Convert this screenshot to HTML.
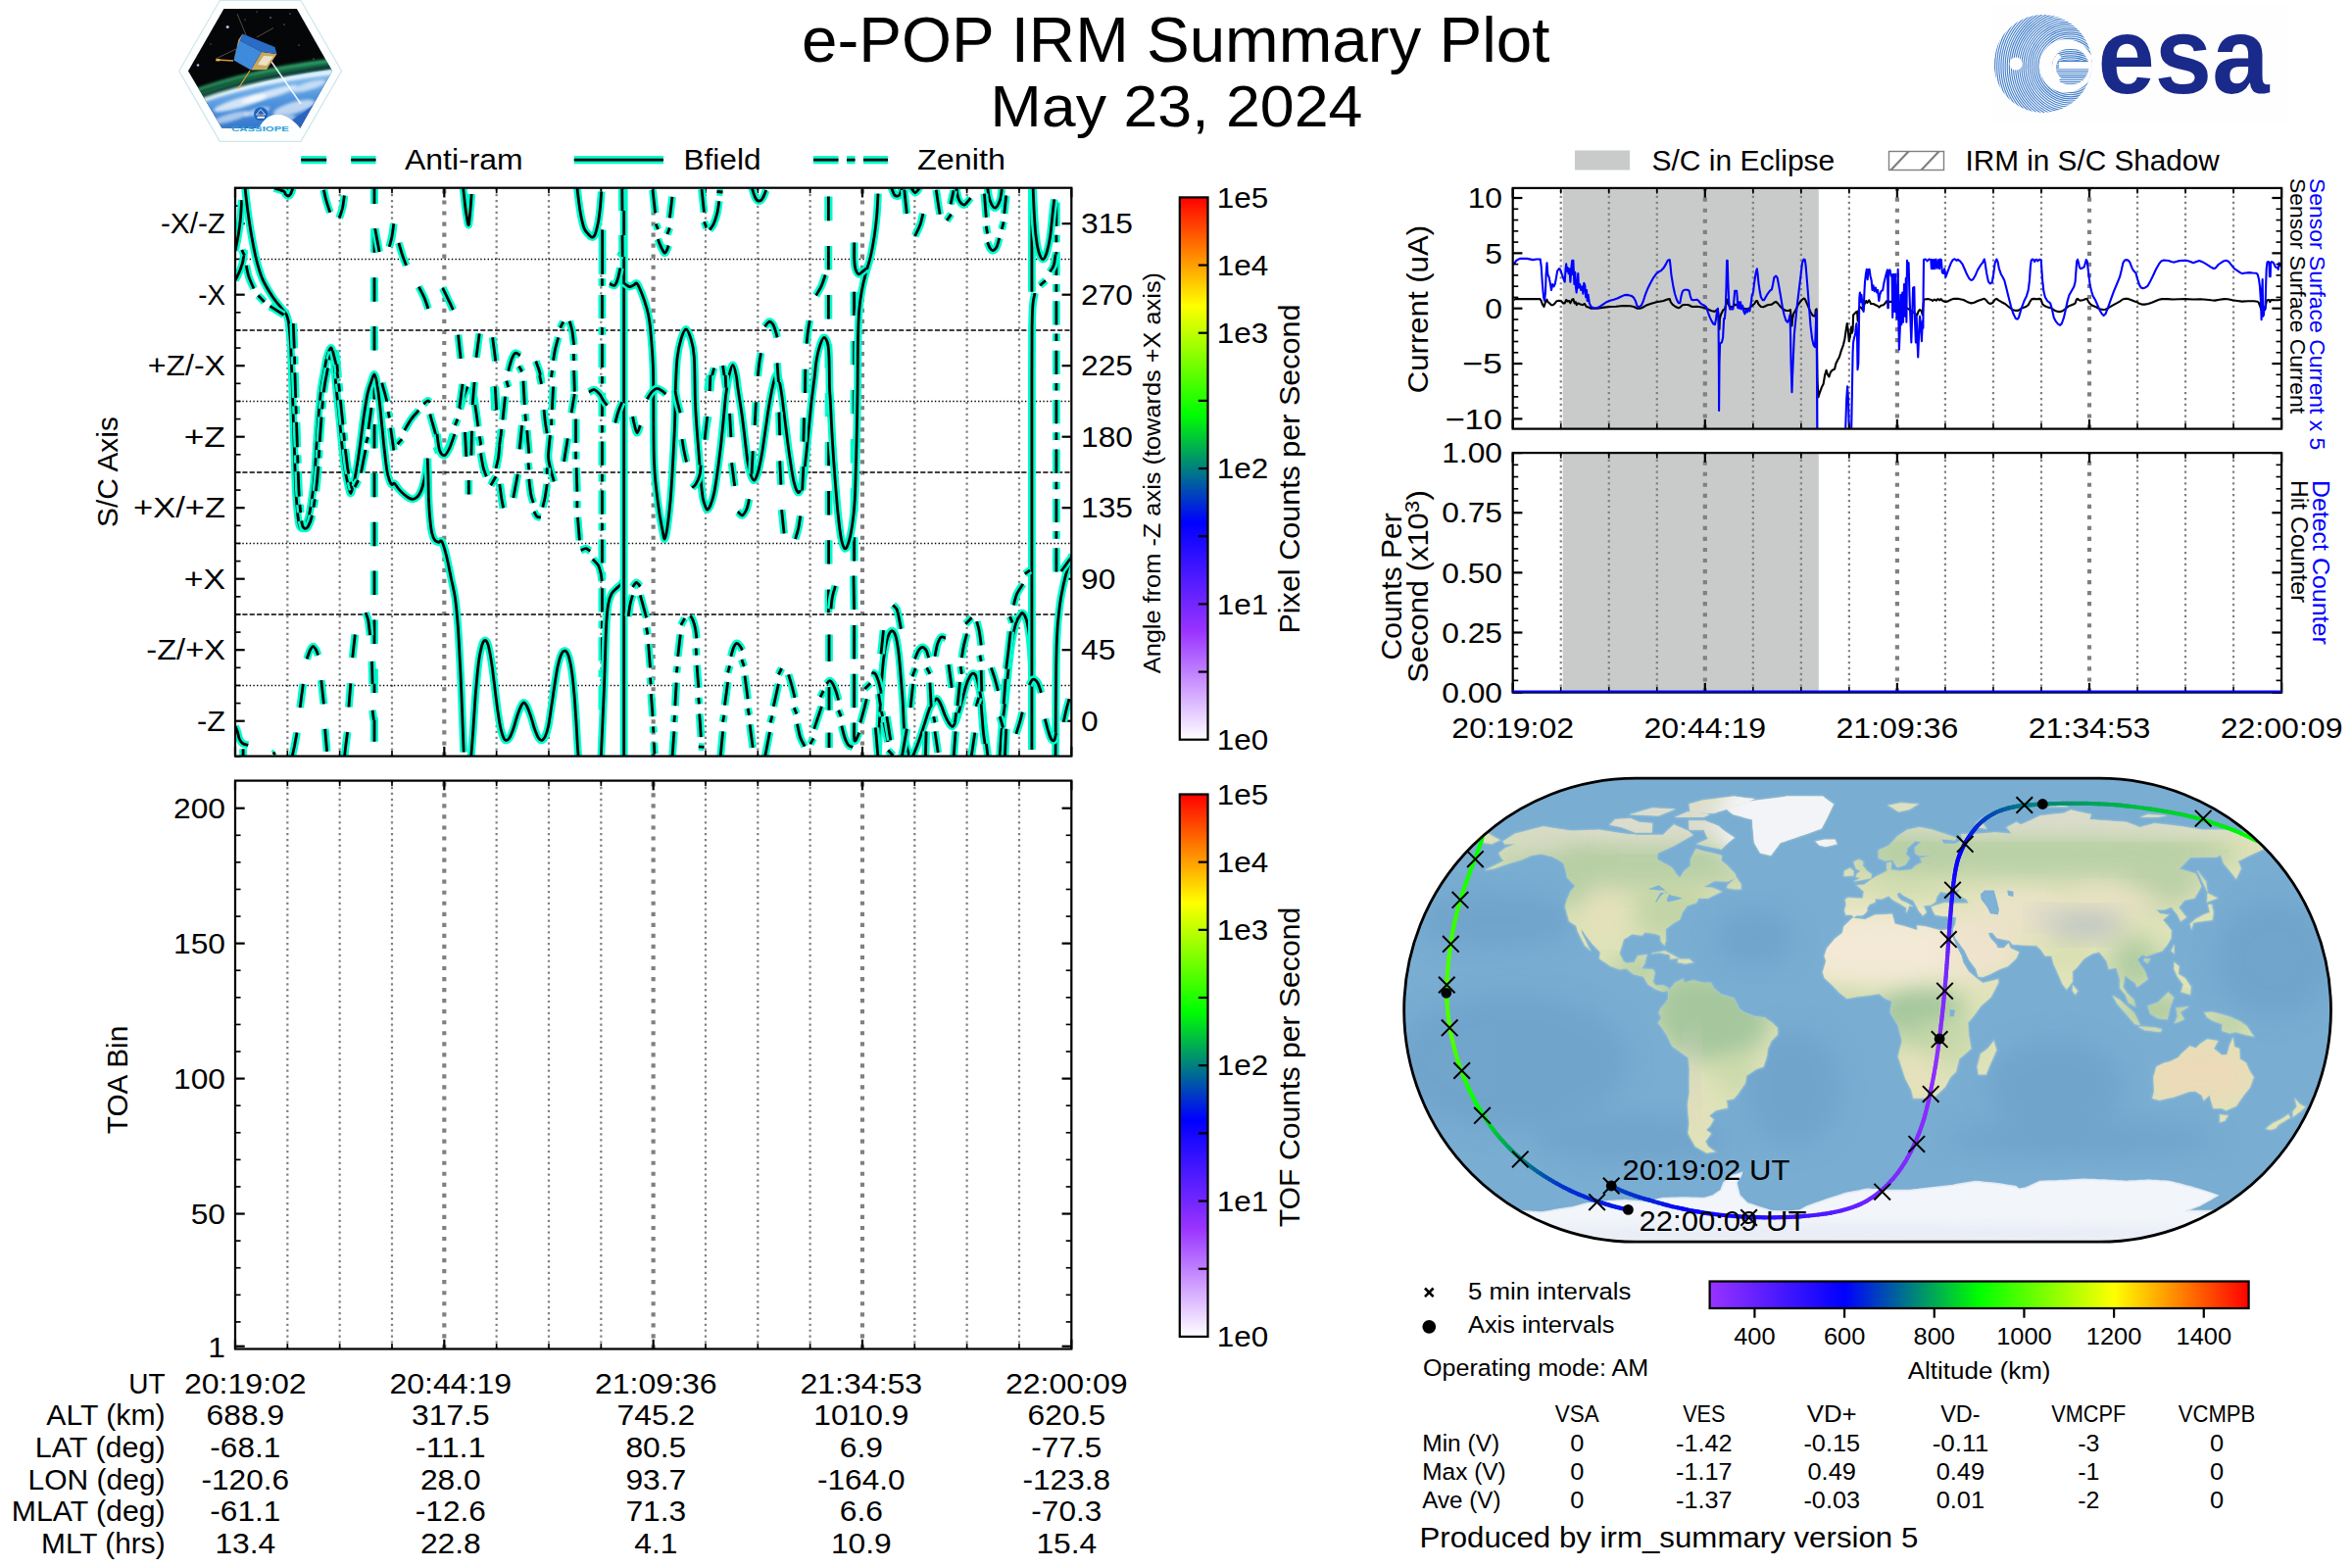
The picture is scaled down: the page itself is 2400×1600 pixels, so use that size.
<!DOCTYPE html>
<html><head><meta charset="utf-8"><title>e-POP IRM Summary Plot</title>
<style>html,body{margin:0;padding:0;background:#fff}svg{display:block}text{font-family:"Liberation Sans",sans-serif;white-space:pre}</style></head>
<body>
<svg width="2400" height="1600" viewBox="0 0 2400 1600">
<rect width="2400" height="1600" fill="#fff"/>
<defs>
<linearGradient id="cbv" x1="0" y1="1" x2="0" y2="0"><stop offset="0" stop-color="#ffffff"/><stop offset="0.2" stop-color="#9933ff"/><stop offset="0.4" stop-color="#0000ff"/><stop offset="0.6" stop-color="#00ff00"/><stop offset="0.8" stop-color="#ffff00"/><stop offset="1.0" stop-color="#ff0000"/></linearGradient>
<linearGradient id="cbh" x1="0" y1="0" x2="1" y2="0"><stop offset="0" stop-color="#9933ff"/><stop offset="0.25" stop-color="#0000ff"/><stop offset="0.5" stop-color="#00ff00"/><stop offset="0.75" stop-color="#ffff00"/><stop offset="1.0" stop-color="#ff0000"/></linearGradient>
</defs>
<text transform="translate(1199.70,62.50)" x="-381.72" y="0" font-size="64.78" textLength="763.43" lengthAdjust="spacingAndGlyphs" fill="#000" >e-POP IRM Summary Plot</text>
<text transform="translate(1200.50,128.60)" x="-189.96" y="0" font-size="58.89" textLength="379.91" lengthAdjust="spacingAndGlyphs" fill="#000" >May 23, 2024</text>
<line x1="293.33" y1="771.60" x2="293.33" y2="191.70" stroke="#808080" stroke-width="2.2222222222222223" stroke-dasharray="2.22 3.67" stroke-linecap="butt" />
<line x1="346.66" y1="771.60" x2="346.66" y2="191.70" stroke="#808080" stroke-width="2.2222222222222223" stroke-dasharray="2.22 3.67" stroke-linecap="butt" />
<line x1="399.99" y1="771.60" x2="399.99" y2="191.70" stroke="#808080" stroke-width="2.2222222222222223" stroke-dasharray="2.22 3.67" stroke-linecap="butt" />
<line x1="453.32" y1="771.60" x2="453.32" y2="191.70" stroke="#808080" stroke-width="4.166666666666666" stroke-dasharray="4.17 6.87" stroke-linecap="butt" />
<line x1="506.66" y1="771.60" x2="506.66" y2="191.70" stroke="#808080" stroke-width="2.2222222222222223" stroke-dasharray="2.22 3.67" stroke-linecap="butt" />
<line x1="559.99" y1="771.60" x2="559.99" y2="191.70" stroke="#808080" stroke-width="2.2222222222222223" stroke-dasharray="2.22 3.67" stroke-linecap="butt" />
<line x1="613.32" y1="771.60" x2="613.32" y2="191.70" stroke="#808080" stroke-width="2.2222222222222223" stroke-dasharray="2.22 3.67" stroke-linecap="butt" />
<line x1="666.65" y1="771.60" x2="666.65" y2="191.70" stroke="#808080" stroke-width="4.166666666666666" stroke-dasharray="4.17 6.87" stroke-linecap="butt" />
<line x1="719.98" y1="771.60" x2="719.98" y2="191.70" stroke="#808080" stroke-width="2.2222222222222223" stroke-dasharray="2.22 3.67" stroke-linecap="butt" />
<line x1="773.31" y1="771.60" x2="773.31" y2="191.70" stroke="#808080" stroke-width="2.2222222222222223" stroke-dasharray="2.22 3.67" stroke-linecap="butt" />
<line x1="826.64" y1="771.60" x2="826.64" y2="191.70" stroke="#808080" stroke-width="2.2222222222222223" stroke-dasharray="2.22 3.67" stroke-linecap="butt" />
<line x1="879.97" y1="771.60" x2="879.97" y2="191.70" stroke="#808080" stroke-width="4.166666666666666" stroke-dasharray="4.17 6.87" stroke-linecap="butt" />
<line x1="933.31" y1="771.60" x2="933.31" y2="191.70" stroke="#808080" stroke-width="2.2222222222222223" stroke-dasharray="2.22 3.67" stroke-linecap="butt" />
<line x1="986.64" y1="771.60" x2="986.64" y2="191.70" stroke="#808080" stroke-width="2.2222222222222223" stroke-dasharray="2.22 3.67" stroke-linecap="butt" />
<line x1="1039.97" y1="771.60" x2="1039.97" y2="191.70" stroke="#808080" stroke-width="2.2222222222222223" stroke-dasharray="2.22 3.67" stroke-linecap="butt" />
<line x1="240.00" y1="264.45" x2="1093.30" y2="264.45" stroke="#000" stroke-width="1.3888888888888888" stroke-dasharray="1.39 2.29" stroke-linecap="butt" />
<line x1="240.00" y1="409.45" x2="1093.30" y2="409.45" stroke="#000" stroke-width="1.3888888888888888" stroke-dasharray="1.39 2.29" stroke-linecap="butt" />
<line x1="240.00" y1="554.45" x2="1093.30" y2="554.45" stroke="#000" stroke-width="1.3888888888888888" stroke-dasharray="1.39 2.29" stroke-linecap="butt" />
<line x1="240.00" y1="699.45" x2="1093.30" y2="699.45" stroke="#000" stroke-width="1.3888888888888888" stroke-dasharray="1.39 2.29" stroke-linecap="butt" />
<line x1="240.00" y1="336.95" x2="1093.30" y2="336.95" stroke="#000" stroke-width="1.3888888888888888" stroke-dasharray="5.14 2.22" stroke-linecap="butt" />
<line x1="240.00" y1="481.95" x2="1093.30" y2="481.95" stroke="#000" stroke-width="1.3888888888888888" stroke-dasharray="5.14 2.22" stroke-linecap="butt" />
<line x1="240.00" y1="626.95" x2="1093.30" y2="626.95" stroke="#000" stroke-width="1.3888888888888888" stroke-dasharray="5.14 2.22" stroke-linecap="butt" />
<line x1="240.00" y1="771.60" x2="240.00" y2="761.88" stroke="#000" stroke-width="2.2222222222222223" stroke-linecap="butt" />
<line x1="240.00" y1="191.70" x2="240.00" y2="201.42" stroke="#000" stroke-width="2.2222222222222223" stroke-linecap="butt" />
<line x1="293.33" y1="771.60" x2="293.33" y2="766.04" stroke="#000" stroke-width="1.6666666666666665" stroke-linecap="butt" />
<line x1="293.33" y1="191.70" x2="293.33" y2="197.26" stroke="#000" stroke-width="1.6666666666666665" stroke-linecap="butt" />
<line x1="346.66" y1="771.60" x2="346.66" y2="766.04" stroke="#000" stroke-width="1.6666666666666665" stroke-linecap="butt" />
<line x1="346.66" y1="191.70" x2="346.66" y2="197.26" stroke="#000" stroke-width="1.6666666666666665" stroke-linecap="butt" />
<line x1="399.99" y1="771.60" x2="399.99" y2="766.04" stroke="#000" stroke-width="1.6666666666666665" stroke-linecap="butt" />
<line x1="399.99" y1="191.70" x2="399.99" y2="197.26" stroke="#000" stroke-width="1.6666666666666665" stroke-linecap="butt" />
<line x1="453.32" y1="771.60" x2="453.32" y2="761.88" stroke="#000" stroke-width="2.2222222222222223" stroke-linecap="butt" />
<line x1="453.32" y1="191.70" x2="453.32" y2="201.42" stroke="#000" stroke-width="2.2222222222222223" stroke-linecap="butt" />
<line x1="506.66" y1="771.60" x2="506.66" y2="766.04" stroke="#000" stroke-width="1.6666666666666665" stroke-linecap="butt" />
<line x1="506.66" y1="191.70" x2="506.66" y2="197.26" stroke="#000" stroke-width="1.6666666666666665" stroke-linecap="butt" />
<line x1="559.99" y1="771.60" x2="559.99" y2="766.04" stroke="#000" stroke-width="1.6666666666666665" stroke-linecap="butt" />
<line x1="559.99" y1="191.70" x2="559.99" y2="197.26" stroke="#000" stroke-width="1.6666666666666665" stroke-linecap="butt" />
<line x1="613.32" y1="771.60" x2="613.32" y2="766.04" stroke="#000" stroke-width="1.6666666666666665" stroke-linecap="butt" />
<line x1="613.32" y1="191.70" x2="613.32" y2="197.26" stroke="#000" stroke-width="1.6666666666666665" stroke-linecap="butt" />
<line x1="666.65" y1="771.60" x2="666.65" y2="761.88" stroke="#000" stroke-width="2.2222222222222223" stroke-linecap="butt" />
<line x1="666.65" y1="191.70" x2="666.65" y2="201.42" stroke="#000" stroke-width="2.2222222222222223" stroke-linecap="butt" />
<line x1="719.98" y1="771.60" x2="719.98" y2="766.04" stroke="#000" stroke-width="1.6666666666666665" stroke-linecap="butt" />
<line x1="719.98" y1="191.70" x2="719.98" y2="197.26" stroke="#000" stroke-width="1.6666666666666665" stroke-linecap="butt" />
<line x1="773.31" y1="771.60" x2="773.31" y2="766.04" stroke="#000" stroke-width="1.6666666666666665" stroke-linecap="butt" />
<line x1="773.31" y1="191.70" x2="773.31" y2="197.26" stroke="#000" stroke-width="1.6666666666666665" stroke-linecap="butt" />
<line x1="826.64" y1="771.60" x2="826.64" y2="766.04" stroke="#000" stroke-width="1.6666666666666665" stroke-linecap="butt" />
<line x1="826.64" y1="191.70" x2="826.64" y2="197.26" stroke="#000" stroke-width="1.6666666666666665" stroke-linecap="butt" />
<line x1="879.97" y1="771.60" x2="879.97" y2="761.88" stroke="#000" stroke-width="2.2222222222222223" stroke-linecap="butt" />
<line x1="879.97" y1="191.70" x2="879.97" y2="201.42" stroke="#000" stroke-width="2.2222222222222223" stroke-linecap="butt" />
<line x1="933.31" y1="771.60" x2="933.31" y2="766.04" stroke="#000" stroke-width="1.6666666666666665" stroke-linecap="butt" />
<line x1="933.31" y1="191.70" x2="933.31" y2="197.26" stroke="#000" stroke-width="1.6666666666666665" stroke-linecap="butt" />
<line x1="986.64" y1="771.60" x2="986.64" y2="766.04" stroke="#000" stroke-width="1.6666666666666665" stroke-linecap="butt" />
<line x1="986.64" y1="191.70" x2="986.64" y2="197.26" stroke="#000" stroke-width="1.6666666666666665" stroke-linecap="butt" />
<line x1="1039.97" y1="771.60" x2="1039.97" y2="766.04" stroke="#000" stroke-width="1.6666666666666665" stroke-linecap="butt" />
<line x1="1039.97" y1="191.70" x2="1039.97" y2="197.26" stroke="#000" stroke-width="1.6666666666666665" stroke-linecap="butt" />
<line x1="1093.30" y1="771.60" x2="1093.30" y2="761.88" stroke="#000" stroke-width="2.2222222222222223" stroke-linecap="butt" />
<line x1="1093.30" y1="191.70" x2="1093.30" y2="201.42" stroke="#000" stroke-width="2.2222222222222223" stroke-linecap="butt" />
<line x1="240.00" y1="735.70" x2="249.72" y2="735.70" stroke="#000" stroke-width="2.2222222222222223" stroke-linecap="butt" />
<line x1="1093.30" y1="735.70" x2="1083.58" y2="735.70" stroke="#000" stroke-width="2.2222222222222223" stroke-linecap="butt" />
<line x1="240.00" y1="663.20" x2="249.72" y2="663.20" stroke="#000" stroke-width="2.2222222222222223" stroke-linecap="butt" />
<line x1="1093.30" y1="663.20" x2="1083.58" y2="663.20" stroke="#000" stroke-width="2.2222222222222223" stroke-linecap="butt" />
<line x1="240.00" y1="590.70" x2="249.72" y2="590.70" stroke="#000" stroke-width="2.2222222222222223" stroke-linecap="butt" />
<line x1="1093.30" y1="590.70" x2="1083.58" y2="590.70" stroke="#000" stroke-width="2.2222222222222223" stroke-linecap="butt" />
<line x1="240.00" y1="518.20" x2="249.72" y2="518.20" stroke="#000" stroke-width="2.2222222222222223" stroke-linecap="butt" />
<line x1="1093.30" y1="518.20" x2="1083.58" y2="518.20" stroke="#000" stroke-width="2.2222222222222223" stroke-linecap="butt" />
<line x1="240.00" y1="445.70" x2="249.72" y2="445.70" stroke="#000" stroke-width="2.2222222222222223" stroke-linecap="butt" />
<line x1="1093.30" y1="445.70" x2="1083.58" y2="445.70" stroke="#000" stroke-width="2.2222222222222223" stroke-linecap="butt" />
<line x1="240.00" y1="373.20" x2="249.72" y2="373.20" stroke="#000" stroke-width="2.2222222222222223" stroke-linecap="butt" />
<line x1="1093.30" y1="373.20" x2="1083.58" y2="373.20" stroke="#000" stroke-width="2.2222222222222223" stroke-linecap="butt" />
<line x1="240.00" y1="300.70" x2="249.72" y2="300.70" stroke="#000" stroke-width="2.2222222222222223" stroke-linecap="butt" />
<line x1="1093.30" y1="300.70" x2="1083.58" y2="300.70" stroke="#000" stroke-width="2.2222222222222223" stroke-linecap="butt" />
<line x1="240.00" y1="228.20" x2="249.72" y2="228.20" stroke="#000" stroke-width="2.2222222222222223" stroke-linecap="butt" />
<line x1="1093.30" y1="228.20" x2="1083.58" y2="228.20" stroke="#000" stroke-width="2.2222222222222223" stroke-linecap="butt" />
<line x1="240.00" y1="771.95" x2="245.56" y2="771.95" stroke="#000" stroke-width="1.6666666666666665" stroke-linecap="butt" />
<line x1="240.00" y1="753.82" x2="245.56" y2="753.82" stroke="#000" stroke-width="1.6666666666666665" stroke-linecap="butt" />
<line x1="240.00" y1="717.58" x2="245.56" y2="717.58" stroke="#000" stroke-width="1.6666666666666665" stroke-linecap="butt" />
<line x1="240.00" y1="699.45" x2="245.56" y2="699.45" stroke="#000" stroke-width="1.6666666666666665" stroke-linecap="butt" />
<line x1="240.00" y1="681.33" x2="245.56" y2="681.33" stroke="#000" stroke-width="1.6666666666666665" stroke-linecap="butt" />
<line x1="240.00" y1="645.08" x2="245.56" y2="645.08" stroke="#000" stroke-width="1.6666666666666665" stroke-linecap="butt" />
<line x1="240.00" y1="626.95" x2="245.56" y2="626.95" stroke="#000" stroke-width="1.6666666666666665" stroke-linecap="butt" />
<line x1="240.00" y1="608.83" x2="245.56" y2="608.83" stroke="#000" stroke-width="1.6666666666666665" stroke-linecap="butt" />
<line x1="240.00" y1="572.58" x2="245.56" y2="572.58" stroke="#000" stroke-width="1.6666666666666665" stroke-linecap="butt" />
<line x1="240.00" y1="554.45" x2="245.56" y2="554.45" stroke="#000" stroke-width="1.6666666666666665" stroke-linecap="butt" />
<line x1="240.00" y1="536.33" x2="245.56" y2="536.33" stroke="#000" stroke-width="1.6666666666666665" stroke-linecap="butt" />
<line x1="240.00" y1="500.08" x2="245.56" y2="500.08" stroke="#000" stroke-width="1.6666666666666665" stroke-linecap="butt" />
<line x1="240.00" y1="481.95" x2="245.56" y2="481.95" stroke="#000" stroke-width="1.6666666666666665" stroke-linecap="butt" />
<line x1="240.00" y1="463.83" x2="245.56" y2="463.83" stroke="#000" stroke-width="1.6666666666666665" stroke-linecap="butt" />
<line x1="240.00" y1="427.58" x2="245.56" y2="427.58" stroke="#000" stroke-width="1.6666666666666665" stroke-linecap="butt" />
<line x1="240.00" y1="409.45" x2="245.56" y2="409.45" stroke="#000" stroke-width="1.6666666666666665" stroke-linecap="butt" />
<line x1="240.00" y1="391.33" x2="245.56" y2="391.33" stroke="#000" stroke-width="1.6666666666666665" stroke-linecap="butt" />
<line x1="240.00" y1="355.08" x2="245.56" y2="355.08" stroke="#000" stroke-width="1.6666666666666665" stroke-linecap="butt" />
<line x1="240.00" y1="336.95" x2="245.56" y2="336.95" stroke="#000" stroke-width="1.6666666666666665" stroke-linecap="butt" />
<line x1="240.00" y1="318.83" x2="245.56" y2="318.83" stroke="#000" stroke-width="1.6666666666666665" stroke-linecap="butt" />
<line x1="240.00" y1="282.58" x2="245.56" y2="282.58" stroke="#000" stroke-width="1.6666666666666665" stroke-linecap="butt" />
<line x1="240.00" y1="264.45" x2="245.56" y2="264.45" stroke="#000" stroke-width="1.6666666666666665" stroke-linecap="butt" />
<line x1="240.00" y1="246.33" x2="245.56" y2="246.33" stroke="#000" stroke-width="1.6666666666666665" stroke-linecap="butt" />
<line x1="240.00" y1="210.08" x2="245.56" y2="210.08" stroke="#000" stroke-width="1.6666666666666665" stroke-linecap="butt" />
<line x1="240.00" y1="191.95" x2="245.56" y2="191.95" stroke="#000" stroke-width="1.6666666666666665" stroke-linecap="butt" />
<clipPath id="ax1clip"><rect x="240.0" y="191.7" width="853.3" height="579.9000000000001"/></clipPath>
<g clip-path="url(#ax1clip)" fill="none" stroke-linejoin="round">
<path d="M382.0,191.0 L382.0,207.9 M382.0,233.3 L382.0,257.8 M382.0,283.2 L382.0,307.7 M382.0,333.1 L382.0,357.6 M382.0,383.0 L382.0,407.5 M382.0,432.9 L382.0,457.4 M382.0,482.8 L382.0,507.3 M382.0,532.7 L382.0,557.2 M382.0,582.6 L382.0,607.1 M382.0,632.5 L382.0,657.0 M382.0,682.4 L382.0,706.9 M382.0,732.3 L382.0,756.8" stroke="#00fccd" stroke-width="7.8" stroke-linecap="butt"/>
<path d="M382.0,191.0 L382.0,207.9 M382.0,233.3 L382.0,257.8 M382.0,283.2 L382.0,307.7 M382.0,333.1 L382.0,357.6 M382.0,383.0 L382.0,407.5 M382.0,432.9 L382.0,457.4 M382.0,482.8 L382.0,507.3 M382.0,532.7 L382.0,557.2 M382.0,582.6 L382.0,607.1 M382.0,632.5 L382.0,657.0 M382.0,682.4 L382.0,706.9 M382.0,732.3 L382.0,756.8" stroke="#000" stroke-width="2.8" stroke-linecap="butt"/>
<path d="M845.4,200.9 L845.4,225.2 M845.4,251.0 L845.4,275.3 M845.4,301.1 L845.4,325.4 M845.4,351.2 L845.4,375.5" stroke="#00fccd" stroke-width="7.8" stroke-linecap="butt"/>
<path d="M845.4,200.9 L845.4,225.2 M845.4,251.0 L845.4,275.3 M845.4,301.1 L845.4,325.4 M845.4,351.2 L845.4,375.5" stroke="#000" stroke-width="2.8" stroke-linecap="butt"/>
<path d="M845.6,400.9 L845.6,425.2 M845.6,451.0 L845.6,475.3 M845.6,501.1 L845.6,525.4 M845.6,551.2 L845.6,575.5" stroke="#00fccd" stroke-width="7.8" stroke-linecap="butt"/>
<path d="M845.6,400.9 L845.6,425.2 M845.6,451.0 L845.6,475.3 M845.6,501.1 L845.6,525.4 M845.6,551.2 L845.6,575.5" stroke="#000" stroke-width="2.8" stroke-linecap="butt"/>
<path d="M871.6,297.8 L871.6,322.1 M871.6,347.9 L871.6,372.2 M871.6,398.0 L871.6,422.3 M871.6,448.1 L871.6,472.4 M871.6,498.2 L871.6,522.5 M871.6,548.3 L871.6,572.6" stroke="#00fccd" stroke-width="7.8" stroke-linecap="butt"/>
<path d="M871.6,297.8 L871.6,322.1 M871.6,347.9 L871.6,372.2 M871.6,398.0 L871.6,422.3 M871.6,448.1 L871.6,472.4 M871.6,498.2 L871.6,522.5 M871.6,548.3 L871.6,572.6" stroke="#000" stroke-width="2.8" stroke-linecap="butt"/>
<path d="M614.4,284.2 L614.4,291.8 M614.4,300.9 L614.4,325.1 M614.4,334.1 L614.4,341.7 M614.4,350.8 L614.4,375.0 M614.4,384.0 L614.4,391.6 M614.4,400.7 L614.4,424.9 M614.4,433.9 L614.4,441.5 M614.4,450.6 L614.4,474.8 M614.4,483.8 L614.4,491.4 M614.4,500.5 L614.4,524.7 M614.4,533.7 L614.4,541.3 M614.4,550.4 L614.4,574.6 M614.4,583.6 L614.4,591.2 M614.4,600.3 L614.4,624.5 M614.4,633.5 L614.4,641.1 M614.4,650.2 L614.4,674.4 M614.4,683.4 L614.4,691.0 M614.4,700.1 L614.4,724.3" stroke="#00fccd" stroke-width="7.8" stroke-linecap="butt"/>
<path d="M614.4,284.2 L614.4,291.8 M614.4,300.9 L614.4,325.1 M614.4,334.1 L614.4,341.7 M614.4,350.8 L614.4,375.0 M614.4,384.0 L614.4,391.6 M614.4,400.7 L614.4,424.9 M614.4,433.9 L614.4,441.5 M614.4,450.6 L614.4,474.8 M614.4,483.8 L614.4,491.4 M614.4,500.5 L614.4,524.7 M614.4,533.7 L614.4,541.3 M614.4,550.4 L614.4,574.6 M614.4,583.6 L614.4,591.2 M614.4,600.3 L614.4,624.5 M614.4,633.5 L614.4,641.1 M614.4,650.2 L614.4,674.4 M614.4,683.4 L614.4,691.0 M614.4,700.1 L614.4,724.3" stroke="#000" stroke-width="2.8" stroke-linecap="butt"/>
<path d="M1077.9,206.5 L1077.9,230.7 M1077.9,239.7 L1077.9,247.3 M1077.9,256.9 L1077.9,281.1 M1077.9,290.1 L1077.9,297.7 M1077.9,307.3 L1077.9,331.5 M1077.9,340.5 L1077.9,348.1 M1077.9,357.7 L1077.9,381.9 M1077.9,390.9 L1077.9,398.5 M1077.9,408.1 L1077.9,432.3 M1077.9,441.3 L1077.9,448.9 M1077.9,458.5 L1077.9,482.7 M1077.9,491.7 L1077.9,499.3 M1077.9,508.9 L1077.9,533.1 M1077.9,542.1 L1077.9,549.7 M1077.9,559.3 L1077.9,583.5" stroke="#00fccd" stroke-width="7.8" stroke-linecap="butt"/>
<path d="M1077.9,206.5 L1077.9,230.7 M1077.9,239.7 L1077.9,247.3 M1077.9,256.9 L1077.9,281.1 M1077.9,290.1 L1077.9,297.7 M1077.9,307.3 L1077.9,331.5 M1077.9,340.5 L1077.9,348.1 M1077.9,357.7 L1077.9,381.9 M1077.9,390.9 L1077.9,398.5 M1077.9,408.1 L1077.9,432.3 M1077.9,441.3 L1077.9,448.9 M1077.9,458.5 L1077.9,482.7 M1077.9,491.7 L1077.9,499.3 M1077.9,508.9 L1077.9,533.1 M1077.9,542.1 L1077.9,549.7 M1077.9,559.3 L1077.9,583.5" stroke="#000" stroke-width="2.8" stroke-linecap="butt"/>
<path d="M240.0,286.0 C240.7,284.7 242.8,280.7 244.0,278.0 C245.2,275.3 246.2,272.7 247.0,270.0 C247.8,267.3 248.3,264.5 248.6,262.0 C248.9,259.5 248.9,256.2 249.0,255.0" stroke="#00fccd" stroke-width="7.8" stroke-linecap="butt"/>
<path d="M240.0,286.0 C240.7,284.7 242.8,280.7 244.0,278.0 C245.2,275.3 246.2,272.7 247.0,270.0 C247.8,267.3 248.3,264.5 248.6,262.0 C248.9,259.5 248.9,256.2 249.0,255.0" stroke="#000" stroke-width="2.8" stroke-linecap="butt"/>
<path d="M240.0,256.0 C240.6,253.0 242.6,243.7 243.5,238.0 C244.4,232.3 245.0,227.7 245.5,222.0 C246.0,216.3 246.5,207.0 246.7,204.0" stroke="#00fccd" stroke-width="7.8" stroke-linecap="butt"/>
<path d="M240.0,256.0 C240.6,253.0 242.6,243.7 243.5,238.0 C244.4,232.3 245.0,227.7 245.5,222.0 C246.0,216.3 246.5,207.0 246.7,204.0" stroke="#000" stroke-width="2.8" stroke-linecap="butt"/>
<path d="M250.0,191.0 C250.4,194.8 251.5,205.5 252.6,213.5 C253.7,221.5 254.9,230.5 256.4,239.0 C257.9,247.5 259.6,256.9 261.5,264.5 C263.4,272.1 265.1,278.5 267.9,284.9 C270.7,291.3 274.9,297.9 278.1,302.8 C281.3,307.7 284.7,311.3 287.0,314.3 C289.3,317.3 290.9,318.4 292.1,320.7 C293.3,323.0 293.8,325.6 294.4,328.3 C294.9,331.1 295.0,332.9 295.4,337.2 C295.8,341.4 296.3,346.2 296.7,353.8 C297.1,361.4 297.5,371.8 297.9,383.0 C298.3,394.2 298.7,408.6 299.1,421.3 C299.5,434.1 300.0,446.8 300.4,459.5 C300.8,472.2 301.2,487.2 301.7,497.8 C302.2,508.4 303.0,516.9 303.6,523.3 C304.2,529.7 304.8,533.4 305.5,536.1 C306.2,538.8 307.1,539.1 308.1,539.3 C309.1,539.5 310.1,539.3 311.3,537.3 C312.5,535.3 313.8,532.6 315.1,527.1 C316.4,521.6 317.8,512.3 318.9,504.2 C320.0,496.1 320.8,488.3 321.5,478.7 C322.2,469.1 322.8,456.4 323.4,446.8 C324.0,437.2 324.6,429.8 325.3,421.3 C326.0,412.8 326.9,403.0 327.8,395.8 C328.8,388.6 330.0,383.5 331.0,378.0 C332.0,372.5 332.8,366.8 334.0,363.0 C335.2,359.2 336.9,354.5 338.0,355.0 C339.1,355.5 339.9,361.3 340.5,366.0 C341.1,370.7 341.2,375.9 341.9,383.0 C342.5,390.1 343.5,400.0 344.4,408.5 C345.2,417.0 346.1,425.5 347.0,434.0 C347.9,442.5 348.6,451.9 349.5,459.5 C350.4,467.1 351.1,473.9 352.1,479.9 C353.1,485.8 354.4,491.3 355.3,495.2 C356.2,499.1 357.0,503.5 357.8,503.5 C358.6,503.5 359.4,499.1 360.4,495.2 C361.4,491.3 362.4,486.7 363.6,479.9 C364.8,473.1 366.1,463.5 367.4,454.4 C368.7,445.3 369.9,433.8 371.2,425.1 C372.5,416.4 373.7,408.1 375.0,402.1 C376.3,396.2 377.7,392.8 378.9,389.4 C380.1,386.0 381.1,381.8 382.0,382.0 C382.9,382.2 383.8,386.3 384.6,390.7 C385.5,395.1 386.2,401.3 387.1,408.5 C388.0,415.7 388.8,425.5 389.7,434.0 C390.6,442.5 391.4,451.9 392.3,459.5 C393.2,467.1 394.0,474.8 394.8,479.9 C395.6,485.0 396.5,487.7 397.4,490.1 C398.2,492.6 399.0,494.1 399.9,494.6 C400.8,495.1 401.3,492.6 402.5,493.3 C403.7,494.1 405.3,497.3 406.9,499.1 C408.5,500.9 410.3,502.7 412.0,504.2 C413.7,505.7 415.5,507.1 417.1,508.0 C418.7,508.9 420.1,509.5 421.6,509.3 C423.1,509.1 424.7,508.2 426.1,506.7 C427.5,505.2 428.7,503.3 429.9,500.3 C431.1,497.3 432.2,492.7 433.1,488.9 C434.0,485.1 434.5,480.9 435.0,477.4 C435.5,473.9 436.1,469.4 436.3,467.8" stroke="#00fccd" stroke-width="7.8" stroke-linecap="butt"/>
<path d="M250.0,191.0 C250.4,194.8 251.5,205.5 252.6,213.5 C253.7,221.5 254.9,230.5 256.4,239.0 C257.9,247.5 259.6,256.9 261.5,264.5 C263.4,272.1 265.1,278.5 267.9,284.9 C270.7,291.3 274.9,297.9 278.1,302.8 C281.3,307.7 284.7,311.3 287.0,314.3 C289.3,317.3 290.9,318.4 292.1,320.7 C293.3,323.0 293.8,325.6 294.4,328.3 C294.9,331.1 295.0,332.9 295.4,337.2 C295.8,341.4 296.3,346.2 296.7,353.8 C297.1,361.4 297.5,371.8 297.9,383.0 C298.3,394.2 298.7,408.6 299.1,421.3 C299.5,434.1 300.0,446.8 300.4,459.5 C300.8,472.2 301.2,487.2 301.7,497.8 C302.2,508.4 303.0,516.9 303.6,523.3 C304.2,529.7 304.8,533.4 305.5,536.1 C306.2,538.8 307.1,539.1 308.1,539.3 C309.1,539.5 310.1,539.3 311.3,537.3 C312.5,535.3 313.8,532.6 315.1,527.1 C316.4,521.6 317.8,512.3 318.9,504.2 C320.0,496.1 320.8,488.3 321.5,478.7 C322.2,469.1 322.8,456.4 323.4,446.8 C324.0,437.2 324.6,429.8 325.3,421.3 C326.0,412.8 326.9,403.0 327.8,395.8 C328.8,388.6 330.0,383.5 331.0,378.0 C332.0,372.5 332.8,366.8 334.0,363.0 C335.2,359.2 336.9,354.5 338.0,355.0 C339.1,355.5 339.9,361.3 340.5,366.0 C341.1,370.7 341.2,375.9 341.9,383.0 C342.5,390.1 343.5,400.0 344.4,408.5 C345.2,417.0 346.1,425.5 347.0,434.0 C347.9,442.5 348.6,451.9 349.5,459.5 C350.4,467.1 351.1,473.9 352.1,479.9 C353.1,485.8 354.4,491.3 355.3,495.2 C356.2,499.1 357.0,503.5 357.8,503.5 C358.6,503.5 359.4,499.1 360.4,495.2 C361.4,491.3 362.4,486.7 363.6,479.9 C364.8,473.1 366.1,463.5 367.4,454.4 C368.7,445.3 369.9,433.8 371.2,425.1 C372.5,416.4 373.7,408.1 375.0,402.1 C376.3,396.2 377.7,392.8 378.9,389.4 C380.1,386.0 381.1,381.8 382.0,382.0 C382.9,382.2 383.8,386.3 384.6,390.7 C385.5,395.1 386.2,401.3 387.1,408.5 C388.0,415.7 388.8,425.5 389.7,434.0 C390.6,442.5 391.4,451.9 392.3,459.5 C393.2,467.1 394.0,474.8 394.8,479.9 C395.6,485.0 396.5,487.7 397.4,490.1 C398.2,492.6 399.0,494.1 399.9,494.6 C400.8,495.1 401.3,492.6 402.5,493.3 C403.7,494.1 405.3,497.3 406.9,499.1 C408.5,500.9 410.3,502.7 412.0,504.2 C413.7,505.7 415.5,507.1 417.1,508.0 C418.7,508.9 420.1,509.5 421.6,509.3 C423.1,509.1 424.7,508.2 426.1,506.7 C427.5,505.2 428.7,503.3 429.9,500.3 C431.1,497.3 432.2,492.7 433.1,488.9 C434.0,485.1 434.5,480.9 435.0,477.4 C435.5,473.9 436.1,469.4 436.3,467.8" stroke="#000" stroke-width="2.8" stroke-linecap="butt"/>
<path d="M436.3,467.8 C436.4,470.7 436.7,477.9 436.9,485.0 C437.1,492.1 437.2,503.2 437.5,510.6 C437.8,518.1 438.3,524.2 438.8,529.7 C439.3,535.2 439.9,540.1 440.7,543.7 C441.5,547.3 442.7,549.8 443.9,551.4 C445.1,553.0 446.5,553.1 447.7,553.3 C448.9,553.5 449.6,550.4 450.9,552.6 C452.2,554.8 453.8,560.3 455.4,566.7 C457.0,573.1 459.0,583.6 460.5,590.8 C462.0,598.0 463.3,602.5 464.4,609.9 C465.5,617.3 466.2,625.8 467.0,635.4 C467.8,645.0 468.3,655.6 468.9,667.3 C469.5,679.0 470.3,693.9 470.8,705.6 C471.3,717.3 471.6,727.1 472.0,737.4 C472.4,747.7 473.0,762.5 473.2,767.5" stroke="#00fccd" stroke-width="7.8" stroke-linecap="butt"/>
<path d="M436.3,467.8 C436.4,470.7 436.7,477.9 436.9,485.0 C437.1,492.1 437.2,503.2 437.5,510.6 C437.8,518.1 438.3,524.2 438.8,529.7 C439.3,535.2 439.9,540.1 440.7,543.7 C441.5,547.3 442.7,549.8 443.9,551.4 C445.1,553.0 446.5,553.1 447.7,553.3 C448.9,553.5 449.6,550.4 450.9,552.6 C452.2,554.8 453.8,560.3 455.4,566.7 C457.0,573.1 459.0,583.6 460.5,590.8 C462.0,598.0 463.3,602.5 464.4,609.9 C465.5,617.3 466.2,625.8 467.0,635.4 C467.8,645.0 468.3,655.6 468.9,667.3 C469.5,679.0 470.3,693.9 470.8,705.6 C471.3,717.3 471.6,727.1 472.0,737.4 C472.4,747.7 473.0,762.5 473.2,767.5" stroke="#000" stroke-width="2.8" stroke-linecap="butt"/>
<path d="M480.7,773.0 C481.1,768.1 482.1,755.0 482.9,743.8 C483.7,732.6 484.5,717.3 485.5,705.6 C486.5,693.9 487.6,681.6 488.7,673.7 C489.8,665.8 490.8,661.8 491.8,658.4 C492.9,655.0 493.9,653.5 495.0,653.5 C496.1,653.5 497.1,654.8 498.2,658.4 C499.3,662.0 500.3,668.1 501.4,674.9 C502.5,681.7 503.5,690.9 504.6,699.2 C505.7,707.5 506.7,717.3 507.8,724.7 C508.9,732.1 509.9,739.0 511.0,743.8 C512.1,748.6 513.2,751.7 514.2,753.6 C515.2,755.5 515.8,755.5 516.8,755.4 C517.8,755.2 518.8,754.6 520.0,752.7 C521.2,750.8 522.5,747.4 523.8,743.8 C525.1,740.2 526.3,734.9 527.6,731.1 C528.9,727.3 530.3,723.2 531.5,720.9 C532.7,718.5 533.6,717.0 534.6,717.0 C535.6,717.0 536.6,718.5 537.8,720.9 C539.0,723.2 540.4,727.3 541.7,731.1 C543.0,734.9 544.2,740.2 545.5,743.8 C546.8,747.4 548.1,750.8 549.3,752.7 C550.5,754.6 551.7,755.5 552.9,755.3 C554.1,755.1 555.2,753.8 556.3,751.5 C557.4,749.2 558.4,746.4 559.5,741.3 C560.6,736.2 561.6,727.9 562.7,720.9 C563.8,713.9 564.8,706.0 565.9,699.2 C567.0,692.4 567.9,685.3 569.1,680.0 C570.3,674.7 571.6,669.9 572.9,667.3 C574.2,664.6 575.5,663.9 576.7,664.1 C577.9,664.3 578.8,665.5 579.9,668.6 C581.0,671.7 582.1,676.4 583.1,682.6 C584.1,688.8 585.0,697.5 585.7,705.6 C586.5,713.7 587.0,722.6 587.6,731.1 C588.2,739.6 588.7,749.6 589.1,756.6 C589.5,763.6 590.0,770.3 590.2,773.0" stroke="#00fccd" stroke-width="7.8" stroke-linecap="butt"/>
<path d="M480.7,773.0 C481.1,768.1 482.1,755.0 482.9,743.8 C483.7,732.6 484.5,717.3 485.5,705.6 C486.5,693.9 487.6,681.6 488.7,673.7 C489.8,665.8 490.8,661.8 491.8,658.4 C492.9,655.0 493.9,653.5 495.0,653.5 C496.1,653.5 497.1,654.8 498.2,658.4 C499.3,662.0 500.3,668.1 501.4,674.9 C502.5,681.7 503.5,690.9 504.6,699.2 C505.7,707.5 506.7,717.3 507.8,724.7 C508.9,732.1 509.9,739.0 511.0,743.8 C512.1,748.6 513.2,751.7 514.2,753.6 C515.2,755.5 515.8,755.5 516.8,755.4 C517.8,755.2 518.8,754.6 520.0,752.7 C521.2,750.8 522.5,747.4 523.8,743.8 C525.1,740.2 526.3,734.9 527.6,731.1 C528.9,727.3 530.3,723.2 531.5,720.9 C532.7,718.5 533.6,717.0 534.6,717.0 C535.6,717.0 536.6,718.5 537.8,720.9 C539.0,723.2 540.4,727.3 541.7,731.1 C543.0,734.9 544.2,740.2 545.5,743.8 C546.8,747.4 548.1,750.8 549.3,752.7 C550.5,754.6 551.7,755.5 552.9,755.3 C554.1,755.1 555.2,753.8 556.3,751.5 C557.4,749.2 558.4,746.4 559.5,741.3 C560.6,736.2 561.6,727.9 562.7,720.9 C563.8,713.9 564.8,706.0 565.9,699.2 C567.0,692.4 567.9,685.3 569.1,680.0 C570.3,674.7 571.6,669.9 572.9,667.3 C574.2,664.6 575.5,663.9 576.7,664.1 C577.9,664.3 578.8,665.5 579.9,668.6 C581.0,671.7 582.1,676.4 583.1,682.6 C584.1,688.8 585.0,697.5 585.7,705.6 C586.5,713.7 587.0,722.6 587.6,731.1 C588.2,739.6 588.7,749.6 589.1,756.6 C589.5,763.6 590.0,770.3 590.2,773.0" stroke="#000" stroke-width="2.8" stroke-linecap="butt"/>
<path d="M280.0,192.0 C281.6,192.6 287.7,194.3 289.6,195.3 C291.5,196.3 290.5,197.2 291.2,198.0 C291.9,198.8 293.0,200.0 293.9,200.0 C294.8,200.0 295.7,199.3 296.5,198.0 C297.3,196.7 298.4,193.0 298.8,192.0" stroke="#00fccd" stroke-width="7.8" stroke-linecap="butt"/>
<path d="M280.0,192.0 C281.6,192.6 287.7,194.3 289.6,195.3 C291.5,196.3 290.5,197.2 291.2,198.0 C291.9,198.8 293.0,200.0 293.9,200.0 C294.8,200.0 295.7,199.3 296.5,198.0 C297.3,196.7 298.4,193.0 298.8,192.0" stroke="#000" stroke-width="2.8" stroke-linecap="butt"/>
<path d="M472.6,191.0 C472.9,194.0 473.9,203.8 474.5,209.0 C475.1,214.2 475.9,219.1 476.5,222.5 C477.1,225.9 477.7,230.7 478.3,229.2 C478.9,227.7 479.5,218.7 480.0,213.5 C480.5,208.3 481.0,200.6 481.2,198.0" stroke="#00fccd" stroke-width="7.8" stroke-linecap="butt"/>
<path d="M472.6,191.0 C472.9,194.0 473.9,203.8 474.5,209.0 C475.1,214.2 475.9,219.1 476.5,222.5 C477.1,225.9 477.7,230.7 478.3,229.2 C478.9,227.7 479.5,218.7 480.0,213.5 C480.5,208.3 481.0,200.6 481.2,198.0" stroke="#000" stroke-width="2.8" stroke-linecap="butt"/>
<path d="M588.9,191.0 C589.2,193.7 590.1,201.9 590.8,207.1 C591.5,212.3 592.3,217.9 593.3,222.4 C594.2,226.9 595.2,231.0 596.5,233.9 C597.8,236.8 599.7,238.3 601.0,239.7 C602.3,241.1 603.2,242.3 604.2,242.2 C605.2,242.1 606.2,241.7 607.3,239.0 C608.3,236.3 609.6,231.0 610.5,226.3 C611.4,221.6 612.0,216.1 612.5,211.0 C613.0,205.9 613.5,198.1 613.7,195.5" stroke="#00fccd" stroke-width="7.8" stroke-linecap="butt"/>
<path d="M588.9,191.0 C589.2,193.7 590.1,201.9 590.8,207.1 C591.5,212.3 592.3,217.9 593.3,222.4 C594.2,226.9 595.2,231.0 596.5,233.9 C597.8,236.8 599.7,238.3 601.0,239.7 C602.3,241.1 603.2,242.3 604.2,242.2 C605.2,242.1 606.2,241.7 607.3,239.0 C608.3,236.3 609.6,231.0 610.5,226.3 C611.4,221.6 612.0,216.1 612.5,211.0 C613.0,205.9 613.5,198.1 613.7,195.5" stroke="#000" stroke-width="2.8" stroke-linecap="butt"/>
<path d="M613.3,773.0 C613.5,768.1 614.1,755.0 614.6,743.8 C615.1,732.6 615.8,718.4 616.3,705.6 C616.8,692.9 617.2,679.0 617.6,667.3 C618.0,655.6 618.3,643.9 618.8,635.4 C619.3,626.9 619.9,621.2 620.7,616.3 C621.6,611.4 622.6,608.6 623.9,606.1 C625.2,603.6 626.9,602.5 628.4,601.0 C629.9,599.5 631.6,598.4 632.9,597.1 C634.2,595.8 635.7,593.7 636.2,593.0" stroke="#00fccd" stroke-width="7.8" stroke-linecap="butt"/>
<path d="M613.3,773.0 C613.5,768.1 614.1,755.0 614.6,743.8 C615.1,732.6 615.8,718.4 616.3,705.6 C616.8,692.9 617.2,679.0 617.6,667.3 C618.0,655.6 618.3,643.9 618.8,635.4 C619.3,626.9 619.9,621.2 620.7,616.3 C621.6,611.4 622.6,608.6 623.9,606.1 C625.2,603.6 626.9,602.5 628.4,601.0 C629.9,599.5 631.6,598.4 632.9,597.1 C634.2,595.8 635.7,593.7 636.2,593.0" stroke="#000" stroke-width="2.8" stroke-linecap="butt"/>
<path d="M636.7,191.0 L636.7,773.0" stroke="#00fccd" stroke-width="7.8" stroke-linecap="butt"/>
<path d="M636.7,191.0 L636.7,773.0" stroke="#000" stroke-width="2.8" stroke-linecap="butt"/>
<path d="M636.7,288.8 C637.0,289.1 637.7,289.7 638.6,290.3 C639.5,290.9 641.1,292.5 642.4,292.6 C643.7,292.7 645.2,291.5 646.5,291.0 C647.8,290.5 648.6,287.9 650.1,289.4 C651.6,290.9 653.5,295.8 655.2,300.2 C656.9,304.6 659.0,310.9 660.3,315.6 C661.6,320.3 662.1,323.0 662.8,328.3 C663.5,333.6 664.2,341.0 664.7,347.4 C665.2,353.8 665.7,359.8 666.0,366.6 C666.3,373.4 666.5,370.4 666.7,388.0 C667.0,405.6 666.6,450.8 667.5,472.3 C668.4,493.8 670.5,505.6 671.9,516.9 C673.3,528.2 674.7,534.4 675.8,539.9 C676.9,545.4 677.4,550.3 678.3,550.1 C679.1,549.9 679.9,545.2 680.9,538.6 C681.9,532.0 683.1,521.6 684.1,510.6 C685.1,499.6 685.9,485.1 686.6,472.3 C687.3,459.5 688.0,446.8 688.5,434.0 C689.0,421.2 689.0,407.1 689.4,395.8 C689.8,384.5 690.1,374.3 691.0,366.0 C691.9,357.7 693.4,351.2 694.9,346.2 C696.4,341.2 698.3,336.0 700.0,336.0 C701.7,336.0 703.7,341.5 705.1,346.2 C706.5,350.9 707.6,353.6 708.3,364.0 C709.0,374.4 709.0,396.8 709.4,408.5 C709.8,420.2 710.2,425.5 710.8,434.0 C711.4,442.5 712.3,452.7 712.8,459.5 C713.3,466.3 713.6,469.5 714.0,474.8 C714.4,480.1 714.8,485.9 715.3,491.4 C715.8,496.9 716.5,503.8 717.2,508.0 C718.0,512.2 719.0,514.9 719.8,516.9 C720.5,518.9 720.9,520.3 721.7,520.1 C722.6,519.9 723.7,518.5 724.9,515.6 C726.1,512.7 727.4,509.0 728.7,502.9 C730.0,496.8 731.3,487.0 732.5,478.7 C733.7,470.4 734.7,461.7 735.7,453.2 C736.7,444.7 737.4,436.1 738.3,427.6 C739.1,419.1 739.8,409.5 740.8,402.1 C741.8,394.7 742.8,387.9 744.0,383.0 C745.2,378.1 746.6,372.4 747.8,372.4 C749.0,372.4 750.4,379.1 751.2,383.0 C752.1,386.9 752.0,389.4 752.9,395.8 C753.8,402.2 755.6,412.8 756.8,421.3 C758.0,429.8 759.0,438.3 760.0,446.8 C761.0,455.3 762.1,465.9 763.1,472.3 C764.1,478.7 765.2,482.0 766.3,485.0 C767.4,488.0 768.3,490.5 769.5,490.1 C770.7,489.7 772.0,486.8 773.3,482.5 C774.6,478.2 775.9,471.8 777.2,464.6 C778.5,457.4 779.7,447.6 781.0,439.1 C782.3,430.6 783.5,421.2 784.8,413.6 C786.1,406.0 787.5,398.3 788.7,393.2 C789.9,388.1 790.8,383.9 791.8,383.0 C792.8,382.1 794.0,384.9 795.0,388.1 C796.0,391.3 796.6,395.5 797.6,402.1 C798.6,408.7 799.7,419.1 800.8,427.6 C801.9,436.1 803.0,445.3 804.0,453.2 C805.0,461.1 806.1,468.2 807.1,474.8 C808.1,481.4 809.1,488.1 810.3,492.7 C811.5,497.3 813.0,501.4 814.2,502.3 C815.4,503.2 816.4,501.1 817.4,497.8 C818.4,494.5 819.5,488.9 820.5,482.5 C821.5,476.1 822.2,467.6 823.1,459.5 C824.0,451.4 824.8,442.5 825.6,434.0 C826.5,425.5 827.2,417.0 828.2,408.5 C829.2,400.0 830.5,390.0 831.4,383.0 C832.2,376.0 832.3,371.9 833.3,366.6 C834.2,361.3 835.8,355.0 837.1,351.3 C838.4,347.6 839.6,344.3 840.9,344.3 C842.2,344.3 843.9,347.6 844.8,351.3 C845.6,355.0 845.7,359.3 846.0,366.6 C846.3,373.9 846.3,388.0 846.5,395.0 C846.7,402.0 846.8,399.9 847.3,408.5 C847.8,417.1 848.5,434.1 849.2,446.8 C850.0,459.6 850.8,472.2 851.8,485.0 C852.8,497.8 853.9,512.7 855.0,523.3 C856.1,533.9 857.0,542.7 858.2,548.8 C859.4,554.9 860.7,558.9 862.0,559.7 C863.3,560.6 864.5,557.8 865.8,553.9 C867.1,550.0 868.5,543.3 869.6,536.1 C870.7,528.9 871.6,521.2 872.2,510.6 C872.9,500.0 873.1,485.1 873.5,472.3 C873.9,459.5 874.1,446.8 874.4,434.0 C874.7,421.2 874.9,411.3 875.1,395.8 C875.3,380.3 875.3,354.5 875.6,341.1 C875.9,327.7 876.2,323.1 876.8,315.6 C877.4,308.2 878.3,302.4 879.4,296.4 C880.5,290.4 881.7,285.5 883.2,279.8 C884.7,274.1 886.8,268.4 888.3,262.0 C889.8,255.6 891.0,248.6 892.1,241.6 C893.2,234.6 894.1,227.2 894.7,219.9 C895.4,212.6 895.8,201.3 896.0,197.6" stroke="#00fccd" stroke-width="7.8" stroke-linecap="butt"/>
<path d="M636.7,288.8 C637.0,289.1 637.7,289.7 638.6,290.3 C639.5,290.9 641.1,292.5 642.4,292.6 C643.7,292.7 645.2,291.5 646.5,291.0 C647.8,290.5 648.6,287.9 650.1,289.4 C651.6,290.9 653.5,295.8 655.2,300.2 C656.9,304.6 659.0,310.9 660.3,315.6 C661.6,320.3 662.1,323.0 662.8,328.3 C663.5,333.6 664.2,341.0 664.7,347.4 C665.2,353.8 665.7,359.8 666.0,366.6 C666.3,373.4 666.5,370.4 666.7,388.0 C667.0,405.6 666.6,450.8 667.5,472.3 C668.4,493.8 670.5,505.6 671.9,516.9 C673.3,528.2 674.7,534.4 675.8,539.9 C676.9,545.4 677.4,550.3 678.3,550.1 C679.1,549.9 679.9,545.2 680.9,538.6 C681.9,532.0 683.1,521.6 684.1,510.6 C685.1,499.6 685.9,485.1 686.6,472.3 C687.3,459.5 688.0,446.8 688.5,434.0 C689.0,421.2 689.0,407.1 689.4,395.8 C689.8,384.5 690.1,374.3 691.0,366.0 C691.9,357.7 693.4,351.2 694.9,346.2 C696.4,341.2 698.3,336.0 700.0,336.0 C701.7,336.0 703.7,341.5 705.1,346.2 C706.5,350.9 707.6,353.6 708.3,364.0 C709.0,374.4 709.0,396.8 709.4,408.5 C709.8,420.2 710.2,425.5 710.8,434.0 C711.4,442.5 712.3,452.7 712.8,459.5 C713.3,466.3 713.6,469.5 714.0,474.8 C714.4,480.1 714.8,485.9 715.3,491.4 C715.8,496.9 716.5,503.8 717.2,508.0 C718.0,512.2 719.0,514.9 719.8,516.9 C720.5,518.9 720.9,520.3 721.7,520.1 C722.6,519.9 723.7,518.5 724.9,515.6 C726.1,512.7 727.4,509.0 728.7,502.9 C730.0,496.8 731.3,487.0 732.5,478.7 C733.7,470.4 734.7,461.7 735.7,453.2 C736.7,444.7 737.4,436.1 738.3,427.6 C739.1,419.1 739.8,409.5 740.8,402.1 C741.8,394.7 742.8,387.9 744.0,383.0 C745.2,378.1 746.6,372.4 747.8,372.4 C749.0,372.4 750.4,379.1 751.2,383.0 C752.1,386.9 752.0,389.4 752.9,395.8 C753.8,402.2 755.6,412.8 756.8,421.3 C758.0,429.8 759.0,438.3 760.0,446.8 C761.0,455.3 762.1,465.9 763.1,472.3 C764.1,478.7 765.2,482.0 766.3,485.0 C767.4,488.0 768.3,490.5 769.5,490.1 C770.7,489.7 772.0,486.8 773.3,482.5 C774.6,478.2 775.9,471.8 777.2,464.6 C778.5,457.4 779.7,447.6 781.0,439.1 C782.3,430.6 783.5,421.2 784.8,413.6 C786.1,406.0 787.5,398.3 788.7,393.2 C789.9,388.1 790.8,383.9 791.8,383.0 C792.8,382.1 794.0,384.9 795.0,388.1 C796.0,391.3 796.6,395.5 797.6,402.1 C798.6,408.7 799.7,419.1 800.8,427.6 C801.9,436.1 803.0,445.3 804.0,453.2 C805.0,461.1 806.1,468.2 807.1,474.8 C808.1,481.4 809.1,488.1 810.3,492.7 C811.5,497.3 813.0,501.4 814.2,502.3 C815.4,503.2 816.4,501.1 817.4,497.8 C818.4,494.5 819.5,488.9 820.5,482.5 C821.5,476.1 822.2,467.6 823.1,459.5 C824.0,451.4 824.8,442.5 825.6,434.0 C826.5,425.5 827.2,417.0 828.2,408.5 C829.2,400.0 830.5,390.0 831.4,383.0 C832.2,376.0 832.3,371.9 833.3,366.6 C834.2,361.3 835.8,355.0 837.1,351.3 C838.4,347.6 839.6,344.3 840.9,344.3 C842.2,344.3 843.9,347.6 844.8,351.3 C845.6,355.0 845.7,359.3 846.0,366.6 C846.3,373.9 846.3,388.0 846.5,395.0 C846.7,402.0 846.8,399.9 847.3,408.5 C847.8,417.1 848.5,434.1 849.2,446.8 C850.0,459.6 850.8,472.2 851.8,485.0 C852.8,497.8 853.9,512.7 855.0,523.3 C856.1,533.9 857.0,542.7 858.2,548.8 C859.4,554.9 860.7,558.9 862.0,559.7 C863.3,560.6 864.5,557.8 865.8,553.9 C867.1,550.0 868.5,543.3 869.6,536.1 C870.7,528.9 871.6,521.2 872.2,510.6 C872.9,500.0 873.1,485.1 873.5,472.3 C873.9,459.5 874.1,446.8 874.4,434.0 C874.7,421.2 874.9,411.3 875.1,395.8 C875.3,380.3 875.3,354.5 875.6,341.1 C875.9,327.7 876.2,323.1 876.8,315.6 C877.4,308.2 878.3,302.4 879.4,296.4 C880.5,290.4 881.7,285.5 883.2,279.8 C884.7,274.1 886.8,268.4 888.3,262.0 C889.8,255.6 891.0,248.6 892.1,241.6 C893.2,234.6 894.1,227.2 894.7,219.9 C895.4,212.6 895.8,201.3 896.0,197.6" stroke="#000" stroke-width="2.8" stroke-linecap="butt"/>
<path d="M767.0,191.0 C767.6,192.8 769.5,199.6 770.8,202.0 C772.1,204.4 773.3,205.2 774.6,205.2 C775.9,205.2 777.2,203.9 778.4,202.0 C779.6,200.1 781.2,195.3 781.8,194.0" stroke="#00fccd" stroke-width="7.8" stroke-linecap="butt"/>
<path d="M767.0,191.0 C767.6,192.8 769.5,199.6 770.8,202.0 C772.1,204.4 773.3,205.2 774.6,205.2 C775.9,205.2 777.2,203.9 778.4,202.0 C779.6,200.1 781.2,195.3 781.8,194.0" stroke="#000" stroke-width="2.8" stroke-linecap="butt"/>
<path d="M871.7,247.5 C871.7,250.3 871.5,260.0 871.7,264.5 C871.9,269.0 872.2,272.1 873.0,274.7 C873.8,277.2 874.9,279.5 876.2,279.8 C877.5,280.1 879.3,277.7 880.7,276.6 C882.1,275.6 883.9,274.0 884.5,273.5" stroke="#00fccd" stroke-width="7.8" stroke-linecap="butt"/>
<path d="M871.7,247.5 C871.7,250.3 871.5,260.0 871.7,264.5 C871.9,269.0 872.2,272.1 873.0,274.7 C873.8,277.2 874.9,279.5 876.2,279.8 C877.5,280.1 879.3,277.7 880.7,276.6 C882.1,275.6 883.9,274.0 884.5,273.5" stroke="#000" stroke-width="2.8" stroke-linecap="butt"/>
<path d="M909.4,191.0 C909.9,192.3 911.5,197.3 912.6,198.8 C913.7,200.3 914.8,200.2 915.7,200.1 C916.7,200.0 917.4,199.7 918.3,198.2 C919.1,196.7 920.4,192.2 920.8,191.0" stroke="#00fccd" stroke-width="7.8" stroke-linecap="butt"/>
<path d="M909.4,191.0 C909.9,192.3 911.5,197.3 912.6,198.8 C913.7,200.3 914.8,200.2 915.7,200.1 C916.7,200.0 917.4,199.7 918.3,198.2 C919.1,196.7 920.4,192.2 920.8,191.0" stroke="#000" stroke-width="2.8" stroke-linecap="butt"/>
<path d="M929.5,191.0 C930.2,191.9 932.4,196.5 934.0,196.5 C935.6,196.5 938.1,191.9 938.9,191.0" stroke="#00fccd" stroke-width="7.8" stroke-linecap="butt"/>
<path d="M929.5,191.0 C930.2,191.9 932.4,196.5 934.0,196.5 C935.6,196.5 938.1,191.9 938.9,191.0" stroke="#000" stroke-width="2.8" stroke-linecap="butt"/>
<path d="M975.7,191.0 C976.1,193.1 976.9,200.3 978.2,203.3 C979.5,206.3 981.8,208.6 983.3,209.0 C984.8,209.4 986.0,207.1 987.2,205.9 C988.4,204.7 989.9,202.7 990.4,202.0" stroke="#00fccd" stroke-width="7.8" stroke-linecap="butt"/>
<path d="M975.7,191.0 C976.1,193.1 976.9,200.3 978.2,203.3 C979.5,206.3 981.8,208.6 983.3,209.0 C984.8,209.4 986.0,207.1 987.2,205.9 C988.4,204.7 989.9,202.7 990.4,202.0" stroke="#000" stroke-width="2.8" stroke-linecap="butt"/>
<path d="M1007.6,191.0 C1008.0,193.3 1008.8,201.1 1010.1,204.6 C1011.4,208.1 1013.5,212.2 1015.2,212.2 C1016.9,212.2 1019.1,207.8 1020.3,204.6 C1021.5,201.4 1022.0,194.9 1022.3,193.0" stroke="#00fccd" stroke-width="7.8" stroke-linecap="butt"/>
<path d="M1007.6,191.0 C1008.0,193.3 1008.8,201.1 1010.1,204.6 C1011.4,208.1 1013.5,212.2 1015.2,212.2 C1016.9,212.2 1019.1,207.8 1020.3,204.6 C1021.5,201.4 1022.0,194.9 1022.3,193.0" stroke="#000" stroke-width="2.8" stroke-linecap="butt"/>
<path d="M895.8,773.0 C896.0,768.1 896.6,755.0 897.1,743.8 C897.6,732.6 898.3,717.3 899.0,705.6 C899.7,693.9 900.5,682.2 901.5,673.7 C902.5,665.2 903.6,659.2 904.7,654.5 C905.8,649.8 906.9,647.4 907.9,645.6 C908.9,643.8 909.5,643.3 910.5,643.7 C911.5,644.1 912.7,644.7 913.7,648.2 C914.8,651.7 915.8,657.3 916.8,664.7 C917.8,672.1 918.6,683.9 919.4,692.8 C920.1,701.7 920.8,709.8 921.3,718.3 C921.8,726.8 922.1,737.3 922.6,743.8 C923.1,750.2 923.0,752.1 924.0,757.0 C925.0,761.9 927.7,770.3 928.4,773.0" stroke="#00fccd" stroke-width="7.8" stroke-linecap="butt"/>
<path d="M895.8,773.0 C896.0,768.1 896.6,755.0 897.1,743.8 C897.6,732.6 898.3,717.3 899.0,705.6 C899.7,693.9 900.5,682.2 901.5,673.7 C902.5,665.2 903.6,659.2 904.7,654.5 C905.8,649.8 906.9,647.4 907.9,645.6 C908.9,643.8 909.5,643.3 910.5,643.7 C911.5,644.1 912.7,644.7 913.7,648.2 C914.8,651.7 915.8,657.3 916.8,664.7 C917.8,672.1 918.6,683.9 919.4,692.8 C920.1,701.7 920.8,709.8 921.3,718.3 C921.8,726.8 922.1,737.3 922.6,743.8 C923.1,750.2 923.0,752.1 924.0,757.0 C925.0,761.9 927.7,770.3 928.4,773.0" stroke="#000" stroke-width="2.8" stroke-linecap="butt"/>
<path d="M931.0,773.0 C932.1,770.3 935.3,762.5 937.4,756.6 C939.5,750.7 941.9,743.1 943.8,737.4 C945.7,731.6 947.2,725.9 948.9,722.1 C950.6,718.3 952.7,716.0 954.0,714.5 C955.3,713.0 955.5,712.4 956.6,713.2 C957.7,714.1 959.1,716.8 960.4,719.6 C961.7,722.4 962.9,726.8 964.2,729.8 C965.5,732.8 966.7,735.5 968.0,737.4 C969.3,739.3 970.6,741.7 971.9,741.3 C973.2,740.9 974.2,738.7 975.7,734.9 C977.2,731.1 979.1,724.2 980.8,718.3 C982.5,712.3 984.4,703.9 985.9,699.2 C987.4,694.5 988.5,692.2 989.7,690.2 C990.9,688.2 991.8,687.1 992.9,687.1 C994.0,687.1 995.0,687.6 996.1,690.2 C997.2,692.9 998.3,698.3 999.3,703.0 C1000.2,707.7 1000.9,711.5 1001.8,718.3 C1002.6,725.1 1003.5,736.3 1004.4,743.8 C1005.2,751.2 1006.3,758.1 1006.9,763.0 C1007.5,767.9 1008.0,771.3 1008.2,773.0" stroke="#00fccd" stroke-width="7.8" stroke-linecap="butt"/>
<path d="M931.0,773.0 C932.1,770.3 935.3,762.5 937.4,756.6 C939.5,750.7 941.9,743.1 943.8,737.4 C945.7,731.6 947.2,725.9 948.9,722.1 C950.6,718.3 952.7,716.0 954.0,714.5 C955.3,713.0 955.5,712.4 956.6,713.2 C957.7,714.1 959.1,716.8 960.4,719.6 C961.7,722.4 962.9,726.8 964.2,729.8 C965.5,732.8 966.7,735.5 968.0,737.4 C969.3,739.3 970.6,741.7 971.9,741.3 C973.2,740.9 974.2,738.7 975.7,734.9 C977.2,731.1 979.1,724.2 980.8,718.3 C982.5,712.3 984.4,703.9 985.9,699.2 C987.4,694.5 988.5,692.2 989.7,690.2 C990.9,688.2 991.8,687.1 992.9,687.1 C994.0,687.1 995.0,687.6 996.1,690.2 C997.2,692.9 998.3,698.3 999.3,703.0 C1000.2,707.7 1000.9,711.5 1001.8,718.3 C1002.6,725.1 1003.5,736.3 1004.4,743.8 C1005.2,751.2 1006.3,758.1 1006.9,763.0 C1007.5,767.9 1008.0,771.3 1008.2,773.0" stroke="#000" stroke-width="2.8" stroke-linecap="butt"/>
<path d="M1020.1,773.0 C1020.5,768.1 1021.3,752.9 1022.2,743.8 C1023.1,734.7 1024.2,728.9 1025.4,718.3 C1026.6,707.7 1028.1,690.6 1029.3,680.0 C1030.5,669.4 1031.2,661.9 1032.5,654.5 C1033.8,647.1 1035.4,640.0 1036.9,635.4 C1038.4,630.8 1040.2,628.7 1041.4,627.1 C1042.6,625.5 1043.0,625.0 1043.9,625.8 C1044.9,626.5 1046.1,628.5 1047.1,631.6 C1048.1,634.7 1049.0,639.4 1049.7,644.3 C1050.5,649.2 1051.1,654.9 1051.6,660.9 C1052.1,666.9 1052.7,676.8 1052.9,680.0" stroke="#00fccd" stroke-width="7.8" stroke-linecap="butt"/>
<path d="M1020.1,773.0 C1020.5,768.1 1021.3,752.9 1022.2,743.8 C1023.1,734.7 1024.2,728.9 1025.4,718.3 C1026.6,707.7 1028.1,690.6 1029.3,680.0 C1030.5,669.4 1031.2,661.9 1032.5,654.5 C1033.8,647.1 1035.4,640.0 1036.9,635.4 C1038.4,630.8 1040.2,628.7 1041.4,627.1 C1042.6,625.5 1043.0,625.0 1043.9,625.8 C1044.9,626.5 1046.1,628.5 1047.1,631.6 C1048.1,634.7 1049.0,639.4 1049.7,644.3 C1050.5,649.2 1051.1,654.9 1051.6,660.9 C1052.1,666.9 1052.7,676.8 1052.9,680.0" stroke="#000" stroke-width="2.8" stroke-linecap="butt"/>
<path d="M1052.9,191.0 L1052.9,297.7" stroke="#00fccd" stroke-width="7.8" stroke-linecap="butt"/>
<path d="M1052.9,191.0 L1052.9,297.7" stroke="#000" stroke-width="2.8" stroke-linecap="butt"/>
<path d="M1056.0,299.0 C1055.7,300.7 1054.6,304.3 1054.1,309.2 C1053.6,314.1 1053.4,315.2 1053.2,328.3 C1053.0,341.4 1053.0,315.2 1052.9,388.0 C1052.9,460.8 1052.9,702.2 1052.9,765.0" stroke="#00fccd" stroke-width="7.8" stroke-linecap="butt"/>
<path d="M1056.0,299.0 C1055.7,300.7 1054.6,304.3 1054.1,309.2 C1053.6,314.1 1053.4,315.2 1053.2,328.3 C1053.0,341.4 1053.0,315.2 1052.9,388.0 C1052.9,460.8 1052.9,702.2 1052.9,765.0" stroke="#000" stroke-width="2.8" stroke-linecap="butt"/>
<path d="M1050.3,699.2 C1050.7,698.4 1052.0,695.1 1052.9,694.1 C1053.9,693.1 1055.0,692.9 1056.0,693.4 C1057.0,693.9 1058.1,695.1 1059.2,697.3 C1060.3,699.5 1061.9,705.2 1062.4,706.8" stroke="#00fccd" stroke-width="7.8" stroke-linecap="butt"/>
<path d="M1050.3,699.2 C1050.7,698.4 1052.0,695.1 1052.9,694.1 C1053.9,693.1 1055.0,692.9 1056.0,693.4 C1057.0,693.9 1058.1,695.1 1059.2,697.3 C1060.3,699.5 1061.9,705.2 1062.4,706.8" stroke="#000" stroke-width="2.8" stroke-linecap="butt"/>
<path d="M1054.1,191.0 C1054.3,195.8 1054.9,211.3 1055.4,219.9 C1055.9,228.5 1056.5,236.6 1057.3,242.8 C1058.0,249.0 1058.8,253.3 1059.9,256.9 C1061.0,260.5 1062.4,264.1 1063.7,264.5 C1065.0,264.9 1066.2,263.0 1067.5,259.4 C1068.8,255.8 1070.3,249.4 1071.4,242.8 C1072.5,236.2 1073.2,226.5 1073.9,219.9 C1074.6,213.3 1075.5,206.1 1075.8,203.3" stroke="#00fccd" stroke-width="7.8" stroke-linecap="butt"/>
<path d="M1054.1,191.0 C1054.3,195.8 1054.9,211.3 1055.4,219.9 C1055.9,228.5 1056.5,236.6 1057.3,242.8 C1058.0,249.0 1058.8,253.3 1059.9,256.9 C1061.0,260.5 1062.4,264.1 1063.7,264.5 C1065.0,264.9 1066.2,263.0 1067.5,259.4 C1068.8,255.8 1070.3,249.4 1071.4,242.8 C1072.5,236.2 1073.2,226.5 1073.9,219.9 C1074.6,213.3 1075.5,206.1 1075.8,203.3" stroke="#000" stroke-width="2.8" stroke-linecap="butt"/>
<path d="M1094.0,566.0 C1093.0,569.2 1089.6,579.3 1088.0,585.0 C1086.4,590.7 1085.6,594.8 1084.5,600.0 C1083.4,605.2 1082.5,609.3 1081.6,616.3 C1080.7,623.3 1079.7,631.2 1079.0,641.8 C1078.3,652.4 1078.0,658.1 1077.7,680.0 C1077.4,701.9 1077.2,757.5 1077.1,773.0" stroke="#00fccd" stroke-width="7.8" stroke-linecap="butt"/>
<path d="M1094.0,566.0 C1093.0,569.2 1089.6,579.3 1088.0,585.0 C1086.4,590.7 1085.6,594.8 1084.5,600.0 C1083.4,605.2 1082.5,609.3 1081.6,616.3 C1080.7,623.3 1079.7,631.2 1079.0,641.8 C1078.3,652.4 1078.0,658.1 1077.7,680.0 C1077.4,701.9 1077.2,757.5 1077.1,773.0" stroke="#000" stroke-width="2.8" stroke-linecap="butt"/>
<path d="M889.4,686.4 C890.0,686.6 892.0,686.2 893.2,687.7 C894.4,689.2 895.4,692.3 896.4,695.3 C897.4,698.3 898.6,703.9 899.0,705.6" stroke="#00fccd" stroke-width="7.8" stroke-linecap="butt"/>
<path d="M889.4,686.4 C890.0,686.6 892.0,686.2 893.2,687.7 C894.4,689.2 895.4,692.3 896.4,695.3 C897.4,698.3 898.6,703.9 899.0,705.6" stroke="#000" stroke-width="2.8" stroke-linecap="butt"/>
<path d="M240.0,741.0 C240.4,742.0 241.7,744.8 242.4,747.0 C243.1,749.2 243.5,752.1 244.3,754.0 C245.2,755.9 246.0,757.4 247.5,758.5 C249.0,759.6 252.2,760.1 253.2,760.4" stroke="#00fccd" stroke-width="7.8" stroke-linecap="butt"/>
<path d="M240.0,741.0 C240.4,742.0 241.7,744.8 242.4,747.0 C243.1,749.2 243.5,752.1 244.3,754.0 C245.2,755.9 246.0,757.4 247.5,758.5 C249.0,759.6 252.2,760.1 253.2,760.4" stroke="#000" stroke-width="2.8" stroke-linecap="butt"/>
<path d="M299.3,330.0 C299.4,334.0 299.9,345.0 300.2,353.8 C300.5,362.6 300.7,371.8 301.0,383.0 C301.3,394.2 301.8,408.6 302.2,421.3 C302.6,434.1 303.1,446.8 303.5,459.5 C303.9,472.2 304.3,487.2 304.8,497.8 C305.3,508.4 306.1,516.9 306.7,523.3 C307.3,529.7 307.9,533.4 308.6,536.1 C309.4,538.8 310.2,539.1 311.2,539.3 C312.2,539.5 313.2,539.3 314.4,537.3 C315.6,535.3 316.9,532.6 318.2,527.1 C319.5,521.6 320.9,512.3 322.0,504.2 C323.1,496.1 323.9,488.3 324.6,478.7 C325.4,469.1 325.9,456.4 326.5,446.8 C327.1,437.2 327.7,429.8 328.4,421.3 C329.1,412.8 329.9,403.0 330.9,395.8 C331.8,388.6 333.1,383.5 334.1,378.0 C335.1,372.5 336.0,366.8 337.1,363.0 C338.2,359.2 339.6,354.5 340.6,355.0 C341.6,355.5 342.6,361.3 343.3,366.0 C344.0,370.7 344.2,375.9 344.9,383.0 C345.6,390.1 346.5,400.0 347.4,408.5 C348.2,417.0 349.1,425.5 350.0,434.0 C350.9,442.5 351.6,451.9 352.5,459.5 C353.4,467.1 354.1,473.9 355.1,479.9 C356.1,485.8 357.4,491.3 358.3,495.2 C359.2,499.1 360.4,502.1 360.8,503.5" stroke="#00fccd" stroke-width="7.8" stroke-dasharray="25.5 8.3 8.3 8.3" stroke-linecap="butt"/>
<path d="M299.3,330.0 C299.4,334.0 299.9,345.0 300.2,353.8 C300.5,362.6 300.7,371.8 301.0,383.0 C301.3,394.2 301.8,408.6 302.2,421.3 C302.6,434.1 303.1,446.8 303.5,459.5 C303.9,472.2 304.3,487.2 304.8,497.8 C305.3,508.4 306.1,516.9 306.7,523.3 C307.3,529.7 307.9,533.4 308.6,536.1 C309.4,538.8 310.2,539.1 311.2,539.3 C312.2,539.5 313.2,539.3 314.4,537.3 C315.6,535.3 316.9,532.6 318.2,527.1 C319.5,521.6 320.9,512.3 322.0,504.2 C323.1,496.1 323.9,488.3 324.6,478.7 C325.4,469.1 325.9,456.4 326.5,446.8 C327.1,437.2 327.7,429.8 328.4,421.3 C329.1,412.8 329.9,403.0 330.9,395.8 C331.8,388.6 333.1,383.5 334.1,378.0 C335.1,372.5 336.0,366.8 337.1,363.0 C338.2,359.2 339.6,354.5 340.6,355.0 C341.6,355.5 342.6,361.3 343.3,366.0 C344.0,370.7 344.2,375.9 344.9,383.0 C345.6,390.1 346.5,400.0 347.4,408.5 C348.2,417.0 349.1,425.5 350.0,434.0 C350.9,442.5 351.6,451.9 352.5,459.5 C353.4,467.1 354.1,473.9 355.1,479.9 C356.1,485.8 357.4,491.3 358.3,495.2 C359.2,499.1 360.4,502.1 360.8,503.5" stroke="#000" stroke-width="2.8" stroke-dasharray="25.5 8.3 8.3 8.3" stroke-linecap="butt"/>
<path d="M246.8,255.0 L249.4,260.7" stroke="#00fccd" stroke-width="7.8" stroke-linecap="butt"/>
<path d="M246.8,255.0 L249.4,260.7" stroke="#000" stroke-width="2.8" stroke-linecap="butt"/>
<path d="M251.3,270.9 C251.7,272.8 252.6,278.5 253.9,282.4 C255.2,286.3 258.1,292.5 259.0,294.5" stroke="#00fccd" stroke-width="7.8" stroke-linecap="butt"/>
<path d="M251.3,270.9 C251.7,272.8 252.6,278.5 253.9,282.4 C255.2,286.3 258.1,292.5 259.0,294.5" stroke="#000" stroke-width="2.8" stroke-linecap="butt"/>
<path d="M263.4,301.5 L269.8,307.9" stroke="#00fccd" stroke-width="7.8" stroke-linecap="butt"/>
<path d="M263.4,301.5 L269.8,307.9" stroke="#000" stroke-width="2.8" stroke-linecap="butt"/>
<path d="M275.5,312.4 L289.6,321.3" stroke="#00fccd" stroke-width="7.8" stroke-linecap="butt"/>
<path d="M275.5,312.4 L289.6,321.3" stroke="#000" stroke-width="2.8" stroke-linecap="butt"/>
<path d="M330.4,193.7 C330.8,195.5 331.8,200.8 332.9,204.6 C334.0,208.4 336.1,214.7 336.8,216.7" stroke="#00fccd" stroke-width="7.8" stroke-linecap="butt"/>
<path d="M330.4,193.7 C330.8,195.5 331.8,200.8 332.9,204.6 C334.0,208.4 336.1,214.7 336.8,216.7" stroke="#000" stroke-width="2.8" stroke-linecap="butt"/>
<path d="M351.4,199.5 C351.1,201.6 350.4,208.4 349.5,212.2 C348.6,216.0 346.8,220.7 346.3,222.4" stroke="#00fccd" stroke-width="7.8" stroke-linecap="butt"/>
<path d="M351.4,199.5 C351.1,201.6 350.4,208.4 349.5,212.2 C348.6,216.0 346.8,220.7 346.3,222.4" stroke="#000" stroke-width="2.8" stroke-linecap="butt"/>
<path d="M382.7,233.3 L387.1,256.9" stroke="#00fccd" stroke-width="7.8" stroke-linecap="butt"/>
<path d="M382.7,233.3 L387.1,256.9" stroke="#000" stroke-width="2.8" stroke-linecap="butt"/>
<path d="M401.8,228.2 C401.5,230.4 400.6,237.7 399.9,241.6 C399.1,245.5 397.7,250.1 397.3,251.8" stroke="#00fccd" stroke-width="7.8" stroke-linecap="butt"/>
<path d="M401.8,228.2 C401.5,230.4 400.6,237.7 399.9,241.6 C399.1,245.5 397.7,250.1 397.3,251.8" stroke="#000" stroke-width="2.8" stroke-linecap="butt"/>
<path d="M406.9,247.9 C407.5,250.0 409.4,256.9 410.7,260.7 C412.0,264.5 414.0,269.2 414.6,270.9" stroke="#00fccd" stroke-width="7.8" stroke-linecap="butt"/>
<path d="M406.9,247.9 C407.5,250.0 409.4,256.9 410.7,260.7 C412.0,264.5 414.0,269.2 414.6,270.9" stroke="#000" stroke-width="2.8" stroke-linecap="butt"/>
<path d="M427.3,292.6 C428.3,294.5 431.5,300.4 433.1,304.1 C434.7,307.8 436.3,313.2 436.9,315.0" stroke="#00fccd" stroke-width="7.8" stroke-linecap="butt"/>
<path d="M427.3,292.6 C428.3,294.5 431.5,300.4 433.1,304.1 C434.7,307.8 436.3,313.2 436.9,315.0" stroke="#000" stroke-width="2.8" stroke-linecap="butt"/>
<path d="M451.6,293.9 C452.5,295.6 454.9,300.4 456.7,304.1 C458.5,307.8 461.4,314.2 462.4,316.2" stroke="#00fccd" stroke-width="7.8" stroke-linecap="butt"/>
<path d="M451.6,293.9 C452.5,295.6 454.9,300.4 456.7,304.1 C458.5,307.8 461.4,314.2 462.4,316.2" stroke="#000" stroke-width="2.8" stroke-linecap="butt"/>
<path d="M467.5,341.7 L470.1,365.9" stroke="#00fccd" stroke-width="7.8" stroke-linecap="butt"/>
<path d="M467.5,341.7 L470.1,365.9" stroke="#000" stroke-width="2.8" stroke-linecap="butt"/>
<path d="M489.2,340.4 L486.0,364.7" stroke="#00fccd" stroke-width="7.8" stroke-linecap="butt"/>
<path d="M489.2,340.4 L486.0,364.7" stroke="#000" stroke-width="2.8" stroke-linecap="butt"/>
<path d="M502.6,344.3 L505.8,368.5" stroke="#00fccd" stroke-width="7.8" stroke-linecap="butt"/>
<path d="M502.6,344.3 L505.8,368.5" stroke="#000" stroke-width="2.8" stroke-linecap="butt"/>
<path d="M339.5,358.0 L343.0,372.0" stroke="#00fccd" stroke-width="7.8" stroke-linecap="butt"/>
<path d="M339.5,358.0 L343.0,372.0" stroke="#000" stroke-width="2.8" stroke-linecap="butt"/>
<path d="M344.0,380.0 L345.0,386.0" stroke="#00fccd" stroke-width="7.8" stroke-linecap="butt"/>
<path d="M344.0,380.0 L345.0,386.0" stroke="#000" stroke-width="2.8" stroke-linecap="butt"/>
<path d="M518.7,378.7 C519.1,377.1 520.4,371.8 521.3,369.1 C522.1,366.4 522.9,364.2 523.8,362.7 C524.6,361.2 525.2,360.2 526.4,360.2 C527.6,360.2 530.1,362.3 530.8,362.7" stroke="#00fccd" stroke-width="7.8" stroke-linecap="butt"/>
<path d="M518.7,378.7 C519.1,377.1 520.4,371.8 521.3,369.1 C522.1,366.4 522.9,364.2 523.8,362.7 C524.6,361.2 525.2,360.2 526.4,360.2 C527.6,360.2 530.1,362.3 530.8,362.7" stroke="#000" stroke-width="2.8" stroke-linecap="butt"/>
<path d="M546.8,368.5 C547.4,370.3 549.6,375.7 550.6,379.3 C551.6,382.9 552.2,388.2 552.5,390.0" stroke="#00fccd" stroke-width="7.8" stroke-linecap="butt"/>
<path d="M546.8,368.5 C547.4,370.3 549.6,375.7 550.6,379.3 C551.6,382.9 552.2,388.2 552.5,390.0" stroke="#000" stroke-width="2.8" stroke-linecap="butt"/>
<path d="M569.7,344.3 C569.2,346.3 567.4,352.5 566.5,356.4 C565.6,360.3 564.9,365.9 564.6,367.8" stroke="#00fccd" stroke-width="7.8" stroke-linecap="butt"/>
<path d="M569.7,344.3 C569.2,346.3 567.4,352.5 566.5,356.4 C565.6,360.3 564.9,365.9 564.6,367.8" stroke="#000" stroke-width="2.8" stroke-linecap="butt"/>
<path d="M571.6,334.7 L574.8,328.3" stroke="#00fccd" stroke-width="7.8" stroke-linecap="butt"/>
<path d="M571.6,334.7 L574.8,328.3" stroke="#000" stroke-width="2.8" stroke-linecap="butt"/>
<path d="M581.2,327.7 C581.6,329.3 583.0,333.2 583.8,337.2 C584.5,341.2 585.4,349.4 585.7,351.9" stroke="#00fccd" stroke-width="7.8" stroke-linecap="butt"/>
<path d="M581.2,327.7 C581.6,329.3 583.0,333.2 583.8,337.2 C584.5,341.2 585.4,349.4 585.7,351.9" stroke="#000" stroke-width="2.8" stroke-linecap="butt"/>
<path d="M585.4,361.0 L585.6,368.0" stroke="#00fccd" stroke-width="7.8" stroke-linecap="butt"/>
<path d="M585.4,361.0 L585.6,368.0" stroke="#000" stroke-width="2.8" stroke-linecap="butt"/>
<path d="M585.7,378.0 L586.3,399.6" stroke="#00fccd" stroke-width="7.8" stroke-linecap="butt"/>
<path d="M585.7,378.0 L586.3,399.6" stroke="#000" stroke-width="2.8" stroke-linecap="butt"/>
<path d="M529.5,373.6 L532.7,379.3" stroke="#00fccd" stroke-width="7.8" stroke-linecap="butt"/>
<path d="M529.5,373.6 L532.7,379.3" stroke="#000" stroke-width="2.8" stroke-linecap="butt"/>
<path d="M563.5,378.0 L562.5,385.0" stroke="#00fccd" stroke-width="7.8" stroke-linecap="butt"/>
<path d="M563.5,378.0 L562.5,385.0" stroke="#000" stroke-width="2.8" stroke-linecap="butt"/>
<path d="M622.0,289.4 C622.9,289.7 625.7,292.1 627.1,291.3 C628.5,290.6 629.3,287.9 630.3,284.9 C631.3,281.9 632.5,275.4 632.9,273.5" stroke="#00fccd" stroke-width="7.8" stroke-linecap="butt"/>
<path d="M622.0,289.4 C622.9,289.7 625.7,292.1 627.1,291.3 C628.5,290.6 629.3,287.9 630.3,284.9 C631.3,281.9 632.5,275.4 632.9,273.5" stroke="#000" stroke-width="2.8" stroke-linecap="butt"/>
<path d="M631.6,256.9 L637.3,262.0" stroke="#00fccd" stroke-width="7.8" stroke-linecap="butt"/>
<path d="M631.6,256.9 L637.3,262.0" stroke="#000" stroke-width="2.8" stroke-linecap="butt"/>
<path d="M634.8,193.0 L635.0,215.0" stroke="#00fccd" stroke-width="7.8" stroke-linecap="butt"/>
<path d="M634.8,193.0 L635.0,215.0" stroke="#000" stroke-width="2.8" stroke-linecap="butt"/>
<path d="M635.0,240.0 L635.2,262.0" stroke="#00fccd" stroke-width="7.8" stroke-linecap="butt"/>
<path d="M635.0,240.0 L635.2,262.0" stroke="#000" stroke-width="2.8" stroke-linecap="butt"/>
<path d="M614.6,234.6 L614.6,279.8" stroke="#00fccd" stroke-width="7.8" stroke-linecap="butt"/>
<path d="M614.6,234.6 L614.6,279.8" stroke="#000" stroke-width="2.8" stroke-linecap="butt"/>
<path d="M666.0,193.7 L668.6,217.3" stroke="#00fccd" stroke-width="7.8" stroke-linecap="butt"/>
<path d="M666.0,193.7 L668.6,217.3" stroke="#000" stroke-width="2.8" stroke-linecap="butt"/>
<path d="M669.2,228.5 L671.5,234.0" stroke="#00fccd" stroke-width="7.8" stroke-linecap="butt"/>
<path d="M669.2,228.5 L671.5,234.0" stroke="#000" stroke-width="2.8" stroke-linecap="butt"/>
<path d="M671.3,244.1 C671.9,245.6 673.9,250.8 675.1,253.1 C676.3,255.4 677.3,258.0 678.3,258.2 C679.3,258.4 680.3,255.6 680.9,254.3 C681.5,253.0 681.9,251.1 682.1,250.5" stroke="#00fccd" stroke-width="7.8" stroke-linecap="butt"/>
<path d="M671.3,244.1 C671.9,245.6 673.9,250.8 675.1,253.1 C676.3,255.4 677.3,258.0 678.3,258.2 C679.3,258.4 680.3,255.6 680.9,254.3 C681.5,253.0 681.9,251.1 682.1,250.5" stroke="#000" stroke-width="2.8" stroke-linecap="butt"/>
<path d="M680.9,239.0 L683.4,232.6" stroke="#00fccd" stroke-width="7.8" stroke-linecap="butt"/>
<path d="M680.9,239.0 L683.4,232.6" stroke="#000" stroke-width="2.8" stroke-linecap="butt"/>
<path d="M683.4,222.4 L686.0,200.8" stroke="#00fccd" stroke-width="7.8" stroke-linecap="butt"/>
<path d="M683.4,222.4 L686.0,200.8" stroke="#000" stroke-width="2.8" stroke-linecap="butt"/>
<path d="M716.0,193.1 L718.5,216.7" stroke="#00fccd" stroke-width="7.8" stroke-linecap="butt"/>
<path d="M716.0,193.1 L718.5,216.7" stroke="#000" stroke-width="2.8" stroke-linecap="butt"/>
<path d="M718.5,226.3 L721.0,232.6" stroke="#00fccd" stroke-width="7.8" stroke-linecap="butt"/>
<path d="M718.5,226.3 L721.0,232.6" stroke="#000" stroke-width="2.8" stroke-linecap="butt"/>
<path d="M724.0,234.5 C724.7,233.6 726.8,231.7 728.1,228.8 C729.4,225.9 731.0,221.2 731.9,217.3 C732.8,213.4 733.5,207.2 733.8,205.2" stroke="#00fccd" stroke-width="7.8" stroke-linecap="butt"/>
<path d="M724.0,234.5 C724.7,233.6 726.8,231.7 728.1,228.8 C729.4,225.9 731.0,221.2 731.9,217.3 C732.8,213.4 733.5,207.2 733.8,205.2" stroke="#000" stroke-width="2.8" stroke-linecap="butt"/>
<path d="M731.5,195.5 L737.5,196.0" stroke="#00fccd" stroke-width="7.8" stroke-linecap="butt"/>
<path d="M731.5,195.5 L737.5,196.0" stroke="#000" stroke-width="2.8" stroke-linecap="butt"/>
<path d="M842.2,280.5 C841.6,282.3 840.0,287.8 838.4,291.3 C836.8,294.8 833.7,299.8 832.7,301.5" stroke="#00fccd" stroke-width="7.8" stroke-linecap="butt"/>
<path d="M842.2,280.5 C841.6,282.3 840.0,287.8 838.4,291.3 C836.8,294.8 833.7,299.8 832.7,301.5" stroke="#000" stroke-width="2.8" stroke-linecap="butt"/>
<path d="M826.3,327.0 C826.0,328.9 824.9,334.6 824.4,338.5 C823.9,342.4 823.3,348.6 823.1,350.6" stroke="#00fccd" stroke-width="7.8" stroke-linecap="butt"/>
<path d="M826.3,327.0 C826.0,328.9 824.9,334.6 824.4,338.5 C823.9,342.4 823.3,348.6 823.1,350.6" stroke="#000" stroke-width="2.8" stroke-linecap="butt"/>
<path d="M821.8,376.8 L821.5,400.9" stroke="#00fccd" stroke-width="7.8" stroke-linecap="butt"/>
<path d="M821.8,376.8 L821.5,400.9" stroke="#000" stroke-width="2.8" stroke-linecap="butt"/>
<path d="M780.4,333.4 C781.1,332.5 783.4,328.7 784.8,328.3 C786.2,327.9 787.6,329.4 788.7,330.9 C789.8,332.4 790.5,335.0 791.2,337.2 C791.9,339.4 792.8,343.1 793.1,344.3" stroke="#00fccd" stroke-width="7.8" stroke-linecap="butt"/>
<path d="M780.4,333.4 C781.1,332.5 783.4,328.7 784.8,328.3 C786.2,327.9 787.6,329.4 788.7,330.9 C789.8,332.4 790.5,335.0 791.2,337.2 C791.9,339.4 792.8,343.1 793.1,344.3" stroke="#000" stroke-width="2.8" stroke-linecap="butt"/>
<path d="M776.5,360.2 C776.2,362.1 775.1,367.8 774.6,371.7 C774.1,375.6 773.5,381.8 773.3,383.8" stroke="#00fccd" stroke-width="7.8" stroke-linecap="butt"/>
<path d="M776.5,360.2 C776.2,362.1 775.1,367.8 774.6,371.7 C774.1,375.6 773.5,381.8 773.3,383.8" stroke="#000" stroke-width="2.8" stroke-linecap="butt"/>
<path d="M793.1,370.4 L794.4,390.0" stroke="#00fccd" stroke-width="7.8" stroke-linecap="butt"/>
<path d="M793.1,370.4 L794.4,390.0" stroke="#000" stroke-width="2.8" stroke-linecap="butt"/>
<path d="M728.7,375.5 C728.2,377.6 726.2,384.1 725.5,388.0 C724.8,391.9 724.7,397.2 724.5,399.0" stroke="#00fccd" stroke-width="7.8" stroke-linecap="butt"/>
<path d="M728.7,375.5 C728.2,377.6 726.2,384.1 725.5,388.0 C724.8,391.9 724.7,397.2 724.5,399.0" stroke="#000" stroke-width="2.8" stroke-linecap="butt"/>
<path d="M737.6,373.0 L740.8,395.0" stroke="#00fccd" stroke-width="7.8" stroke-linecap="butt"/>
<path d="M737.6,373.0 L740.8,395.0" stroke="#000" stroke-width="2.8" stroke-linecap="butt"/>
<path d="M845.4,200.5 L845.4,225.0" stroke="#00fccd" stroke-width="7.8" stroke-linecap="butt"/>
<path d="M845.4,200.5 L845.4,225.0" stroke="#000" stroke-width="2.8" stroke-linecap="butt"/>
<path d="M922.8,193.7 L925.3,218.0" stroke="#00fccd" stroke-width="7.8" stroke-linecap="butt"/>
<path d="M922.8,193.7 L925.3,218.0" stroke="#000" stroke-width="2.8" stroke-linecap="butt"/>
<path d="M941.9,218.0 C941.4,220.0 940.1,226.3 938.7,230.1 C937.3,233.9 934.5,239.0 933.6,240.8" stroke="#00fccd" stroke-width="7.8" stroke-linecap="butt"/>
<path d="M941.9,218.0 C941.4,220.0 940.1,226.3 938.7,230.1 C937.3,233.9 934.5,239.0 933.6,240.8" stroke="#000" stroke-width="2.8" stroke-linecap="butt"/>
<path d="M955.3,193.7 C955.6,195.9 956.6,202.9 957.2,207.1 C957.8,211.2 958.8,216.7 959.1,218.6" stroke="#00fccd" stroke-width="7.8" stroke-linecap="butt"/>
<path d="M955.3,193.7 C955.6,195.9 956.6,202.9 957.2,207.1 C957.8,211.2 958.8,216.7 959.1,218.6" stroke="#000" stroke-width="2.8" stroke-linecap="butt"/>
<path d="M970.6,218.6 L966.1,225.0" stroke="#00fccd" stroke-width="7.8" stroke-linecap="butt"/>
<path d="M970.6,218.6 L966.1,225.0" stroke="#000" stroke-width="2.8" stroke-linecap="butt"/>
<path d="M973.1,194.4 L970.0,208.4" stroke="#00fccd" stroke-width="7.8" stroke-linecap="butt"/>
<path d="M973.1,194.4 L970.0,208.4" stroke="#000" stroke-width="2.8" stroke-linecap="butt"/>
<path d="M1004.4,197.6 L1006.3,221.8" stroke="#00fccd" stroke-width="7.8" stroke-linecap="butt"/>
<path d="M1004.4,197.6 L1006.3,221.8" stroke="#000" stroke-width="2.8" stroke-linecap="butt"/>
<path d="M1006.3,230.7 L1007.6,238.4" stroke="#00fccd" stroke-width="7.8" stroke-linecap="butt"/>
<path d="M1006.3,230.7 L1007.6,238.4" stroke="#000" stroke-width="2.8" stroke-linecap="butt"/>
<path d="M1007.6,247.3 C1008.0,248.3 1009.2,251.7 1010.1,253.1 C1011.0,254.5 1012.1,255.8 1013.3,255.6 C1014.5,255.4 1016.0,253.9 1017.1,251.8 C1018.2,249.7 1019.3,244.4 1019.7,242.9" stroke="#00fccd" stroke-width="7.8" stroke-linecap="butt"/>
<path d="M1007.6,247.3 C1008.0,248.3 1009.2,251.7 1010.1,253.1 C1011.0,254.5 1012.1,255.8 1013.3,255.6 C1014.5,255.4 1016.0,253.9 1017.1,251.8 C1018.2,249.7 1019.3,244.4 1019.7,242.9" stroke="#000" stroke-width="2.8" stroke-linecap="butt"/>
<path d="M1022.2,233.9 L1024.2,226.3" stroke="#00fccd" stroke-width="7.8" stroke-linecap="butt"/>
<path d="M1022.2,233.9 L1024.2,226.3" stroke="#000" stroke-width="2.8" stroke-linecap="butt"/>
<path d="M1024.8,218.0 L1026.7,199.5" stroke="#00fccd" stroke-width="7.8" stroke-linecap="butt"/>
<path d="M1024.8,218.0 L1026.7,199.5" stroke="#000" stroke-width="2.8" stroke-linecap="butt"/>
<path d="M1077.1,259.4 C1076.8,261.3 1076.2,267.9 1075.2,270.9 C1074.2,273.9 1072.0,276.2 1071.4,277.3" stroke="#00fccd" stroke-width="7.8" stroke-linecap="butt"/>
<path d="M1077.1,259.4 C1076.8,261.3 1076.2,267.9 1075.2,270.9 C1074.2,273.9 1072.0,276.2 1071.4,277.3" stroke="#000" stroke-width="2.8" stroke-linecap="butt"/>
<path d="M1066.9,286.2 L1061.2,291.3" stroke="#00fccd" stroke-width="7.8" stroke-linecap="butt"/>
<path d="M1066.9,286.2 L1061.2,291.3" stroke="#000" stroke-width="2.8" stroke-linecap="butt"/>
<path d="M362.0,497.0 L365.5,490.0" stroke="#00fccd" stroke-width="7.8" stroke-linecap="butt"/>
<path d="M362.0,497.0 L365.5,490.0" stroke="#000" stroke-width="2.8" stroke-linecap="butt"/>
<path d="M368.5,482.0 L373.0,459.0" stroke="#00fccd" stroke-width="7.8" stroke-linecap="butt"/>
<path d="M368.5,482.0 L373.0,459.0" stroke="#000" stroke-width="2.8" stroke-linecap="butt"/>
<path d="M373.5,452.0 L375.5,446.0" stroke="#00fccd" stroke-width="7.8" stroke-linecap="butt"/>
<path d="M373.5,452.0 L375.5,446.0" stroke="#000" stroke-width="2.8" stroke-linecap="butt"/>
<path d="M376.0,438.0 L379.0,416.0" stroke="#00fccd" stroke-width="7.8" stroke-linecap="butt"/>
<path d="M376.0,438.0 L379.0,416.0" stroke="#000" stroke-width="2.8" stroke-linecap="butt"/>
<path d="M389.7,390.7 C390.2,392.6 392.0,398.9 392.9,402.1 C393.8,405.3 394.5,408.5 394.8,409.8" stroke="#00fccd" stroke-width="7.8" stroke-linecap="butt"/>
<path d="M389.7,390.7 C390.2,392.6 392.0,398.9 392.9,402.1 C393.8,405.3 394.5,408.5 394.8,409.8" stroke="#000" stroke-width="2.8" stroke-linecap="butt"/>
<path d="M396.1,420.0 L397.4,426.4" stroke="#00fccd" stroke-width="7.8" stroke-linecap="butt"/>
<path d="M396.1,420.0 L397.4,426.4" stroke="#000" stroke-width="2.8" stroke-linecap="butt"/>
<path d="M398.6,436.6 L401.8,459.5" stroke="#00fccd" stroke-width="7.8" stroke-linecap="butt"/>
<path d="M398.6,436.6 L401.8,459.5" stroke="#000" stroke-width="2.8" stroke-linecap="butt"/>
<path d="M405.6,453.2 L410.1,448.1" stroke="#00fccd" stroke-width="7.8" stroke-linecap="butt"/>
<path d="M405.6,453.2 L410.1,448.1" stroke="#000" stroke-width="2.8" stroke-linecap="butt"/>
<path d="M412.7,439.1 C413.9,437.2 417.3,431.0 419.7,427.6 C422.1,424.2 426.0,420.2 427.3,418.7" stroke="#00fccd" stroke-width="7.8" stroke-linecap="butt"/>
<path d="M412.7,439.1 C413.9,437.2 417.3,431.0 419.7,427.6 C422.1,424.2 426.0,420.2 427.3,418.7" stroke="#000" stroke-width="2.8" stroke-linecap="butt"/>
<path d="M432.4,412.3 C433.0,411.8 435.2,409.3 436.3,409.0 C437.4,408.7 438.4,410.2 438.8,410.5" stroke="#00fccd" stroke-width="7.8" stroke-linecap="butt"/>
<path d="M432.4,412.3 C433.0,411.8 435.2,409.3 436.3,409.0 C437.4,408.7 438.4,410.2 438.8,410.5" stroke="#000" stroke-width="2.8" stroke-linecap="butt"/>
<path d="M438.8,422.5 C439.3,424.4 440.9,430.2 442.0,434.0 C443.1,437.8 444.7,443.6 445.2,445.5" stroke="#00fccd" stroke-width="7.8" stroke-linecap="butt"/>
<path d="M438.8,422.5 C439.3,424.4 440.9,430.2 442.0,434.0 C443.1,437.8 444.7,443.6 445.2,445.5" stroke="#000" stroke-width="2.8" stroke-linecap="butt"/>
<path d="M445.2,455.7 L447.7,462.1" stroke="#00fccd" stroke-width="7.8" stroke-linecap="butt"/>
<path d="M445.2,455.7 L447.7,462.1" stroke="#000" stroke-width="2.8" stroke-linecap="butt"/>
<path d="M451.6,463.4 C452.2,463.0 454.1,462.5 455.4,460.8 C456.7,459.1 458.0,456.2 459.2,453.2 C460.4,450.2 461.9,444.7 462.4,443.0" stroke="#00fccd" stroke-width="7.8" stroke-linecap="butt"/>
<path d="M451.6,463.4 C452.2,463.0 454.1,462.5 455.4,460.8 C456.7,459.1 458.0,456.2 459.2,453.2 C460.4,450.2 461.9,444.7 462.4,443.0" stroke="#000" stroke-width="2.8" stroke-linecap="butt"/>
<path d="M464.3,434.0 L466.9,427.6" stroke="#00fccd" stroke-width="7.8" stroke-linecap="butt"/>
<path d="M464.3,434.0 L466.9,427.6" stroke="#000" stroke-width="2.8" stroke-linecap="butt"/>
<path d="M469.4,417.4 C470.0,415.3 471.9,408.5 473.2,404.7 C474.5,400.9 476.5,396.2 477.1,394.5" stroke="#00fccd" stroke-width="7.8" stroke-linecap="butt"/>
<path d="M469.4,417.4 C470.0,415.3 471.9,408.5 473.2,404.7 C474.5,400.9 476.5,396.2 477.1,394.5" stroke="#000" stroke-width="2.8" stroke-linecap="butt"/>
<path d="M481.5,395.8 C481.9,397.9 483.0,401.9 484.1,408.5 C485.2,415.1 487.3,430.8 487.9,435.3" stroke="#00fccd" stroke-width="7.8" stroke-linecap="butt"/>
<path d="M481.5,395.8 C481.9,397.9 483.0,401.9 484.1,408.5 C485.2,415.1 487.3,430.8 487.9,435.3" stroke="#000" stroke-width="2.8" stroke-linecap="butt"/>
<path d="M488.6,445.5 L490.5,454.4" stroke="#00fccd" stroke-width="7.8" stroke-linecap="butt"/>
<path d="M488.6,445.5 L490.5,454.4" stroke="#000" stroke-width="2.8" stroke-linecap="butt"/>
<path d="M491.1,462.1 C491.5,464.2 492.8,471.0 493.7,474.8 C494.6,478.6 496.3,483.3 496.8,485.0" stroke="#00fccd" stroke-width="7.8" stroke-linecap="butt"/>
<path d="M491.1,462.1 C491.5,464.2 492.8,471.0 493.7,474.8 C494.6,478.6 496.3,483.3 496.8,485.0" stroke="#000" stroke-width="2.8" stroke-linecap="butt"/>
<path d="M501.3,492.7 L506.4,487.6" stroke="#00fccd" stroke-width="7.8" stroke-linecap="butt"/>
<path d="M501.3,492.7 L506.4,487.6" stroke="#000" stroke-width="2.8" stroke-linecap="butt"/>
<path d="M472.0,391.9 L468.8,416.2" stroke="#00fccd" stroke-width="7.8" stroke-linecap="butt"/>
<path d="M472.0,391.9 L468.8,416.2" stroke="#000" stroke-width="2.8" stroke-linecap="butt"/>
<path d="M484.1,390.0 L482.2,413.0" stroke="#00fccd" stroke-width="7.8" stroke-linecap="butt"/>
<path d="M484.1,390.0 L482.2,413.0" stroke="#000" stroke-width="2.8" stroke-linecap="butt"/>
<path d="M474.5,441.0 L475.8,465.9" stroke="#00fccd" stroke-width="7.8" stroke-linecap="butt"/>
<path d="M474.5,441.0 L475.8,465.9" stroke="#000" stroke-width="2.8" stroke-linecap="butt"/>
<path d="M481.5,439.8 L480.9,464.6" stroke="#00fccd" stroke-width="7.8" stroke-linecap="butt"/>
<path d="M481.5,439.8 L480.9,464.6" stroke="#000" stroke-width="2.8" stroke-linecap="butt"/>
<path d="M478.3,490.1 L478.3,504.5" stroke="#00fccd" stroke-width="7.8" stroke-linecap="butt"/>
<path d="M478.3,490.1 L478.3,504.5" stroke="#000" stroke-width="2.8" stroke-linecap="butt"/>
<path d="M503.9,394.5 L505.1,418.7" stroke="#00fccd" stroke-width="7.8" stroke-linecap="butt"/>
<path d="M503.9,394.5 L505.1,418.7" stroke="#000" stroke-width="2.8" stroke-linecap="butt"/>
<path d="M510.2,494.0 L513.4,518.2" stroke="#00fccd" stroke-width="7.8" stroke-linecap="butt"/>
<path d="M510.2,494.0 L513.4,518.2" stroke="#000" stroke-width="2.8" stroke-linecap="butt"/>
<path d="M511.5,439.1 C511.1,442.5 509.9,453.1 509.0,459.5 C508.1,465.9 506.8,474.4 506.4,477.4" stroke="#00fccd" stroke-width="7.8" stroke-linecap="butt"/>
<path d="M511.5,439.1 C511.1,442.5 509.9,453.1 509.0,459.5 C508.1,465.9 506.8,474.4 506.4,477.4" stroke="#000" stroke-width="2.8" stroke-linecap="butt"/>
<path d="M446.0,443.0 C446.4,445.8 447.3,455.9 448.6,459.5 C449.9,463.1 452.0,465.0 453.7,464.6 C455.4,464.2 457.1,460.6 458.8,457.0 C460.5,453.4 463.0,445.3 463.9,443.0" stroke="#00fccd" stroke-width="7.8" stroke-linecap="butt"/>
<path d="M446.0,443.0 C446.4,445.8 447.3,455.9 448.6,459.5 C449.9,463.1 452.0,465.0 453.7,464.6 C455.4,464.2 457.1,460.6 458.8,457.0 C460.5,453.4 463.0,445.3 463.9,443.0" stroke="#000" stroke-width="2.8" stroke-linecap="butt"/>
<path d="M489.4,445.5 L490.6,453.2" stroke="#00fccd" stroke-width="7.8" stroke-linecap="butt"/>
<path d="M489.4,445.5 L490.6,453.2" stroke="#000" stroke-width="2.8" stroke-linecap="butt"/>
<path d="M490.6,462.7 C491.0,465.1 492.2,473.5 493.2,477.4 C494.2,481.3 495.9,484.8 496.4,486.3" stroke="#00fccd" stroke-width="7.8" stroke-linecap="butt"/>
<path d="M490.6,462.7 C491.0,465.1 492.2,473.5 493.2,477.4 C494.2,481.3 495.9,484.8 496.4,486.3" stroke="#000" stroke-width="2.8" stroke-linecap="butt"/>
<path d="M500.8,495.2 L506.0,486.3" stroke="#00fccd" stroke-width="7.8" stroke-linecap="butt"/>
<path d="M500.8,495.2 L506.0,486.3" stroke="#000" stroke-width="2.8" stroke-linecap="butt"/>
<path d="M505.3,394.5 L506.6,418.1" stroke="#00fccd" stroke-width="7.8" stroke-linecap="butt"/>
<path d="M505.3,394.5 L506.6,418.1" stroke="#000" stroke-width="2.8" stroke-linecap="butt"/>
<path d="M515.5,404.7 L513.0,428.3" stroke="#00fccd" stroke-width="7.8" stroke-linecap="butt"/>
<path d="M515.5,404.7 L513.0,428.3" stroke="#000" stroke-width="2.8" stroke-linecap="butt"/>
<path d="M516.8,388.7 L518.7,395.1" stroke="#00fccd" stroke-width="7.8" stroke-linecap="butt"/>
<path d="M516.8,388.7 L518.7,395.1" stroke="#000" stroke-width="2.8" stroke-linecap="butt"/>
<path d="M511.7,437.8 L511.0,445.5" stroke="#00fccd" stroke-width="7.8" stroke-linecap="butt"/>
<path d="M511.7,437.8 L511.0,445.5" stroke="#000" stroke-width="2.8" stroke-linecap="butt"/>
<path d="M509.8,454.4 C509.6,456.5 509.1,463.3 508.5,467.2 C507.9,471.1 506.4,476.2 506.0,478.0" stroke="#00fccd" stroke-width="7.8" stroke-linecap="butt"/>
<path d="M509.8,454.4 C509.6,456.5 509.1,463.3 508.5,467.2 C507.9,471.1 506.4,476.2 506.0,478.0" stroke="#000" stroke-width="2.8" stroke-linecap="butt"/>
<path d="M509.8,494.0 C510.1,496.3 511.1,504.0 511.7,508.0 C512.3,512.0 513.3,516.5 513.6,518.2" stroke="#00fccd" stroke-width="7.8" stroke-linecap="butt"/>
<path d="M509.8,494.0 C510.1,496.3 511.1,504.0 511.7,508.0 C512.3,512.0 513.3,516.5 513.6,518.2" stroke="#000" stroke-width="2.8" stroke-linecap="butt"/>
<path d="M528.3,483.8 C527.9,486.1 526.5,493.8 525.7,497.8 C525.0,501.8 524.1,506.3 523.8,508.0" stroke="#00fccd" stroke-width="7.8" stroke-linecap="butt"/>
<path d="M528.3,483.8 C527.9,486.1 526.5,493.8 525.7,497.8 C525.0,501.8 524.1,506.3 523.8,508.0" stroke="#000" stroke-width="2.8" stroke-linecap="butt"/>
<path d="M534.0,388.7 L535.3,413.0" stroke="#00fccd" stroke-width="7.8" stroke-linecap="butt"/>
<path d="M534.0,388.7 L535.3,413.0" stroke="#000" stroke-width="2.8" stroke-linecap="butt"/>
<path d="M535.9,422.5 L536.6,429.6" stroke="#00fccd" stroke-width="7.8" stroke-linecap="butt"/>
<path d="M535.9,422.5 L536.6,429.6" stroke="#000" stroke-width="2.8" stroke-linecap="butt"/>
<path d="M532.7,434.0 L530.2,458.3" stroke="#00fccd" stroke-width="7.8" stroke-linecap="butt"/>
<path d="M532.7,434.0 L530.2,458.3" stroke="#000" stroke-width="2.8" stroke-linecap="butt"/>
<path d="M537.8,439.1 L539.8,462.7" stroke="#00fccd" stroke-width="7.8" stroke-linecap="butt"/>
<path d="M537.8,439.1 L539.8,462.7" stroke="#000" stroke-width="2.8" stroke-linecap="butt"/>
<path d="M539.1,472.3 L539.8,479.3" stroke="#00fccd" stroke-width="7.8" stroke-linecap="butt"/>
<path d="M539.1,472.3 L539.8,479.3" stroke="#000" stroke-width="2.8" stroke-linecap="butt"/>
<path d="M539.8,488.9 C540.1,491.4 541.0,500.2 541.7,504.2 C542.4,508.2 543.8,511.6 544.2,513.1" stroke="#00fccd" stroke-width="7.8" stroke-linecap="butt"/>
<path d="M539.8,488.9 C540.1,491.4 541.0,500.2 541.7,504.2 C542.4,508.2 543.8,511.6 544.2,513.1" stroke="#000" stroke-width="2.8" stroke-linecap="butt"/>
<path d="M544.9,522.0 C545.4,522.9 546.8,526.1 548.0,527.1 C549.2,528.1 551.2,527.7 551.9,527.8" stroke="#00fccd" stroke-width="7.8" stroke-linecap="butt"/>
<path d="M544.9,522.0 C545.4,522.9 546.8,526.1 548.0,527.1 C549.2,528.1 551.2,527.7 551.9,527.8" stroke="#000" stroke-width="2.8" stroke-linecap="butt"/>
<path d="M558.2,494.0 C557.9,496.1 557.0,502.8 556.3,506.7 C555.6,510.6 554.2,515.8 553.8,517.6" stroke="#00fccd" stroke-width="7.8" stroke-linecap="butt"/>
<path d="M558.2,494.0 C557.9,496.1 557.0,502.8 556.3,506.7 C555.6,510.6 554.2,515.8 553.8,517.6" stroke="#000" stroke-width="2.8" stroke-linecap="butt"/>
<path d="M550.6,383.0 L552.5,391.9" stroke="#00fccd" stroke-width="7.8" stroke-linecap="butt"/>
<path d="M550.6,383.0 L552.5,391.9" stroke="#000" stroke-width="2.8" stroke-linecap="butt"/>
<path d="M555.1,418.1 C555.3,420.1 555.8,426.2 556.3,430.2 C556.8,434.2 557.9,440.3 558.2,442.3" stroke="#00fccd" stroke-width="7.8" stroke-linecap="butt"/>
<path d="M555.1,418.1 C555.3,420.1 555.8,426.2 556.3,430.2 C556.8,434.2 557.9,440.3 558.2,442.3" stroke="#000" stroke-width="2.8" stroke-linecap="butt"/>
<path d="M561.4,444.2 C561.2,446.1 560.5,451.9 560.2,455.7 C559.9,459.5 559.2,463.2 559.5,467.2 C559.8,471.2 561.1,475.9 562.1,479.9 C563.1,483.9 564.8,489.5 565.3,491.4" stroke="#00fccd" stroke-width="7.8" stroke-linecap="butt"/>
<path d="M561.4,444.2 C561.2,446.1 560.5,451.9 560.2,455.7 C559.9,459.5 559.2,463.2 559.5,467.2 C559.8,471.2 561.1,475.9 562.1,479.9 C563.1,483.9 564.8,489.5 565.3,491.4" stroke="#000" stroke-width="2.8" stroke-linecap="butt"/>
<path d="M562.7,427.6 L562.7,434.0" stroke="#00fccd" stroke-width="7.8" stroke-linecap="butt"/>
<path d="M562.7,427.6 L562.7,434.0" stroke="#000" stroke-width="2.8" stroke-linecap="butt"/>
<path d="M564.6,394.5 L563.3,418.1" stroke="#00fccd" stroke-width="7.8" stroke-linecap="butt"/>
<path d="M564.6,394.5 L563.3,418.1" stroke="#000" stroke-width="2.8" stroke-linecap="butt"/>
<path d="M558.2,477.4 L558.2,483.8" stroke="#00fccd" stroke-width="7.8" stroke-linecap="butt"/>
<path d="M558.2,477.4 L558.2,483.8" stroke="#000" stroke-width="2.8" stroke-linecap="butt"/>
<path d="M586.3,402.1 L583.1,421.3" stroke="#00fccd" stroke-width="7.8" stroke-linecap="butt"/>
<path d="M586.3,402.1 L583.1,421.3" stroke="#000" stroke-width="2.8" stroke-linecap="butt"/>
<path d="M579.3,447.4 L575.5,471.0" stroke="#00fccd" stroke-width="7.8" stroke-linecap="butt"/>
<path d="M579.3,447.4 L575.5,471.0" stroke="#000" stroke-width="2.8" stroke-linecap="butt"/>
<path d="M587.6,427.6 L587.6,451.9" stroke="#00fccd" stroke-width="7.8" stroke-linecap="butt"/>
<path d="M587.6,427.6 L587.6,451.9" stroke="#000" stroke-width="2.8" stroke-linecap="butt"/>
<path d="M587.6,460.8 L587.6,468.5" stroke="#00fccd" stroke-width="7.8" stroke-linecap="butt"/>
<path d="M587.6,460.8 L587.6,468.5" stroke="#000" stroke-width="2.8" stroke-linecap="butt"/>
<path d="M588.2,477.4 L588.9,501.6" stroke="#00fccd" stroke-width="7.8" stroke-linecap="butt"/>
<path d="M588.2,477.4 L588.9,501.6" stroke="#000" stroke-width="2.8" stroke-linecap="butt"/>
<path d="M588.9,511.2 L588.9,518.2" stroke="#00fccd" stroke-width="7.8" stroke-linecap="butt"/>
<path d="M588.9,511.2 L588.9,518.2" stroke="#000" stroke-width="2.8" stroke-linecap="butt"/>
<path d="M589.5,527.8 L591.4,551.4" stroke="#00fccd" stroke-width="7.8" stroke-linecap="butt"/>
<path d="M589.5,527.8 L591.4,551.4" stroke="#000" stroke-width="2.8" stroke-linecap="butt"/>
<path d="M592.7,561.6 C593.6,561.3 596.2,559.6 597.8,559.7 C599.4,559.8 601.5,561.8 602.3,562.2" stroke="#00fccd" stroke-width="7.8" stroke-linecap="butt"/>
<path d="M592.7,561.6 C593.6,561.3 596.2,559.6 597.8,559.7 C599.4,559.8 601.5,561.8 602.3,562.2" stroke="#000" stroke-width="2.8" stroke-linecap="butt"/>
<path d="M604.8,570.5 C605.8,571.6 609.1,574.5 610.5,576.9 C611.9,579.3 612.5,582.3 613.1,585.0 C613.7,587.7 614.0,591.7 614.2,593.0" stroke="#00fccd" stroke-width="7.8" stroke-linecap="butt"/>
<path d="M604.8,570.5 C605.8,571.6 609.1,574.5 610.5,576.9 C611.9,579.3 612.5,582.3 613.1,585.0 C613.7,587.7 614.0,591.7 614.2,593.0" stroke="#000" stroke-width="2.8" stroke-linecap="butt"/>
<path d="M601.0,400.2 C601.9,399.8 604.3,397.4 606.1,397.7 C607.9,398.0 610.2,400.3 611.8,402.1 C613.4,403.9 614.3,406.6 615.6,408.5 C616.9,410.4 618.9,412.8 619.5,413.6" stroke="#00fccd" stroke-width="7.8" stroke-linecap="butt"/>
<path d="M601.0,400.2 C601.9,399.8 604.3,397.4 606.1,397.7 C607.9,398.0 610.2,400.3 611.8,402.1 C613.4,403.9 614.3,406.6 615.6,408.5 C616.9,410.4 618.9,412.8 619.5,413.6" stroke="#000" stroke-width="2.8" stroke-linecap="butt"/>
<path d="M634.8,410.4 C634.1,412.0 632.1,416.5 630.9,420.0 C629.7,423.5 628.3,429.6 627.8,431.5" stroke="#00fccd" stroke-width="7.8" stroke-linecap="butt"/>
<path d="M634.8,410.4 C634.1,412.0 632.1,416.5 630.9,420.0 C629.7,423.5 628.3,429.6 627.8,431.5" stroke="#000" stroke-width="2.8" stroke-linecap="butt"/>
<path d="M645.6,425.1 C645.9,426.6 646.8,431.2 647.5,434.0 C648.2,436.8 649.1,441.7 650.1,441.7 C651.1,441.7 652.8,435.3 653.3,434.0" stroke="#00fccd" stroke-width="7.8" stroke-linecap="butt"/>
<path d="M645.6,425.1 C645.9,426.6 646.8,431.2 647.5,434.0 C648.2,436.8 649.1,441.7 650.1,441.7 C651.1,441.7 652.8,435.3 653.3,434.0" stroke="#000" stroke-width="2.8" stroke-linecap="butt"/>
<path d="M660.3,407.2 C661.1,405.9 663.7,401.4 665.4,399.6 C667.1,397.8 668.8,396.5 670.5,396.4 C672.2,396.3 674.1,397.9 675.6,398.9 C677.1,399.8 678.8,401.6 679.4,402.1" stroke="#00fccd" stroke-width="7.8" stroke-linecap="butt"/>
<path d="M660.3,407.2 C661.1,405.9 663.7,401.4 665.4,399.6 C667.1,397.8 668.8,396.5 670.5,396.4 C672.2,396.3 674.1,397.9 675.6,398.9 C677.1,399.8 678.8,401.6 679.4,402.1" stroke="#000" stroke-width="2.8" stroke-linecap="butt"/>
<path d="M689.0,398.3 C689.3,400.0 690.0,404.7 690.9,408.5 C691.8,412.3 693.6,419.2 694.1,421.3" stroke="#00fccd" stroke-width="7.8" stroke-linecap="butt"/>
<path d="M689.0,398.3 C689.3,400.0 690.0,404.7 690.9,408.5 C691.8,412.3 693.6,419.2 694.1,421.3" stroke="#000" stroke-width="2.8" stroke-linecap="butt"/>
<path d="M696.0,448.1 C696.3,450.0 697.1,455.6 697.9,459.5 C698.6,463.4 700.1,469.6 700.5,471.6" stroke="#00fccd" stroke-width="7.8" stroke-linecap="butt"/>
<path d="M696.0,448.1 C696.3,450.0 697.1,455.6 697.9,459.5 C698.6,463.4 700.1,469.6 700.5,471.6" stroke="#000" stroke-width="2.8" stroke-linecap="butt"/>
<path d="M722.8,425.1 C722.4,427.0 721.0,432.8 720.2,436.6 C719.5,440.4 718.6,446.2 718.3,448.1" stroke="#00fccd" stroke-width="7.8" stroke-linecap="butt"/>
<path d="M722.8,425.1 C722.4,427.0 721.0,432.8 720.2,436.6 C719.5,440.4 718.6,446.2 718.3,448.1" stroke="#000" stroke-width="2.8" stroke-linecap="butt"/>
<path d="M724.1,383.0 L722.1,398.3" stroke="#00fccd" stroke-width="7.8" stroke-linecap="butt"/>
<path d="M724.1,383.0 L722.1,398.3" stroke="#000" stroke-width="2.8" stroke-linecap="butt"/>
<path d="M706.2,497.8 C706.8,497.2 708.7,496.1 710.0,494.0 C711.3,491.9 713.0,488.2 713.9,485.0 C714.8,481.8 714.9,476.5 715.1,474.8" stroke="#00fccd" stroke-width="7.8" stroke-linecap="butt"/>
<path d="M706.2,497.8 C706.8,497.2 708.7,496.1 710.0,494.0 C711.3,491.9 713.0,488.2 713.9,485.0 C714.8,481.8 714.9,476.5 715.1,474.8" stroke="#000" stroke-width="2.8" stroke-linecap="butt"/>
<path d="M724.9,383.0 L724.2,399.0" stroke="#00fccd" stroke-width="7.8" stroke-linecap="butt"/>
<path d="M724.9,383.0 L724.2,399.0" stroke="#000" stroke-width="2.8" stroke-linecap="butt"/>
<path d="M721.7,425.1 L719.1,448.7" stroke="#00fccd" stroke-width="7.8" stroke-linecap="butt"/>
<path d="M721.7,425.1 L719.1,448.7" stroke="#000" stroke-width="2.8" stroke-linecap="butt"/>
<path d="M744.6,421.9 L745.9,446.1" stroke="#00fccd" stroke-width="7.8" stroke-linecap="butt"/>
<path d="M744.6,421.9 L745.9,446.1" stroke="#000" stroke-width="2.8" stroke-linecap="butt"/>
<path d="M746.6,472.3 L749.7,495.9" stroke="#00fccd" stroke-width="7.8" stroke-linecap="butt"/>
<path d="M746.6,472.3 L749.7,495.9" stroke="#000" stroke-width="2.8" stroke-linecap="butt"/>
<path d="M764.4,509.3 C764.0,511.0 763.1,516.8 761.9,519.5 C760.7,522.2 758.9,525.4 757.4,525.8 C755.9,526.2 753.6,522.6 752.9,522.0" stroke="#00fccd" stroke-width="7.8" stroke-linecap="butt"/>
<path d="M764.4,509.3 C764.0,511.0 763.1,516.8 761.9,519.5 C760.7,522.2 758.9,525.4 757.4,525.8 C755.9,526.2 753.6,522.6 752.9,522.0" stroke="#000" stroke-width="2.8" stroke-linecap="butt"/>
<path d="M771.4,410.4 L770.2,434.0" stroke="#00fccd" stroke-width="7.8" stroke-linecap="butt"/>
<path d="M771.4,410.4 L770.2,434.0" stroke="#000" stroke-width="2.8" stroke-linecap="butt"/>
<path d="M768.2,460.2 L767.0,483.8" stroke="#00fccd" stroke-width="7.8" stroke-linecap="butt"/>
<path d="M768.2,460.2 L767.0,483.8" stroke="#000" stroke-width="2.8" stroke-linecap="butt"/>
<path d="M795.0,420.6 L795.7,444.2" stroke="#00fccd" stroke-width="7.8" stroke-linecap="butt"/>
<path d="M795.0,420.6 L795.7,444.2" stroke="#000" stroke-width="2.8" stroke-linecap="butt"/>
<path d="M795.7,470.4 L796.9,494.6" stroke="#00fccd" stroke-width="7.8" stroke-linecap="butt"/>
<path d="M795.7,470.4 L796.9,494.6" stroke="#000" stroke-width="2.8" stroke-linecap="butt"/>
<path d="M797.6,520.1 L800.1,544.4" stroke="#00fccd" stroke-width="7.8" stroke-linecap="butt"/>
<path d="M797.6,520.1 L800.1,544.4" stroke="#000" stroke-width="2.8" stroke-linecap="butt"/>
<path d="M816.7,526.5 C816.4,528.5 815.6,534.7 814.8,538.6 C813.9,542.5 812.1,548.2 811.6,550.1" stroke="#00fccd" stroke-width="7.8" stroke-linecap="butt"/>
<path d="M816.7,526.5 C816.4,528.5 815.6,534.7 814.8,538.6 C813.9,542.5 812.1,548.2 811.6,550.1" stroke="#000" stroke-width="2.8" stroke-linecap="butt"/>
<path d="M820.5,426.4 L819.9,450.6" stroke="#00fccd" stroke-width="7.8" stroke-linecap="butt"/>
<path d="M820.5,426.4 L819.9,450.6" stroke="#000" stroke-width="2.8" stroke-linecap="butt"/>
<path d="M819.9,476.1 L818.6,500.3" stroke="#00fccd" stroke-width="7.8" stroke-linecap="butt"/>
<path d="M819.9,476.1 L818.6,500.3" stroke="#000" stroke-width="2.8" stroke-linecap="butt"/>
<path d="M740.2,383.0 L740.8,395.8" stroke="#00fccd" stroke-width="7.8" stroke-linecap="butt"/>
<path d="M740.2,383.0 L740.8,395.8" stroke="#000" stroke-width="2.8" stroke-linecap="butt"/>
<path d="M1082.8,583.0 L1091.8,570.5" stroke="#00fccd" stroke-width="7.8" stroke-linecap="butt"/>
<path d="M1082.8,583.0 L1091.8,570.5" stroke="#000" stroke-width="2.8" stroke-linecap="butt"/>
<path d="M373.1,625.2 C373.5,626.5 374.9,629.0 375.7,632.8 C376.4,636.6 377.3,645.6 377.6,648.2" stroke="#00fccd" stroke-width="7.8" stroke-linecap="butt"/>
<path d="M373.1,625.2 C373.5,626.5 374.9,629.0 375.7,632.8 C376.4,636.6 377.3,645.6 377.6,648.2" stroke="#000" stroke-width="2.8" stroke-linecap="butt"/>
<path d="M362.3,647.5 L359.7,671.1" stroke="#00fccd" stroke-width="7.8" stroke-linecap="butt"/>
<path d="M362.3,647.5 L359.7,671.1" stroke="#000" stroke-width="2.8" stroke-linecap="butt"/>
<path d="M313.2,672.4 C313.7,670.9 315.3,665.6 316.4,663.5 C317.4,661.4 318.4,659.6 319.5,659.6 C320.6,659.6 321.8,662.0 322.7,663.5 C323.6,665.0 324.3,667.8 324.6,668.6" stroke="#00fccd" stroke-width="7.8" stroke-linecap="butt"/>
<path d="M313.2,672.4 C313.7,670.9 315.3,665.6 316.4,663.5 C317.4,661.4 318.4,659.6 319.5,659.6 C320.6,659.6 321.8,662.0 322.7,663.5 C323.6,665.0 324.3,667.8 324.6,668.6" stroke="#000" stroke-width="2.8" stroke-linecap="butt"/>
<path d="M309.3,697.9 L306.2,722.1" stroke="#00fccd" stroke-width="7.8" stroke-linecap="butt"/>
<path d="M309.3,697.9 L306.2,722.1" stroke="#000" stroke-width="2.8" stroke-linecap="butt"/>
<path d="M327.8,694.1 L330.4,718.3" stroke="#00fccd" stroke-width="7.8" stroke-linecap="butt"/>
<path d="M327.8,694.1 L330.4,718.3" stroke="#000" stroke-width="2.8" stroke-linecap="butt"/>
<path d="M357.8,697.3 L355.9,721.5" stroke="#00fccd" stroke-width="7.8" stroke-linecap="butt"/>
<path d="M357.8,697.3 L355.9,721.5" stroke="#000" stroke-width="2.8" stroke-linecap="butt"/>
<path d="M303.0,747.6 C302.6,750.0 301.2,757.5 300.4,761.7 C299.5,765.9 298.3,771.1 297.9,773.0" stroke="#00fccd" stroke-width="7.8" stroke-linecap="butt"/>
<path d="M303.0,747.6 C302.6,750.0 301.2,757.5 300.4,761.7 C299.5,765.9 298.3,771.1 297.9,773.0" stroke="#000" stroke-width="2.8" stroke-linecap="butt"/>
<path d="M331.7,743.8 L333.6,766.8" stroke="#00fccd" stroke-width="7.8" stroke-linecap="butt"/>
<path d="M331.7,743.8 L333.6,766.8" stroke="#000" stroke-width="2.8" stroke-linecap="butt"/>
<path d="M354.6,747.0 C354.3,749.5 353.2,757.4 352.7,761.7 C352.2,766.0 351.6,771.1 351.4,773.0" stroke="#00fccd" stroke-width="7.8" stroke-linecap="butt"/>
<path d="M354.6,747.0 C354.3,749.5 353.2,757.4 352.7,761.7 C352.2,766.0 351.6,771.1 351.4,773.0" stroke="#000" stroke-width="2.8" stroke-linecap="butt"/>
<path d="M379.5,674.9 L380.1,697.9" stroke="#00fccd" stroke-width="7.8" stroke-linecap="butt"/>
<path d="M379.5,674.9 L380.1,697.9" stroke="#000" stroke-width="2.8" stroke-linecap="butt"/>
<path d="M380.1,724.7 L381.4,734.9" stroke="#00fccd" stroke-width="7.8" stroke-linecap="butt"/>
<path d="M380.1,724.7 L381.4,734.9" stroke="#000" stroke-width="2.8" stroke-linecap="butt"/>
<path d="M248.1,764.2 L248.1,773.0" stroke="#00fccd" stroke-width="7.8" stroke-linecap="butt"/>
<path d="M248.1,764.2 L248.1,773.0" stroke="#000" stroke-width="2.8" stroke-linecap="butt"/>
<path d="M278.5,769.5 L281.0,768.0" stroke="#00fccd" stroke-width="7.8" stroke-linecap="butt"/>
<path d="M278.5,769.5 L281.0,768.0" stroke="#000" stroke-width="2.8" stroke-linecap="butt"/>
<path d="M641.2,629.0 C641.5,626.9 642.4,619.9 643.1,616.3 C643.8,612.7 645.2,608.8 645.6,607.3" stroke="#00fccd" stroke-width="7.8" stroke-linecap="butt"/>
<path d="M641.2,629.0 C641.5,626.9 642.4,619.9 643.1,616.3 C643.8,612.7 645.2,608.8 645.6,607.3" stroke="#000" stroke-width="2.8" stroke-linecap="butt"/>
<path d="M645.6,599.0 C646.2,598.2 648.1,594.6 649.4,594.5 C650.7,594.4 652.6,597.8 653.3,598.5" stroke="#00fccd" stroke-width="7.8" stroke-linecap="butt"/>
<path d="M645.6,599.0 C646.2,598.2 648.1,594.6 649.4,594.5 C650.7,594.4 652.6,597.8 653.3,598.5" stroke="#000" stroke-width="2.8" stroke-linecap="butt"/>
<path d="M653.3,607.3 C653.8,609.2 655.5,615.0 656.5,618.8 C657.5,622.6 659.1,628.4 659.6,630.3" stroke="#00fccd" stroke-width="7.8" stroke-linecap="butt"/>
<path d="M653.3,607.3 C653.8,609.2 655.5,615.0 656.5,618.8 C657.5,622.6 659.1,628.4 659.6,630.3" stroke="#000" stroke-width="2.8" stroke-linecap="butt"/>
<path d="M659.6,640.5 L660.9,647.5" stroke="#00fccd" stroke-width="7.8" stroke-linecap="butt"/>
<path d="M659.6,640.5 L660.9,647.5" stroke="#000" stroke-width="2.8" stroke-linecap="butt"/>
<path d="M661.6,657.1 L663.5,681.3" stroke="#00fccd" stroke-width="7.8" stroke-linecap="butt"/>
<path d="M661.6,657.1 L663.5,681.3" stroke="#000" stroke-width="2.8" stroke-linecap="butt"/>
<path d="M663.5,691.5 L664.1,698.5" stroke="#00fccd" stroke-width="7.8" stroke-linecap="butt"/>
<path d="M663.5,691.5 L664.1,698.5" stroke="#000" stroke-width="2.8" stroke-linecap="butt"/>
<path d="M664.4,708.1 L666.0,731.1" stroke="#00fccd" stroke-width="7.8" stroke-linecap="butt"/>
<path d="M664.4,708.1 L666.0,731.1" stroke="#000" stroke-width="2.8" stroke-linecap="butt"/>
<path d="M666.4,741.3 L666.9,747.6" stroke="#00fccd" stroke-width="7.8" stroke-linecap="butt"/>
<path d="M666.4,741.3 L666.9,747.6" stroke="#000" stroke-width="2.8" stroke-linecap="butt"/>
<path d="M667.3,757.8 L667.9,769.3" stroke="#00fccd" stroke-width="7.8" stroke-linecap="butt"/>
<path d="M667.3,757.8 L667.9,769.3" stroke="#000" stroke-width="2.8" stroke-linecap="butt"/>
<path d="M686.0,773.0 L687.9,746.4" stroke="#00fccd" stroke-width="7.8" stroke-linecap="butt"/>
<path d="M686.0,773.0 L687.9,746.4" stroke="#000" stroke-width="2.8" stroke-linecap="butt"/>
<path d="M687.9,736.8 L688.5,729.8" stroke="#00fccd" stroke-width="7.8" stroke-linecap="butt"/>
<path d="M687.9,736.8 L688.5,729.8" stroke="#000" stroke-width="2.8" stroke-linecap="butt"/>
<path d="M688.9,720.2 L690.2,696.6" stroke="#00fccd" stroke-width="7.8" stroke-linecap="butt"/>
<path d="M688.9,720.2 L690.2,696.6" stroke="#000" stroke-width="2.8" stroke-linecap="butt"/>
<path d="M690.4,686.4 L691.1,680.0" stroke="#00fccd" stroke-width="7.8" stroke-linecap="butt"/>
<path d="M690.4,686.4 L691.1,680.0" stroke="#000" stroke-width="2.8" stroke-linecap="butt"/>
<path d="M691.7,669.8 L694.3,647.5" stroke="#00fccd" stroke-width="7.8" stroke-linecap="butt"/>
<path d="M691.7,669.8 L694.3,647.5" stroke="#000" stroke-width="2.8" stroke-linecap="butt"/>
<path d="M694.9,637.9 L698.7,630.9" stroke="#00fccd" stroke-width="7.8" stroke-linecap="butt"/>
<path d="M694.9,637.9 L698.7,630.9" stroke="#000" stroke-width="2.8" stroke-linecap="butt"/>
<path d="M704.5,628.4 C704.9,629.1 706.1,630.6 707.0,632.8 C707.9,635.0 709.0,638.7 709.6,641.8 C710.2,644.9 710.6,649.7 710.8,651.3" stroke="#00fccd" stroke-width="7.8" stroke-linecap="butt"/>
<path d="M704.5,628.4 C704.9,629.1 706.1,630.6 707.0,632.8 C707.9,635.0 709.0,638.7 709.6,641.8 C710.2,644.9 710.6,649.7 710.8,651.3" stroke="#000" stroke-width="2.8" stroke-linecap="butt"/>
<path d="M710.2,661.5 L710.6,668.6" stroke="#00fccd" stroke-width="7.8" stroke-linecap="butt"/>
<path d="M710.2,661.5 L710.6,668.6" stroke="#000" stroke-width="2.8" stroke-linecap="butt"/>
<path d="M711.1,678.8 L712.8,701.7" stroke="#00fccd" stroke-width="7.8" stroke-linecap="butt"/>
<path d="M711.1,678.8 L712.8,701.7" stroke="#000" stroke-width="2.8" stroke-linecap="butt"/>
<path d="M712.8,711.9 L713.4,718.3" stroke="#00fccd" stroke-width="7.8" stroke-linecap="butt"/>
<path d="M712.8,711.9 L713.4,718.3" stroke="#000" stroke-width="2.8" stroke-linecap="butt"/>
<path d="M713.7,728.5 L715.3,752.1" stroke="#00fccd" stroke-width="7.8" stroke-linecap="butt"/>
<path d="M713.7,728.5 L715.3,752.1" stroke="#000" stroke-width="2.8" stroke-linecap="butt"/>
<path d="M712.8,761.9 L718.5,762.3" stroke="#00fccd" stroke-width="7.8" stroke-linecap="butt"/>
<path d="M712.8,761.9 L718.5,762.3" stroke="#000" stroke-width="2.8" stroke-linecap="butt"/>
<path d="M735.1,773.0 L737.6,746.4" stroke="#00fccd" stroke-width="7.8" stroke-linecap="butt"/>
<path d="M735.1,773.0 L737.6,746.4" stroke="#000" stroke-width="2.8" stroke-linecap="butt"/>
<path d="M737.6,736.8 L738.9,729.8" stroke="#00fccd" stroke-width="7.8" stroke-linecap="butt"/>
<path d="M737.6,736.8 L738.9,729.8" stroke="#000" stroke-width="2.8" stroke-linecap="butt"/>
<path d="M739.5,719.6 L742.7,696.0" stroke="#00fccd" stroke-width="7.8" stroke-linecap="butt"/>
<path d="M739.5,719.6 L742.7,696.0" stroke="#000" stroke-width="2.8" stroke-linecap="butt"/>
<path d="M742.7,686.4 L744.6,679.4" stroke="#00fccd" stroke-width="7.8" stroke-linecap="butt"/>
<path d="M742.7,686.4 L744.6,679.4" stroke="#000" stroke-width="2.8" stroke-linecap="butt"/>
<path d="M745.9,669.8 C746.3,668.3 747.5,663.1 748.5,660.9 C749.5,658.7 750.5,656.6 751.7,656.4 C752.9,656.2 754.5,658.4 755.5,659.6 C756.5,660.8 757.1,662.9 757.4,663.5" stroke="#00fccd" stroke-width="7.8" stroke-linecap="butt"/>
<path d="M745.9,669.8 C746.3,668.3 747.5,663.1 748.5,660.9 C749.5,658.7 750.5,656.6 751.7,656.4 C752.9,656.2 754.5,658.4 755.5,659.6 C756.5,660.8 757.1,662.9 757.4,663.5" stroke="#000" stroke-width="2.8" stroke-linecap="butt"/>
<path d="M756.8,673.0 L759.3,680.0" stroke="#00fccd" stroke-width="7.8" stroke-linecap="butt"/>
<path d="M756.8,673.0 L759.3,680.0" stroke="#000" stroke-width="2.8" stroke-linecap="butt"/>
<path d="M760.0,689.6 L763.1,713.2" stroke="#00fccd" stroke-width="7.8" stroke-linecap="butt"/>
<path d="M760.0,689.6 L763.1,713.2" stroke="#000" stroke-width="2.8" stroke-linecap="butt"/>
<path d="M763.1,722.8 L764.4,729.8" stroke="#00fccd" stroke-width="7.8" stroke-linecap="butt"/>
<path d="M763.1,722.8 L764.4,729.8" stroke="#000" stroke-width="2.8" stroke-linecap="butt"/>
<path d="M765.1,739.3 L768.2,762.9" stroke="#00fccd" stroke-width="7.8" stroke-linecap="butt"/>
<path d="M765.1,739.3 L768.2,762.9" stroke="#000" stroke-width="2.8" stroke-linecap="butt"/>
<path d="M780.5,773.0 L785.5,747.0" stroke="#00fccd" stroke-width="7.8" stroke-linecap="butt"/>
<path d="M780.5,773.0 L785.5,747.0" stroke="#000" stroke-width="2.8" stroke-linecap="butt"/>
<path d="M786.1,737.4 L788.0,730.4" stroke="#00fccd" stroke-width="7.8" stroke-linecap="butt"/>
<path d="M786.1,737.4 L788.0,730.4" stroke="#000" stroke-width="2.8" stroke-linecap="butt"/>
<path d="M789.3,720.9 L794.4,697.9" stroke="#00fccd" stroke-width="7.8" stroke-linecap="butt"/>
<path d="M789.3,720.9 L794.4,697.9" stroke="#000" stroke-width="2.8" stroke-linecap="butt"/>
<path d="M794.4,688.3 L797.6,682.0" stroke="#00fccd" stroke-width="7.8" stroke-linecap="butt"/>
<path d="M794.4,688.3 L797.6,682.0" stroke="#000" stroke-width="2.8" stroke-linecap="butt"/>
<path d="M804.6,688.3 C805.1,690.1 806.7,695.3 807.8,699.2 C808.9,703.1 810.5,709.8 811.0,711.9" stroke="#00fccd" stroke-width="7.8" stroke-linecap="butt"/>
<path d="M804.6,688.3 C805.1,690.1 806.7,695.3 807.8,699.2 C808.9,703.1 810.5,709.8 811.0,711.9" stroke="#000" stroke-width="2.8" stroke-linecap="butt"/>
<path d="M810.3,722.1 L812.9,728.5" stroke="#00fccd" stroke-width="7.8" stroke-linecap="butt"/>
<path d="M810.3,722.1 L812.9,728.5" stroke="#000" stroke-width="2.8" stroke-linecap="butt"/>
<path d="M813.5,738.7 C814.0,741.0 815.4,748.9 816.7,752.7 C818.0,756.5 820.5,760.2 821.2,761.7" stroke="#00fccd" stroke-width="7.8" stroke-linecap="butt"/>
<path d="M813.5,738.7 C814.0,741.0 815.4,748.9 816.7,752.7 C818.0,756.5 820.5,760.2 821.2,761.7" stroke="#000" stroke-width="2.8" stroke-linecap="butt"/>
<path d="M826.9,759.1 L830.1,753.4" stroke="#00fccd" stroke-width="7.8" stroke-linecap="butt"/>
<path d="M826.9,759.1 L830.1,753.4" stroke="#000" stroke-width="2.8" stroke-linecap="butt"/>
<path d="M830.7,743.8 C831.4,741.9 833.3,736.1 834.6,732.3 C835.9,728.5 837.8,722.8 838.4,720.9" stroke="#00fccd" stroke-width="7.8" stroke-linecap="butt"/>
<path d="M830.7,743.8 C831.4,741.9 833.3,736.1 834.6,732.3 C835.9,728.5 837.8,722.8 838.4,720.9" stroke="#000" stroke-width="2.8" stroke-linecap="butt"/>
<path d="M837.1,711.3 L840.3,704.9" stroke="#00fccd" stroke-width="7.8" stroke-linecap="butt"/>
<path d="M837.1,711.3 L840.3,704.9" stroke="#000" stroke-width="2.8" stroke-linecap="butt"/>
<path d="M843.5,697.9 C844.0,697.4 845.6,694.7 846.7,694.7 C847.8,694.7 848.8,696.1 849.9,697.9 C851.0,699.7 852.1,702.8 853.1,705.6 C854.1,708.4 855.2,713.0 855.6,714.5" stroke="#00fccd" stroke-width="7.8" stroke-linecap="butt"/>
<path d="M843.5,697.9 C844.0,697.4 845.6,694.7 846.7,694.7 C847.8,694.7 848.8,696.1 849.9,697.9 C851.0,699.7 852.1,702.8 853.1,705.6 C854.1,708.4 855.2,713.0 855.6,714.5" stroke="#000" stroke-width="2.8" stroke-linecap="butt"/>
<path d="M855.6,724.7 L858.2,731.1" stroke="#00fccd" stroke-width="7.8" stroke-linecap="butt"/>
<path d="M855.6,724.7 L858.2,731.1" stroke="#000" stroke-width="2.8" stroke-linecap="butt"/>
<path d="M858.8,740.6 C859.3,742.6 860.8,749.4 862.0,752.7 C863.2,756.0 864.4,758.8 865.8,760.4 C867.2,762.0 869.5,762.0 870.3,762.3" stroke="#00fccd" stroke-width="7.8" stroke-linecap="butt"/>
<path d="M858.8,740.6 C859.3,742.6 860.8,749.4 862.0,752.7 C863.2,756.0 864.4,758.8 865.8,760.4 C867.2,762.0 869.5,762.0 870.3,762.3" stroke="#000" stroke-width="2.8" stroke-linecap="butt"/>
<path d="M845.4,601.6 L845.4,625.2" stroke="#00fccd" stroke-width="7.8" stroke-linecap="butt"/>
<path d="M845.4,601.6 L845.4,625.2" stroke="#000" stroke-width="2.8" stroke-linecap="butt"/>
<path d="M846.0,647.5 L846.0,674.9" stroke="#00fccd" stroke-width="7.8" stroke-linecap="butt"/>
<path d="M846.0,647.5 L846.0,674.9" stroke="#000" stroke-width="2.8" stroke-linecap="butt"/>
<path d="M846.0,701.1 L846.0,724.7" stroke="#00fccd" stroke-width="7.8" stroke-linecap="butt"/>
<path d="M846.0,701.1 L846.0,724.7" stroke="#000" stroke-width="2.8" stroke-linecap="butt"/>
<path d="M846.0,747.6 L846.0,763.0" stroke="#00fccd" stroke-width="7.8" stroke-linecap="butt"/>
<path d="M846.0,747.6 L846.0,763.0" stroke="#000" stroke-width="2.8" stroke-linecap="butt"/>
<path d="M852.4,597.8 C851.9,599.8 849.9,606.0 849.2,609.9 C848.5,613.8 848.2,619.5 848.0,621.4" stroke="#00fccd" stroke-width="7.8" stroke-linecap="butt"/>
<path d="M852.4,597.8 C851.9,599.8 849.9,606.0 849.2,609.9 C848.5,613.8 848.2,619.5 848.0,621.4" stroke="#000" stroke-width="2.8" stroke-linecap="butt"/>
<path d="M871.0,587.6 L871.6,622.0" stroke="#00fccd" stroke-width="7.8" stroke-linecap="butt"/>
<path d="M871.0,587.6 L871.6,622.0" stroke="#000" stroke-width="2.8" stroke-linecap="butt"/>
<path d="M871.6,638.0 L871.6,672.4" stroke="#00fccd" stroke-width="7.8" stroke-linecap="butt"/>
<path d="M871.6,638.0 L871.6,672.4" stroke="#000" stroke-width="2.8" stroke-linecap="butt"/>
<path d="M871.6,687.7 L871.6,722.1" stroke="#00fccd" stroke-width="7.8" stroke-linecap="butt"/>
<path d="M871.6,687.7 L871.6,722.1" stroke="#000" stroke-width="2.8" stroke-linecap="butt"/>
<path d="M871.6,737.4 C871.6,739.8 871.4,748.9 871.6,752.0 C871.8,755.1 871.9,756.7 872.8,756.0 C873.6,755.3 876.1,749.0 876.7,747.6" stroke="#00fccd" stroke-width="7.8" stroke-linecap="butt"/>
<path d="M871.6,737.4 C871.6,739.8 871.4,748.9 871.6,752.0 C871.8,755.1 871.9,756.7 872.8,756.0 C873.6,755.3 876.1,749.0 876.7,747.6" stroke="#000" stroke-width="2.8" stroke-linecap="butt"/>
<path d="M901.5,643.1 L899.0,667.3" stroke="#00fccd" stroke-width="7.8" stroke-linecap="butt"/>
<path d="M901.5,643.1 L899.0,667.3" stroke="#000" stroke-width="2.8" stroke-linecap="butt"/>
<path d="M911.1,617.5 C911.7,618.1 913.8,619.0 914.9,621.4 C916.0,623.8 916.8,628.2 917.5,631.6 C918.2,635.0 919.1,640.1 919.4,641.8" stroke="#00fccd" stroke-width="7.8" stroke-linecap="butt"/>
<path d="M911.1,617.5 C911.7,618.1 913.8,619.0 914.9,621.4 C916.0,623.8 916.8,628.2 917.5,631.6 C918.2,635.0 919.1,640.1 919.4,641.8" stroke="#000" stroke-width="2.8" stroke-linecap="butt"/>
<path d="M882.4,703.0 L888.1,697.3" stroke="#00fccd" stroke-width="7.8" stroke-linecap="butt"/>
<path d="M882.4,703.0 L888.1,697.3" stroke="#000" stroke-width="2.8" stroke-linecap="butt"/>
<path d="M884.3,713.2 C883.8,715.3 882.2,722.0 881.1,726.0 C880.0,730.0 878.4,735.5 877.9,737.4" stroke="#00fccd" stroke-width="7.8" stroke-linecap="butt"/>
<path d="M884.3,713.2 C883.8,715.3 882.2,722.0 881.1,726.0 C880.0,730.0 878.4,735.5 877.9,737.4" stroke="#000" stroke-width="2.8" stroke-linecap="butt"/>
<path d="M896.6,708.0 L898.5,720.0" stroke="#00fccd" stroke-width="7.8" stroke-linecap="butt"/>
<path d="M896.6,708.0 L898.5,720.0" stroke="#000" stroke-width="2.8" stroke-linecap="butt"/>
<path d="M899.5,726.0 L900.5,731.0" stroke="#00fccd" stroke-width="7.8" stroke-linecap="butt"/>
<path d="M899.5,726.0 L900.5,731.0" stroke="#000" stroke-width="2.8" stroke-linecap="butt"/>
<path d="M902.0,737.0 L906.0,757.0" stroke="#00fccd" stroke-width="7.8" stroke-linecap="butt"/>
<path d="M902.0,737.0 L906.0,757.0" stroke="#000" stroke-width="2.8" stroke-linecap="butt"/>
<path d="M893.4,742.5 L896.0,773.0" stroke="#00fccd" stroke-width="7.8" stroke-linecap="butt"/>
<path d="M893.4,742.5 L896.0,773.0" stroke="#000" stroke-width="2.8" stroke-linecap="butt"/>
<path d="M904.9,731.1 L908.7,755.3" stroke="#00fccd" stroke-width="7.8" stroke-linecap="butt"/>
<path d="M904.9,731.1 L908.7,755.3" stroke="#000" stroke-width="2.8" stroke-linecap="butt"/>
<path d="M906.2,765.5 L911.3,771.0" stroke="#00fccd" stroke-width="7.8" stroke-linecap="butt"/>
<path d="M906.2,765.5 L911.3,771.0" stroke="#000" stroke-width="2.8" stroke-linecap="butt"/>
<path d="M925.3,743.8 L920.2,773.0" stroke="#00fccd" stroke-width="7.8" stroke-linecap="butt"/>
<path d="M925.3,743.8 L920.2,773.0" stroke="#000" stroke-width="2.8" stroke-linecap="butt"/>
<path d="M931.7,697.9 L929.1,722.1" stroke="#00fccd" stroke-width="7.8" stroke-linecap="butt"/>
<path d="M931.7,697.9 L929.1,722.1" stroke="#000" stroke-width="2.8" stroke-linecap="butt"/>
<path d="M934.2,682.0 L931.1,690.2" stroke="#00fccd" stroke-width="7.8" stroke-linecap="butt"/>
<path d="M934.2,682.0 L931.1,690.2" stroke="#000" stroke-width="2.8" stroke-linecap="butt"/>
<path d="M933.6,672.4 C934.2,670.9 936.1,665.5 937.4,663.5 C938.7,661.5 940.0,660.3 941.3,660.3 C942.6,660.3 944.0,661.7 945.1,663.5 C946.2,665.3 947.2,669.8 947.6,671.1" stroke="#00fccd" stroke-width="7.8" stroke-linecap="butt"/>
<path d="M933.6,672.4 C934.2,670.9 936.1,665.5 937.4,663.5 C938.7,661.5 940.0,660.3 941.3,660.3 C942.6,660.3 944.0,661.7 945.1,663.5 C946.2,665.3 947.2,669.8 947.6,671.1" stroke="#000" stroke-width="2.8" stroke-linecap="butt"/>
<path d="M945.7,681.3 L948.9,687.7" stroke="#00fccd" stroke-width="7.8" stroke-linecap="butt"/>
<path d="M945.7,681.3 L948.9,687.7" stroke="#000" stroke-width="2.8" stroke-linecap="butt"/>
<path d="M948.9,696.6 L950.2,720.9" stroke="#00fccd" stroke-width="7.8" stroke-linecap="butt"/>
<path d="M948.9,696.6 L950.2,720.9" stroke="#000" stroke-width="2.8" stroke-linecap="butt"/>
<path d="M954.0,669.8 C954.4,667.7 955.5,660.4 956.6,657.1 C957.7,653.8 959.0,651.1 960.4,650.1 C961.8,649.1 964.1,651.1 964.9,651.3" stroke="#00fccd" stroke-width="7.8" stroke-linecap="butt"/>
<path d="M954.0,669.8 C954.4,667.7 955.5,660.4 956.6,657.1 C957.7,653.8 959.0,651.1 960.4,650.1 C961.8,649.1 964.1,651.1 964.9,651.3" stroke="#000" stroke-width="2.8" stroke-linecap="butt"/>
<path d="M952.7,731.1 L954.0,737.4" stroke="#00fccd" stroke-width="7.8" stroke-linecap="butt"/>
<path d="M952.7,731.1 L954.0,737.4" stroke="#000" stroke-width="2.8" stroke-linecap="butt"/>
<path d="M954.0,746.4 L957.2,768.0" stroke="#00fccd" stroke-width="7.8" stroke-linecap="butt"/>
<path d="M954.0,746.4 L957.2,768.0" stroke="#000" stroke-width="2.8" stroke-linecap="butt"/>
<path d="M945.1,746.4 L944.4,773.0" stroke="#00fccd" stroke-width="7.8" stroke-linecap="butt"/>
<path d="M945.1,746.4 L944.4,773.0" stroke="#000" stroke-width="2.8" stroke-linecap="butt"/>
<path d="M968.0,678.1 L971.2,701.7" stroke="#00fccd" stroke-width="7.8" stroke-linecap="butt"/>
<path d="M968.0,678.1 L971.2,701.7" stroke="#000" stroke-width="2.8" stroke-linecap="butt"/>
<path d="M980.2,680.0 L981.4,687.7" stroke="#00fccd" stroke-width="7.8" stroke-linecap="butt"/>
<path d="M980.2,680.0 L981.4,687.7" stroke="#000" stroke-width="2.8" stroke-linecap="butt"/>
<path d="M979.5,696.0 L977.0,720.2" stroke="#00fccd" stroke-width="7.8" stroke-linecap="butt"/>
<path d="M979.5,696.0 L977.0,720.2" stroke="#000" stroke-width="2.8" stroke-linecap="butt"/>
<path d="M975.7,727.2 L974.4,737.4" stroke="#00fccd" stroke-width="7.8" stroke-linecap="butt"/>
<path d="M975.7,727.2 L974.4,737.4" stroke="#000" stroke-width="2.8" stroke-linecap="butt"/>
<path d="M975.1,746.4 L973.1,773.0" stroke="#00fccd" stroke-width="7.8" stroke-linecap="butt"/>
<path d="M975.1,746.4 L973.1,773.0" stroke="#000" stroke-width="2.8" stroke-linecap="butt"/>
<path d="M986.5,646.9 C986.0,649.0 984.1,655.6 983.3,659.6 C982.4,663.6 981.7,669.2 981.4,671.1" stroke="#00fccd" stroke-width="7.8" stroke-linecap="butt"/>
<path d="M986.5,646.9 C986.0,649.0 984.1,655.6 983.3,659.6 C982.4,663.6 981.7,669.2 981.4,671.1" stroke="#000" stroke-width="2.8" stroke-linecap="butt"/>
<path d="M985.3,636.7 L991.6,630.3" stroke="#00fccd" stroke-width="7.8" stroke-linecap="butt"/>
<path d="M985.3,636.7 L991.6,630.3" stroke="#000" stroke-width="2.8" stroke-linecap="butt"/>
<path d="M996.7,634.1 C997.1,635.8 998.5,640.2 999.3,644.3 C1000.0,648.3 1000.9,656.0 1001.2,658.4" stroke="#00fccd" stroke-width="7.8" stroke-linecap="butt"/>
<path d="M996.7,634.1 C997.1,635.8 998.5,640.2 999.3,644.3 C1000.0,648.3 1000.9,656.0 1001.2,658.4" stroke="#000" stroke-width="2.8" stroke-linecap="butt"/>
<path d="M999.9,668.6 L1001.2,674.9" stroke="#00fccd" stroke-width="7.8" stroke-linecap="butt"/>
<path d="M999.9,668.6 L1001.2,674.9" stroke="#000" stroke-width="2.8" stroke-linecap="butt"/>
<path d="M1001.2,683.9 L1001.8,705.6" stroke="#00fccd" stroke-width="7.8" stroke-linecap="butt"/>
<path d="M1001.2,683.9 L1001.8,705.6" stroke="#000" stroke-width="2.8" stroke-linecap="butt"/>
<path d="M998.7,711.9 L996.1,720.9" stroke="#00fccd" stroke-width="7.8" stroke-linecap="butt"/>
<path d="M998.7,711.9 L996.1,720.9" stroke="#000" stroke-width="2.8" stroke-linecap="butt"/>
<path d="M994.8,747.6 L991.0,773.0" stroke="#00fccd" stroke-width="7.8" stroke-linecap="butt"/>
<path d="M994.8,747.6 L991.0,773.0" stroke="#000" stroke-width="2.8" stroke-linecap="butt"/>
<path d="M1001.2,718.3 C1001.5,722.5 1002.5,737.0 1003.1,743.8 C1003.7,750.6 1004.7,756.5 1005.0,759.1" stroke="#00fccd" stroke-width="7.8" stroke-linecap="butt"/>
<path d="M1001.2,718.3 C1001.5,722.5 1002.5,737.0 1003.1,743.8 C1003.7,750.6 1004.7,756.5 1005.0,759.1" stroke="#000" stroke-width="2.8" stroke-linecap="butt"/>
<path d="M1011.4,681.3 C1012.0,683.2 1014.0,688.9 1015.2,692.8 C1016.4,696.7 1017.9,702.9 1018.4,704.9" stroke="#00fccd" stroke-width="7.8" stroke-linecap="butt"/>
<path d="M1011.4,681.3 C1012.0,683.2 1014.0,688.9 1015.2,692.8 C1016.4,696.7 1017.9,702.9 1018.4,704.9" stroke="#000" stroke-width="2.8" stroke-linecap="butt"/>
<path d="M1020.3,731.1 L1023.5,742.5" stroke="#00fccd" stroke-width="7.8" stroke-linecap="butt"/>
<path d="M1020.3,731.1 L1023.5,742.5" stroke="#000" stroke-width="2.8" stroke-linecap="butt"/>
<path d="M1026.7,743.8 L1025.4,773.0" stroke="#00fccd" stroke-width="7.8" stroke-linecap="butt"/>
<path d="M1026.7,743.8 L1025.4,773.0" stroke="#000" stroke-width="2.8" stroke-linecap="butt"/>
<path d="M1031.2,644.3 C1030.8,648.1 1029.3,660.9 1028.6,667.3 C1027.8,673.7 1027.0,680.0 1026.7,682.6" stroke="#00fccd" stroke-width="7.8" stroke-linecap="butt"/>
<path d="M1031.2,644.3 C1030.8,648.1 1029.3,660.9 1028.6,667.3 C1027.8,673.7 1027.0,680.0 1026.7,682.6" stroke="#000" stroke-width="2.8" stroke-linecap="butt"/>
<path d="M1026.1,692.8 L1024.2,718.3" stroke="#00fccd" stroke-width="7.8" stroke-linecap="butt"/>
<path d="M1026.1,692.8 L1024.2,718.3" stroke="#000" stroke-width="2.8" stroke-linecap="butt"/>
<path d="M1030.5,629.0 L1033.1,635.4" stroke="#00fccd" stroke-width="7.8" stroke-linecap="butt"/>
<path d="M1030.5,629.0 L1033.1,635.4" stroke="#000" stroke-width="2.8" stroke-linecap="butt"/>
<path d="M1034.4,617.5 C1034.9,615.6 1036.0,609.7 1037.6,606.1 C1039.2,602.5 1042.9,597.6 1043.9,595.9" stroke="#00fccd" stroke-width="7.8" stroke-linecap="butt"/>
<path d="M1034.4,617.5 C1034.9,615.6 1036.0,609.7 1037.6,606.1 C1039.2,602.5 1042.9,597.6 1043.9,595.9" stroke="#000" stroke-width="2.8" stroke-linecap="butt"/>
<path d="M1045.8,585.7 L1051.0,581.8" stroke="#00fccd" stroke-width="7.8" stroke-linecap="butt"/>
<path d="M1045.8,585.7 L1051.0,581.8" stroke="#000" stroke-width="2.8" stroke-linecap="butt"/>
<path d="M1043.3,726.6 C1042.8,728.6 1041.2,735.0 1040.1,738.7 C1039.0,742.4 1037.4,747.2 1036.9,748.9" stroke="#00fccd" stroke-width="7.8" stroke-linecap="butt"/>
<path d="M1043.3,726.6 C1042.8,728.6 1041.2,735.0 1040.1,738.7 C1039.0,742.4 1037.4,747.2 1036.9,748.9" stroke="#000" stroke-width="2.8" stroke-linecap="butt"/>
<path d="M1091.1,713.2 C1090.6,715.1 1088.9,720.9 1087.9,724.7 C1087.0,728.5 1085.8,734.3 1085.4,736.2" stroke="#00fccd" stroke-width="7.8" stroke-linecap="butt"/>
<path d="M1091.1,713.2 C1090.6,715.1 1088.9,720.9 1087.9,724.7 C1087.0,728.5 1085.8,734.3 1085.4,736.2" stroke="#000" stroke-width="2.8" stroke-linecap="butt"/>
<path d="M1066.3,733.6 C1066.8,735.5 1068.4,741.7 1069.4,745.1 C1070.5,748.5 1071.5,752.3 1072.6,754.0 C1073.7,755.7 1074.9,756.4 1075.8,755.3 C1076.7,754.2 1077.4,748.9 1077.7,747.6" stroke="#00fccd" stroke-width="7.8" stroke-linecap="butt"/>
<path d="M1066.3,733.6 C1066.8,735.5 1068.4,741.7 1069.4,745.1 C1070.5,748.5 1071.5,752.3 1072.6,754.0 C1073.7,755.7 1074.9,756.4 1075.8,755.3 C1076.7,754.2 1077.4,748.9 1077.7,747.6" stroke="#000" stroke-width="2.8" stroke-linecap="butt"/>
</g>
<rect x="240.00" y="191.70" width="853.30" height="579.90" fill="none" stroke="#000" stroke-width="2.2222222222222223" stroke-linejoin="miter"/>
<text transform="translate(230.00,745.90)" x="-29.05" y="0" font-size="29.44" textLength="29.05" lengthAdjust="spacingAndGlyphs" fill="#000" >-Z</text>
<text transform="translate(1103.00,745.90)" x="0.00" y="0" font-size="29.44" textLength="17.67" lengthAdjust="spacingAndGlyphs" fill="#000" >0</text>
<text transform="translate(230.00,673.40)" x="-80.71" y="0" font-size="29.44" textLength="80.71" lengthAdjust="spacingAndGlyphs" fill="#000" >-Z/+X</text>
<text transform="translate(1103.00,673.40)" x="0.00" y="0" font-size="29.44" textLength="35.35" lengthAdjust="spacingAndGlyphs" fill="#000" >45</text>
<text transform="translate(230.00,600.90)" x="-42.30" y="0" font-size="29.44" textLength="42.30" lengthAdjust="spacingAndGlyphs" fill="#000" >+X</text>
<text transform="translate(1103.00,600.90)" x="0.00" y="0" font-size="29.44" textLength="35.35" lengthAdjust="spacingAndGlyphs" fill="#000" >90</text>
<text transform="translate(230.00,528.40)" x="-93.97" y="0" font-size="29.44" textLength="93.97" lengthAdjust="spacingAndGlyphs" fill="#000" >+X/+Z</text>
<text transform="translate(1103.00,528.40)" x="0.00" y="0" font-size="29.44" textLength="53.02" lengthAdjust="spacingAndGlyphs" fill="#000" >135</text>
<text transform="translate(230.00,455.90)" x="-42.30" y="0" font-size="29.44" textLength="42.30" lengthAdjust="spacingAndGlyphs" fill="#000" >+Z</text>
<text transform="translate(1103.00,455.90)" x="0.00" y="0" font-size="29.44" textLength="53.02" lengthAdjust="spacingAndGlyphs" fill="#000" >180</text>
<text transform="translate(230.00,383.40)" x="-79.33" y="0" font-size="29.44" textLength="79.33" lengthAdjust="spacingAndGlyphs" fill="#000" >+Z/-X</text>
<text transform="translate(1103.00,383.40)" x="0.00" y="0" font-size="29.44" textLength="53.02" lengthAdjust="spacingAndGlyphs" fill="#000" >225</text>
<text transform="translate(230.00,310.90)" x="-27.66" y="0" font-size="29.44" textLength="27.66" lengthAdjust="spacingAndGlyphs" fill="#000" >-X</text>
<text transform="translate(1103.00,310.90)" x="0.00" y="0" font-size="29.44" textLength="53.02" lengthAdjust="spacingAndGlyphs" fill="#000" >270</text>
<text transform="translate(230.00,238.40)" x="-66.07" y="0" font-size="29.44" textLength="66.07" lengthAdjust="spacingAndGlyphs" fill="#000" >-X/-Z</text>
<text transform="translate(1103.00,238.40)" x="0.00" y="0" font-size="29.44" textLength="53.02" lengthAdjust="spacingAndGlyphs" fill="#000" >315</text>
<text transform="translate(119.50,481.60) rotate(-90)" x="-56.42" y="0" font-size="29.44" textLength="112.85" lengthAdjust="spacingAndGlyphs" fill="#000" >S/C Axis</text>
<text transform="translate(1184.00,482.60) rotate(-90)" x="-204.66" y="0" font-size="23.56" textLength="409.32" lengthAdjust="spacingAndGlyphs" fill="#000" >Angle from -Z axis (towards +X axis)</text>
<line x1="307.2" y1="163.2" x2="383.5" y2="163.2" stroke="#00fccd" stroke-width="8.3" stroke-dasharray="26 25"/>
<line x1="307.2" y1="163.2" x2="383.5" y2="163.2" stroke="#000" stroke-width="2.8" stroke-dasharray="26 25"/>
<text transform="translate(413.00,173.20)" x="0.00" y="0" font-size="29.44" textLength="120.73" lengthAdjust="spacingAndGlyphs" fill="#000" >Anti-ram</text>
<line x1="585.8" y1="163.2" x2="677" y2="163.2" stroke="#00fccd" stroke-width="8.3"/>
<line x1="585.8" y1="163.2" x2="677" y2="163.2" stroke="#000" stroke-width="2.8"/>
<text transform="translate(697.50,173.20)" x="0.00" y="0" font-size="29.44" textLength="79.00" lengthAdjust="spacingAndGlyphs" fill="#000" >Bfield</text>
<line x1="830" y1="163.2" x2="906" y2="163.2" stroke="#00fccd" stroke-width="8.3" stroke-dasharray="25.5 8.5 8.5 8.5"/>
<line x1="830" y1="163.2" x2="906" y2="163.2" stroke="#000" stroke-width="2.8" stroke-dasharray="25.5 8.5 8.5 8.5"/>
<text transform="translate(936.00,173.20)" x="0.00" y="0" font-size="29.44" textLength="89.93" lengthAdjust="spacingAndGlyphs" fill="#000" >Zenith</text>
<rect x="1203.80" y="201.40" width="28.70" height="553.30" fill="url(#cbv)" stroke="none" stroke-width="0" />
<rect x="1203.80" y="201.40" width="28.70" height="553.30" fill="none" stroke="#000" stroke-width="2.2222222222222223" />
<text transform="translate(1241.80,211.60)" x="0.00" y="0" font-size="29.44" textLength="52.44" lengthAdjust="spacingAndGlyphs" fill="#000" >1e5</text>
<line x1="1232.50" y1="270.56" x2="1222.78" y2="270.56" stroke="#000" stroke-width="2.2222222222222223" stroke-linecap="butt" />
<text transform="translate(1241.80,280.76)" x="0.00" y="0" font-size="29.44" textLength="52.44" lengthAdjust="spacingAndGlyphs" fill="#000" >1e4</text>
<line x1="1232.50" y1="339.73" x2="1222.78" y2="339.73" stroke="#000" stroke-width="2.2222222222222223" stroke-linecap="butt" />
<text transform="translate(1241.80,349.93)" x="0.00" y="0" font-size="29.44" textLength="52.44" lengthAdjust="spacingAndGlyphs" fill="#000" >1e3</text>
<line x1="1232.50" y1="408.89" x2="1222.78" y2="408.89" stroke="#000" stroke-width="2.2222222222222223" stroke-linecap="butt" />
<line x1="1232.50" y1="478.05" x2="1222.78" y2="478.05" stroke="#000" stroke-width="2.2222222222222223" stroke-linecap="butt" />
<text transform="translate(1241.80,488.25)" x="0.00" y="0" font-size="29.44" textLength="52.44" lengthAdjust="spacingAndGlyphs" fill="#000" >1e2</text>
<line x1="1232.50" y1="547.21" x2="1222.78" y2="547.21" stroke="#000" stroke-width="2.2222222222222223" stroke-linecap="butt" />
<line x1="1232.50" y1="616.38" x2="1222.78" y2="616.38" stroke="#000" stroke-width="2.2222222222222223" stroke-linecap="butt" />
<text transform="translate(1241.80,626.58)" x="0.00" y="0" font-size="29.44" textLength="52.44" lengthAdjust="spacingAndGlyphs" fill="#000" >1e1</text>
<line x1="1232.50" y1="685.54" x2="1222.78" y2="685.54" stroke="#000" stroke-width="2.2222222222222223" stroke-linecap="butt" />
<text transform="translate(1241.80,764.90)" x="0.00" y="0" font-size="29.44" textLength="52.44" lengthAdjust="spacingAndGlyphs" fill="#000" >1e0</text>
<text transform="translate(1326.00,478.50) rotate(-90)" x="-168.04" y="0" font-size="29.44" textLength="336.08" lengthAdjust="spacingAndGlyphs" fill="#000" >Pixel Counts per Second</text>
<rect x="1203.80" y="810.50" width="28.70" height="553.40" fill="url(#cbv)" stroke="none" stroke-width="0" />
<rect x="1203.80" y="810.50" width="28.70" height="553.40" fill="none" stroke="#000" stroke-width="2.2222222222222223" />
<text transform="translate(1241.80,820.70)" x="0.00" y="0" font-size="29.44" textLength="52.44" lengthAdjust="spacingAndGlyphs" fill="#000" >1e5</text>
<line x1="1232.50" y1="879.67" x2="1222.78" y2="879.67" stroke="#000" stroke-width="2.2222222222222223" stroke-linecap="butt" />
<text transform="translate(1241.80,889.88)" x="0.00" y="0" font-size="29.44" textLength="52.44" lengthAdjust="spacingAndGlyphs" fill="#000" >1e4</text>
<line x1="1232.50" y1="948.85" x2="1222.78" y2="948.85" stroke="#000" stroke-width="2.2222222222222223" stroke-linecap="butt" />
<text transform="translate(1241.80,959.05)" x="0.00" y="0" font-size="29.44" textLength="52.44" lengthAdjust="spacingAndGlyphs" fill="#000" >1e3</text>
<line x1="1232.50" y1="1018.03" x2="1222.78" y2="1018.03" stroke="#000" stroke-width="2.2222222222222223" stroke-linecap="butt" />
<line x1="1232.50" y1="1087.20" x2="1222.78" y2="1087.20" stroke="#000" stroke-width="2.2222222222222223" stroke-linecap="butt" />
<text transform="translate(1241.80,1097.40)" x="0.00" y="0" font-size="29.44" textLength="52.44" lengthAdjust="spacingAndGlyphs" fill="#000" >1e2</text>
<line x1="1232.50" y1="1156.38" x2="1222.78" y2="1156.38" stroke="#000" stroke-width="2.2222222222222223" stroke-linecap="butt" />
<line x1="1232.50" y1="1225.55" x2="1222.78" y2="1225.55" stroke="#000" stroke-width="2.2222222222222223" stroke-linecap="butt" />
<text transform="translate(1241.80,1235.75)" x="0.00" y="0" font-size="29.44" textLength="52.44" lengthAdjust="spacingAndGlyphs" fill="#000" >1e1</text>
<line x1="1232.50" y1="1294.73" x2="1222.78" y2="1294.73" stroke="#000" stroke-width="2.2222222222222223" stroke-linecap="butt" />
<text transform="translate(1241.80,1374.10)" x="0.00" y="0" font-size="29.44" textLength="52.44" lengthAdjust="spacingAndGlyphs" fill="#000" >1e0</text>
<text transform="translate(1326.00,1089.00) rotate(-90)" x="-163.32" y="0" font-size="29.44" textLength="326.64" lengthAdjust="spacingAndGlyphs" fill="#000" >TOF Counts per Second</text>
<line x1="293.33" y1="1376.50" x2="293.33" y2="796.60" stroke="#808080" stroke-width="2.2222222222222223" stroke-dasharray="2.22 3.67" stroke-linecap="butt" />
<line x1="346.66" y1="1376.50" x2="346.66" y2="796.60" stroke="#808080" stroke-width="2.2222222222222223" stroke-dasharray="2.22 3.67" stroke-linecap="butt" />
<line x1="399.99" y1="1376.50" x2="399.99" y2="796.60" stroke="#808080" stroke-width="2.2222222222222223" stroke-dasharray="2.22 3.67" stroke-linecap="butt" />
<line x1="453.32" y1="1376.50" x2="453.32" y2="796.60" stroke="#808080" stroke-width="4.166666666666666" stroke-dasharray="4.17 6.87" stroke-linecap="butt" />
<line x1="506.66" y1="1376.50" x2="506.66" y2="796.60" stroke="#808080" stroke-width="2.2222222222222223" stroke-dasharray="2.22 3.67" stroke-linecap="butt" />
<line x1="559.99" y1="1376.50" x2="559.99" y2="796.60" stroke="#808080" stroke-width="2.2222222222222223" stroke-dasharray="2.22 3.67" stroke-linecap="butt" />
<line x1="613.32" y1="1376.50" x2="613.32" y2="796.60" stroke="#808080" stroke-width="2.2222222222222223" stroke-dasharray="2.22 3.67" stroke-linecap="butt" />
<line x1="666.65" y1="1376.50" x2="666.65" y2="796.60" stroke="#808080" stroke-width="4.166666666666666" stroke-dasharray="4.17 6.87" stroke-linecap="butt" />
<line x1="719.98" y1="1376.50" x2="719.98" y2="796.60" stroke="#808080" stroke-width="2.2222222222222223" stroke-dasharray="2.22 3.67" stroke-linecap="butt" />
<line x1="773.31" y1="1376.50" x2="773.31" y2="796.60" stroke="#808080" stroke-width="2.2222222222222223" stroke-dasharray="2.22 3.67" stroke-linecap="butt" />
<line x1="826.64" y1="1376.50" x2="826.64" y2="796.60" stroke="#808080" stroke-width="2.2222222222222223" stroke-dasharray="2.22 3.67" stroke-linecap="butt" />
<line x1="879.97" y1="1376.50" x2="879.97" y2="796.60" stroke="#808080" stroke-width="4.166666666666666" stroke-dasharray="4.17 6.87" stroke-linecap="butt" />
<line x1="933.31" y1="1376.50" x2="933.31" y2="796.60" stroke="#808080" stroke-width="2.2222222222222223" stroke-dasharray="2.22 3.67" stroke-linecap="butt" />
<line x1="986.64" y1="1376.50" x2="986.64" y2="796.60" stroke="#808080" stroke-width="2.2222222222222223" stroke-dasharray="2.22 3.67" stroke-linecap="butt" />
<line x1="1039.97" y1="1376.50" x2="1039.97" y2="796.60" stroke="#808080" stroke-width="2.2222222222222223" stroke-dasharray="2.22 3.67" stroke-linecap="butt" />
<line x1="240.00" y1="1376.50" x2="240.00" y2="1366.78" stroke="#000" stroke-width="2.2222222222222223" stroke-linecap="butt" />
<line x1="240.00" y1="796.60" x2="240.00" y2="806.32" stroke="#000" stroke-width="2.2222222222222223" stroke-linecap="butt" />
<line x1="293.33" y1="1376.50" x2="293.33" y2="1370.94" stroke="#000" stroke-width="1.6666666666666665" stroke-linecap="butt" />
<line x1="293.33" y1="796.60" x2="293.33" y2="802.16" stroke="#000" stroke-width="1.6666666666666665" stroke-linecap="butt" />
<line x1="346.66" y1="1376.50" x2="346.66" y2="1370.94" stroke="#000" stroke-width="1.6666666666666665" stroke-linecap="butt" />
<line x1="346.66" y1="796.60" x2="346.66" y2="802.16" stroke="#000" stroke-width="1.6666666666666665" stroke-linecap="butt" />
<line x1="399.99" y1="1376.50" x2="399.99" y2="1370.94" stroke="#000" stroke-width="1.6666666666666665" stroke-linecap="butt" />
<line x1="399.99" y1="796.60" x2="399.99" y2="802.16" stroke="#000" stroke-width="1.6666666666666665" stroke-linecap="butt" />
<line x1="453.32" y1="1376.50" x2="453.32" y2="1366.78" stroke="#000" stroke-width="2.2222222222222223" stroke-linecap="butt" />
<line x1="453.32" y1="796.60" x2="453.32" y2="806.32" stroke="#000" stroke-width="2.2222222222222223" stroke-linecap="butt" />
<line x1="506.66" y1="1376.50" x2="506.66" y2="1370.94" stroke="#000" stroke-width="1.6666666666666665" stroke-linecap="butt" />
<line x1="506.66" y1="796.60" x2="506.66" y2="802.16" stroke="#000" stroke-width="1.6666666666666665" stroke-linecap="butt" />
<line x1="559.99" y1="1376.50" x2="559.99" y2="1370.94" stroke="#000" stroke-width="1.6666666666666665" stroke-linecap="butt" />
<line x1="559.99" y1="796.60" x2="559.99" y2="802.16" stroke="#000" stroke-width="1.6666666666666665" stroke-linecap="butt" />
<line x1="613.32" y1="1376.50" x2="613.32" y2="1370.94" stroke="#000" stroke-width="1.6666666666666665" stroke-linecap="butt" />
<line x1="613.32" y1="796.60" x2="613.32" y2="802.16" stroke="#000" stroke-width="1.6666666666666665" stroke-linecap="butt" />
<line x1="666.65" y1="1376.50" x2="666.65" y2="1366.78" stroke="#000" stroke-width="2.2222222222222223" stroke-linecap="butt" />
<line x1="666.65" y1="796.60" x2="666.65" y2="806.32" stroke="#000" stroke-width="2.2222222222222223" stroke-linecap="butt" />
<line x1="719.98" y1="1376.50" x2="719.98" y2="1370.94" stroke="#000" stroke-width="1.6666666666666665" stroke-linecap="butt" />
<line x1="719.98" y1="796.60" x2="719.98" y2="802.16" stroke="#000" stroke-width="1.6666666666666665" stroke-linecap="butt" />
<line x1="773.31" y1="1376.50" x2="773.31" y2="1370.94" stroke="#000" stroke-width="1.6666666666666665" stroke-linecap="butt" />
<line x1="773.31" y1="796.60" x2="773.31" y2="802.16" stroke="#000" stroke-width="1.6666666666666665" stroke-linecap="butt" />
<line x1="826.64" y1="1376.50" x2="826.64" y2="1370.94" stroke="#000" stroke-width="1.6666666666666665" stroke-linecap="butt" />
<line x1="826.64" y1="796.60" x2="826.64" y2="802.16" stroke="#000" stroke-width="1.6666666666666665" stroke-linecap="butt" />
<line x1="879.97" y1="1376.50" x2="879.97" y2="1366.78" stroke="#000" stroke-width="2.2222222222222223" stroke-linecap="butt" />
<line x1="879.97" y1="796.60" x2="879.97" y2="806.32" stroke="#000" stroke-width="2.2222222222222223" stroke-linecap="butt" />
<line x1="933.31" y1="1376.50" x2="933.31" y2="1370.94" stroke="#000" stroke-width="1.6666666666666665" stroke-linecap="butt" />
<line x1="933.31" y1="796.60" x2="933.31" y2="802.16" stroke="#000" stroke-width="1.6666666666666665" stroke-linecap="butt" />
<line x1="986.64" y1="1376.50" x2="986.64" y2="1370.94" stroke="#000" stroke-width="1.6666666666666665" stroke-linecap="butt" />
<line x1="986.64" y1="796.60" x2="986.64" y2="802.16" stroke="#000" stroke-width="1.6666666666666665" stroke-linecap="butt" />
<line x1="1039.97" y1="1376.50" x2="1039.97" y2="1370.94" stroke="#000" stroke-width="1.6666666666666665" stroke-linecap="butt" />
<line x1="1039.97" y1="796.60" x2="1039.97" y2="802.16" stroke="#000" stroke-width="1.6666666666666665" stroke-linecap="butt" />
<line x1="1093.30" y1="1376.50" x2="1093.30" y2="1366.78" stroke="#000" stroke-width="2.2222222222222223" stroke-linecap="butt" />
<line x1="1093.30" y1="796.60" x2="1093.30" y2="806.32" stroke="#000" stroke-width="2.2222222222222223" stroke-linecap="butt" />
<line x1="240.00" y1="1373.74" x2="249.72" y2="1373.74" stroke="#000" stroke-width="2.2222222222222223" stroke-linecap="butt" />
<line x1="1093.30" y1="1373.74" x2="1083.58" y2="1373.74" stroke="#000" stroke-width="2.2222222222222223" stroke-linecap="butt" />
<line x1="240.00" y1="1238.55" x2="249.72" y2="1238.55" stroke="#000" stroke-width="2.2222222222222223" stroke-linecap="butt" />
<line x1="1093.30" y1="1238.55" x2="1083.58" y2="1238.55" stroke="#000" stroke-width="2.2222222222222223" stroke-linecap="butt" />
<line x1="240.00" y1="1100.60" x2="249.72" y2="1100.60" stroke="#000" stroke-width="2.2222222222222223" stroke-linecap="butt" />
<line x1="1093.30" y1="1100.60" x2="1083.58" y2="1100.60" stroke="#000" stroke-width="2.2222222222222223" stroke-linecap="butt" />
<line x1="240.00" y1="962.65" x2="249.72" y2="962.65" stroke="#000" stroke-width="2.2222222222222223" stroke-linecap="butt" />
<line x1="1093.30" y1="962.65" x2="1083.58" y2="962.65" stroke="#000" stroke-width="2.2222222222222223" stroke-linecap="butt" />
<line x1="240.00" y1="824.70" x2="249.72" y2="824.70" stroke="#000" stroke-width="2.2222222222222223" stroke-linecap="butt" />
<line x1="1093.30" y1="824.70" x2="1083.58" y2="824.70" stroke="#000" stroke-width="2.2222222222222223" stroke-linecap="butt" />
<line x1="240.00" y1="1348.91" x2="245.56" y2="1348.91" stroke="#000" stroke-width="1.6666666666666665" stroke-linecap="butt" />
<line x1="1093.30" y1="1348.91" x2="1087.74" y2="1348.91" stroke="#000" stroke-width="1.6666666666666665" stroke-linecap="butt" />
<line x1="240.00" y1="1321.32" x2="245.56" y2="1321.32" stroke="#000" stroke-width="1.6666666666666665" stroke-linecap="butt" />
<line x1="1093.30" y1="1321.32" x2="1087.74" y2="1321.32" stroke="#000" stroke-width="1.6666666666666665" stroke-linecap="butt" />
<line x1="240.00" y1="1293.73" x2="245.56" y2="1293.73" stroke="#000" stroke-width="1.6666666666666665" stroke-linecap="butt" />
<line x1="1093.30" y1="1293.73" x2="1087.74" y2="1293.73" stroke="#000" stroke-width="1.6666666666666665" stroke-linecap="butt" />
<line x1="240.00" y1="1266.14" x2="245.56" y2="1266.14" stroke="#000" stroke-width="1.6666666666666665" stroke-linecap="butt" />
<line x1="1093.30" y1="1266.14" x2="1087.74" y2="1266.14" stroke="#000" stroke-width="1.6666666666666665" stroke-linecap="butt" />
<line x1="240.00" y1="1210.96" x2="245.56" y2="1210.96" stroke="#000" stroke-width="1.6666666666666665" stroke-linecap="butt" />
<line x1="1093.30" y1="1210.96" x2="1087.74" y2="1210.96" stroke="#000" stroke-width="1.6666666666666665" stroke-linecap="butt" />
<line x1="240.00" y1="1183.37" x2="245.56" y2="1183.37" stroke="#000" stroke-width="1.6666666666666665" stroke-linecap="butt" />
<line x1="1093.30" y1="1183.37" x2="1087.74" y2="1183.37" stroke="#000" stroke-width="1.6666666666666665" stroke-linecap="butt" />
<line x1="240.00" y1="1155.78" x2="245.56" y2="1155.78" stroke="#000" stroke-width="1.6666666666666665" stroke-linecap="butt" />
<line x1="1093.30" y1="1155.78" x2="1087.74" y2="1155.78" stroke="#000" stroke-width="1.6666666666666665" stroke-linecap="butt" />
<line x1="240.00" y1="1128.19" x2="245.56" y2="1128.19" stroke="#000" stroke-width="1.6666666666666665" stroke-linecap="butt" />
<line x1="1093.30" y1="1128.19" x2="1087.74" y2="1128.19" stroke="#000" stroke-width="1.6666666666666665" stroke-linecap="butt" />
<line x1="240.00" y1="1073.01" x2="245.56" y2="1073.01" stroke="#000" stroke-width="1.6666666666666665" stroke-linecap="butt" />
<line x1="1093.30" y1="1073.01" x2="1087.74" y2="1073.01" stroke="#000" stroke-width="1.6666666666666665" stroke-linecap="butt" />
<line x1="240.00" y1="1045.42" x2="245.56" y2="1045.42" stroke="#000" stroke-width="1.6666666666666665" stroke-linecap="butt" />
<line x1="1093.30" y1="1045.42" x2="1087.74" y2="1045.42" stroke="#000" stroke-width="1.6666666666666665" stroke-linecap="butt" />
<line x1="240.00" y1="1017.83" x2="245.56" y2="1017.83" stroke="#000" stroke-width="1.6666666666666665" stroke-linecap="butt" />
<line x1="1093.30" y1="1017.83" x2="1087.74" y2="1017.83" stroke="#000" stroke-width="1.6666666666666665" stroke-linecap="butt" />
<line x1="240.00" y1="990.24" x2="245.56" y2="990.24" stroke="#000" stroke-width="1.6666666666666665" stroke-linecap="butt" />
<line x1="1093.30" y1="990.24" x2="1087.74" y2="990.24" stroke="#000" stroke-width="1.6666666666666665" stroke-linecap="butt" />
<line x1="240.00" y1="935.06" x2="245.56" y2="935.06" stroke="#000" stroke-width="1.6666666666666665" stroke-linecap="butt" />
<line x1="1093.30" y1="935.06" x2="1087.74" y2="935.06" stroke="#000" stroke-width="1.6666666666666665" stroke-linecap="butt" />
<line x1="240.00" y1="907.47" x2="245.56" y2="907.47" stroke="#000" stroke-width="1.6666666666666665" stroke-linecap="butt" />
<line x1="1093.30" y1="907.47" x2="1087.74" y2="907.47" stroke="#000" stroke-width="1.6666666666666665" stroke-linecap="butt" />
<line x1="240.00" y1="879.88" x2="245.56" y2="879.88" stroke="#000" stroke-width="1.6666666666666665" stroke-linecap="butt" />
<line x1="1093.30" y1="879.88" x2="1087.74" y2="879.88" stroke="#000" stroke-width="1.6666666666666665" stroke-linecap="butt" />
<line x1="240.00" y1="852.29" x2="245.56" y2="852.29" stroke="#000" stroke-width="1.6666666666666665" stroke-linecap="butt" />
<line x1="1093.30" y1="852.29" x2="1087.74" y2="852.29" stroke="#000" stroke-width="1.6666666666666665" stroke-linecap="butt" />
<rect x="240.00" y="796.60" width="853.30" height="579.90" fill="none" stroke="#000" stroke-width="2.2222222222222223" stroke-linejoin="miter"/>
<text transform="translate(230.00,1385.44)" x="-17.67" y="0" font-size="29.44" textLength="17.67" lengthAdjust="spacingAndGlyphs" fill="#000" >1</text>
<text transform="translate(230.00,1248.75)" x="-35.35" y="0" font-size="29.44" textLength="35.35" lengthAdjust="spacingAndGlyphs" fill="#000" >50</text>
<text transform="translate(230.00,1110.80)" x="-53.02" y="0" font-size="29.44" textLength="53.02" lengthAdjust="spacingAndGlyphs" fill="#000" >100</text>
<text transform="translate(230.00,972.85)" x="-53.02" y="0" font-size="29.44" textLength="53.02" lengthAdjust="spacingAndGlyphs" fill="#000" >150</text>
<text transform="translate(230.00,834.90)" x="-53.02" y="0" font-size="29.44" textLength="53.02" lengthAdjust="spacingAndGlyphs" fill="#000" >200</text>
<text transform="translate(129.50,1102.00) rotate(-90)" x="-55.28" y="0" font-size="29.44" textLength="110.56" lengthAdjust="spacingAndGlyphs" fill="#000" >TOA Bin</text>
<text transform="translate(168.60,1421.60)" x="-37.30" y="0" font-size="29.44" textLength="37.30" lengthAdjust="spacingAndGlyphs" fill="#000" >UT</text>
<text transform="translate(250.30,1421.60)" x="-62.38" y="0" font-size="29.44" textLength="124.76" lengthAdjust="spacingAndGlyphs" fill="#000" >20:19:02</text>
<text transform="translate(459.80,1421.60)" x="-62.38" y="0" font-size="29.44" textLength="124.76" lengthAdjust="spacingAndGlyphs" fill="#000" >20:44:19</text>
<text transform="translate(669.30,1421.60)" x="-62.38" y="0" font-size="29.44" textLength="124.76" lengthAdjust="spacingAndGlyphs" fill="#000" >21:09:36</text>
<text transform="translate(878.80,1421.60)" x="-62.38" y="0" font-size="29.44" textLength="124.76" lengthAdjust="spacingAndGlyphs" fill="#000" >21:34:53</text>
<text transform="translate(1088.30,1421.60)" x="-62.38" y="0" font-size="29.44" textLength="124.76" lengthAdjust="spacingAndGlyphs" fill="#000" >22:00:09</text>
<text transform="translate(168.60,1454.28)" x="-121.27" y="0" font-size="29.44" textLength="121.27" lengthAdjust="spacingAndGlyphs" fill="#000" >ALT (km)</text>
<text transform="translate(250.30,1454.28)" x="-39.76" y="0" font-size="29.44" textLength="79.52" lengthAdjust="spacingAndGlyphs" fill="#000" >688.9</text>
<text transform="translate(459.80,1454.28)" x="-39.76" y="0" font-size="29.44" textLength="79.52" lengthAdjust="spacingAndGlyphs" fill="#000" >317.5</text>
<text transform="translate(669.30,1454.28)" x="-39.76" y="0" font-size="29.44" textLength="79.52" lengthAdjust="spacingAndGlyphs" fill="#000" >745.2</text>
<text transform="translate(878.80,1454.28)" x="-48.60" y="0" font-size="29.44" textLength="97.20" lengthAdjust="spacingAndGlyphs" fill="#000" >1010.9</text>
<text transform="translate(1088.30,1454.28)" x="-39.76" y="0" font-size="29.44" textLength="79.52" lengthAdjust="spacingAndGlyphs" fill="#000" >620.5</text>
<text transform="translate(168.60,1486.96)" x="-132.79" y="0" font-size="29.44" textLength="132.79" lengthAdjust="spacingAndGlyphs" fill="#000" >LAT (deg)</text>
<text transform="translate(250.30,1486.96)" x="-35.94" y="0" font-size="29.44" textLength="71.87" lengthAdjust="spacingAndGlyphs" fill="#000" >-68.1</text>
<text transform="translate(459.80,1486.96)" x="-35.94" y="0" font-size="29.44" textLength="71.87" lengthAdjust="spacingAndGlyphs" fill="#000" >-11.1</text>
<text transform="translate(669.30,1486.96)" x="-30.92" y="0" font-size="29.44" textLength="61.85" lengthAdjust="spacingAndGlyphs" fill="#000" >80.5</text>
<text transform="translate(878.80,1486.96)" x="-22.09" y="0" font-size="29.44" textLength="44.18" lengthAdjust="spacingAndGlyphs" fill="#000" >6.9</text>
<text transform="translate(1088.30,1486.96)" x="-35.94" y="0" font-size="29.44" textLength="71.87" lengthAdjust="spacingAndGlyphs" fill="#000" >-77.5</text>
<text transform="translate(168.60,1519.64)" x="-140.00" y="0" font-size="29.44" textLength="140.00" lengthAdjust="spacingAndGlyphs" fill="#000" >LON (deg)</text>
<text transform="translate(250.30,1519.64)" x="-44.77" y="0" font-size="29.44" textLength="89.54" lengthAdjust="spacingAndGlyphs" fill="#000" >-120.6</text>
<text transform="translate(459.80,1519.64)" x="-30.92" y="0" font-size="29.44" textLength="61.85" lengthAdjust="spacingAndGlyphs" fill="#000" >28.0</text>
<text transform="translate(669.30,1519.64)" x="-30.92" y="0" font-size="29.44" textLength="61.85" lengthAdjust="spacingAndGlyphs" fill="#000" >93.7</text>
<text transform="translate(878.80,1519.64)" x="-44.77" y="0" font-size="29.44" textLength="89.54" lengthAdjust="spacingAndGlyphs" fill="#000" >-164.0</text>
<text transform="translate(1088.30,1519.64)" x="-44.77" y="0" font-size="29.44" textLength="89.54" lengthAdjust="spacingAndGlyphs" fill="#000" >-123.8</text>
<text transform="translate(168.60,1552.32)" x="-156.76" y="0" font-size="29.44" textLength="156.76" lengthAdjust="spacingAndGlyphs" fill="#000" >MLAT (deg)</text>
<text transform="translate(250.30,1552.32)" x="-35.94" y="0" font-size="29.44" textLength="71.87" lengthAdjust="spacingAndGlyphs" fill="#000" >-61.1</text>
<text transform="translate(459.80,1552.32)" x="-35.94" y="0" font-size="29.44" textLength="71.87" lengthAdjust="spacingAndGlyphs" fill="#000" >-12.6</text>
<text transform="translate(669.30,1552.32)" x="-30.92" y="0" font-size="29.44" textLength="61.85" lengthAdjust="spacingAndGlyphs" fill="#000" >71.3</text>
<text transform="translate(878.80,1552.32)" x="-22.09" y="0" font-size="29.44" textLength="44.18" lengthAdjust="spacingAndGlyphs" fill="#000" >6.6</text>
<text transform="translate(1088.30,1552.32)" x="-35.94" y="0" font-size="29.44" textLength="71.87" lengthAdjust="spacingAndGlyphs" fill="#000" >-70.3</text>
<text transform="translate(168.60,1585.00)" x="-126.58" y="0" font-size="29.44" textLength="126.58" lengthAdjust="spacingAndGlyphs" fill="#000" >MLT (hrs)</text>
<text transform="translate(250.30,1585.00)" x="-30.92" y="0" font-size="29.44" textLength="61.85" lengthAdjust="spacingAndGlyphs" fill="#000" >13.4</text>
<text transform="translate(459.80,1585.00)" x="-30.92" y="0" font-size="29.44" textLength="61.85" lengthAdjust="spacingAndGlyphs" fill="#000" >22.8</text>
<text transform="translate(669.30,1585.00)" x="-22.09" y="0" font-size="29.44" textLength="44.18" lengthAdjust="spacingAndGlyphs" fill="#000" >4.1</text>
<text transform="translate(878.80,1585.00)" x="-30.92" y="0" font-size="29.44" textLength="61.85" lengthAdjust="spacingAndGlyphs" fill="#000" >10.9</text>
<text transform="translate(1088.30,1585.00)" x="-30.92" y="0" font-size="29.44" textLength="61.85" lengthAdjust="spacingAndGlyphs" fill="#000" >15.4</text>
<rect x="1594.70" y="191.90" width="261.10" height="245.70" fill="#c8cbca" stroke="none" stroke-width="0" />
<line x1="1592.73" y1="437.60" x2="1592.73" y2="191.90" stroke="#808080" stroke-width="2.2222222222222223" stroke-dasharray="2.22 3.67" stroke-linecap="butt" />
<line x1="1641.75" y1="437.60" x2="1641.75" y2="191.90" stroke="#808080" stroke-width="2.2222222222222223" stroke-dasharray="2.22 3.67" stroke-linecap="butt" />
<line x1="1690.78" y1="437.60" x2="1690.78" y2="191.90" stroke="#808080" stroke-width="2.2222222222222223" stroke-dasharray="2.22 3.67" stroke-linecap="butt" />
<line x1="1739.80" y1="437.60" x2="1739.80" y2="191.90" stroke="#808080" stroke-width="4.166666666666666" stroke-dasharray="4.17 6.87" stroke-linecap="butt" />
<line x1="1788.83" y1="437.60" x2="1788.83" y2="191.90" stroke="#808080" stroke-width="2.2222222222222223" stroke-dasharray="2.22 3.67" stroke-linecap="butt" />
<line x1="1837.85" y1="437.60" x2="1837.85" y2="191.90" stroke="#808080" stroke-width="2.2222222222222223" stroke-dasharray="2.22 3.67" stroke-linecap="butt" />
<line x1="1886.88" y1="437.60" x2="1886.88" y2="191.90" stroke="#808080" stroke-width="2.2222222222222223" stroke-dasharray="2.22 3.67" stroke-linecap="butt" />
<line x1="1935.90" y1="437.60" x2="1935.90" y2="191.90" stroke="#808080" stroke-width="4.166666666666666" stroke-dasharray="4.17 6.87" stroke-linecap="butt" />
<line x1="1984.92" y1="437.60" x2="1984.92" y2="191.90" stroke="#808080" stroke-width="2.2222222222222223" stroke-dasharray="2.22 3.67" stroke-linecap="butt" />
<line x1="2033.95" y1="437.60" x2="2033.95" y2="191.90" stroke="#808080" stroke-width="2.2222222222222223" stroke-dasharray="2.22 3.67" stroke-linecap="butt" />
<line x1="2082.97" y1="437.60" x2="2082.97" y2="191.90" stroke="#808080" stroke-width="2.2222222222222223" stroke-dasharray="2.22 3.67" stroke-linecap="butt" />
<line x1="2132.00" y1="437.60" x2="2132.00" y2="191.90" stroke="#808080" stroke-width="4.166666666666666" stroke-dasharray="4.17 6.87" stroke-linecap="butt" />
<line x1="2181.03" y1="437.60" x2="2181.03" y2="191.90" stroke="#808080" stroke-width="2.2222222222222223" stroke-dasharray="2.22 3.67" stroke-linecap="butt" />
<line x1="2230.05" y1="437.60" x2="2230.05" y2="191.90" stroke="#808080" stroke-width="2.2222222222222223" stroke-dasharray="2.22 3.67" stroke-linecap="butt" />
<line x1="2279.07" y1="437.60" x2="2279.07" y2="191.90" stroke="#808080" stroke-width="2.2222222222222223" stroke-dasharray="2.22 3.67" stroke-linecap="butt" />
<clipPath id="ax3clip"><rect x="1543.7" y="191.9" width="784.3999999999999" height="245.70000000000002"/></clipPath>
<g clip-path="url(#ax3clip)" fill="none" stroke-linejoin="round" stroke-linecap="butt">
<polyline points="1544.8,305.7 1547.3,305.1 1571.5,305.1 1572.7,307.0 1573.9,310.6 1575.5,313.0 1577.0,308.2 1578.4,305.7 1579.4,308.2 1581.2,309.4 1583.0,311.2 1584.8,311.2 1586.7,309.4 1588.5,307.2 1590.9,306.7 1593.3,307.6 1595.1,309.4 1596.7,309.4 1598.2,306.0 1599.6,307.6 1601.2,307.0 1602.4,309.4 1604.2,305.7 1605.4,305.1 1606.7,309.4 1607.9,308.2 1608.8,311.2 1610.3,309.4 1612.7,310.6 1615.1,311.2 1617.0,310.0 1618.8,313.0 1621.2,313.6 1623.6,314.8 1629.7,314.8 1636.9,313.6 1643.0,313.0 1649.1,312.8 1656.3,312.0 1663.6,312.3 1667.2,313.0 1670.3,314.6 1673.3,314.7 1675.7,314.0 1679.4,311.8 1684.2,310.0 1690.3,308.2 1697.5,307.0 1701.2,305.5 1703.8,305.1 1704.8,308.2 1706.6,310.6 1709.7,313.0 1712.7,314.2 1714.5,313.6 1716.3,311.6 1718.7,311.0 1722.4,311.0 1724.2,311.8 1726.6,313.0 1731.5,312.8 1735.1,313.3 1740.0,314.2 1743.6,316.0 1746.6,317.3 1749.6,317.9 1751.5,316.7 1752.7,315.4 1753.3,320.3 1753.9,328.8 1754.5,336.0 1754.9,325.1 1756.3,320.3 1758.1,316.7 1759.9,315.4 1761.2,310.6 1762.1,307.0 1762.7,305.7 1763.6,310.6 1764.8,313.0 1767.8,313.0 1769.6,311.8 1770.9,310.6 1772.1,311.2 1773.3,313.0 1776.3,313.0 1779.3,314.8 1782.4,315.4 1785.4,314.2 1787.8,311.8 1790.2,310.0 1792.1,307.0 1793.0,307.0 1794.5,310.6 1796.9,313.0 1799.3,313.3 1800.0,313.0 1803.6,311.2 1807.9,310.6 1810.3,308.8 1812.1,307.9 1813.9,309.4 1816.4,312.4 1819.4,315.4 1822.4,317.0 1825.4,317.0 1826.9,316.0 1827.6,322.7 1828.5,332.4 1829.1,325.1 1830.1,320.3 1832.1,316.7 1835.1,310.6 1838.2,306.3 1840.6,304.5 1841.8,305.1 1844.2,310.6 1847.3,317.9 1849.7,322.1 1852.1,322.7 1852.8,316.0 1853.7,315.4 1854.0,359.1 1854.5,389.4 1855.5,405.1 1857.0,400.3 1858.8,395.4 1860.6,391.8 1862.0,383.3 1863.6,377.8 1864.8,382.1 1866.4,384.5 1867.9,379.7 1869.7,377.8 1872.1,376.6 1873.3,371.2 1875.1,367.5 1877.0,363.9 1878.8,357.9 1881.0,351.8 1882.4,345.7 1883.6,337.3 1884.8,330.0 1885.8,337.3 1886.8,348.2 1887.9,343.3 1889.1,333.6 1889.9,339.7 1890.6,337.3 1891.1,321.5 1892.7,319.7 1893.9,318.5 1895.1,317.9 1895.7,327.6 1896.3,317.9 1897.6,313.0 1899.4,314.2 1901.2,316.7 1902.4,310.6 1904.2,307.0 1905.4,308.8 1907.2,306.3 1909.1,310.0 1911.5,310.0 1913.9,311.2 1916.3,312.4 1917.5,313.6 1919.4,311.8 1921.8,311.2 1923.6,309.4 1925.4,307.0 1926.3,307.6 1926.6,314.2 1927.2,307.6 1929.1,307.9 1930.9,308.2 1934.5,310.6 1939.4,313.0 1945.4,314.2 1951.5,317.9 1956.3,321.5 1957.5,317.9 1959.0,316.0 1960.6,317.3 1961.8,321.5 1962.6,310.6 1963.2,305.5 1967.2,305.1 1970.9,306.0 1972.1,307.0 1973.9,305.5 1975.7,306.7 1977.5,305.1 1979.4,306.3 1980.6,305.1 1982.4,307.0 1984.8,307.9 1987.2,307.6 1990.9,305.7 1993.9,304.8 1998.7,304.9 2003.6,306.0 2007.2,307.9 2011.5,309.4 2014.5,308.8 2018.1,307.0 2021.8,305.7 2024.8,304.8 2026.6,306.3 2029.0,309.1 2030.9,310.0 2033.3,309.1 2035.7,305.7 2037.3,304.8 2039.3,306.3 2042.4,308.2 2046.0,310.0 2049.6,313.0 2053.3,316.0 2056.9,316.9 2059.3,316.9 2060.0,316.4 2063.6,314.2 2067.3,313.0 2069.7,311.2 2071.5,307.6 2073.3,305.1 2075.8,304.9 2078.2,305.3 2080.6,304.9 2082.4,305.1 2083.3,307.6 2084.2,310.3 2086.1,312.0 2089.7,313.6 2093.3,314.5 2096.4,316.7 2099.4,317.9 2102.4,318.1 2104.8,317.3 2107.9,314.8 2110.9,312.4 2113.9,311.2 2116.3,310.3 2117.6,309.4 2118.8,305.7 2120.0,304.8 2121.2,306.0 2123.0,306.7 2126.0,306.0 2128.5,305.1 2129.7,304.8 2130.9,307.6 2132.7,310.0 2135.1,311.8 2138.8,313.3 2142.4,315.2 2146.0,316.0 2148.5,315.8 2151.5,314.2 2155.7,311.6 2159.4,309.6 2163.0,307.6 2166.0,305.5 2168.5,304.8 2171.5,304.9 2174.5,306.0 2177.5,307.2 2180.6,308.2 2182.4,309.6 2185.4,310.6 2188.5,310.6 2192.1,310.0 2195.7,308.8 2199.4,307.2 2203.0,305.7 2206.0,305.1 2211.5,305.1 2217.5,305.5 2223.6,305.3 2229.7,305.1 2238.1,305.5 2245.4,305.3 2251.5,305.7 2256.3,306.3 2260.0,306.6 2264.8,305.7 2269.6,305.1 2273.3,305.3 2278.1,306.3 2283.0,307.0 2287.8,307.6 2293.9,307.3 2299.9,307.3 2303.6,307.8 2304.8,308.8 2306.0,311.8 2307.2,315.4 2308.2,317.3 2309.6,316.7 2311.1,316.0 2312.1,310.6 2313.0,306.7 2314.5,306.0 2315.7,306.3 2316.3,308.2 2317.1,306.3 2318.7,306.0 2321.8,306.3 2324.8,306.3 2328.4,305.7" stroke="#000" stroke-width="2.1"/>
<polyline points="1544.8,269.4 1547.3,265.8 1550.9,263.9 1558.2,263.9 1564.2,265.1 1567.9,264.5 1571.7,264.5 1572.7,271.8 1573.9,290.0 1575.1,303.3 1576.0,307.0 1577.0,298.5 1577.6,280.3 1578.5,268.2 1579.4,280.3 1580.6,282.7 1581.8,288.8 1583.0,296.0 1584.2,290.0 1585.4,292.4 1586.7,290.0 1587.9,283.9 1589.1,276.7 1590.9,274.2 1592.1,274.8 1593.9,280.3 1595.7,285.1 1596.7,287.6 1597.6,274.2 1598.2,269.4 1598.8,276.7 1599.6,273.0 1600.6,279.1 1601.6,274.2 1602.4,287.6 1603.3,274.2 1604.2,265.8 1605.0,280.3 1605.4,265.8 1606.4,290.0 1607.3,277.9 1607.9,292.4 1608.7,298.5 1609.7,286.4 1610.3,279.1 1610.9,293.6 1612.1,290.0 1613.3,296.0 1614.5,292.4 1615.4,299.7 1616.3,288.8 1617.3,291.2 1618.2,303.3 1619.0,296.0 1619.7,307.0 1620.6,300.9 1621.8,309.4 1623.6,313.0 1626.0,314.2 1629.7,314.2 1632.1,313.0 1635.7,310.6 1639.4,308.2 1643.0,306.7 1646.6,305.7 1650.3,304.5 1653.9,302.7 1657.5,301.1 1661.2,300.9 1664.8,301.9 1667.2,303.9 1669.1,307.6 1670.3,311.8 1671.5,313.0 1673.3,312.8 1675.1,311.2 1676.9,307.0 1678.8,300.9 1681.2,294.8 1684.2,288.8 1687.2,283.3 1690.3,279.1 1692.7,277.3 1695.1,276.1 1697.5,273.6 1700.0,269.4 1701.8,265.8 1703.8,265.1 1704.6,271.8 1705.4,280.3 1707.2,291.2 1709.0,299.7 1710.9,305.7 1712.7,309.1 1714.3,309.1 1715.5,302.1 1716.9,297.3 1718.7,295.8 1721.8,295.8 1723.6,296.7 1724.8,302.1 1726.0,305.7 1727.8,306.3 1731.5,305.7 1733.3,307.0 1735.1,309.4 1736.9,310.6 1739.3,311.8 1741.2,313.6 1743.0,319.1 1744.8,323.9 1746.6,327.6 1748.4,330.6 1749.9,331.2 1751.1,325.1 1752.1,316.7 1752.9,314.8 1753.5,322.7 1753.9,371.2 1754.1,419.0 1754.5,371.2 1755.1,350.6 1756.9,349.4 1758.1,344.5 1759.1,325.1 1759.9,325.1 1760.8,315.4 1761.5,292.4 1762.1,265.8 1762.7,265.8 1763.3,286.4 1764.2,308.2 1765.2,315.4 1768.4,315.4 1769.3,307.0 1770.2,296.7 1772.1,296.7 1772.7,303.3 1773.3,314.2 1774.5,308.2 1775.1,314.8 1776.1,308.2 1776.9,315.4 1778.1,311.8 1779.3,317.9 1780.5,320.3 1781.8,315.4 1783.0,318.5 1784.2,315.4 1785.4,317.3 1786.6,310.6 1787.8,300.9 1789.0,298.5 1789.9,290.0 1790.8,283.9 1791.8,277.9 1792.8,274.2 1793.5,279.1 1794.5,288.8 1795.7,297.3 1796.9,303.3 1798.7,306.3 1800.0,306.3 1803.0,300.9 1806.1,296.7 1807.9,295.4 1809.1,290.0 1810.3,283.3 1812.1,281.5 1813.6,283.3 1815.1,291.2 1817.0,302.1 1818.8,313.0 1820.6,321.5 1822.4,327.0 1824.0,328.8 1825.4,326.3 1826.4,321.5 1826.9,334.8 1827.6,371.2 1828.5,400.3 1829.1,383.3 1830.1,359.1 1830.9,340.9 1832.1,328.8 1833.9,310.6 1835.7,296.0 1837.6,280.3 1839.0,268.2 1840.6,264.5 1841.8,265.1 1842.7,271.8 1844.2,290.0 1845.8,310.6 1847.5,332.4 1849.1,345.7 1850.7,352.4 1852.1,354.2 1852.8,334.8 1853.3,317.9 1853.7,334.8 1854.0,383.3 1854.3,443.9" stroke="#0000ff" stroke-width="2.1"/>
<polyline points="1883.0,443.9 1884.2,407.5 1885.1,394.2 1886.0,407.5 1887.0,443.9" stroke="#0000ff" stroke-width="2.1"/>
<polyline points="1889.1,443.9 1889.9,399.1 1890.6,359.1 1891.1,349.4 1892.1,344.5 1893.3,339.7 1893.9,332.4 1894.5,330.0 1895.1,346.9 1895.5,377.2 1896.3,371.2 1896.9,334.8 1897.3,304.5 1897.9,298.5 1898.8,308.2 1899.4,300.9 1900.6,310.6 1901.6,317.9 1902.4,298.5 1903.0,287.6 1904.0,279.1 1904.8,274.8 1905.7,285.1 1906.4,275.4 1907.6,274.8 1908.5,281.5 1909.7,286.4 1910.5,296.0 1911.5,291.2 1912.7,297.3 1913.9,293.6 1915.1,298.5 1916.1,296.0 1917.3,307.0 1918.2,300.9 1919.4,297.3 1921.2,296.0 1922.4,288.8 1923.6,283.9 1924.8,279.1 1926.0,275.4 1926.6,314.2 1927.2,276.1 1928.5,275.4 1929.7,281.5 1930.6,280.3 1931.2,323.9 1932.1,279.7 1933.1,317.9 1933.9,279.7 1934.8,315.4 1935.7,325.1 1936.7,274.8 1937.5,334.8 1937.9,356.6 1938.8,334.8 1939.4,300.9 1940.3,331.2 1941.2,298.5 1942.0,328.8 1943.0,290.0 1944.0,322.7 1944.8,283.9 1945.4,328.8 1946.0,265.8 1946.9,271.8 1947.6,268.2 1948.4,298.5 1949.3,322.7 1950.3,349.4 1951.2,322.7 1952.1,293.6 1953.3,293.0 1953.9,325.1 1954.9,349.4 1955.7,322.7 1956.3,344.5 1957.2,364.5 1958.1,340.9 1959.0,322.7 1960.0,332.4 1960.9,348.2 1961.8,327.6 1962.4,334.8 1962.6,298.5 1963.0,265.1 1964.8,264.5 1966.6,266.4 1968.4,264.5 1970.3,265.1 1970.9,274.2 1971.8,265.1 1972.7,274.2 1973.5,265.1 1974.5,274.2 1975.5,264.5 1976.9,273.6 1978.1,265.1 1979.1,274.2 1980.0,264.5 1980.9,265.1 1981.8,277.9 1983.0,279.1 1984.2,274.2 1985.4,282.7 1987.2,277.9 1989.0,273.0 1990.9,268.2 1992.7,265.1 1994.5,264.3 1996.3,265.8 1997.8,264.8 2000.0,266.4 2002.4,269.4 2004.8,274.8 2007.2,280.3 2009.6,284.5 2011.5,286.0 2013.3,285.1 2015.7,280.9 2018.1,275.4 2020.6,271.2 2023.0,268.2 2024.8,264.5 2025.6,268.2 2027.2,279.1 2029.0,287.6 2030.9,289.4 2032.7,288.2 2034.1,280.3 2035.7,268.2 2037.3,264.5 2038.5,267.0 2039.9,274.2 2041.8,279.7 2043.6,282.7 2045.4,286.4 2047.2,293.6 2049.6,303.3 2052.1,313.0 2054.5,320.3 2056.9,325.1 2058.7,325.7 2060.0,323.9 2062.4,315.4 2065.5,307.0 2067.9,302.1 2069.7,296.0 2070.9,286.4 2071.9,271.8 2072.7,265.8 2073.9,264.5 2075.1,265.1 2076.1,267.0 2077.2,265.1 2078.2,264.8 2079.4,266.4 2080.6,265.1 2081.8,264.8 2082.8,265.8 2083.3,274.2 2084.2,286.4 2085.4,297.3 2086.9,303.3 2089.1,307.0 2092.1,309.4 2093.9,315.4 2095.7,323.9 2097.6,327.6 2100.0,330.6 2102.2,331.8 2103.9,330.0 2106.0,323.9 2107.9,315.4 2109.7,307.0 2111.5,300.9 2113.9,296.7 2116.3,292.4 2117.6,287.6 2118.4,276.7 2119.1,267.0 2120.0,264.8 2121.0,268.2 2121.8,272.4 2123.0,274.2 2124.8,273.6 2126.7,272.4 2127.9,268.2 2128.8,265.1 2129.7,266.4 2130.5,273.0 2131.5,281.5 2132.7,291.2 2134.2,297.3 2135.7,302.1 2138.2,306.3 2140.6,311.8 2143.0,317.3 2144.8,320.3 2146.6,322.1 2148.5,320.3 2150.9,314.2 2153.9,305.7 2156.9,297.3 2160.0,290.0 2163.0,282.7 2164.8,275.4 2166.4,268.2 2167.9,265.8 2169.7,265.1 2171.5,265.5 2173.3,267.6 2175.1,272.4 2176.9,276.1 2179.4,278.5 2181.2,285.1 2183.0,290.6 2184.8,293.6 2186.6,294.2 2189.1,293.4 2191.5,291.8 2193.9,287.6 2196.9,281.5 2200.0,274.8 2203.0,269.4 2205.4,266.4 2207.8,265.5 2212.7,266.0 2216.3,267.2 2218.7,267.6 2222.4,266.4 2227.2,265.8 2232.1,266.0 2235.7,267.2 2238.1,268.2 2241.2,267.0 2244.2,266.0 2247.2,267.2 2251.5,269.6 2255.7,272.4 2258.7,274.0 2260.6,273.6 2263.6,270.0 2266.0,268.4 2269.0,266.4 2271.5,265.8 2273.9,266.7 2276.9,270.4 2279.9,274.2 2283.0,276.1 2285.4,277.9 2287.8,279.1 2291.5,278.5 2295.1,278.1 2298.7,278.5 2302.4,278.8 2303.8,280.3 2305.0,285.1 2306.0,292.4 2307.0,308.2 2307.6,326.3 2308.1,298.5 2308.7,285.1 2309.2,322.7 2309.9,321.5 2310.6,313.0 2311.5,315.4 2312.1,292.4 2312.7,274.2 2313.5,267.6 2314.5,267.0 2315.5,267.6 2315.9,282.1 2316.7,282.1 2317.1,268.2 2318.1,267.0 2319.9,268.2 2321.8,272.4 2323.6,273.0 2324.8,274.8 2325.6,268.2 2326.6,271.2 2328.4,270.6" stroke="#0000ff" stroke-width="2.1"/>
</g>
<line x1="1543.70" y1="437.60" x2="1543.70" y2="427.88" stroke="#000" stroke-width="2.2222222222222223" stroke-linecap="butt" />
<line x1="1543.70" y1="191.90" x2="1543.70" y2="201.62" stroke="#000" stroke-width="2.2222222222222223" stroke-linecap="butt" />
<line x1="1592.73" y1="437.60" x2="1592.73" y2="432.04" stroke="#000" stroke-width="1.6666666666666665" stroke-linecap="butt" />
<line x1="1592.73" y1="191.90" x2="1592.73" y2="197.46" stroke="#000" stroke-width="1.6666666666666665" stroke-linecap="butt" />
<line x1="1641.75" y1="437.60" x2="1641.75" y2="432.04" stroke="#000" stroke-width="1.6666666666666665" stroke-linecap="butt" />
<line x1="1641.75" y1="191.90" x2="1641.75" y2="197.46" stroke="#000" stroke-width="1.6666666666666665" stroke-linecap="butt" />
<line x1="1690.78" y1="437.60" x2="1690.78" y2="432.04" stroke="#000" stroke-width="1.6666666666666665" stroke-linecap="butt" />
<line x1="1690.78" y1="191.90" x2="1690.78" y2="197.46" stroke="#000" stroke-width="1.6666666666666665" stroke-linecap="butt" />
<line x1="1739.80" y1="437.60" x2="1739.80" y2="427.88" stroke="#000" stroke-width="2.2222222222222223" stroke-linecap="butt" />
<line x1="1739.80" y1="191.90" x2="1739.80" y2="201.62" stroke="#000" stroke-width="2.2222222222222223" stroke-linecap="butt" />
<line x1="1788.83" y1="437.60" x2="1788.83" y2="432.04" stroke="#000" stroke-width="1.6666666666666665" stroke-linecap="butt" />
<line x1="1788.83" y1="191.90" x2="1788.83" y2="197.46" stroke="#000" stroke-width="1.6666666666666665" stroke-linecap="butt" />
<line x1="1837.85" y1="437.60" x2="1837.85" y2="432.04" stroke="#000" stroke-width="1.6666666666666665" stroke-linecap="butt" />
<line x1="1837.85" y1="191.90" x2="1837.85" y2="197.46" stroke="#000" stroke-width="1.6666666666666665" stroke-linecap="butt" />
<line x1="1886.88" y1="437.60" x2="1886.88" y2="432.04" stroke="#000" stroke-width="1.6666666666666665" stroke-linecap="butt" />
<line x1="1886.88" y1="191.90" x2="1886.88" y2="197.46" stroke="#000" stroke-width="1.6666666666666665" stroke-linecap="butt" />
<line x1="1935.90" y1="437.60" x2="1935.90" y2="427.88" stroke="#000" stroke-width="2.2222222222222223" stroke-linecap="butt" />
<line x1="1935.90" y1="191.90" x2="1935.90" y2="201.62" stroke="#000" stroke-width="2.2222222222222223" stroke-linecap="butt" />
<line x1="1984.92" y1="437.60" x2="1984.92" y2="432.04" stroke="#000" stroke-width="1.6666666666666665" stroke-linecap="butt" />
<line x1="1984.92" y1="191.90" x2="1984.92" y2="197.46" stroke="#000" stroke-width="1.6666666666666665" stroke-linecap="butt" />
<line x1="2033.95" y1="437.60" x2="2033.95" y2="432.04" stroke="#000" stroke-width="1.6666666666666665" stroke-linecap="butt" />
<line x1="2033.95" y1="191.90" x2="2033.95" y2="197.46" stroke="#000" stroke-width="1.6666666666666665" stroke-linecap="butt" />
<line x1="2082.97" y1="437.60" x2="2082.97" y2="432.04" stroke="#000" stroke-width="1.6666666666666665" stroke-linecap="butt" />
<line x1="2082.97" y1="191.90" x2="2082.97" y2="197.46" stroke="#000" stroke-width="1.6666666666666665" stroke-linecap="butt" />
<line x1="2132.00" y1="437.60" x2="2132.00" y2="427.88" stroke="#000" stroke-width="2.2222222222222223" stroke-linecap="butt" />
<line x1="2132.00" y1="191.90" x2="2132.00" y2="201.62" stroke="#000" stroke-width="2.2222222222222223" stroke-linecap="butt" />
<line x1="2181.03" y1="437.60" x2="2181.03" y2="432.04" stroke="#000" stroke-width="1.6666666666666665" stroke-linecap="butt" />
<line x1="2181.03" y1="191.90" x2="2181.03" y2="197.46" stroke="#000" stroke-width="1.6666666666666665" stroke-linecap="butt" />
<line x1="2230.05" y1="437.60" x2="2230.05" y2="432.04" stroke="#000" stroke-width="1.6666666666666665" stroke-linecap="butt" />
<line x1="2230.05" y1="191.90" x2="2230.05" y2="197.46" stroke="#000" stroke-width="1.6666666666666665" stroke-linecap="butt" />
<line x1="2279.07" y1="437.60" x2="2279.07" y2="432.04" stroke="#000" stroke-width="1.6666666666666665" stroke-linecap="butt" />
<line x1="2279.07" y1="191.90" x2="2279.07" y2="197.46" stroke="#000" stroke-width="1.6666666666666665" stroke-linecap="butt" />
<line x1="2328.10" y1="437.60" x2="2328.10" y2="427.88" stroke="#000" stroke-width="2.2222222222222223" stroke-linecap="butt" />
<line x1="2328.10" y1="191.90" x2="2328.10" y2="201.62" stroke="#000" stroke-width="2.2222222222222223" stroke-linecap="butt" />
<line x1="1543.70" y1="427.40" x2="1553.42" y2="427.40" stroke="#000" stroke-width="2.2222222222222223" stroke-linecap="butt" />
<line x1="2328.10" y1="427.40" x2="2318.38" y2="427.40" stroke="#000" stroke-width="2.2222222222222223" stroke-linecap="butt" />
<line x1="1543.70" y1="371.05" x2="1553.42" y2="371.05" stroke="#000" stroke-width="2.2222222222222223" stroke-linecap="butt" />
<line x1="2328.10" y1="371.05" x2="2318.38" y2="371.05" stroke="#000" stroke-width="2.2222222222222223" stroke-linecap="butt" />
<line x1="1543.70" y1="314.70" x2="1553.42" y2="314.70" stroke="#000" stroke-width="2.2222222222222223" stroke-linecap="butt" />
<line x1="2328.10" y1="314.70" x2="2318.38" y2="314.70" stroke="#000" stroke-width="2.2222222222222223" stroke-linecap="butt" />
<line x1="1543.70" y1="258.35" x2="1553.42" y2="258.35" stroke="#000" stroke-width="2.2222222222222223" stroke-linecap="butt" />
<line x1="2328.10" y1="258.35" x2="2318.38" y2="258.35" stroke="#000" stroke-width="2.2222222222222223" stroke-linecap="butt" />
<line x1="1543.70" y1="202.00" x2="1553.42" y2="202.00" stroke="#000" stroke-width="2.2222222222222223" stroke-linecap="butt" />
<line x1="2328.10" y1="202.00" x2="2318.38" y2="202.00" stroke="#000" stroke-width="2.2222222222222223" stroke-linecap="butt" />
<line x1="1543.70" y1="416.13" x2="1549.26" y2="416.13" stroke="#000" stroke-width="1.6666666666666665" stroke-linecap="butt" />
<line x1="2328.10" y1="416.13" x2="2322.54" y2="416.13" stroke="#000" stroke-width="1.6666666666666665" stroke-linecap="butt" />
<line x1="1543.70" y1="404.86" x2="1549.26" y2="404.86" stroke="#000" stroke-width="1.6666666666666665" stroke-linecap="butt" />
<line x1="2328.10" y1="404.86" x2="2322.54" y2="404.86" stroke="#000" stroke-width="1.6666666666666665" stroke-linecap="butt" />
<line x1="1543.70" y1="393.59" x2="1549.26" y2="393.59" stroke="#000" stroke-width="1.6666666666666665" stroke-linecap="butt" />
<line x1="2328.10" y1="393.59" x2="2322.54" y2="393.59" stroke="#000" stroke-width="1.6666666666666665" stroke-linecap="butt" />
<line x1="1543.70" y1="382.32" x2="1549.26" y2="382.32" stroke="#000" stroke-width="1.6666666666666665" stroke-linecap="butt" />
<line x1="2328.10" y1="382.32" x2="2322.54" y2="382.32" stroke="#000" stroke-width="1.6666666666666665" stroke-linecap="butt" />
<line x1="1543.70" y1="359.78" x2="1549.26" y2="359.78" stroke="#000" stroke-width="1.6666666666666665" stroke-linecap="butt" />
<line x1="2328.10" y1="359.78" x2="2322.54" y2="359.78" stroke="#000" stroke-width="1.6666666666666665" stroke-linecap="butt" />
<line x1="1543.70" y1="348.51" x2="1549.26" y2="348.51" stroke="#000" stroke-width="1.6666666666666665" stroke-linecap="butt" />
<line x1="2328.10" y1="348.51" x2="2322.54" y2="348.51" stroke="#000" stroke-width="1.6666666666666665" stroke-linecap="butt" />
<line x1="1543.70" y1="337.24" x2="1549.26" y2="337.24" stroke="#000" stroke-width="1.6666666666666665" stroke-linecap="butt" />
<line x1="2328.10" y1="337.24" x2="2322.54" y2="337.24" stroke="#000" stroke-width="1.6666666666666665" stroke-linecap="butt" />
<line x1="1543.70" y1="325.97" x2="1549.26" y2="325.97" stroke="#000" stroke-width="1.6666666666666665" stroke-linecap="butt" />
<line x1="2328.10" y1="325.97" x2="2322.54" y2="325.97" stroke="#000" stroke-width="1.6666666666666665" stroke-linecap="butt" />
<line x1="1543.70" y1="303.43" x2="1549.26" y2="303.43" stroke="#000" stroke-width="1.6666666666666665" stroke-linecap="butt" />
<line x1="2328.10" y1="303.43" x2="2322.54" y2="303.43" stroke="#000" stroke-width="1.6666666666666665" stroke-linecap="butt" />
<line x1="1543.70" y1="292.16" x2="1549.26" y2="292.16" stroke="#000" stroke-width="1.6666666666666665" stroke-linecap="butt" />
<line x1="2328.10" y1="292.16" x2="2322.54" y2="292.16" stroke="#000" stroke-width="1.6666666666666665" stroke-linecap="butt" />
<line x1="1543.70" y1="280.89" x2="1549.26" y2="280.89" stroke="#000" stroke-width="1.6666666666666665" stroke-linecap="butt" />
<line x1="2328.10" y1="280.89" x2="2322.54" y2="280.89" stroke="#000" stroke-width="1.6666666666666665" stroke-linecap="butt" />
<line x1="1543.70" y1="269.62" x2="1549.26" y2="269.62" stroke="#000" stroke-width="1.6666666666666665" stroke-linecap="butt" />
<line x1="2328.10" y1="269.62" x2="2322.54" y2="269.62" stroke="#000" stroke-width="1.6666666666666665" stroke-linecap="butt" />
<line x1="1543.70" y1="247.08" x2="1549.26" y2="247.08" stroke="#000" stroke-width="1.6666666666666665" stroke-linecap="butt" />
<line x1="2328.10" y1="247.08" x2="2322.54" y2="247.08" stroke="#000" stroke-width="1.6666666666666665" stroke-linecap="butt" />
<line x1="1543.70" y1="235.81" x2="1549.26" y2="235.81" stroke="#000" stroke-width="1.6666666666666665" stroke-linecap="butt" />
<line x1="2328.10" y1="235.81" x2="2322.54" y2="235.81" stroke="#000" stroke-width="1.6666666666666665" stroke-linecap="butt" />
<line x1="1543.70" y1="224.54" x2="1549.26" y2="224.54" stroke="#000" stroke-width="1.6666666666666665" stroke-linecap="butt" />
<line x1="2328.10" y1="224.54" x2="2322.54" y2="224.54" stroke="#000" stroke-width="1.6666666666666665" stroke-linecap="butt" />
<line x1="1543.70" y1="213.27" x2="1549.26" y2="213.27" stroke="#000" stroke-width="1.6666666666666665" stroke-linecap="butt" />
<line x1="2328.10" y1="213.27" x2="2322.54" y2="213.27" stroke="#000" stroke-width="1.6666666666666665" stroke-linecap="butt" />
<rect x="1543.70" y="191.90" width="784.40" height="245.70" fill="none" stroke="#000" stroke-width="2.2222222222222223" stroke-linejoin="miter"/>
<text transform="translate(1533.00,437.60)" x="-58.62" y="0" font-size="29.44" textLength="58.62" lengthAdjust="spacingAndGlyphs" fill="#000" >−10</text>
<text transform="translate(1533.00,381.25)" x="-40.95" y="0" font-size="29.44" textLength="40.95" lengthAdjust="spacingAndGlyphs" fill="#000" >−5</text>
<text transform="translate(1533.00,324.90)" x="-17.67" y="0" font-size="29.44" textLength="17.67" lengthAdjust="spacingAndGlyphs" fill="#000" >0</text>
<text transform="translate(1533.00,268.55)" x="-17.67" y="0" font-size="29.44" textLength="17.67" lengthAdjust="spacingAndGlyphs" fill="#000" >5</text>
<text transform="translate(1533.00,212.20)" x="-35.35" y="0" font-size="29.44" textLength="35.35" lengthAdjust="spacingAndGlyphs" fill="#000" >10</text>
<text transform="translate(1456.50,315.60) rotate(-90)" x="-85.72" y="0" font-size="29.44" textLength="171.44" lengthAdjust="spacingAndGlyphs" fill="#000" >Current (uA)</text>
<text transform="translate(2336.60,182.00) rotate(90)" x="0.00" y="0" font-size="21.88" textLength="240.01" lengthAdjust="spacingAndGlyphs" fill="#000" >Sensor Surface Current</text>
<text transform="translate(2356.90,182.00) rotate(90)" x="0.00" y="0" font-size="21.79" textLength="277.35" lengthAdjust="spacingAndGlyphs" fill="#0000ff" >Sensor Surface Current x 5</text>
<rect x="1607.00" y="153.50" width="56.00" height="20.00" fill="#c8cbca" stroke="none" stroke-width="0" />
<text transform="translate(1685.50,174.00)" x="0.00" y="0" font-size="29.44" textLength="186.82" lengthAdjust="spacingAndGlyphs" fill="#000" >S/C in Eclipse</text>
<g><clipPath id="hc"><rect x="1927.5" y="154.5" width="56" height="19"/></clipPath>
<rect x="1927.50" y="154.50" width="56.00" height="19.00" fill="#fff" stroke="#808080" stroke-width="1.4" />
<g clip-path="url(#hc)" stroke="#808080" stroke-width="2.2"><line x1="1929" y1="174" x2="1948" y2="154"/><line x1="1960" y1="174" x2="1979" y2="154"/></g></g>
<text transform="translate(2005.50,174.00)" x="0.00" y="0" font-size="29.44" textLength="259.27" lengthAdjust="spacingAndGlyphs" fill="#000" >IRM in S/C Shadow</text>
<rect x="1594.70" y="462.10" width="261.10" height="244.50" fill="#c8cbca" stroke="none" stroke-width="0" />
<line x1="1592.73" y1="706.60" x2="1592.73" y2="462.10" stroke="#808080" stroke-width="2.2222222222222223" stroke-dasharray="2.22 3.67" stroke-linecap="butt" />
<line x1="1641.75" y1="706.60" x2="1641.75" y2="462.10" stroke="#808080" stroke-width="2.2222222222222223" stroke-dasharray="2.22 3.67" stroke-linecap="butt" />
<line x1="1690.78" y1="706.60" x2="1690.78" y2="462.10" stroke="#808080" stroke-width="2.2222222222222223" stroke-dasharray="2.22 3.67" stroke-linecap="butt" />
<line x1="1739.80" y1="706.60" x2="1739.80" y2="462.10" stroke="#808080" stroke-width="4.166666666666666" stroke-dasharray="4.17 6.87" stroke-linecap="butt" />
<line x1="1788.83" y1="706.60" x2="1788.83" y2="462.10" stroke="#808080" stroke-width="2.2222222222222223" stroke-dasharray="2.22 3.67" stroke-linecap="butt" />
<line x1="1837.85" y1="706.60" x2="1837.85" y2="462.10" stroke="#808080" stroke-width="2.2222222222222223" stroke-dasharray="2.22 3.67" stroke-linecap="butt" />
<line x1="1886.88" y1="706.60" x2="1886.88" y2="462.10" stroke="#808080" stroke-width="2.2222222222222223" stroke-dasharray="2.22 3.67" stroke-linecap="butt" />
<line x1="1935.90" y1="706.60" x2="1935.90" y2="462.10" stroke="#808080" stroke-width="4.166666666666666" stroke-dasharray="4.17 6.87" stroke-linecap="butt" />
<line x1="1984.92" y1="706.60" x2="1984.92" y2="462.10" stroke="#808080" stroke-width="2.2222222222222223" stroke-dasharray="2.22 3.67" stroke-linecap="butt" />
<line x1="2033.95" y1="706.60" x2="2033.95" y2="462.10" stroke="#808080" stroke-width="2.2222222222222223" stroke-dasharray="2.22 3.67" stroke-linecap="butt" />
<line x1="2082.97" y1="706.60" x2="2082.97" y2="462.10" stroke="#808080" stroke-width="2.2222222222222223" stroke-dasharray="2.22 3.67" stroke-linecap="butt" />
<line x1="2132.00" y1="706.60" x2="2132.00" y2="462.10" stroke="#808080" stroke-width="4.166666666666666" stroke-dasharray="4.17 6.87" stroke-linecap="butt" />
<line x1="2181.03" y1="706.60" x2="2181.03" y2="462.10" stroke="#808080" stroke-width="2.2222222222222223" stroke-dasharray="2.22 3.67" stroke-linecap="butt" />
<line x1="2230.05" y1="706.60" x2="2230.05" y2="462.10" stroke="#808080" stroke-width="2.2222222222222223" stroke-dasharray="2.22 3.67" stroke-linecap="butt" />
<line x1="2279.07" y1="706.60" x2="2279.07" y2="462.10" stroke="#808080" stroke-width="2.2222222222222223" stroke-dasharray="2.22 3.67" stroke-linecap="butt" />
<line x1="1543.70" y1="706.60" x2="1543.70" y2="696.88" stroke="#000" stroke-width="2.2222222222222223" stroke-linecap="butt" />
<line x1="1543.70" y1="462.10" x2="1543.70" y2="471.82" stroke="#000" stroke-width="2.2222222222222223" stroke-linecap="butt" />
<line x1="1592.73" y1="706.60" x2="1592.73" y2="701.04" stroke="#000" stroke-width="1.6666666666666665" stroke-linecap="butt" />
<line x1="1592.73" y1="462.10" x2="1592.73" y2="467.66" stroke="#000" stroke-width="1.6666666666666665" stroke-linecap="butt" />
<line x1="1641.75" y1="706.60" x2="1641.75" y2="701.04" stroke="#000" stroke-width="1.6666666666666665" stroke-linecap="butt" />
<line x1="1641.75" y1="462.10" x2="1641.75" y2="467.66" stroke="#000" stroke-width="1.6666666666666665" stroke-linecap="butt" />
<line x1="1690.78" y1="706.60" x2="1690.78" y2="701.04" stroke="#000" stroke-width="1.6666666666666665" stroke-linecap="butt" />
<line x1="1690.78" y1="462.10" x2="1690.78" y2="467.66" stroke="#000" stroke-width="1.6666666666666665" stroke-linecap="butt" />
<line x1="1739.80" y1="706.60" x2="1739.80" y2="696.88" stroke="#000" stroke-width="2.2222222222222223" stroke-linecap="butt" />
<line x1="1739.80" y1="462.10" x2="1739.80" y2="471.82" stroke="#000" stroke-width="2.2222222222222223" stroke-linecap="butt" />
<line x1="1788.83" y1="706.60" x2="1788.83" y2="701.04" stroke="#000" stroke-width="1.6666666666666665" stroke-linecap="butt" />
<line x1="1788.83" y1="462.10" x2="1788.83" y2="467.66" stroke="#000" stroke-width="1.6666666666666665" stroke-linecap="butt" />
<line x1="1837.85" y1="706.60" x2="1837.85" y2="701.04" stroke="#000" stroke-width="1.6666666666666665" stroke-linecap="butt" />
<line x1="1837.85" y1="462.10" x2="1837.85" y2="467.66" stroke="#000" stroke-width="1.6666666666666665" stroke-linecap="butt" />
<line x1="1886.88" y1="706.60" x2="1886.88" y2="701.04" stroke="#000" stroke-width="1.6666666666666665" stroke-linecap="butt" />
<line x1="1886.88" y1="462.10" x2="1886.88" y2="467.66" stroke="#000" stroke-width="1.6666666666666665" stroke-linecap="butt" />
<line x1="1935.90" y1="706.60" x2="1935.90" y2="696.88" stroke="#000" stroke-width="2.2222222222222223" stroke-linecap="butt" />
<line x1="1935.90" y1="462.10" x2="1935.90" y2="471.82" stroke="#000" stroke-width="2.2222222222222223" stroke-linecap="butt" />
<line x1="1984.92" y1="706.60" x2="1984.92" y2="701.04" stroke="#000" stroke-width="1.6666666666666665" stroke-linecap="butt" />
<line x1="1984.92" y1="462.10" x2="1984.92" y2="467.66" stroke="#000" stroke-width="1.6666666666666665" stroke-linecap="butt" />
<line x1="2033.95" y1="706.60" x2="2033.95" y2="701.04" stroke="#000" stroke-width="1.6666666666666665" stroke-linecap="butt" />
<line x1="2033.95" y1="462.10" x2="2033.95" y2="467.66" stroke="#000" stroke-width="1.6666666666666665" stroke-linecap="butt" />
<line x1="2082.97" y1="706.60" x2="2082.97" y2="701.04" stroke="#000" stroke-width="1.6666666666666665" stroke-linecap="butt" />
<line x1="2082.97" y1="462.10" x2="2082.97" y2="467.66" stroke="#000" stroke-width="1.6666666666666665" stroke-linecap="butt" />
<line x1="2132.00" y1="706.60" x2="2132.00" y2="696.88" stroke="#000" stroke-width="2.2222222222222223" stroke-linecap="butt" />
<line x1="2132.00" y1="462.10" x2="2132.00" y2="471.82" stroke="#000" stroke-width="2.2222222222222223" stroke-linecap="butt" />
<line x1="2181.03" y1="706.60" x2="2181.03" y2="701.04" stroke="#000" stroke-width="1.6666666666666665" stroke-linecap="butt" />
<line x1="2181.03" y1="462.10" x2="2181.03" y2="467.66" stroke="#000" stroke-width="1.6666666666666665" stroke-linecap="butt" />
<line x1="2230.05" y1="706.60" x2="2230.05" y2="701.04" stroke="#000" stroke-width="1.6666666666666665" stroke-linecap="butt" />
<line x1="2230.05" y1="462.10" x2="2230.05" y2="467.66" stroke="#000" stroke-width="1.6666666666666665" stroke-linecap="butt" />
<line x1="2279.07" y1="706.60" x2="2279.07" y2="701.04" stroke="#000" stroke-width="1.6666666666666665" stroke-linecap="butt" />
<line x1="2279.07" y1="462.10" x2="2279.07" y2="467.66" stroke="#000" stroke-width="1.6666666666666665" stroke-linecap="butt" />
<line x1="2328.10" y1="706.60" x2="2328.10" y2="696.88" stroke="#000" stroke-width="2.2222222222222223" stroke-linecap="butt" />
<line x1="2328.10" y1="462.10" x2="2328.10" y2="471.82" stroke="#000" stroke-width="2.2222222222222223" stroke-linecap="butt" />
<line x1="1543.70" y1="706.60" x2="1553.42" y2="706.60" stroke="#000" stroke-width="2.2222222222222223" stroke-linecap="butt" />
<line x1="2328.10" y1="706.60" x2="2318.38" y2="706.60" stroke="#000" stroke-width="2.2222222222222223" stroke-linecap="butt" />
<line x1="1543.70" y1="645.48" x2="1553.42" y2="645.48" stroke="#000" stroke-width="2.2222222222222223" stroke-linecap="butt" />
<line x1="2328.10" y1="645.48" x2="2318.38" y2="645.48" stroke="#000" stroke-width="2.2222222222222223" stroke-linecap="butt" />
<line x1="1543.70" y1="584.35" x2="1553.42" y2="584.35" stroke="#000" stroke-width="2.2222222222222223" stroke-linecap="butt" />
<line x1="2328.10" y1="584.35" x2="2318.38" y2="584.35" stroke="#000" stroke-width="2.2222222222222223" stroke-linecap="butt" />
<line x1="1543.70" y1="523.23" x2="1553.42" y2="523.23" stroke="#000" stroke-width="2.2222222222222223" stroke-linecap="butt" />
<line x1="2328.10" y1="523.23" x2="2318.38" y2="523.23" stroke="#000" stroke-width="2.2222222222222223" stroke-linecap="butt" />
<line x1="1543.70" y1="462.10" x2="1553.42" y2="462.10" stroke="#000" stroke-width="2.2222222222222223" stroke-linecap="butt" />
<line x1="2328.10" y1="462.10" x2="2318.38" y2="462.10" stroke="#000" stroke-width="2.2222222222222223" stroke-linecap="butt" />
<line x1="1543.70" y1="694.38" x2="1549.26" y2="694.38" stroke="#000" stroke-width="1.6666666666666665" stroke-linecap="butt" />
<line x1="2328.10" y1="694.38" x2="2322.54" y2="694.38" stroke="#000" stroke-width="1.6666666666666665" stroke-linecap="butt" />
<line x1="1543.70" y1="682.15" x2="1549.26" y2="682.15" stroke="#000" stroke-width="1.6666666666666665" stroke-linecap="butt" />
<line x1="2328.10" y1="682.15" x2="2322.54" y2="682.15" stroke="#000" stroke-width="1.6666666666666665" stroke-linecap="butt" />
<line x1="1543.70" y1="669.93" x2="1549.26" y2="669.93" stroke="#000" stroke-width="1.6666666666666665" stroke-linecap="butt" />
<line x1="2328.10" y1="669.93" x2="2322.54" y2="669.93" stroke="#000" stroke-width="1.6666666666666665" stroke-linecap="butt" />
<line x1="1543.70" y1="657.70" x2="1549.26" y2="657.70" stroke="#000" stroke-width="1.6666666666666665" stroke-linecap="butt" />
<line x1="2328.10" y1="657.70" x2="2322.54" y2="657.70" stroke="#000" stroke-width="1.6666666666666665" stroke-linecap="butt" />
<line x1="1543.70" y1="633.25" x2="1549.26" y2="633.25" stroke="#000" stroke-width="1.6666666666666665" stroke-linecap="butt" />
<line x1="2328.10" y1="633.25" x2="2322.54" y2="633.25" stroke="#000" stroke-width="1.6666666666666665" stroke-linecap="butt" />
<line x1="1543.70" y1="621.03" x2="1549.26" y2="621.03" stroke="#000" stroke-width="1.6666666666666665" stroke-linecap="butt" />
<line x1="2328.10" y1="621.03" x2="2322.54" y2="621.03" stroke="#000" stroke-width="1.6666666666666665" stroke-linecap="butt" />
<line x1="1543.70" y1="608.80" x2="1549.26" y2="608.80" stroke="#000" stroke-width="1.6666666666666665" stroke-linecap="butt" />
<line x1="2328.10" y1="608.80" x2="2322.54" y2="608.80" stroke="#000" stroke-width="1.6666666666666665" stroke-linecap="butt" />
<line x1="1543.70" y1="596.58" x2="1549.26" y2="596.58" stroke="#000" stroke-width="1.6666666666666665" stroke-linecap="butt" />
<line x1="2328.10" y1="596.58" x2="2322.54" y2="596.58" stroke="#000" stroke-width="1.6666666666666665" stroke-linecap="butt" />
<line x1="1543.70" y1="572.12" x2="1549.26" y2="572.12" stroke="#000" stroke-width="1.6666666666666665" stroke-linecap="butt" />
<line x1="2328.10" y1="572.12" x2="2322.54" y2="572.12" stroke="#000" stroke-width="1.6666666666666665" stroke-linecap="butt" />
<line x1="1543.70" y1="559.90" x2="1549.26" y2="559.90" stroke="#000" stroke-width="1.6666666666666665" stroke-linecap="butt" />
<line x1="2328.10" y1="559.90" x2="2322.54" y2="559.90" stroke="#000" stroke-width="1.6666666666666665" stroke-linecap="butt" />
<line x1="1543.70" y1="547.67" x2="1549.26" y2="547.67" stroke="#000" stroke-width="1.6666666666666665" stroke-linecap="butt" />
<line x1="2328.10" y1="547.67" x2="2322.54" y2="547.67" stroke="#000" stroke-width="1.6666666666666665" stroke-linecap="butt" />
<line x1="1543.70" y1="535.45" x2="1549.26" y2="535.45" stroke="#000" stroke-width="1.6666666666666665" stroke-linecap="butt" />
<line x1="2328.10" y1="535.45" x2="2322.54" y2="535.45" stroke="#000" stroke-width="1.6666666666666665" stroke-linecap="butt" />
<line x1="1543.70" y1="511.00" x2="1549.26" y2="511.00" stroke="#000" stroke-width="1.6666666666666665" stroke-linecap="butt" />
<line x1="2328.10" y1="511.00" x2="2322.54" y2="511.00" stroke="#000" stroke-width="1.6666666666666665" stroke-linecap="butt" />
<line x1="1543.70" y1="498.78" x2="1549.26" y2="498.78" stroke="#000" stroke-width="1.6666666666666665" stroke-linecap="butt" />
<line x1="2328.10" y1="498.78" x2="2322.54" y2="498.78" stroke="#000" stroke-width="1.6666666666666665" stroke-linecap="butt" />
<line x1="1543.70" y1="486.55" x2="1549.26" y2="486.55" stroke="#000" stroke-width="1.6666666666666665" stroke-linecap="butt" />
<line x1="2328.10" y1="486.55" x2="2322.54" y2="486.55" stroke="#000" stroke-width="1.6666666666666665" stroke-linecap="butt" />
<line x1="1543.70" y1="474.33" x2="1549.26" y2="474.33" stroke="#000" stroke-width="1.6666666666666665" stroke-linecap="butt" />
<line x1="2328.10" y1="474.33" x2="2322.54" y2="474.33" stroke="#000" stroke-width="1.6666666666666665" stroke-linecap="butt" />
<rect x="1543.70" y="462.10" width="784.40" height="244.50" fill="none" stroke="#000" stroke-width="2.2222222222222223" stroke-linejoin="miter"/>
<line x1="1543.70" y1="705.70" x2="2328.10" y2="705.70" stroke="#0000ee" stroke-width="2.2" stroke-linecap="butt" />
<text transform="translate(1533.00,716.80)" x="-61.85" y="0" font-size="29.44" textLength="61.85" lengthAdjust="spacingAndGlyphs" fill="#000" >0.00</text>
<text transform="translate(1533.00,655.68)" x="-61.85" y="0" font-size="29.44" textLength="61.85" lengthAdjust="spacingAndGlyphs" fill="#000" >0.25</text>
<text transform="translate(1533.00,594.55)" x="-61.85" y="0" font-size="29.44" textLength="61.85" lengthAdjust="spacingAndGlyphs" fill="#000" >0.50</text>
<text transform="translate(1533.00,533.43)" x="-61.85" y="0" font-size="29.44" textLength="61.85" lengthAdjust="spacingAndGlyphs" fill="#000" >0.75</text>
<text transform="translate(1533.00,472.30)" x="-61.85" y="0" font-size="29.44" textLength="61.85" lengthAdjust="spacingAndGlyphs" fill="#000" >1.00</text>
<text transform="translate(1543.70,752.50)" x="-62.38" y="0" font-size="29.44" textLength="124.76" lengthAdjust="spacingAndGlyphs" fill="#000" >20:19:02</text>
<text transform="translate(1739.80,752.50)" x="-62.38" y="0" font-size="29.44" textLength="124.76" lengthAdjust="spacingAndGlyphs" fill="#000" >20:44:19</text>
<text transform="translate(1935.90,752.50)" x="-62.38" y="0" font-size="29.44" textLength="124.76" lengthAdjust="spacingAndGlyphs" fill="#000" >21:09:36</text>
<text transform="translate(2132.00,752.50)" x="-62.38" y="0" font-size="29.44" textLength="124.76" lengthAdjust="spacingAndGlyphs" fill="#000" >21:34:53</text>
<text transform="translate(2328.10,752.50)" x="-62.38" y="0" font-size="29.44" textLength="124.76" lengthAdjust="spacingAndGlyphs" fill="#000" >22:00:09</text>
<text transform="translate(1429.80,598.40) rotate(-90)" x="-75.03" y="0" font-size="29.44" textLength="150.06" lengthAdjust="spacingAndGlyphs" fill="#000" >Counts Per</text>
<text transform="translate(1457.40,696.85) rotate(-90)" x="0.00" y="0" font-size="29.44" textLength="173.69" lengthAdjust="spacingAndGlyphs" fill="#000" >Second (x10</text>
<text transform="translate(1447.90,523.16) rotate(-90)" x="0.00" y="0" font-size="20.61" textLength="12.37" lengthAdjust="spacingAndGlyphs" fill="#000" >3</text>
<text transform="translate(1457.40,510.79) rotate(-90)" x="0.00" y="0" font-size="29.44" textLength="10.84" lengthAdjust="spacingAndGlyphs" fill="#000" >)</text>
<text transform="translate(2337.50,489.90) rotate(90)" x="0.00" y="0" font-size="23.17" textLength="125.39" lengthAdjust="spacingAndGlyphs" fill="#000" >Hit Counter</text>
<text transform="translate(2360.20,489.90) rotate(90)" x="0.00" y="0" font-size="23.26" textLength="167.84" lengthAdjust="spacingAndGlyphs" fill="#0000ff" >Detect Counter</text>
<defs>
<clipPath id="mapclip"><path d="M1669.2,794.2 L2142.0,794.2 A236.4,236.4 0 0 1 2142.0,1267.2 L1669.2,1267.2 A236.4,236.4 0 0 1 1669.2,794.2 Z"/></clipPath>
<clipPath id="landclip"><path d="M1533.6,858.6 L1546.2,850.7 L1553.3,848.9 L1560.4,847.1 L1567.5,845.2 L1574.6,843.4 L1578.6,844.0 L1582.6,844.7 L1586.6,845.3 L1590.7,845.9 L1594.8,846.6 L1598.9,847.2 L1603.0,847.8 L1607.8,847.7 L1612.6,847.5 L1617.4,847.3 L1622.2,847.1 L1627.0,847.0 L1631.8,846.8 L1635.9,847.5 L1640.0,848.1 L1644.1,848.8 L1648.3,849.4 L1652.4,850.1 L1656.6,850.7 L1661.3,851.2 L1666.1,851.6 L1670.8,852.0 L1675.2,852.0 L1679.5,852.0 L1683.9,852.0 L1688.2,852.0 L1692.6,852.0 L1696.9,852.0 L1702.4,846.8 L1708.1,841.5 L1711.7,843.2 L1715.4,844.8 L1719.2,846.5 L1723.0,848.1 L1727.4,852.0 L1721.2,855.6 L1715.0,859.1 L1708.8,862.6 L1703.0,865.2 L1697.2,867.8 L1691.4,870.4 L1690.6,877.0 L1694.4,879.1 L1698.2,881.2 L1702.0,883.3 L1705.9,885.4 L1710.1,891.7 L1714.2,895.9 L1718.8,888.8 L1725.3,883.6 L1725.3,877.0 L1727.9,871.8 L1730.6,866.5 L1735.1,867.8 L1739.7,869.1 L1746.1,870.4 L1751.3,871.8 L1756.6,873.1 L1756.1,878.3 L1762.8,883.6 L1766.4,887.5 L1770.2,891.5 L1771.7,895.4 L1763.7,899.3 L1758.9,899.2 L1754.1,899.0 L1749.4,898.8 L1743.8,902.0 L1738.2,905.1 L1743.0,905.5 L1747.7,905.9 L1752.2,907.9 L1756.6,909.8 L1748.5,913.8 L1743.0,916.4 L1738.1,916.4 L1733.2,916.4 L1731.0,921.1 L1721.7,924.0 L1716.6,930.9 L1713.9,938.2 L1708.3,941.4 L1699.6,947.9 L1699.6,953.9 L1699.8,959.8 L1698.4,964.5 L1695.0,961.1 L1693.9,954.5 L1688.6,952.7 L1683.6,952.0 L1678.6,951.4 L1675.5,954.5 L1670.5,953.9 L1665.5,953.2 L1656.9,958.5 L1654.1,967.6 L1652.6,972.9 L1656.3,980.8 L1659.9,982.9 L1667.8,982.1 L1671.2,975.5 L1680.4,974.2 L1678.1,983.4 L1675.0,988.7 L1680.8,988.9 L1686.7,989.2 L1688.5,992.6 L1686.6,1001.8 L1689.5,1005.7 L1697.4,1005.7 L1702.5,1008.4 L1702.9,1011.0 L1701.1,1011.0 L1695.8,1011.5 L1689.4,1009.2 L1681.7,1004.4 L1677.0,996.5 L1671.8,995.2 L1666.7,993.9 L1659.4,988.1 L1652.8,989.2 L1647.8,987.4 L1642.8,985.5 L1637.3,981.8 L1632.0,978.2 L1632.9,971.6 L1625.2,963.7 L1618.0,954.5 L1613.8,947.9 L1614.0,951.9 L1617.6,959.0 L1620.8,966.3 L1622.8,969.7 L1617.2,965.0 L1612.6,955.8 L1609.9,950.6 L1608.3,944.8 L1601.2,940.1 L1599.3,933.5 L1597.1,924.8 L1599.2,917.7 L1603.0,909.3 L1607.8,903.8 L1604.3,900.7 L1599.6,895.4 L1597.8,887.5 L1595.8,880.9 L1590.1,877.0 L1584.1,873.9 L1580.2,873.0 L1576.2,872.1 L1572.3,871.2 L1567.0,872.1 L1561.8,873.1 L1553.1,877.0 L1546.5,879.0 L1539.8,880.9 L1532.1,883.6 L1524.4,886.2 L1516.4,887.5 L1525.6,882.9 L1534.8,878.3 L1532.2,875.7 L1529.6,870.4 L1536.4,865.2 L1546.7,861.2 L1541.1,861.2 L1535.5,861.2 L1533.6,858.6Z M1739.9,837.6 L1743.2,838.9 L1746.6,840.2 L1750.1,841.5 L1753.6,842.9 L1756.5,845.5 L1759.6,848.1 L1762.9,850.3 L1766.3,852.5 L1769.8,854.7 L1763.4,859.9 L1756.5,866.5 L1752.4,865.6 L1748.2,864.7 L1744.0,863.9 L1739.9,863.0 L1735.8,862.1 L1731.7,861.2 L1737.3,858.6 L1742.9,856.0 L1740.7,851.4 L1738.8,846.8 L1733.8,846.8 L1728.8,846.8 L1723.8,846.8 L1723.3,837.6 L1727.5,837.6 L1731.6,837.6 L1735.8,837.6 L1739.9,837.6Z M1642.9,841.5 L1647.0,842.4 L1651.2,843.3 L1655.4,844.2 L1658.6,845.5 L1661.8,846.8 L1665.1,848.1 L1668.4,849.4 L1672.7,849.4 L1677.0,849.4 L1681.3,849.4 L1685.6,849.4 L1686.0,840.2 L1681.5,839.8 L1677.0,839.4 L1672.5,838.9 L1669.5,837.6 L1666.5,836.3 L1663.7,835.0 L1658.5,835.4 L1653.2,835.8 L1648.0,836.3 L1642.9,841.5Z M1725.1,829.7 L1729.1,829.7 L1733.2,829.7 L1737.2,829.7 L1741.2,829.7 L1745.2,829.7 L1749.2,829.7 L1754.3,828.1 L1759.5,826.4 L1764.6,824.8 L1769.6,823.1 L1774.9,821.2 L1780.2,819.2 L1785.4,817.2 L1790.6,815.3 L1786.9,814.8 L1783.3,814.4 L1779.7,814.0 L1776.1,813.5 L1772.5,813.1 L1769.0,812.6 L1764.5,813.2 L1760.0,813.8 L1755.5,814.3 L1751.0,814.9 L1746.4,815.5 L1741.9,816.0 L1737.3,816.6 L1730.5,818.6 L1723.7,820.5 L1724.1,825.1 L1725.1,829.7Z M1709.8,833.7 L1713.9,833.7 L1718.0,833.7 L1722.1,833.7 L1726.1,833.7 L1730.2,833.7 L1734.3,833.7 L1738.4,833.7 L1744.3,831.0 L1740.5,830.6 L1736.8,830.2 L1733.2,829.7 L1729.5,829.3 L1725.8,828.8 L1722.2,828.4 L1716.0,831.0 L1709.8,833.7Z M1663.6,831.0 L1667.7,831.2 L1671.8,831.4 L1676.0,831.6 L1680.1,831.8 L1684.3,832.0 L1688.5,832.2 L1692.6,832.3 L1700.7,829.1 L1708.7,825.8 L1705.0,825.6 L1701.3,825.3 L1697.6,825.1 L1693.9,824.9 L1690.2,824.7 L1686.6,824.5 L1680.8,826.1 L1675.1,827.7 L1669.3,829.4 L1663.6,831.0Z M1761.9,825.8 L1767.2,823.8 L1772.5,821.8 L1777.8,819.9 L1783.0,817.9 L1787.2,817.4 L1791.3,816.8 L1795.4,816.3 L1799.5,815.8 L1803.6,815.3 L1807.6,814.7 L1811.7,814.2 L1815.7,813.7 L1819.7,813.2 L1823.6,812.6 L1827.3,812.6 L1830.9,812.6 L1834.6,812.6 L1838.2,812.6 L1841.9,812.6 L1845.5,812.6 L1849.1,812.6 L1852.8,812.6 L1856.4,812.6 L1860.1,812.6 L1863.6,815.3 L1867.3,817.9 L1871.1,820.5 L1868.0,827.1 L1864.8,833.7 L1861.8,839.6 L1858.7,845.5 L1854.2,847.1 L1849.6,848.8 L1845.0,850.4 L1840.4,852.0 L1835.7,853.6 L1831.0,855.2 L1826.3,856.8 L1821.5,858.4 L1816.7,859.9 L1811.9,866.5 L1807.0,873.1 L1801.6,871.8 L1796.2,870.4 L1793.0,865.2 L1790.1,859.9 L1789.5,854.7 L1789.1,849.4 L1788.4,842.9 L1788.1,836.3 L1784.1,835.2 L1780.1,834.2 L1776.2,833.1 L1772.3,832.1 L1768.5,831.0 L1765.1,828.4 L1761.9,825.8Z M1702.9,1011.0 L1709.3,1003.1 L1717.3,999.2 L1718.4,1003.1 L1727.7,1000.5 L1732.9,1001.8 L1738.1,1003.1 L1745.9,1003.1 L1748.4,1008.4 L1756.0,1014.9 L1762.6,1016.9 L1769.1,1018.9 L1771.7,1024.1 L1774.3,1029.4 L1779.5,1033.3 L1784.8,1035.3 L1790.0,1037.3 L1795.3,1037.9 L1800.6,1038.6 L1808.5,1043.8 L1813.8,1049.1 L1813.9,1055.7 L1807.5,1062.2 L1803.9,1070.1 L1802.9,1078.0 L1801.2,1083.2 L1799.5,1088.5 L1791.9,1091.1 L1787.0,1094.4 L1782.1,1097.7 L1780.7,1105.6 L1777.1,1110.8 L1773.6,1116.1 L1769.2,1121.3 L1761.8,1122.7 L1762.9,1130.5 L1756.8,1131.8 L1750.8,1133.2 L1744.2,1138.4 L1748.7,1142.4 L1745.1,1148.9 L1741.0,1152.9 L1746.1,1156.8 L1740.3,1164.7 L1742.9,1169.9 L1750.3,1175.2 L1745.8,1175.9 L1741.3,1176.5 L1735.6,1173.2 L1729.9,1169.9 L1726.2,1163.4 L1722.6,1156.8 L1723.0,1151.6 L1723.6,1146.3 L1723.1,1141.0 L1722.6,1135.8 L1722.1,1126.6 L1723.0,1120.7 L1723.9,1114.8 L1723.8,1109.5 L1723.7,1104.3 L1723.8,1097.7 L1724.0,1091.1 L1723.4,1085.2 L1722.9,1079.3 L1715.5,1074.0 L1706.4,1067.5 L1703.9,1062.2 L1701.4,1057.0 L1696.3,1049.1 L1692.2,1043.8 L1695.5,1038.6 L1692.8,1033.3 L1695.5,1028.1 L1699.4,1024.1 L1702.7,1018.9 L1702.3,1012.3 L1702.9,1011.0Z M1890.5,936.6 L1896.8,937.4 L1903.1,938.2 L1908.1,935.9 L1913.1,933.5 L1919.0,933.2 L1924.8,933.0 L1930.7,932.7 L1933.5,942.7 L1938.6,944.0 L1943.7,945.3 L1950.1,947.3 L1956.5,949.3 L1956.3,944.5 L1964.0,945.3 L1969.1,946.6 L1974.3,947.9 L1979.4,949.3 L1987.0,948.7 L1992.7,957.1 L1994.9,962.4 L1997.2,967.6 L2001.4,975.5 L2003.0,982.1 L2008.6,991.3 L2018.0,999.2 L2023.4,1003.1 L2028.6,1001.8 L2033.8,1000.5 L2039.0,999.2 L2039.1,1003.1 L2035.4,1010.3 L2031.6,1017.6 L2026.4,1022.2 L2021.2,1026.8 L2014.6,1036.0 L2008.0,1043.8 L2008.5,1050.4 L2009.0,1057.0 L2010.2,1063.5 L2011.2,1070.1 L2005.2,1075.4 L1999.1,1080.6 L1997.5,1087.2 L1995.9,1093.8 L1990.4,1099.0 L1987.6,1104.3 L1984.7,1109.5 L1979.3,1114.5 L1973.9,1119.5 L1967.6,1120.2 L1961.2,1120.8 L1952.4,1120.8 L1950.2,1112.1 L1947.2,1106.2 L1944.1,1100.3 L1942.3,1094.7 L1940.5,1089.2 L1938.7,1083.6 L1936.8,1078.0 L1938.2,1072.7 L1939.5,1067.5 L1940.9,1062.2 L1939.6,1057.0 L1938.4,1051.7 L1937.1,1046.5 L1933.2,1039.9 L1929.2,1033.3 L1929.9,1027.4 L1930.5,1021.5 L1924.0,1018.9 L1917.4,1014.1 L1908.2,1015.5 L1901.7,1016.3 L1895.1,1017.0 L1889.9,1018.0 L1884.6,1018.9 L1876.7,1012.8 L1870.2,1005.7 L1861.7,997.9 L1859.9,992.1 L1861.6,986.4 L1863.3,980.8 L1861.6,975.5 L1864.3,967.6 L1872.3,957.9 L1880.1,951.9 L1881.5,945.3 L1890.5,936.6Z M2034.5,1062.2 L2037.3,1071.4 L2034.8,1077.1 L2032.3,1082.8 L2029.8,1088.5 L2026.6,1096.4 L2018.9,1096.4 L2017.6,1088.5 L2019.3,1081.9 L2020.9,1075.4 L2028.2,1070.1 L2034.5,1062.2Z M1882.1,929.0 L1883.8,923.0 L1882.9,917.7 L1885.9,915.9 L1890.8,916.2 L1895.7,916.4 L1900.7,916.7 L1901.9,909.8 L1894.7,903.3 L1902.0,902.8 L1910.4,896.7 L1915.1,894.1 L1920.4,891.5 L1925.7,888.8 L1925.4,880.9 L1930.0,879.6 L1929.2,887.5 L1933.9,888.2 L1938.7,888.8 L1944.6,888.2 L1950.4,887.5 L1954.8,883.6 L1961.4,880.2 L1959.8,875.7 L1964.8,874.8 L1969.9,873.9 L1974.4,873.1 L1969.0,873.1 L1963.7,873.1 L1958.3,873.1 L1954.6,870.4 L1954.0,865.2 L1961.0,858.6 L1954.2,858.1 L1950.2,861.6 L1946.1,865.2 L1944.5,871.8 L1948.2,875.7 L1944.1,882.3 L1936.1,884.9 L1931.0,877.0 L1924.1,878.3 L1917.1,875.7 L1916.9,867.8 L1922.5,865.2 L1928.0,862.6 L1932.1,858.0 L1936.1,853.4 L1941.3,850.1 L1946.2,846.8 L1950.4,845.9 L1954.5,845.0 L1958.6,844.2 L1963.0,845.0 L1967.5,845.9 L1971.9,846.8 L1976.5,848.4 L1981.2,849.9 L1985.9,851.5 L1990.6,853.1 L1995.4,854.7 L1995.0,857.3 L1990.1,856.9 L1985.2,856.4 L1980.3,856.0 L1983.6,861.2 L1989.2,861.2 L1994.8,861.2 L1998.8,859.3 L2002.7,857.3 L2001.0,851.3 L2005.9,851.1 L2010.7,851.0 L2015.5,850.9 L2020.4,850.7 L2025.2,850.3 L2030.1,849.9 L2035.0,849.4 L2039.4,849.8 L2043.9,850.1 L2048.4,850.4 L2052.8,850.7 L2047.7,844.2 L2051.0,842.4 L2054.3,840.7 L2057.5,838.9 L2062.1,841.5 L2066.8,839.6 L2071.3,837.6 L2075.0,835.8 L2078.6,834.1 L2082.1,832.3 L2086.1,831.9 L2090.2,831.5 L2094.2,831.0 L2098.2,830.6 L2102.2,830.2 L2106.1,829.7 L2109.7,828.1 L2113.1,826.6 L2118.2,827.7 L2123.3,828.8 L2128.4,829.9 L2133.5,831.0 L2132.3,836.3 L2137.0,836.6 L2141.6,836.9 L2146.3,837.3 L2151.0,837.6 L2155.8,837.9 L2160.5,838.3 L2165.2,838.6 L2169.9,838.9 L2176.7,841.5 L2183.4,844.2 L2187.2,843.2 L2191.0,842.2 L2194.7,841.2 L2198.4,840.2 L2203.2,840.8 L2207.9,841.3 L2212.7,841.8 L2217.5,842.3 L2222.2,842.9 L2227.3,843.6 L2232.4,844.4 L2237.5,845.2 L2242.7,846.0 L2247.8,846.8 L2252.1,846.8 L2256.4,846.8 L2260.6,846.8 L2264.9,846.8 L2269.2,846.8 L2274.1,847.3 L2279.0,847.8 L2283.9,848.4 L2288.8,848.9 L2293.8,849.4 L2304.1,858.6 L2309.8,866.5 L2306.3,868.1 L2302.7,869.8 L2299.0,871.4 L2295.3,873.1 L2291.5,875.0 L2287.7,876.9 L2283.8,878.8 L2286.8,886.2 L2284.4,891.5 L2281.7,896.7 L2277.7,891.5 L2273.4,886.2 L2269.0,880.9 L2267.0,875.0 L2264.6,869.1 L2269.7,868.5 L2274.8,867.8 L2271.7,869.5 L2268.5,871.1 L2265.2,872.7 L2261.9,874.4 L2257.4,874.5 L2252.8,874.6 L2248.3,874.6 L2243.8,874.7 L2239.2,874.8 L2234.7,874.9 L2232.1,877.9 L2229.3,880.8 L2226.5,883.8 L2223.5,886.7 L2229.2,888.3 L2234.8,889.9 L2240.4,891.5 L2243.5,898.0 L2246.2,904.6 L2242.9,910.5 L2239.3,916.4 L2234.2,917.5 L2229.1,918.5 L2223.2,926.1 L2231.1,936.1 L2225.2,940.1 L2221.9,933.5 L2215.6,925.6 L2209.0,928.2 L2200.2,928.2 L2204.0,932.2 L2213.1,933.5 L2207.1,938.7 L2211.5,944.0 L2215.7,949.3 L2215.5,957.1 L2211.8,963.7 L2206.5,970.3 L2197.9,972.9 L2190.5,975.5 L2185.2,974.2 L2180.7,979.5 L2184.7,985.4 L2188.6,991.3 L2191.4,999.2 L2184.5,1004.4 L2180.7,1007.1 L2179.1,1003.1 L2173.6,999.2 L2168.1,995.2 L2167.3,1001.8 L2166.3,1007.1 L2170.5,1013.6 L2177.3,1020.2 L2178.8,1026.8 L2172.1,1023.3 L2168.8,1014.9 L2163.2,1008.4 L2163.2,999.2 L2161.4,993.3 L2159.5,987.4 L2151.8,988.7 L2149.7,980.8 L2142.1,971.6 L2135.8,972.9 L2131.0,975.5 L2126.1,978.7 L2119.2,987.4 L2114.8,991.3 L2114.9,996.5 L2114.9,1001.8 L2108.8,1009.7 L2104.6,1004.4 L2102.4,999.2 L2100.1,993.9 L2097.8,988.7 L2095.4,983.4 L2093.4,975.5 L2086.9,975.5 L2082.4,969.0 L2078.1,965.0 L2071.7,964.8 L2065.2,964.5 L2059.4,964.1 L2053.5,963.7 L2050.6,959.8 L2044.0,958.5 L2037.5,957.1 L2033.1,951.4 L2028.6,951.9 L2030.6,957.1 L2036.8,963.7 L2038.4,967.6 L2044.9,967.6 L2049.6,962.4 L2051.3,967.6 L2060.2,971.6 L2057.3,978.2 L2048.8,986.0 L2041.1,988.7 L2036.0,991.3 L2030.9,993.9 L2023.2,997.1 L2018.7,996.5 L2016.3,988.7 L2009.4,979.5 L2005.0,970.3 L1999.4,962.4 L1995.3,957.1 L1994.2,953.2 L1992.9,948.5 L1995.5,942.7 L1996.2,936.1 L1991.1,935.3 L1982.3,934.8 L1974.6,933.5 L1971.8,928.2 L1971.0,925.1 L1977.6,923.0 L1984.8,920.9 L1989.8,921.3 L1994.8,921.7 L2001.7,921.7 L2008.5,921.7 L2006.7,917.7 L2001.5,915.1 L1996.3,912.5 L2000.5,907.2 L1995.8,908.5 L1991.1,909.8 L1986.3,911.2 L1980.1,909.8 L1976.4,915.1 L1974.9,920.4 L1970.2,923.5 L1962.8,924.3 L1965.7,930.9 L1962.1,934.3 L1958.1,929.6 L1953.9,921.7 L1952.5,919.0 L1947.5,916.4 L1942.4,913.8 L1938.6,910.6 L1935.7,911.9 L1936.3,915.1 L1940.2,919.0 L1945.2,921.1 L1951.6,924.8 L1947.9,924.3 L1946.8,928.2 L1945.2,930.9 L1945.5,926.4 L1939.1,922.5 L1931.5,918.3 L1927.2,914.3 L1920.4,917.2 L1913.5,917.2 L1913.5,920.6 L1907.6,923.0 L1904.9,926.9 L1905.6,928.8 L1903.8,931.4 L1900.6,934.0 L1894.3,934.3 L1891.8,936.1 L1889.3,933.5 L1883.5,933.5 L1882.1,929.0Z M1892.4,899.3 L1898.0,898.3 L1903.6,897.2 L1909.2,896.2 L1909.6,892.0 L1905.1,888.8 L1900.9,883.6 L1901.0,879.1 L1896.4,877.0 L1891.7,879.6 L1893.8,886.2 L1898.5,888.8 L1894.9,891.5 L1893.7,894.9 L1898.4,895.7 L1892.4,899.3Z M1881.7,894.1 L1886.5,893.8 L1891.3,893.6 L1891.4,888.8 L1888.0,885.7 L1882.0,888.8 L1881.7,894.1Z M1852.5,858.6 L1856.4,862.6 L1862.9,864.1 L1868.7,862.7 L1874.4,861.2 L1872.6,856.8 L1867.0,856.8 L1861.5,856.8 L1857.0,857.7 L1852.5,858.6Z M2236.3,947.9 L2238.2,941.4 L2243.1,940.7 L2247.9,940.1 L2252.8,939.4 L2257.6,938.7 L2258.6,930.9 L2256.9,923.0 L2253.1,923.0 L2254.9,930.9 L2248.3,933.5 L2240.8,937.4 L2234.8,942.7 L2236.3,947.9Z M2252.1,920.4 L2257.4,918.4 L2262.7,916.4 L2252.5,911.2 L2252.1,920.4Z M2252.4,909.8 L2251.7,904.6 L2250.8,899.3 L2246.7,894.1 L2242.5,888.8 L2244.9,894.1 L2247.2,899.3 L2249.8,904.6 L2252.4,909.8Z M2156.2,1016.3 L2162.9,1020.2 L2170.2,1026.8 L2177.5,1033.3 L2180.6,1039.6 L2183.7,1045.9 L2178.5,1045.1 L2174.1,1039.9 L2169.6,1034.6 L2165.0,1029.4 L2160.3,1024.1 L2156.2,1016.3Z M2182.4,1047.8 L2188.9,1047.8 L2194.1,1048.2 L2199.4,1048.6 L2205.8,1050.4 L2204.4,1053.0 L2199.2,1052.4 L2194.0,1051.8 L2188.7,1051.2 L2182.4,1047.8Z M2191.9,1026.8 L2197.1,1024.8 L2202.3,1022.8 L2207.4,1017.8 L2212.5,1012.8 L2217.9,1017.6 L2216.1,1022.8 L2214.2,1028.1 L2212.9,1034.0 L2211.5,1039.9 L2202.3,1039.1 L2194.5,1034.6 L2191.9,1026.8Z M2219.2,1043.8 L2222.1,1037.3 L2220.8,1028.6 L2226.7,1028.1 L2232.6,1027.5 L2224.7,1032.8 L2228.6,1039.9 L2223.2,1042.5 L2219.2,1043.8Z M2218.7,982.1 L2223.7,986.0 L2222.8,993.9 L2229.7,997.9 L2235.7,1007.1 L2234.9,1014.9 L2225.6,1012.3 L2227.7,1004.4 L2221.8,996.5 L2218.3,988.7 L2218.7,982.1Z M2249.7,1033.3 L2257.6,1032.8 L2262.8,1034.1 L2268.0,1035.4 L2275.9,1037.8 L2281.1,1040.2 L2286.2,1042.5 L2292.6,1047.0 L2299.6,1057.5 L2290.6,1055.7 L2281.7,1053.0 L2275.0,1054.3 L2267.4,1051.7 L2267.7,1045.1 L2262.6,1043.2 L2257.4,1041.2 L2252.2,1038.1 L2249.7,1033.3Z M2200.5,1088.5 L2199.0,1093.8 L2197.4,1099.0 L2197.8,1106.2 L2198.1,1113.5 L2196.3,1120.8 L2203.3,1122.7 L2210.7,1121.1 L2218.1,1119.5 L2225.8,1116.7 L2233.6,1114.0 L2240.1,1113.5 L2246.6,1117.4 L2248.8,1122.7 L2254.7,1117.4 L2256.7,1125.3 L2258.5,1131.1 L2267.2,1131.1 L2271.4,1133.2 L2281.9,1128.7 L2288.2,1119.5 L2296.0,1109.5 L2297.9,1104.3 L2299.7,1099.0 L2295.3,1092.4 L2291.8,1084.6 L2285.6,1080.6 L2285.4,1075.4 L2285.1,1070.1 L2280.1,1068.3 L2278.5,1059.1 L2275.2,1066.2 L2272.5,1076.2 L2267.2,1076.7 L2259.0,1070.1 L2263.3,1062.2 L2257.8,1061.3 L2252.3,1060.4 L2245.3,1064.9 L2240.8,1069.6 L2234.5,1067.5 L2225.8,1075.4 L2222.6,1079.3 L2214.3,1083.2 L2207.5,1085.1 L2200.5,1088.5Z M2265.1,1137.6 L2273.6,1138.2 L2270.2,1143.7 L2265.1,1145.2 L2265.1,1137.6Z M2341.9,1121.3 L2346.8,1126.6 L2352.4,1129.7 L2346.9,1134.5 L2339.9,1139.7 L2339.5,1134.5 L2343.6,1129.2 L2341.9,1121.3Z M2335.2,1137.1 L2337.0,1140.5 L2325.4,1147.6 L2322.0,1151.6 L2316.4,1152.9 L2312.2,1151.6 L2318.7,1146.3 L2328.5,1141.6 L2335.2,1137.1Z M2115.1,1005.2 L2120.1,1011.0 L2117.6,1014.9 L2114.8,1011.0 L2115.1,1005.2Z M2218.4,964.5 L2218.6,972.9 L2215.6,970.3 L2218.4,964.5Z M2188.3,978.2 L2193.6,978.7 L2191.5,982.6 L2187.9,980.8 L2188.3,978.2Z M1685.7,972.9 L1692.3,971.6 L1699.0,970.3 L1705.1,973.6 L1711.2,976.8 L1713.2,977.6 L1704.5,978.7 L1703.7,974.2 L1698.6,973.2 L1693.6,972.1 L1685.7,972.9Z M1712.3,978.7 L1718.1,978.7 L1724.0,978.7 L1727.6,982.1 L1719.7,983.4 L1712.0,982.1 L1712.3,978.7Z M1762.3,905.9 L1769.3,907.2 L1776.6,907.2 L1776.4,902.0 L1771.7,895.4 L1762.8,903.3 L1762.3,905.9Z M1926.8,821.8 L1932.1,825.1 L1937.5,828.4 L1941.3,827.5 L1945.1,826.7 L1948.9,825.8 L1953.2,823.1 L1957.3,820.5 L1952.9,820.2 L1948.5,819.9 L1944.2,819.5 L1939.8,819.2 L1935.5,820.1 L1931.2,821.0 L1926.8,821.8Z M2015.9,844.2 L2021.4,844.8 L2027.0,845.5 L2022.2,838.9 L2024.8,835.6 L2027.3,832.3 L2030.8,831.4 L2034.3,830.4 L2037.7,829.4 L2041.1,828.4 L2038.3,830.4 L2035.4,832.3 L2031.1,833.2 L2026.8,834.1 L2022.5,835.0 L2019.5,837.6 L2016.5,840.2 L2015.9,844.2Z M2090.1,823.1 L2094.0,823.1 L2097.9,823.1 L2101.8,823.1 L2105.7,823.1 L2109.6,823.1 L2102.6,821.2 L2095.7,819.2 L2093.0,821.2 L2090.1,823.1Z M2185.0,833.7 L2189.1,833.7 L2193.1,833.7 L2197.2,833.7 L2201.3,833.7 L2205.6,833.0 L2209.8,832.3 L2205.4,832.0 L2200.9,831.7 L2196.4,831.4 L2192.0,831.0 L2188.5,832.3 L2185.0,833.7Z M1507.1,858.6 L1517.4,849.4 L1520.5,851.4 L1523.7,853.4 L1527.1,855.3 L1530.5,857.3 L1522.2,861.2 L1518.4,860.6 L1514.6,859.9 L1510.8,859.3 L1507.1,858.6Z"/></clipPath>
<filter id="blur12" x="-30%" y="-30%" width="160%" height="160%"><feGaussianBlur stdDeviation="12"/></filter>
<filter id="blur6" x="-30%" y="-30%" width="160%" height="160%"><feGaussianBlur stdDeviation="6"/></filter>
<filter id="blur2" x="-10%" y="-10%" width="120%" height="120%"><feGaussianBlur stdDeviation="0.7"/></filter>
<radialGradient id="ocg" cx="0.5" cy="0.5" r="0.6"><stop offset="0" stop-color="#76aad0"/><stop offset="1" stop-color="#7cb1d6"/></radialGradient>
</defs>
<g clip-path="url(#mapclip)">
<rect x="1430.8" y="792.2" width="949.6" height="476.9" fill="#79add2"/>
<ellipse cx="1542.5" cy="1083.2" rx="120" ry="70" fill="#6fa3ca" opacity="0.8" filter="url(#blur12)"/>
<ellipse cx="1829.1" cy="1109.5" rx="50" ry="60" fill="#6fa3ca" opacity="0.8" filter="url(#blur12)"/>
<ellipse cx="2097.0" cy="1109.5" rx="70" ry="50" fill="#6fa3ca" opacity="0.8" filter="url(#blur12)"/>
<ellipse cx="1527.1" cy="938.7" rx="80" ry="30" fill="#6fa3ca" opacity="0.8" filter="url(#blur12)"/>
<ellipse cx="1790.3" cy="957.1" rx="40" ry="30" fill="#6fa3ca" opacity="0.8" filter="url(#blur12)"/>
<ellipse cx="2320.6" cy="978.2" rx="60" ry="60" fill="#6fa3ca" opacity="0.8" filter="url(#blur12)"/>
<ellipse cx="1665.1" cy="1162.1" rx="100" ry="25" fill="#6fa3ca" opacity="0.8" filter="url(#blur12)"/>
<ellipse cx="2122.1" cy="1162.1" rx="140" ry="20" fill="#6fa3ca" opacity="0.8" filter="url(#blur12)"/>
<path d="M1533.6,858.6 L1546.2,850.7 L1553.3,848.9 L1560.4,847.1 L1567.5,845.2 L1574.6,843.4 L1578.6,844.0 L1582.6,844.7 L1586.6,845.3 L1590.7,845.9 L1594.8,846.6 L1598.9,847.2 L1603.0,847.8 L1607.8,847.7 L1612.6,847.5 L1617.4,847.3 L1622.2,847.1 L1627.0,847.0 L1631.8,846.8 L1635.9,847.5 L1640.0,848.1 L1644.1,848.8 L1648.3,849.4 L1652.4,850.1 L1656.6,850.7 L1661.3,851.2 L1666.1,851.6 L1670.8,852.0 L1675.2,852.0 L1679.5,852.0 L1683.9,852.0 L1688.2,852.0 L1692.6,852.0 L1696.9,852.0 L1702.4,846.8 L1708.1,841.5 L1711.7,843.2 L1715.4,844.8 L1719.2,846.5 L1723.0,848.1 L1727.4,852.0 L1721.2,855.6 L1715.0,859.1 L1708.8,862.6 L1703.0,865.2 L1697.2,867.8 L1691.4,870.4 L1690.6,877.0 L1694.4,879.1 L1698.2,881.2 L1702.0,883.3 L1705.9,885.4 L1710.1,891.7 L1714.2,895.9 L1718.8,888.8 L1725.3,883.6 L1725.3,877.0 L1727.9,871.8 L1730.6,866.5 L1735.1,867.8 L1739.7,869.1 L1746.1,870.4 L1751.3,871.8 L1756.6,873.1 L1756.1,878.3 L1762.8,883.6 L1766.4,887.5 L1770.2,891.5 L1771.7,895.4 L1763.7,899.3 L1758.9,899.2 L1754.1,899.0 L1749.4,898.8 L1743.8,902.0 L1738.2,905.1 L1743.0,905.5 L1747.7,905.9 L1752.2,907.9 L1756.6,909.8 L1748.5,913.8 L1743.0,916.4 L1738.1,916.4 L1733.2,916.4 L1731.0,921.1 L1721.7,924.0 L1716.6,930.9 L1713.9,938.2 L1708.3,941.4 L1699.6,947.9 L1699.6,953.9 L1699.8,959.8 L1698.4,964.5 L1695.0,961.1 L1693.9,954.5 L1688.6,952.7 L1683.6,952.0 L1678.6,951.4 L1675.5,954.5 L1670.5,953.9 L1665.5,953.2 L1656.9,958.5 L1654.1,967.6 L1652.6,972.9 L1656.3,980.8 L1659.9,982.9 L1667.8,982.1 L1671.2,975.5 L1680.4,974.2 L1678.1,983.4 L1675.0,988.7 L1680.8,988.9 L1686.7,989.2 L1688.5,992.6 L1686.6,1001.8 L1689.5,1005.7 L1697.4,1005.7 L1702.5,1008.4 L1702.9,1011.0 L1701.1,1011.0 L1695.8,1011.5 L1689.4,1009.2 L1681.7,1004.4 L1677.0,996.5 L1671.8,995.2 L1666.7,993.9 L1659.4,988.1 L1652.8,989.2 L1647.8,987.4 L1642.8,985.5 L1637.3,981.8 L1632.0,978.2 L1632.9,971.6 L1625.2,963.7 L1618.0,954.5 L1613.8,947.9 L1614.0,951.9 L1617.6,959.0 L1620.8,966.3 L1622.8,969.7 L1617.2,965.0 L1612.6,955.8 L1609.9,950.6 L1608.3,944.8 L1601.2,940.1 L1599.3,933.5 L1597.1,924.8 L1599.2,917.7 L1603.0,909.3 L1607.8,903.8 L1604.3,900.7 L1599.6,895.4 L1597.8,887.5 L1595.8,880.9 L1590.1,877.0 L1584.1,873.9 L1580.2,873.0 L1576.2,872.1 L1572.3,871.2 L1567.0,872.1 L1561.8,873.1 L1553.1,877.0 L1546.5,879.0 L1539.8,880.9 L1532.1,883.6 L1524.4,886.2 L1516.4,887.5 L1525.6,882.9 L1534.8,878.3 L1532.2,875.7 L1529.6,870.4 L1536.4,865.2 L1546.7,861.2 L1541.1,861.2 L1535.5,861.2 L1533.6,858.6Z M1739.9,837.6 L1743.2,838.9 L1746.6,840.2 L1750.1,841.5 L1753.6,842.9 L1756.5,845.5 L1759.6,848.1 L1762.9,850.3 L1766.3,852.5 L1769.8,854.7 L1763.4,859.9 L1756.5,866.5 L1752.4,865.6 L1748.2,864.7 L1744.0,863.9 L1739.9,863.0 L1735.8,862.1 L1731.7,861.2 L1737.3,858.6 L1742.9,856.0 L1740.7,851.4 L1738.8,846.8 L1733.8,846.8 L1728.8,846.8 L1723.8,846.8 L1723.3,837.6 L1727.5,837.6 L1731.6,837.6 L1735.8,837.6 L1739.9,837.6Z M1642.9,841.5 L1647.0,842.4 L1651.2,843.3 L1655.4,844.2 L1658.6,845.5 L1661.8,846.8 L1665.1,848.1 L1668.4,849.4 L1672.7,849.4 L1677.0,849.4 L1681.3,849.4 L1685.6,849.4 L1686.0,840.2 L1681.5,839.8 L1677.0,839.4 L1672.5,838.9 L1669.5,837.6 L1666.5,836.3 L1663.7,835.0 L1658.5,835.4 L1653.2,835.8 L1648.0,836.3 L1642.9,841.5Z M1725.1,829.7 L1729.1,829.7 L1733.2,829.7 L1737.2,829.7 L1741.2,829.7 L1745.2,829.7 L1749.2,829.7 L1754.3,828.1 L1759.5,826.4 L1764.6,824.8 L1769.6,823.1 L1774.9,821.2 L1780.2,819.2 L1785.4,817.2 L1790.6,815.3 L1786.9,814.8 L1783.3,814.4 L1779.7,814.0 L1776.1,813.5 L1772.5,813.1 L1769.0,812.6 L1764.5,813.2 L1760.0,813.8 L1755.5,814.3 L1751.0,814.9 L1746.4,815.5 L1741.9,816.0 L1737.3,816.6 L1730.5,818.6 L1723.7,820.5 L1724.1,825.1 L1725.1,829.7Z M1709.8,833.7 L1713.9,833.7 L1718.0,833.7 L1722.1,833.7 L1726.1,833.7 L1730.2,833.7 L1734.3,833.7 L1738.4,833.7 L1744.3,831.0 L1740.5,830.6 L1736.8,830.2 L1733.2,829.7 L1729.5,829.3 L1725.8,828.8 L1722.2,828.4 L1716.0,831.0 L1709.8,833.7Z M1663.6,831.0 L1667.7,831.2 L1671.8,831.4 L1676.0,831.6 L1680.1,831.8 L1684.3,832.0 L1688.5,832.2 L1692.6,832.3 L1700.7,829.1 L1708.7,825.8 L1705.0,825.6 L1701.3,825.3 L1697.6,825.1 L1693.9,824.9 L1690.2,824.7 L1686.6,824.5 L1680.8,826.1 L1675.1,827.7 L1669.3,829.4 L1663.6,831.0Z M1761.9,825.8 L1767.2,823.8 L1772.5,821.8 L1777.8,819.9 L1783.0,817.9 L1787.2,817.4 L1791.3,816.8 L1795.4,816.3 L1799.5,815.8 L1803.6,815.3 L1807.6,814.7 L1811.7,814.2 L1815.7,813.7 L1819.7,813.2 L1823.6,812.6 L1827.3,812.6 L1830.9,812.6 L1834.6,812.6 L1838.2,812.6 L1841.9,812.6 L1845.5,812.6 L1849.1,812.6 L1852.8,812.6 L1856.4,812.6 L1860.1,812.6 L1863.6,815.3 L1867.3,817.9 L1871.1,820.5 L1868.0,827.1 L1864.8,833.7 L1861.8,839.6 L1858.7,845.5 L1854.2,847.1 L1849.6,848.8 L1845.0,850.4 L1840.4,852.0 L1835.7,853.6 L1831.0,855.2 L1826.3,856.8 L1821.5,858.4 L1816.7,859.9 L1811.9,866.5 L1807.0,873.1 L1801.6,871.8 L1796.2,870.4 L1793.0,865.2 L1790.1,859.9 L1789.5,854.7 L1789.1,849.4 L1788.4,842.9 L1788.1,836.3 L1784.1,835.2 L1780.1,834.2 L1776.2,833.1 L1772.3,832.1 L1768.5,831.0 L1765.1,828.4 L1761.9,825.8Z M1702.9,1011.0 L1709.3,1003.1 L1717.3,999.2 L1718.4,1003.1 L1727.7,1000.5 L1732.9,1001.8 L1738.1,1003.1 L1745.9,1003.1 L1748.4,1008.4 L1756.0,1014.9 L1762.6,1016.9 L1769.1,1018.9 L1771.7,1024.1 L1774.3,1029.4 L1779.5,1033.3 L1784.8,1035.3 L1790.0,1037.3 L1795.3,1037.9 L1800.6,1038.6 L1808.5,1043.8 L1813.8,1049.1 L1813.9,1055.7 L1807.5,1062.2 L1803.9,1070.1 L1802.9,1078.0 L1801.2,1083.2 L1799.5,1088.5 L1791.9,1091.1 L1787.0,1094.4 L1782.1,1097.7 L1780.7,1105.6 L1777.1,1110.8 L1773.6,1116.1 L1769.2,1121.3 L1761.8,1122.7 L1762.9,1130.5 L1756.8,1131.8 L1750.8,1133.2 L1744.2,1138.4 L1748.7,1142.4 L1745.1,1148.9 L1741.0,1152.9 L1746.1,1156.8 L1740.3,1164.7 L1742.9,1169.9 L1750.3,1175.2 L1745.8,1175.9 L1741.3,1176.5 L1735.6,1173.2 L1729.9,1169.9 L1726.2,1163.4 L1722.6,1156.8 L1723.0,1151.6 L1723.6,1146.3 L1723.1,1141.0 L1722.6,1135.8 L1722.1,1126.6 L1723.0,1120.7 L1723.9,1114.8 L1723.8,1109.5 L1723.7,1104.3 L1723.8,1097.7 L1724.0,1091.1 L1723.4,1085.2 L1722.9,1079.3 L1715.5,1074.0 L1706.4,1067.5 L1703.9,1062.2 L1701.4,1057.0 L1696.3,1049.1 L1692.2,1043.8 L1695.5,1038.6 L1692.8,1033.3 L1695.5,1028.1 L1699.4,1024.1 L1702.7,1018.9 L1702.3,1012.3 L1702.9,1011.0Z M1890.5,936.6 L1896.8,937.4 L1903.1,938.2 L1908.1,935.9 L1913.1,933.5 L1919.0,933.2 L1924.8,933.0 L1930.7,932.7 L1933.5,942.7 L1938.6,944.0 L1943.7,945.3 L1950.1,947.3 L1956.5,949.3 L1956.3,944.5 L1964.0,945.3 L1969.1,946.6 L1974.3,947.9 L1979.4,949.3 L1987.0,948.7 L1992.7,957.1 L1994.9,962.4 L1997.2,967.6 L2001.4,975.5 L2003.0,982.1 L2008.6,991.3 L2018.0,999.2 L2023.4,1003.1 L2028.6,1001.8 L2033.8,1000.5 L2039.0,999.2 L2039.1,1003.1 L2035.4,1010.3 L2031.6,1017.6 L2026.4,1022.2 L2021.2,1026.8 L2014.6,1036.0 L2008.0,1043.8 L2008.5,1050.4 L2009.0,1057.0 L2010.2,1063.5 L2011.2,1070.1 L2005.2,1075.4 L1999.1,1080.6 L1997.5,1087.2 L1995.9,1093.8 L1990.4,1099.0 L1987.6,1104.3 L1984.7,1109.5 L1979.3,1114.5 L1973.9,1119.5 L1967.6,1120.2 L1961.2,1120.8 L1952.4,1120.8 L1950.2,1112.1 L1947.2,1106.2 L1944.1,1100.3 L1942.3,1094.7 L1940.5,1089.2 L1938.7,1083.6 L1936.8,1078.0 L1938.2,1072.7 L1939.5,1067.5 L1940.9,1062.2 L1939.6,1057.0 L1938.4,1051.7 L1937.1,1046.5 L1933.2,1039.9 L1929.2,1033.3 L1929.9,1027.4 L1930.5,1021.5 L1924.0,1018.9 L1917.4,1014.1 L1908.2,1015.5 L1901.7,1016.3 L1895.1,1017.0 L1889.9,1018.0 L1884.6,1018.9 L1876.7,1012.8 L1870.2,1005.7 L1861.7,997.9 L1859.9,992.1 L1861.6,986.4 L1863.3,980.8 L1861.6,975.5 L1864.3,967.6 L1872.3,957.9 L1880.1,951.9 L1881.5,945.3 L1890.5,936.6Z M2034.5,1062.2 L2037.3,1071.4 L2034.8,1077.1 L2032.3,1082.8 L2029.8,1088.5 L2026.6,1096.4 L2018.9,1096.4 L2017.6,1088.5 L2019.3,1081.9 L2020.9,1075.4 L2028.2,1070.1 L2034.5,1062.2Z M1882.1,929.0 L1883.8,923.0 L1882.9,917.7 L1885.9,915.9 L1890.8,916.2 L1895.7,916.4 L1900.7,916.7 L1901.9,909.8 L1894.7,903.3 L1902.0,902.8 L1910.4,896.7 L1915.1,894.1 L1920.4,891.5 L1925.7,888.8 L1925.4,880.9 L1930.0,879.6 L1929.2,887.5 L1933.9,888.2 L1938.7,888.8 L1944.6,888.2 L1950.4,887.5 L1954.8,883.6 L1961.4,880.2 L1959.8,875.7 L1964.8,874.8 L1969.9,873.9 L1974.4,873.1 L1969.0,873.1 L1963.7,873.1 L1958.3,873.1 L1954.6,870.4 L1954.0,865.2 L1961.0,858.6 L1954.2,858.1 L1950.2,861.6 L1946.1,865.2 L1944.5,871.8 L1948.2,875.7 L1944.1,882.3 L1936.1,884.9 L1931.0,877.0 L1924.1,878.3 L1917.1,875.7 L1916.9,867.8 L1922.5,865.2 L1928.0,862.6 L1932.1,858.0 L1936.1,853.4 L1941.3,850.1 L1946.2,846.8 L1950.4,845.9 L1954.5,845.0 L1958.6,844.2 L1963.0,845.0 L1967.5,845.9 L1971.9,846.8 L1976.5,848.4 L1981.2,849.9 L1985.9,851.5 L1990.6,853.1 L1995.4,854.7 L1995.0,857.3 L1990.1,856.9 L1985.2,856.4 L1980.3,856.0 L1983.6,861.2 L1989.2,861.2 L1994.8,861.2 L1998.8,859.3 L2002.7,857.3 L2001.0,851.3 L2005.9,851.1 L2010.7,851.0 L2015.5,850.9 L2020.4,850.7 L2025.2,850.3 L2030.1,849.9 L2035.0,849.4 L2039.4,849.8 L2043.9,850.1 L2048.4,850.4 L2052.8,850.7 L2047.7,844.2 L2051.0,842.4 L2054.3,840.7 L2057.5,838.9 L2062.1,841.5 L2066.8,839.6 L2071.3,837.6 L2075.0,835.8 L2078.6,834.1 L2082.1,832.3 L2086.1,831.9 L2090.2,831.5 L2094.2,831.0 L2098.2,830.6 L2102.2,830.2 L2106.1,829.7 L2109.7,828.1 L2113.1,826.6 L2118.2,827.7 L2123.3,828.8 L2128.4,829.9 L2133.5,831.0 L2132.3,836.3 L2137.0,836.6 L2141.6,836.9 L2146.3,837.3 L2151.0,837.6 L2155.8,837.9 L2160.5,838.3 L2165.2,838.6 L2169.9,838.9 L2176.7,841.5 L2183.4,844.2 L2187.2,843.2 L2191.0,842.2 L2194.7,841.2 L2198.4,840.2 L2203.2,840.8 L2207.9,841.3 L2212.7,841.8 L2217.5,842.3 L2222.2,842.9 L2227.3,843.6 L2232.4,844.4 L2237.5,845.2 L2242.7,846.0 L2247.8,846.8 L2252.1,846.8 L2256.4,846.8 L2260.6,846.8 L2264.9,846.8 L2269.2,846.8 L2274.1,847.3 L2279.0,847.8 L2283.9,848.4 L2288.8,848.9 L2293.8,849.4 L2304.1,858.6 L2309.8,866.5 L2306.3,868.1 L2302.7,869.8 L2299.0,871.4 L2295.3,873.1 L2291.5,875.0 L2287.7,876.9 L2283.8,878.8 L2286.8,886.2 L2284.4,891.5 L2281.7,896.7 L2277.7,891.5 L2273.4,886.2 L2269.0,880.9 L2267.0,875.0 L2264.6,869.1 L2269.7,868.5 L2274.8,867.8 L2271.7,869.5 L2268.5,871.1 L2265.2,872.7 L2261.9,874.4 L2257.4,874.5 L2252.8,874.6 L2248.3,874.6 L2243.8,874.7 L2239.2,874.8 L2234.7,874.9 L2232.1,877.9 L2229.3,880.8 L2226.5,883.8 L2223.5,886.7 L2229.2,888.3 L2234.8,889.9 L2240.4,891.5 L2243.5,898.0 L2246.2,904.6 L2242.9,910.5 L2239.3,916.4 L2234.2,917.5 L2229.1,918.5 L2223.2,926.1 L2231.1,936.1 L2225.2,940.1 L2221.9,933.5 L2215.6,925.6 L2209.0,928.2 L2200.2,928.2 L2204.0,932.2 L2213.1,933.5 L2207.1,938.7 L2211.5,944.0 L2215.7,949.3 L2215.5,957.1 L2211.8,963.7 L2206.5,970.3 L2197.9,972.9 L2190.5,975.5 L2185.2,974.2 L2180.7,979.5 L2184.7,985.4 L2188.6,991.3 L2191.4,999.2 L2184.5,1004.4 L2180.7,1007.1 L2179.1,1003.1 L2173.6,999.2 L2168.1,995.2 L2167.3,1001.8 L2166.3,1007.1 L2170.5,1013.6 L2177.3,1020.2 L2178.8,1026.8 L2172.1,1023.3 L2168.8,1014.9 L2163.2,1008.4 L2163.2,999.2 L2161.4,993.3 L2159.5,987.4 L2151.8,988.7 L2149.7,980.8 L2142.1,971.6 L2135.8,972.9 L2131.0,975.5 L2126.1,978.7 L2119.2,987.4 L2114.8,991.3 L2114.9,996.5 L2114.9,1001.8 L2108.8,1009.7 L2104.6,1004.4 L2102.4,999.2 L2100.1,993.9 L2097.8,988.7 L2095.4,983.4 L2093.4,975.5 L2086.9,975.5 L2082.4,969.0 L2078.1,965.0 L2071.7,964.8 L2065.2,964.5 L2059.4,964.1 L2053.5,963.7 L2050.6,959.8 L2044.0,958.5 L2037.5,957.1 L2033.1,951.4 L2028.6,951.9 L2030.6,957.1 L2036.8,963.7 L2038.4,967.6 L2044.9,967.6 L2049.6,962.4 L2051.3,967.6 L2060.2,971.6 L2057.3,978.2 L2048.8,986.0 L2041.1,988.7 L2036.0,991.3 L2030.9,993.9 L2023.2,997.1 L2018.7,996.5 L2016.3,988.7 L2009.4,979.5 L2005.0,970.3 L1999.4,962.4 L1995.3,957.1 L1994.2,953.2 L1992.9,948.5 L1995.5,942.7 L1996.2,936.1 L1991.1,935.3 L1982.3,934.8 L1974.6,933.5 L1971.8,928.2 L1971.0,925.1 L1977.6,923.0 L1984.8,920.9 L1989.8,921.3 L1994.8,921.7 L2001.7,921.7 L2008.5,921.7 L2006.7,917.7 L2001.5,915.1 L1996.3,912.5 L2000.5,907.2 L1995.8,908.5 L1991.1,909.8 L1986.3,911.2 L1980.1,909.8 L1976.4,915.1 L1974.9,920.4 L1970.2,923.5 L1962.8,924.3 L1965.7,930.9 L1962.1,934.3 L1958.1,929.6 L1953.9,921.7 L1952.5,919.0 L1947.5,916.4 L1942.4,913.8 L1938.6,910.6 L1935.7,911.9 L1936.3,915.1 L1940.2,919.0 L1945.2,921.1 L1951.6,924.8 L1947.9,924.3 L1946.8,928.2 L1945.2,930.9 L1945.5,926.4 L1939.1,922.5 L1931.5,918.3 L1927.2,914.3 L1920.4,917.2 L1913.5,917.2 L1913.5,920.6 L1907.6,923.0 L1904.9,926.9 L1905.6,928.8 L1903.8,931.4 L1900.6,934.0 L1894.3,934.3 L1891.8,936.1 L1889.3,933.5 L1883.5,933.5 L1882.1,929.0Z M1892.4,899.3 L1898.0,898.3 L1903.6,897.2 L1909.2,896.2 L1909.6,892.0 L1905.1,888.8 L1900.9,883.6 L1901.0,879.1 L1896.4,877.0 L1891.7,879.6 L1893.8,886.2 L1898.5,888.8 L1894.9,891.5 L1893.7,894.9 L1898.4,895.7 L1892.4,899.3Z M1881.7,894.1 L1886.5,893.8 L1891.3,893.6 L1891.4,888.8 L1888.0,885.7 L1882.0,888.8 L1881.7,894.1Z M1852.5,858.6 L1856.4,862.6 L1862.9,864.1 L1868.7,862.7 L1874.4,861.2 L1872.6,856.8 L1867.0,856.8 L1861.5,856.8 L1857.0,857.7 L1852.5,858.6Z M2236.3,947.9 L2238.2,941.4 L2243.1,940.7 L2247.9,940.1 L2252.8,939.4 L2257.6,938.7 L2258.6,930.9 L2256.9,923.0 L2253.1,923.0 L2254.9,930.9 L2248.3,933.5 L2240.8,937.4 L2234.8,942.7 L2236.3,947.9Z M2252.1,920.4 L2257.4,918.4 L2262.7,916.4 L2252.5,911.2 L2252.1,920.4Z M2252.4,909.8 L2251.7,904.6 L2250.8,899.3 L2246.7,894.1 L2242.5,888.8 L2244.9,894.1 L2247.2,899.3 L2249.8,904.6 L2252.4,909.8Z M2156.2,1016.3 L2162.9,1020.2 L2170.2,1026.8 L2177.5,1033.3 L2180.6,1039.6 L2183.7,1045.9 L2178.5,1045.1 L2174.1,1039.9 L2169.6,1034.6 L2165.0,1029.4 L2160.3,1024.1 L2156.2,1016.3Z M2182.4,1047.8 L2188.9,1047.8 L2194.1,1048.2 L2199.4,1048.6 L2205.8,1050.4 L2204.4,1053.0 L2199.2,1052.4 L2194.0,1051.8 L2188.7,1051.2 L2182.4,1047.8Z M2191.9,1026.8 L2197.1,1024.8 L2202.3,1022.8 L2207.4,1017.8 L2212.5,1012.8 L2217.9,1017.6 L2216.1,1022.8 L2214.2,1028.1 L2212.9,1034.0 L2211.5,1039.9 L2202.3,1039.1 L2194.5,1034.6 L2191.9,1026.8Z M2219.2,1043.8 L2222.1,1037.3 L2220.8,1028.6 L2226.7,1028.1 L2232.6,1027.5 L2224.7,1032.8 L2228.6,1039.9 L2223.2,1042.5 L2219.2,1043.8Z M2218.7,982.1 L2223.7,986.0 L2222.8,993.9 L2229.7,997.9 L2235.7,1007.1 L2234.9,1014.9 L2225.6,1012.3 L2227.7,1004.4 L2221.8,996.5 L2218.3,988.7 L2218.7,982.1Z M2249.7,1033.3 L2257.6,1032.8 L2262.8,1034.1 L2268.0,1035.4 L2275.9,1037.8 L2281.1,1040.2 L2286.2,1042.5 L2292.6,1047.0 L2299.6,1057.5 L2290.6,1055.7 L2281.7,1053.0 L2275.0,1054.3 L2267.4,1051.7 L2267.7,1045.1 L2262.6,1043.2 L2257.4,1041.2 L2252.2,1038.1 L2249.7,1033.3Z M2200.5,1088.5 L2199.0,1093.8 L2197.4,1099.0 L2197.8,1106.2 L2198.1,1113.5 L2196.3,1120.8 L2203.3,1122.7 L2210.7,1121.1 L2218.1,1119.5 L2225.8,1116.7 L2233.6,1114.0 L2240.1,1113.5 L2246.6,1117.4 L2248.8,1122.7 L2254.7,1117.4 L2256.7,1125.3 L2258.5,1131.1 L2267.2,1131.1 L2271.4,1133.2 L2281.9,1128.7 L2288.2,1119.5 L2296.0,1109.5 L2297.9,1104.3 L2299.7,1099.0 L2295.3,1092.4 L2291.8,1084.6 L2285.6,1080.6 L2285.4,1075.4 L2285.1,1070.1 L2280.1,1068.3 L2278.5,1059.1 L2275.2,1066.2 L2272.5,1076.2 L2267.2,1076.7 L2259.0,1070.1 L2263.3,1062.2 L2257.8,1061.3 L2252.3,1060.4 L2245.3,1064.9 L2240.8,1069.6 L2234.5,1067.5 L2225.8,1075.4 L2222.6,1079.3 L2214.3,1083.2 L2207.5,1085.1 L2200.5,1088.5Z M2265.1,1137.6 L2273.6,1138.2 L2270.2,1143.7 L2265.1,1145.2 L2265.1,1137.6Z M2341.9,1121.3 L2346.8,1126.6 L2352.4,1129.7 L2346.9,1134.5 L2339.9,1139.7 L2339.5,1134.5 L2343.6,1129.2 L2341.9,1121.3Z M2335.2,1137.1 L2337.0,1140.5 L2325.4,1147.6 L2322.0,1151.6 L2316.4,1152.9 L2312.2,1151.6 L2318.7,1146.3 L2328.5,1141.6 L2335.2,1137.1Z M2115.1,1005.2 L2120.1,1011.0 L2117.6,1014.9 L2114.8,1011.0 L2115.1,1005.2Z M2218.4,964.5 L2218.6,972.9 L2215.6,970.3 L2218.4,964.5Z M2188.3,978.2 L2193.6,978.7 L2191.5,982.6 L2187.9,980.8 L2188.3,978.2Z M1685.7,972.9 L1692.3,971.6 L1699.0,970.3 L1705.1,973.6 L1711.2,976.8 L1713.2,977.6 L1704.5,978.7 L1703.7,974.2 L1698.6,973.2 L1693.6,972.1 L1685.7,972.9Z M1712.3,978.7 L1718.1,978.7 L1724.0,978.7 L1727.6,982.1 L1719.7,983.4 L1712.0,982.1 L1712.3,978.7Z M1762.3,905.9 L1769.3,907.2 L1776.6,907.2 L1776.4,902.0 L1771.7,895.4 L1762.8,903.3 L1762.3,905.9Z M1926.8,821.8 L1932.1,825.1 L1937.5,828.4 L1941.3,827.5 L1945.1,826.7 L1948.9,825.8 L1953.2,823.1 L1957.3,820.5 L1952.9,820.2 L1948.5,819.9 L1944.2,819.5 L1939.8,819.2 L1935.5,820.1 L1931.2,821.0 L1926.8,821.8Z M2015.9,844.2 L2021.4,844.8 L2027.0,845.5 L2022.2,838.9 L2024.8,835.6 L2027.3,832.3 L2030.8,831.4 L2034.3,830.4 L2037.7,829.4 L2041.1,828.4 L2038.3,830.4 L2035.4,832.3 L2031.1,833.2 L2026.8,834.1 L2022.5,835.0 L2019.5,837.6 L2016.5,840.2 L2015.9,844.2Z M2090.1,823.1 L2094.0,823.1 L2097.9,823.1 L2101.8,823.1 L2105.7,823.1 L2109.6,823.1 L2102.6,821.2 L2095.7,819.2 L2093.0,821.2 L2090.1,823.1Z M2185.0,833.7 L2189.1,833.7 L2193.1,833.7 L2197.2,833.7 L2201.3,833.7 L2205.6,833.0 L2209.8,832.3 L2205.4,832.0 L2200.9,831.7 L2196.4,831.4 L2192.0,831.0 L2188.5,832.3 L2185.0,833.7Z M1507.1,858.6 L1517.4,849.4 L1520.5,851.4 L1523.7,853.4 L1527.1,855.3 L1530.5,857.3 L1522.2,861.2 L1518.4,860.6 L1514.6,859.9 L1510.8,859.3 L1507.1,858.6Z" fill="none" stroke="#8dbde0" stroke-width="4" stroke-linejoin="round" opacity="0.5" filter="url(#blur2)"/>
<path d="M1533.6,858.6 L1546.2,850.7 L1553.3,848.9 L1560.4,847.1 L1567.5,845.2 L1574.6,843.4 L1578.6,844.0 L1582.6,844.7 L1586.6,845.3 L1590.7,845.9 L1594.8,846.6 L1598.9,847.2 L1603.0,847.8 L1607.8,847.7 L1612.6,847.5 L1617.4,847.3 L1622.2,847.1 L1627.0,847.0 L1631.8,846.8 L1635.9,847.5 L1640.0,848.1 L1644.1,848.8 L1648.3,849.4 L1652.4,850.1 L1656.6,850.7 L1661.3,851.2 L1666.1,851.6 L1670.8,852.0 L1675.2,852.0 L1679.5,852.0 L1683.9,852.0 L1688.2,852.0 L1692.6,852.0 L1696.9,852.0 L1702.4,846.8 L1708.1,841.5 L1711.7,843.2 L1715.4,844.8 L1719.2,846.5 L1723.0,848.1 L1727.4,852.0 L1721.2,855.6 L1715.0,859.1 L1708.8,862.6 L1703.0,865.2 L1697.2,867.8 L1691.4,870.4 L1690.6,877.0 L1694.4,879.1 L1698.2,881.2 L1702.0,883.3 L1705.9,885.4 L1710.1,891.7 L1714.2,895.9 L1718.8,888.8 L1725.3,883.6 L1725.3,877.0 L1727.9,871.8 L1730.6,866.5 L1735.1,867.8 L1739.7,869.1 L1746.1,870.4 L1751.3,871.8 L1756.6,873.1 L1756.1,878.3 L1762.8,883.6 L1766.4,887.5 L1770.2,891.5 L1771.7,895.4 L1763.7,899.3 L1758.9,899.2 L1754.1,899.0 L1749.4,898.8 L1743.8,902.0 L1738.2,905.1 L1743.0,905.5 L1747.7,905.9 L1752.2,907.9 L1756.6,909.8 L1748.5,913.8 L1743.0,916.4 L1738.1,916.4 L1733.2,916.4 L1731.0,921.1 L1721.7,924.0 L1716.6,930.9 L1713.9,938.2 L1708.3,941.4 L1699.6,947.9 L1699.6,953.9 L1699.8,959.8 L1698.4,964.5 L1695.0,961.1 L1693.9,954.5 L1688.6,952.7 L1683.6,952.0 L1678.6,951.4 L1675.5,954.5 L1670.5,953.9 L1665.5,953.2 L1656.9,958.5 L1654.1,967.6 L1652.6,972.9 L1656.3,980.8 L1659.9,982.9 L1667.8,982.1 L1671.2,975.5 L1680.4,974.2 L1678.1,983.4 L1675.0,988.7 L1680.8,988.9 L1686.7,989.2 L1688.5,992.6 L1686.6,1001.8 L1689.5,1005.7 L1697.4,1005.7 L1702.5,1008.4 L1702.9,1011.0 L1701.1,1011.0 L1695.8,1011.5 L1689.4,1009.2 L1681.7,1004.4 L1677.0,996.5 L1671.8,995.2 L1666.7,993.9 L1659.4,988.1 L1652.8,989.2 L1647.8,987.4 L1642.8,985.5 L1637.3,981.8 L1632.0,978.2 L1632.9,971.6 L1625.2,963.7 L1618.0,954.5 L1613.8,947.9 L1614.0,951.9 L1617.6,959.0 L1620.8,966.3 L1622.8,969.7 L1617.2,965.0 L1612.6,955.8 L1609.9,950.6 L1608.3,944.8 L1601.2,940.1 L1599.3,933.5 L1597.1,924.8 L1599.2,917.7 L1603.0,909.3 L1607.8,903.8 L1604.3,900.7 L1599.6,895.4 L1597.8,887.5 L1595.8,880.9 L1590.1,877.0 L1584.1,873.9 L1580.2,873.0 L1576.2,872.1 L1572.3,871.2 L1567.0,872.1 L1561.8,873.1 L1553.1,877.0 L1546.5,879.0 L1539.8,880.9 L1532.1,883.6 L1524.4,886.2 L1516.4,887.5 L1525.6,882.9 L1534.8,878.3 L1532.2,875.7 L1529.6,870.4 L1536.4,865.2 L1546.7,861.2 L1541.1,861.2 L1535.5,861.2 L1533.6,858.6Z M1739.9,837.6 L1743.2,838.9 L1746.6,840.2 L1750.1,841.5 L1753.6,842.9 L1756.5,845.5 L1759.6,848.1 L1762.9,850.3 L1766.3,852.5 L1769.8,854.7 L1763.4,859.9 L1756.5,866.5 L1752.4,865.6 L1748.2,864.7 L1744.0,863.9 L1739.9,863.0 L1735.8,862.1 L1731.7,861.2 L1737.3,858.6 L1742.9,856.0 L1740.7,851.4 L1738.8,846.8 L1733.8,846.8 L1728.8,846.8 L1723.8,846.8 L1723.3,837.6 L1727.5,837.6 L1731.6,837.6 L1735.8,837.6 L1739.9,837.6Z M1642.9,841.5 L1647.0,842.4 L1651.2,843.3 L1655.4,844.2 L1658.6,845.5 L1661.8,846.8 L1665.1,848.1 L1668.4,849.4 L1672.7,849.4 L1677.0,849.4 L1681.3,849.4 L1685.6,849.4 L1686.0,840.2 L1681.5,839.8 L1677.0,839.4 L1672.5,838.9 L1669.5,837.6 L1666.5,836.3 L1663.7,835.0 L1658.5,835.4 L1653.2,835.8 L1648.0,836.3 L1642.9,841.5Z M1725.1,829.7 L1729.1,829.7 L1733.2,829.7 L1737.2,829.7 L1741.2,829.7 L1745.2,829.7 L1749.2,829.7 L1754.3,828.1 L1759.5,826.4 L1764.6,824.8 L1769.6,823.1 L1774.9,821.2 L1780.2,819.2 L1785.4,817.2 L1790.6,815.3 L1786.9,814.8 L1783.3,814.4 L1779.7,814.0 L1776.1,813.5 L1772.5,813.1 L1769.0,812.6 L1764.5,813.2 L1760.0,813.8 L1755.5,814.3 L1751.0,814.9 L1746.4,815.5 L1741.9,816.0 L1737.3,816.6 L1730.5,818.6 L1723.7,820.5 L1724.1,825.1 L1725.1,829.7Z M1709.8,833.7 L1713.9,833.7 L1718.0,833.7 L1722.1,833.7 L1726.1,833.7 L1730.2,833.7 L1734.3,833.7 L1738.4,833.7 L1744.3,831.0 L1740.5,830.6 L1736.8,830.2 L1733.2,829.7 L1729.5,829.3 L1725.8,828.8 L1722.2,828.4 L1716.0,831.0 L1709.8,833.7Z M1663.6,831.0 L1667.7,831.2 L1671.8,831.4 L1676.0,831.6 L1680.1,831.8 L1684.3,832.0 L1688.5,832.2 L1692.6,832.3 L1700.7,829.1 L1708.7,825.8 L1705.0,825.6 L1701.3,825.3 L1697.6,825.1 L1693.9,824.9 L1690.2,824.7 L1686.6,824.5 L1680.8,826.1 L1675.1,827.7 L1669.3,829.4 L1663.6,831.0Z M1761.9,825.8 L1767.2,823.8 L1772.5,821.8 L1777.8,819.9 L1783.0,817.9 L1787.2,817.4 L1791.3,816.8 L1795.4,816.3 L1799.5,815.8 L1803.6,815.3 L1807.6,814.7 L1811.7,814.2 L1815.7,813.7 L1819.7,813.2 L1823.6,812.6 L1827.3,812.6 L1830.9,812.6 L1834.6,812.6 L1838.2,812.6 L1841.9,812.6 L1845.5,812.6 L1849.1,812.6 L1852.8,812.6 L1856.4,812.6 L1860.1,812.6 L1863.6,815.3 L1867.3,817.9 L1871.1,820.5 L1868.0,827.1 L1864.8,833.7 L1861.8,839.6 L1858.7,845.5 L1854.2,847.1 L1849.6,848.8 L1845.0,850.4 L1840.4,852.0 L1835.7,853.6 L1831.0,855.2 L1826.3,856.8 L1821.5,858.4 L1816.7,859.9 L1811.9,866.5 L1807.0,873.1 L1801.6,871.8 L1796.2,870.4 L1793.0,865.2 L1790.1,859.9 L1789.5,854.7 L1789.1,849.4 L1788.4,842.9 L1788.1,836.3 L1784.1,835.2 L1780.1,834.2 L1776.2,833.1 L1772.3,832.1 L1768.5,831.0 L1765.1,828.4 L1761.9,825.8Z M1702.9,1011.0 L1709.3,1003.1 L1717.3,999.2 L1718.4,1003.1 L1727.7,1000.5 L1732.9,1001.8 L1738.1,1003.1 L1745.9,1003.1 L1748.4,1008.4 L1756.0,1014.9 L1762.6,1016.9 L1769.1,1018.9 L1771.7,1024.1 L1774.3,1029.4 L1779.5,1033.3 L1784.8,1035.3 L1790.0,1037.3 L1795.3,1037.9 L1800.6,1038.6 L1808.5,1043.8 L1813.8,1049.1 L1813.9,1055.7 L1807.5,1062.2 L1803.9,1070.1 L1802.9,1078.0 L1801.2,1083.2 L1799.5,1088.5 L1791.9,1091.1 L1787.0,1094.4 L1782.1,1097.7 L1780.7,1105.6 L1777.1,1110.8 L1773.6,1116.1 L1769.2,1121.3 L1761.8,1122.7 L1762.9,1130.5 L1756.8,1131.8 L1750.8,1133.2 L1744.2,1138.4 L1748.7,1142.4 L1745.1,1148.9 L1741.0,1152.9 L1746.1,1156.8 L1740.3,1164.7 L1742.9,1169.9 L1750.3,1175.2 L1745.8,1175.9 L1741.3,1176.5 L1735.6,1173.2 L1729.9,1169.9 L1726.2,1163.4 L1722.6,1156.8 L1723.0,1151.6 L1723.6,1146.3 L1723.1,1141.0 L1722.6,1135.8 L1722.1,1126.6 L1723.0,1120.7 L1723.9,1114.8 L1723.8,1109.5 L1723.7,1104.3 L1723.8,1097.7 L1724.0,1091.1 L1723.4,1085.2 L1722.9,1079.3 L1715.5,1074.0 L1706.4,1067.5 L1703.9,1062.2 L1701.4,1057.0 L1696.3,1049.1 L1692.2,1043.8 L1695.5,1038.6 L1692.8,1033.3 L1695.5,1028.1 L1699.4,1024.1 L1702.7,1018.9 L1702.3,1012.3 L1702.9,1011.0Z M1890.5,936.6 L1896.8,937.4 L1903.1,938.2 L1908.1,935.9 L1913.1,933.5 L1919.0,933.2 L1924.8,933.0 L1930.7,932.7 L1933.5,942.7 L1938.6,944.0 L1943.7,945.3 L1950.1,947.3 L1956.5,949.3 L1956.3,944.5 L1964.0,945.3 L1969.1,946.6 L1974.3,947.9 L1979.4,949.3 L1987.0,948.7 L1992.7,957.1 L1994.9,962.4 L1997.2,967.6 L2001.4,975.5 L2003.0,982.1 L2008.6,991.3 L2018.0,999.2 L2023.4,1003.1 L2028.6,1001.8 L2033.8,1000.5 L2039.0,999.2 L2039.1,1003.1 L2035.4,1010.3 L2031.6,1017.6 L2026.4,1022.2 L2021.2,1026.8 L2014.6,1036.0 L2008.0,1043.8 L2008.5,1050.4 L2009.0,1057.0 L2010.2,1063.5 L2011.2,1070.1 L2005.2,1075.4 L1999.1,1080.6 L1997.5,1087.2 L1995.9,1093.8 L1990.4,1099.0 L1987.6,1104.3 L1984.7,1109.5 L1979.3,1114.5 L1973.9,1119.5 L1967.6,1120.2 L1961.2,1120.8 L1952.4,1120.8 L1950.2,1112.1 L1947.2,1106.2 L1944.1,1100.3 L1942.3,1094.7 L1940.5,1089.2 L1938.7,1083.6 L1936.8,1078.0 L1938.2,1072.7 L1939.5,1067.5 L1940.9,1062.2 L1939.6,1057.0 L1938.4,1051.7 L1937.1,1046.5 L1933.2,1039.9 L1929.2,1033.3 L1929.9,1027.4 L1930.5,1021.5 L1924.0,1018.9 L1917.4,1014.1 L1908.2,1015.5 L1901.7,1016.3 L1895.1,1017.0 L1889.9,1018.0 L1884.6,1018.9 L1876.7,1012.8 L1870.2,1005.7 L1861.7,997.9 L1859.9,992.1 L1861.6,986.4 L1863.3,980.8 L1861.6,975.5 L1864.3,967.6 L1872.3,957.9 L1880.1,951.9 L1881.5,945.3 L1890.5,936.6Z M2034.5,1062.2 L2037.3,1071.4 L2034.8,1077.1 L2032.3,1082.8 L2029.8,1088.5 L2026.6,1096.4 L2018.9,1096.4 L2017.6,1088.5 L2019.3,1081.9 L2020.9,1075.4 L2028.2,1070.1 L2034.5,1062.2Z M1882.1,929.0 L1883.8,923.0 L1882.9,917.7 L1885.9,915.9 L1890.8,916.2 L1895.7,916.4 L1900.7,916.7 L1901.9,909.8 L1894.7,903.3 L1902.0,902.8 L1910.4,896.7 L1915.1,894.1 L1920.4,891.5 L1925.7,888.8 L1925.4,880.9 L1930.0,879.6 L1929.2,887.5 L1933.9,888.2 L1938.7,888.8 L1944.6,888.2 L1950.4,887.5 L1954.8,883.6 L1961.4,880.2 L1959.8,875.7 L1964.8,874.8 L1969.9,873.9 L1974.4,873.1 L1969.0,873.1 L1963.7,873.1 L1958.3,873.1 L1954.6,870.4 L1954.0,865.2 L1961.0,858.6 L1954.2,858.1 L1950.2,861.6 L1946.1,865.2 L1944.5,871.8 L1948.2,875.7 L1944.1,882.3 L1936.1,884.9 L1931.0,877.0 L1924.1,878.3 L1917.1,875.7 L1916.9,867.8 L1922.5,865.2 L1928.0,862.6 L1932.1,858.0 L1936.1,853.4 L1941.3,850.1 L1946.2,846.8 L1950.4,845.9 L1954.5,845.0 L1958.6,844.2 L1963.0,845.0 L1967.5,845.9 L1971.9,846.8 L1976.5,848.4 L1981.2,849.9 L1985.9,851.5 L1990.6,853.1 L1995.4,854.7 L1995.0,857.3 L1990.1,856.9 L1985.2,856.4 L1980.3,856.0 L1983.6,861.2 L1989.2,861.2 L1994.8,861.2 L1998.8,859.3 L2002.7,857.3 L2001.0,851.3 L2005.9,851.1 L2010.7,851.0 L2015.5,850.9 L2020.4,850.7 L2025.2,850.3 L2030.1,849.9 L2035.0,849.4 L2039.4,849.8 L2043.9,850.1 L2048.4,850.4 L2052.8,850.7 L2047.7,844.2 L2051.0,842.4 L2054.3,840.7 L2057.5,838.9 L2062.1,841.5 L2066.8,839.6 L2071.3,837.6 L2075.0,835.8 L2078.6,834.1 L2082.1,832.3 L2086.1,831.9 L2090.2,831.5 L2094.2,831.0 L2098.2,830.6 L2102.2,830.2 L2106.1,829.7 L2109.7,828.1 L2113.1,826.6 L2118.2,827.7 L2123.3,828.8 L2128.4,829.9 L2133.5,831.0 L2132.3,836.3 L2137.0,836.6 L2141.6,836.9 L2146.3,837.3 L2151.0,837.6 L2155.8,837.9 L2160.5,838.3 L2165.2,838.6 L2169.9,838.9 L2176.7,841.5 L2183.4,844.2 L2187.2,843.2 L2191.0,842.2 L2194.7,841.2 L2198.4,840.2 L2203.2,840.8 L2207.9,841.3 L2212.7,841.8 L2217.5,842.3 L2222.2,842.9 L2227.3,843.6 L2232.4,844.4 L2237.5,845.2 L2242.7,846.0 L2247.8,846.8 L2252.1,846.8 L2256.4,846.8 L2260.6,846.8 L2264.9,846.8 L2269.2,846.8 L2274.1,847.3 L2279.0,847.8 L2283.9,848.4 L2288.8,848.9 L2293.8,849.4 L2304.1,858.6 L2309.8,866.5 L2306.3,868.1 L2302.7,869.8 L2299.0,871.4 L2295.3,873.1 L2291.5,875.0 L2287.7,876.9 L2283.8,878.8 L2286.8,886.2 L2284.4,891.5 L2281.7,896.7 L2277.7,891.5 L2273.4,886.2 L2269.0,880.9 L2267.0,875.0 L2264.6,869.1 L2269.7,868.5 L2274.8,867.8 L2271.7,869.5 L2268.5,871.1 L2265.2,872.7 L2261.9,874.4 L2257.4,874.5 L2252.8,874.6 L2248.3,874.6 L2243.8,874.7 L2239.2,874.8 L2234.7,874.9 L2232.1,877.9 L2229.3,880.8 L2226.5,883.8 L2223.5,886.7 L2229.2,888.3 L2234.8,889.9 L2240.4,891.5 L2243.5,898.0 L2246.2,904.6 L2242.9,910.5 L2239.3,916.4 L2234.2,917.5 L2229.1,918.5 L2223.2,926.1 L2231.1,936.1 L2225.2,940.1 L2221.9,933.5 L2215.6,925.6 L2209.0,928.2 L2200.2,928.2 L2204.0,932.2 L2213.1,933.5 L2207.1,938.7 L2211.5,944.0 L2215.7,949.3 L2215.5,957.1 L2211.8,963.7 L2206.5,970.3 L2197.9,972.9 L2190.5,975.5 L2185.2,974.2 L2180.7,979.5 L2184.7,985.4 L2188.6,991.3 L2191.4,999.2 L2184.5,1004.4 L2180.7,1007.1 L2179.1,1003.1 L2173.6,999.2 L2168.1,995.2 L2167.3,1001.8 L2166.3,1007.1 L2170.5,1013.6 L2177.3,1020.2 L2178.8,1026.8 L2172.1,1023.3 L2168.8,1014.9 L2163.2,1008.4 L2163.2,999.2 L2161.4,993.3 L2159.5,987.4 L2151.8,988.7 L2149.7,980.8 L2142.1,971.6 L2135.8,972.9 L2131.0,975.5 L2126.1,978.7 L2119.2,987.4 L2114.8,991.3 L2114.9,996.5 L2114.9,1001.8 L2108.8,1009.7 L2104.6,1004.4 L2102.4,999.2 L2100.1,993.9 L2097.8,988.7 L2095.4,983.4 L2093.4,975.5 L2086.9,975.5 L2082.4,969.0 L2078.1,965.0 L2071.7,964.8 L2065.2,964.5 L2059.4,964.1 L2053.5,963.7 L2050.6,959.8 L2044.0,958.5 L2037.5,957.1 L2033.1,951.4 L2028.6,951.9 L2030.6,957.1 L2036.8,963.7 L2038.4,967.6 L2044.9,967.6 L2049.6,962.4 L2051.3,967.6 L2060.2,971.6 L2057.3,978.2 L2048.8,986.0 L2041.1,988.7 L2036.0,991.3 L2030.9,993.9 L2023.2,997.1 L2018.7,996.5 L2016.3,988.7 L2009.4,979.5 L2005.0,970.3 L1999.4,962.4 L1995.3,957.1 L1994.2,953.2 L1992.9,948.5 L1995.5,942.7 L1996.2,936.1 L1991.1,935.3 L1982.3,934.8 L1974.6,933.5 L1971.8,928.2 L1971.0,925.1 L1977.6,923.0 L1984.8,920.9 L1989.8,921.3 L1994.8,921.7 L2001.7,921.7 L2008.5,921.7 L2006.7,917.7 L2001.5,915.1 L1996.3,912.5 L2000.5,907.2 L1995.8,908.5 L1991.1,909.8 L1986.3,911.2 L1980.1,909.8 L1976.4,915.1 L1974.9,920.4 L1970.2,923.5 L1962.8,924.3 L1965.7,930.9 L1962.1,934.3 L1958.1,929.6 L1953.9,921.7 L1952.5,919.0 L1947.5,916.4 L1942.4,913.8 L1938.6,910.6 L1935.7,911.9 L1936.3,915.1 L1940.2,919.0 L1945.2,921.1 L1951.6,924.8 L1947.9,924.3 L1946.8,928.2 L1945.2,930.9 L1945.5,926.4 L1939.1,922.5 L1931.5,918.3 L1927.2,914.3 L1920.4,917.2 L1913.5,917.2 L1913.5,920.6 L1907.6,923.0 L1904.9,926.9 L1905.6,928.8 L1903.8,931.4 L1900.6,934.0 L1894.3,934.3 L1891.8,936.1 L1889.3,933.5 L1883.5,933.5 L1882.1,929.0Z M1892.4,899.3 L1898.0,898.3 L1903.6,897.2 L1909.2,896.2 L1909.6,892.0 L1905.1,888.8 L1900.9,883.6 L1901.0,879.1 L1896.4,877.0 L1891.7,879.6 L1893.8,886.2 L1898.5,888.8 L1894.9,891.5 L1893.7,894.9 L1898.4,895.7 L1892.4,899.3Z M1881.7,894.1 L1886.5,893.8 L1891.3,893.6 L1891.4,888.8 L1888.0,885.7 L1882.0,888.8 L1881.7,894.1Z M1852.5,858.6 L1856.4,862.6 L1862.9,864.1 L1868.7,862.7 L1874.4,861.2 L1872.6,856.8 L1867.0,856.8 L1861.5,856.8 L1857.0,857.7 L1852.5,858.6Z M2236.3,947.9 L2238.2,941.4 L2243.1,940.7 L2247.9,940.1 L2252.8,939.4 L2257.6,938.7 L2258.6,930.9 L2256.9,923.0 L2253.1,923.0 L2254.9,930.9 L2248.3,933.5 L2240.8,937.4 L2234.8,942.7 L2236.3,947.9Z M2252.1,920.4 L2257.4,918.4 L2262.7,916.4 L2252.5,911.2 L2252.1,920.4Z M2252.4,909.8 L2251.7,904.6 L2250.8,899.3 L2246.7,894.1 L2242.5,888.8 L2244.9,894.1 L2247.2,899.3 L2249.8,904.6 L2252.4,909.8Z M2156.2,1016.3 L2162.9,1020.2 L2170.2,1026.8 L2177.5,1033.3 L2180.6,1039.6 L2183.7,1045.9 L2178.5,1045.1 L2174.1,1039.9 L2169.6,1034.6 L2165.0,1029.4 L2160.3,1024.1 L2156.2,1016.3Z M2182.4,1047.8 L2188.9,1047.8 L2194.1,1048.2 L2199.4,1048.6 L2205.8,1050.4 L2204.4,1053.0 L2199.2,1052.4 L2194.0,1051.8 L2188.7,1051.2 L2182.4,1047.8Z M2191.9,1026.8 L2197.1,1024.8 L2202.3,1022.8 L2207.4,1017.8 L2212.5,1012.8 L2217.9,1017.6 L2216.1,1022.8 L2214.2,1028.1 L2212.9,1034.0 L2211.5,1039.9 L2202.3,1039.1 L2194.5,1034.6 L2191.9,1026.8Z M2219.2,1043.8 L2222.1,1037.3 L2220.8,1028.6 L2226.7,1028.1 L2232.6,1027.5 L2224.7,1032.8 L2228.6,1039.9 L2223.2,1042.5 L2219.2,1043.8Z M2218.7,982.1 L2223.7,986.0 L2222.8,993.9 L2229.7,997.9 L2235.7,1007.1 L2234.9,1014.9 L2225.6,1012.3 L2227.7,1004.4 L2221.8,996.5 L2218.3,988.7 L2218.7,982.1Z M2249.7,1033.3 L2257.6,1032.8 L2262.8,1034.1 L2268.0,1035.4 L2275.9,1037.8 L2281.1,1040.2 L2286.2,1042.5 L2292.6,1047.0 L2299.6,1057.5 L2290.6,1055.7 L2281.7,1053.0 L2275.0,1054.3 L2267.4,1051.7 L2267.7,1045.1 L2262.6,1043.2 L2257.4,1041.2 L2252.2,1038.1 L2249.7,1033.3Z M2200.5,1088.5 L2199.0,1093.8 L2197.4,1099.0 L2197.8,1106.2 L2198.1,1113.5 L2196.3,1120.8 L2203.3,1122.7 L2210.7,1121.1 L2218.1,1119.5 L2225.8,1116.7 L2233.6,1114.0 L2240.1,1113.5 L2246.6,1117.4 L2248.8,1122.7 L2254.7,1117.4 L2256.7,1125.3 L2258.5,1131.1 L2267.2,1131.1 L2271.4,1133.2 L2281.9,1128.7 L2288.2,1119.5 L2296.0,1109.5 L2297.9,1104.3 L2299.7,1099.0 L2295.3,1092.4 L2291.8,1084.6 L2285.6,1080.6 L2285.4,1075.4 L2285.1,1070.1 L2280.1,1068.3 L2278.5,1059.1 L2275.2,1066.2 L2272.5,1076.2 L2267.2,1076.7 L2259.0,1070.1 L2263.3,1062.2 L2257.8,1061.3 L2252.3,1060.4 L2245.3,1064.9 L2240.8,1069.6 L2234.5,1067.5 L2225.8,1075.4 L2222.6,1079.3 L2214.3,1083.2 L2207.5,1085.1 L2200.5,1088.5Z M2265.1,1137.6 L2273.6,1138.2 L2270.2,1143.7 L2265.1,1145.2 L2265.1,1137.6Z M2341.9,1121.3 L2346.8,1126.6 L2352.4,1129.7 L2346.9,1134.5 L2339.9,1139.7 L2339.5,1134.5 L2343.6,1129.2 L2341.9,1121.3Z M2335.2,1137.1 L2337.0,1140.5 L2325.4,1147.6 L2322.0,1151.6 L2316.4,1152.9 L2312.2,1151.6 L2318.7,1146.3 L2328.5,1141.6 L2335.2,1137.1Z M2115.1,1005.2 L2120.1,1011.0 L2117.6,1014.9 L2114.8,1011.0 L2115.1,1005.2Z M2218.4,964.5 L2218.6,972.9 L2215.6,970.3 L2218.4,964.5Z M2188.3,978.2 L2193.6,978.7 L2191.5,982.6 L2187.9,980.8 L2188.3,978.2Z M1685.7,972.9 L1692.3,971.6 L1699.0,970.3 L1705.1,973.6 L1711.2,976.8 L1713.2,977.6 L1704.5,978.7 L1703.7,974.2 L1698.6,973.2 L1693.6,972.1 L1685.7,972.9Z M1712.3,978.7 L1718.1,978.7 L1724.0,978.7 L1727.6,982.1 L1719.7,983.4 L1712.0,982.1 L1712.3,978.7Z M1762.3,905.9 L1769.3,907.2 L1776.6,907.2 L1776.4,902.0 L1771.7,895.4 L1762.8,903.3 L1762.3,905.9Z M1926.8,821.8 L1932.1,825.1 L1937.5,828.4 L1941.3,827.5 L1945.1,826.7 L1948.9,825.8 L1953.2,823.1 L1957.3,820.5 L1952.9,820.2 L1948.5,819.9 L1944.2,819.5 L1939.8,819.2 L1935.5,820.1 L1931.2,821.0 L1926.8,821.8Z M2015.9,844.2 L2021.4,844.8 L2027.0,845.5 L2022.2,838.9 L2024.8,835.6 L2027.3,832.3 L2030.8,831.4 L2034.3,830.4 L2037.7,829.4 L2041.1,828.4 L2038.3,830.4 L2035.4,832.3 L2031.1,833.2 L2026.8,834.1 L2022.5,835.0 L2019.5,837.6 L2016.5,840.2 L2015.9,844.2Z M2090.1,823.1 L2094.0,823.1 L2097.9,823.1 L2101.8,823.1 L2105.7,823.1 L2109.6,823.1 L2102.6,821.2 L2095.7,819.2 L2093.0,821.2 L2090.1,823.1Z M2185.0,833.7 L2189.1,833.7 L2193.1,833.7 L2197.2,833.7 L2201.3,833.7 L2205.6,833.0 L2209.8,832.3 L2205.4,832.0 L2200.9,831.7 L2196.4,831.4 L2192.0,831.0 L2188.5,832.3 L2185.0,833.7Z M1507.1,858.6 L1517.4,849.4 L1520.5,851.4 L1523.7,853.4 L1527.1,855.3 L1530.5,857.3 L1522.2,861.2 L1518.4,860.6 L1514.6,859.9 L1510.8,859.3 L1507.1,858.6Z" fill="#dfe3b9" stroke="#c9d3ad" stroke-width="0.6" filter="url(#blur2)"/>
<g clip-path="url(#landclip)">
<ellipse cx="1673.8" cy="878.3" rx="150" ry="30" fill="#b7cfa6" opacity="0.95" filter="url(#blur12)"/>
<ellipse cx="1604.9" cy="899.3" rx="30" ry="30" fill="#b7cfa6" opacity="0.9" filter="url(#blur12)"/>
<ellipse cx="1705.3" cy="930.9" rx="40" ry="30" fill="#bfd3a4" opacity="0.9" filter="url(#blur12)"/>
<ellipse cx="1671.1" cy="988.7" rx="30" ry="12" fill="#a9c9a0" opacity="0.9" filter="url(#blur12)"/>
<ellipse cx="1748.0" cy="1038.6" rx="60" ry="45" fill="#a6c79e" opacity="1" filter="url(#blur12)"/>
<ellipse cx="1716.6" cy="1017.6" rx="25" ry="20" fill="#a6c79e" opacity="0.9" filter="url(#blur12)"/>
<ellipse cx="1771.7" cy="1096.4" rx="20" ry="20" fill="#c4d6a6" opacity="0.8" filter="url(#blur12)"/>
<ellipse cx="1958.1" cy="1030.7" rx="45" ry="30" fill="#a6c79e" opacity="1" filter="url(#blur12)"/>
<ellipse cx="1884.6" cy="1012.3" rx="30" ry="8" fill="#b9d2a2" opacity="0.9" filter="url(#blur12)"/>
<ellipse cx="1984.0" cy="1062.2" rx="35" ry="25" fill="#c3d6a8" opacity="0.8" filter="url(#blur12)"/>
<ellipse cx="2076.5" cy="870.4" rx="210" ry="26" fill="#b7cfa6" opacity="0.95" filter="url(#blur12)"/>
<ellipse cx="1950.3" cy="862.6" rx="38" ry="22" fill="#b7cfa6" opacity="0.9" filter="url(#blur12)"/>
<ellipse cx="1942.0" cy="904.6" rx="40" ry="14" fill="#c9d9aa" opacity="0.7" filter="url(#blur12)"/>
<ellipse cx="2206.3" cy="899.3" rx="40" ry="25" fill="#b7cfa6" opacity="0.9" filter="url(#blur12)"/>
<ellipse cx="2178.6" cy="983.4" rx="25" ry="28" fill="#aecba0" opacity="0.95" filter="url(#blur12)"/>
<ellipse cx="2199.8" cy="1030.7" rx="40" ry="14" fill="#a6c79e" opacity="1" filter="url(#blur12)"/>
<ellipse cx="2273.0" cy="1043.8" rx="25" ry="10" fill="#a6c79e" opacity="1" filter="url(#blur12)"/>
<ellipse cx="2112.5" cy="972.9" rx="15" ry="12" fill="#d3dca9" opacity="0.8" filter="url(#blur12)"/>
<ellipse cx="1918.5" cy="967.6" rx="110" ry="38" fill="#f3e9d6" opacity="1" filter="url(#blur12)"/>
<ellipse cx="2021.7" cy="967.6" rx="40" ry="30" fill="#efe3cd" opacity="1" filter="url(#blur12)"/>
<ellipse cx="2060.8" cy="930.9" rx="50" ry="22" fill="#ece2cb" opacity="0.95" filter="url(#blur12)"/>
<ellipse cx="2153.1" cy="920.4" rx="50" ry="15" fill="#e9e0c6" opacity="0.9" filter="url(#blur12)"/>
<ellipse cx="2128.7" cy="944.0" rx="40" ry="14" fill="#bfc5c6" opacity="1" filter="url(#blur12)"/>
<ellipse cx="2086.8" cy="936.1" rx="14" ry="10" fill="#cfcfc8" opacity="0.9" filter="url(#blur12)"/>
<ellipse cx="1957.1" cy="1096.4" rx="18" ry="20" fill="#ebe0bf" opacity="0.8" filter="url(#blur12)"/>
<ellipse cx="2245.5" cy="1096.4" rx="55" ry="30" fill="#edd9b8" opacity="0.95" filter="url(#blur12)"/>
<ellipse cx="1635.2" cy="930.9" rx="22" ry="25" fill="#e6e0bb" opacity="0.8" filter="url(#blur12)"/>
<ellipse cx="1731.3" cy="1135.8" rx="8" ry="30" fill="#e6dcbf" opacity="0.9" filter="url(#blur12)"/>
<ellipse cx="1727.1" cy="1088.5" rx="6" ry="45" fill="#d2cfc4" opacity="0.8" filter="url(#blur12)"/>
<ellipse cx="1699.5" cy="836.3" rx="150" ry="22" fill="#dcdcd0" opacity="1" filter="url(#blur12)"/>
<ellipse cx="2111.7" cy="836.3" rx="260" ry="14" fill="#dadbcf" opacity="1" filter="url(#blur12)"/>
<ellipse cx="1563.6" cy="857.3" rx="40" ry="14" fill="#d6d9c6" opacity="0.9" filter="url(#blur12)"/>
<ellipse cx="1823.2" cy="836.3" rx="70" ry="60" fill="#f3f4f8" opacity="1" filter="url(#blur12)"/>
</g>
<path d="M2025.1,908.5 L2034.8,908.5 L2038.0,920.4 L2039.9,928.2 L2038.7,933.5 L2031.0,932.2 L2027.6,925.6 L2021.6,917.7 L2020.8,912.5Z M1681.7,907.2 L1692.7,903.3 L1699.6,908.5 L1693.5,908.5Z M1689.0,920.4 L1694.0,911.2 L1699.1,910.4 L1703.4,912.5 L1701.2,916.4 L1701.4,920.4 L1710.5,918.5 L1717.2,916.4 L1711.3,915.1 L1705.5,913.8 L1699.2,909.8 L1694.1,915.1 L1690.3,920.4Z M1989.7,1029.9 L1994.9,1030.7 L1993.6,1037.3 L1989.6,1037.3Z M2048.2,908.5 L2054.6,909.8 L2054.4,915.1 L2049.2,913.8Z" fill="#7db1d6"/>
<path d="M1551.3,1235.6 L1555.7,1235.9 L1560.0,1236.1 L1564.4,1236.4 L1568.8,1236.7 L1573.1,1236.9 L1576.2,1236.4 L1579.2,1235.9 L1582.3,1235.4 L1585.5,1234.8 L1588.6,1234.3 L1591.8,1233.8 L1595.0,1233.3 L1598.3,1232.7 L1601.5,1232.2 L1604.8,1231.7 L1607.8,1230.9 L1610.8,1230.1 L1613.9,1229.3 L1617.0,1228.5 L1620.1,1227.7 L1623.8,1227.4 L1627.4,1227.0 L1631.1,1226.6 L1634.8,1226.3 L1638.5,1225.9 L1642.4,1225.6 L1646.2,1225.4 L1650.1,1225.1 L1653.9,1224.9 L1657.8,1224.6 L1662.3,1225.0 L1666.7,1225.3 L1671.2,1225.7 L1675.6,1226.1 L1680.1,1226.4 L1683.5,1225.6 L1686.9,1224.9 L1690.4,1224.1 L1693.9,1223.3 L1697.5,1222.5 L1701.5,1222.4 L1705.6,1222.3 L1709.7,1222.2 L1713.8,1222.1 L1717.9,1222.0 L1722.1,1222.1 L1726.4,1222.2 L1730.6,1222.3 L1734.9,1222.4 L1739.1,1222.5 L1743.5,1221.2 L1748.0,1219.9 L1751.9,1217.2 L1755.9,1214.6 L1758.9,1206.7 L1762.9,1203.2 L1767.2,1199.6 L1772.3,1198.2 L1777.4,1196.7 L1776.3,1200.2 L1772.0,1206.7 L1773.5,1213.3 L1775.3,1219.9 L1783.2,1227.7 L1788.1,1229.3 L1792.9,1230.9 L1797.7,1232.5 L1802.5,1234.0 L1807.2,1235.6 L1811.2,1235.7 L1815.1,1235.8 L1819.1,1235.9 L1823.1,1236.0 L1827.1,1236.1 L1831.8,1235.6 L1836.5,1235.1 L1840.7,1232.7 L1845.1,1230.4 L1848.8,1229.1 L1852.6,1227.7 L1856.4,1226.4 L1860.3,1225.1 L1864.2,1223.8 L1868.1,1222.5 L1872.1,1221.2 L1876.2,1219.9 L1880.3,1218.5 L1884.4,1217.2 L1888.6,1216.4 L1892.8,1215.7 L1897.1,1214.9 L1901.3,1214.1 L1905.6,1213.3 L1909.9,1213.6 L1914.2,1213.8 L1918.5,1214.1 L1922.7,1214.3 L1927.0,1214.6 L1931.3,1214.6 L1935.5,1214.6 L1939.8,1214.6 L1944.1,1214.6 L1948.4,1214.6 L1952.7,1214.1 L1957.1,1213.6 L1961.5,1213.0 L1965.9,1212.5 L1970.3,1212.0 L1974.7,1211.5 L1979.2,1210.9 L1983.6,1210.4 L1988.1,1209.9 L1992.5,1209.4 L1997.1,1208.6 L2001.7,1207.8 L2006.3,1207.0 L2010.9,1206.2 L2015.5,1205.4 L2019.8,1205.8 L2024.0,1206.3 L2028.3,1206.7 L2032.5,1207.1 L2036.7,1207.5 L2040.8,1208.1 L2045.0,1208.8 L2049.0,1209.4 L2053.1,1210.0 L2057.2,1210.7 L2060.2,1213.3 L2067.3,1212.0 L2074.4,1208.7 L2081.5,1205.4 L2085.9,1205.3 L2090.4,1205.1 L2094.9,1204.9 L2099.4,1204.8 L2103.9,1204.6 L2108.4,1204.4 L2113.0,1204.1 L2117.5,1203.8 L2122.1,1203.6 L2126.7,1203.3 L2131.0,1203.5 L2135.3,1203.6 L2139.7,1203.8 L2144.0,1203.9 L2148.3,1204.1 L2152.5,1204.4 L2156.7,1204.6 L2161.0,1204.9 L2165.2,1205.1 L2169.4,1205.4 L2174.0,1205.1 L2178.6,1204.9 L2183.2,1204.6 L2187.8,1204.4 L2192.4,1204.1 L2196.6,1204.4 L2200.8,1204.6 L2205.0,1204.9 L2209.2,1205.1 L2213.4,1205.4 L2217.0,1206.3 L2220.6,1207.2 L2224.1,1208.1 L2227.7,1209.0 L2231.1,1209.9 L2234.6,1210.8 L2237.9,1211.8 L2241.3,1212.7 L2244.6,1213.7 L2247.8,1214.6 L2251.7,1215.9 L2255.5,1217.2 L2259.2,1218.5 L2262.8,1219.9 L2253.9,1225.1 L2244.4,1230.4 L2230.4,1235.6 L2234.6,1235.6 L2238.8,1235.6 L2243.1,1235.6 L2247.3,1235.6 L2251.5,1235.6 L2255.7,1235.6 L2259.9,1235.6 L2378.4,1272.15 L1432.8,1272.15 Z" fill="#f2f5fa" stroke="#dfe8f2" stroke-width="1.5" filter="url(#blur2)"/>
<ellipse cx="1905.6" cy="1259.4" rx="420" ry="10" fill="#e6eaf4" opacity="0.8" filter="url(#blur6)"/>
</g>
<g clip-path="url(#mapclip)">
<line x1="1644.2" y1="1210.0" x2="1646.2" y2="1211.0" stroke="#0046b9" stroke-width="4.2" stroke-linecap="round"/>
<line x1="1646.2" y1="1211.0" x2="1648.9" y2="1212.3" stroke="#0044bb" stroke-width="4.2" stroke-linecap="round"/>
<line x1="1648.9" y1="1212.3" x2="1652.1" y2="1213.8" stroke="#0042bd" stroke-width="4.2" stroke-linecap="round"/>
<line x1="1652.1" y1="1213.8" x2="1655.6" y2="1215.4" stroke="#003ec1" stroke-width="4.2" stroke-linecap="round"/>
<line x1="1655.6" y1="1215.4" x2="1659.5" y2="1217.0" stroke="#003bc4" stroke-width="4.2" stroke-linecap="round"/>
<line x1="1659.5" y1="1217.0" x2="1663.7" y2="1218.6" stroke="#0037c8" stroke-width="4.2" stroke-linecap="round"/>
<line x1="1663.7" y1="1218.6" x2="1668.3" y2="1220.2" stroke="#0034cb" stroke-width="4.2" stroke-linecap="round"/>
<line x1="1668.3" y1="1220.2" x2="1673.1" y2="1221.8" stroke="#002fd0" stroke-width="4.2" stroke-linecap="round"/>
<line x1="1673.1" y1="1221.8" x2="1678.0" y2="1223.3" stroke="#002bd4" stroke-width="4.2" stroke-linecap="round"/>
<line x1="1678.0" y1="1223.3" x2="1682.9" y2="1224.6" stroke="#0027d8" stroke-width="4.2" stroke-linecap="round"/>
<line x1="1682.9" y1="1224.6" x2="1687.4" y2="1226.0" stroke="#0023dc" stroke-width="4.2" stroke-linecap="round"/>
<line x1="1687.4" y1="1226.0" x2="1692.0" y2="1227.3" stroke="#001fe0" stroke-width="4.2" stroke-linecap="round"/>
<line x1="1692.0" y1="1227.3" x2="1696.7" y2="1228.6" stroke="#001be4" stroke-width="4.2" stroke-linecap="round"/>
<line x1="1696.7" y1="1228.6" x2="1701.6" y2="1229.9" stroke="#0017e8" stroke-width="4.2" stroke-linecap="round"/>
<line x1="1701.6" y1="1229.9" x2="1706.5" y2="1231.2" stroke="#0012ed" stroke-width="4.2" stroke-linecap="round"/>
<line x1="1706.5" y1="1231.2" x2="1711.6" y2="1232.3" stroke="#000ef1" stroke-width="4.2" stroke-linecap="round"/>
<line x1="1711.6" y1="1232.3" x2="1716.7" y2="1233.4" stroke="#000af5" stroke-width="4.2" stroke-linecap="round"/>
<line x1="1716.7" y1="1233.4" x2="1721.8" y2="1234.5" stroke="#0005fa" stroke-width="4.2" stroke-linecap="round"/>
<line x1="1721.8" y1="1234.5" x2="1727.0" y2="1235.5" stroke="#0001fe" stroke-width="4.2" stroke-linecap="round"/>
<line x1="1727.0" y1="1235.5" x2="1732.3" y2="1236.4" stroke="#0201ff" stroke-width="4.2" stroke-linecap="round"/>
<line x1="1732.3" y1="1236.4" x2="1737.5" y2="1237.3" stroke="#0502ff" stroke-width="4.2" stroke-linecap="round"/>
<line x1="1737.5" y1="1237.3" x2="1742.8" y2="1238.1" stroke="#0702ff" stroke-width="4.2" stroke-linecap="round"/>
<line x1="1742.8" y1="1238.1" x2="1748.1" y2="1238.8" stroke="#0a03ff" stroke-width="4.2" stroke-linecap="round"/>
<line x1="1748.1" y1="1238.8" x2="1753.3" y2="1239.5" stroke="#0d04ff" stroke-width="4.2" stroke-linecap="round"/>
<line x1="1753.3" y1="1239.5" x2="1758.5" y2="1240.0" stroke="#0f05ff" stroke-width="4.2" stroke-linecap="round"/>
<line x1="1758.5" y1="1240.0" x2="1763.7" y2="1240.5" stroke="#1206ff" stroke-width="4.2" stroke-linecap="round"/>
<line x1="1763.7" y1="1240.5" x2="1769.0" y2="1241.0" stroke="#1507ff" stroke-width="4.2" stroke-linecap="round"/>
<line x1="1769.0" y1="1241.0" x2="1774.2" y2="1241.3" stroke="#1708ff" stroke-width="4.2" stroke-linecap="round"/>
<line x1="1774.2" y1="1241.3" x2="1779.4" y2="1241.6" stroke="#1a09ff" stroke-width="4.2" stroke-linecap="round"/>
<line x1="1779.4" y1="1241.6" x2="1784.6" y2="1241.9" stroke="#1d0aff" stroke-width="4.2" stroke-linecap="round"/>
<line x1="1784.6" y1="1241.9" x2="1789.8" y2="1242.1" stroke="#1f0aff" stroke-width="4.2" stroke-linecap="round"/>
<line x1="1789.8" y1="1242.1" x2="1795.0" y2="1242.2" stroke="#230cff" stroke-width="4.2" stroke-linecap="round"/>
<line x1="1795.0" y1="1242.2" x2="1800.3" y2="1242.3" stroke="#260dff" stroke-width="4.2" stroke-linecap="round"/>
<line x1="1800.3" y1="1242.3" x2="1805.6" y2="1242.4" stroke="#290eff" stroke-width="4.2" stroke-linecap="round"/>
<line x1="1805.6" y1="1242.4" x2="1810.8" y2="1242.3" stroke="#2c0fff" stroke-width="4.2" stroke-linecap="round"/>
<line x1="1810.8" y1="1242.3" x2="1816.1" y2="1242.2" stroke="#3010ff" stroke-width="4.2" stroke-linecap="round"/>
<line x1="1816.1" y1="1242.2" x2="1821.4" y2="1242.1" stroke="#3311ff" stroke-width="4.2" stroke-linecap="round"/>
<line x1="1821.4" y1="1242.1" x2="1826.6" y2="1241.9" stroke="#3612ff" stroke-width="4.2" stroke-linecap="round"/>
<line x1="1826.6" y1="1241.9" x2="1831.7" y2="1241.6" stroke="#3a13ff" stroke-width="4.2" stroke-linecap="round"/>
<line x1="1831.7" y1="1241.6" x2="1836.7" y2="1241.3" stroke="#3d14ff" stroke-width="4.2" stroke-linecap="round"/>
<line x1="1836.7" y1="1241.3" x2="1841.6" y2="1240.9" stroke="#4015ff" stroke-width="4.2" stroke-linecap="round"/>
<line x1="1841.6" y1="1240.9" x2="1846.4" y2="1240.5" stroke="#4316ff" stroke-width="4.2" stroke-linecap="round"/>
<line x1="1846.4" y1="1240.5" x2="1851.0" y2="1240.0" stroke="#4617ff" stroke-width="4.2" stroke-linecap="round"/>
<line x1="1851.0" y1="1240.0" x2="1855.5" y2="1239.5" stroke="#4918ff" stroke-width="4.2" stroke-linecap="round"/>
<line x1="1855.5" y1="1239.5" x2="1859.9" y2="1238.9" stroke="#4c19ff" stroke-width="4.2" stroke-linecap="round"/>
<line x1="1859.9" y1="1238.9" x2="1864.1" y2="1238.3" stroke="#4e1aff" stroke-width="4.2" stroke-linecap="round"/>
<line x1="1864.1" y1="1238.3" x2="1868.2" y2="1237.6" stroke="#511bff" stroke-width="4.2" stroke-linecap="round"/>
<line x1="1868.2" y1="1237.6" x2="1872.2" y2="1236.8" stroke="#541cff" stroke-width="4.2" stroke-linecap="round"/>
<line x1="1872.2" y1="1236.8" x2="1876.0" y2="1236.0" stroke="#561dff" stroke-width="4.2" stroke-linecap="round"/>
<line x1="1876.0" y1="1236.0" x2="1879.8" y2="1235.1" stroke="#591eff" stroke-width="4.2" stroke-linecap="round"/>
<line x1="1879.8" y1="1235.1" x2="1883.4" y2="1234.1" stroke="#5b1eff" stroke-width="4.2" stroke-linecap="round"/>
<line x1="1883.4" y1="1234.1" x2="1886.9" y2="1233.0" stroke="#5d1fff" stroke-width="4.2" stroke-linecap="round"/>
<line x1="1886.9" y1="1233.0" x2="1890.3" y2="1231.9" stroke="#5f20ff" stroke-width="4.2" stroke-linecap="round"/>
<line x1="1890.3" y1="1231.9" x2="1893.5" y2="1230.7" stroke="#6221ff" stroke-width="4.2" stroke-linecap="round"/>
<line x1="1893.5" y1="1230.7" x2="1896.5" y2="1229.5" stroke="#6421ff" stroke-width="4.2" stroke-linecap="round"/>
<line x1="1896.5" y1="1229.5" x2="1899.5" y2="1228.2" stroke="#6622ff" stroke-width="4.2" stroke-linecap="round"/>
<line x1="1899.5" y1="1228.2" x2="1902.2" y2="1226.8" stroke="#6823ff" stroke-width="4.2" stroke-linecap="round"/>
<line x1="1902.2" y1="1226.8" x2="1904.9" y2="1225.4" stroke="#6a23ff" stroke-width="4.2" stroke-linecap="round"/>
<line x1="1904.9" y1="1225.4" x2="1907.4" y2="1223.8" stroke="#6c24ff" stroke-width="4.2" stroke-linecap="round"/>
<line x1="1907.4" y1="1223.8" x2="1909.9" y2="1222.3" stroke="#6d24ff" stroke-width="4.2" stroke-linecap="round"/>
<line x1="1909.9" y1="1222.3" x2="1912.4" y2="1220.6" stroke="#6f25ff" stroke-width="4.2" stroke-linecap="round"/>
<line x1="1912.4" y1="1220.6" x2="1914.8" y2="1218.8" stroke="#7126ff" stroke-width="4.2" stroke-linecap="round"/>
<line x1="1914.8" y1="1218.8" x2="1917.2" y2="1216.9" stroke="#7326ff" stroke-width="4.2" stroke-linecap="round"/>
<line x1="1917.2" y1="1216.9" x2="1919.6" y2="1214.9" stroke="#7527ff" stroke-width="4.2" stroke-linecap="round"/>
<line x1="1919.6" y1="1214.9" x2="1922.0" y2="1212.7" stroke="#7728ff" stroke-width="4.2" stroke-linecap="round"/>
<line x1="1922.0" y1="1212.7" x2="1924.4" y2="1210.4" stroke="#7928ff" stroke-width="4.2" stroke-linecap="round"/>
<line x1="1924.4" y1="1210.4" x2="1926.9" y2="1208.0" stroke="#7b29ff" stroke-width="4.2" stroke-linecap="round"/>
<line x1="1926.9" y1="1208.0" x2="1929.2" y2="1205.4" stroke="#7b29ff" stroke-width="4.2" stroke-linecap="round"/>
<line x1="1929.2" y1="1205.4" x2="1931.6" y2="1202.8" stroke="#7c29ff" stroke-width="4.2" stroke-linecap="round"/>
<line x1="1931.6" y1="1202.8" x2="1933.9" y2="1200.0" stroke="#7c29ff" stroke-width="4.2" stroke-linecap="round"/>
<line x1="1933.9" y1="1200.0" x2="1936.1" y2="1197.2" stroke="#7d2aff" stroke-width="4.2" stroke-linecap="round"/>
<line x1="1936.1" y1="1197.2" x2="1938.3" y2="1194.2" stroke="#7d2aff" stroke-width="4.2" stroke-linecap="round"/>
<line x1="1938.3" y1="1194.2" x2="1940.4" y2="1191.2" stroke="#7e2aff" stroke-width="4.2" stroke-linecap="round"/>
<line x1="1940.4" y1="1191.2" x2="1942.4" y2="1188.1" stroke="#7e2aff" stroke-width="4.2" stroke-linecap="round"/>
<line x1="1942.4" y1="1188.1" x2="1944.4" y2="1185.0" stroke="#7f2aff" stroke-width="4.2" stroke-linecap="round"/>
<line x1="1944.4" y1="1185.0" x2="1946.2" y2="1181.8" stroke="#7f2aff" stroke-width="4.2" stroke-linecap="round"/>
<line x1="1946.2" y1="1181.8" x2="1948.0" y2="1178.5" stroke="#802bff" stroke-width="4.2" stroke-linecap="round"/>
<line x1="1948.0" y1="1178.5" x2="1949.7" y2="1175.2" stroke="#802bff" stroke-width="4.2" stroke-linecap="round"/>
<line x1="1949.7" y1="1175.2" x2="1951.4" y2="1171.8" stroke="#812bff" stroke-width="4.2" stroke-linecap="round"/>
<line x1="1951.4" y1="1171.8" x2="1953.0" y2="1168.4" stroke="#822bff" stroke-width="4.2" stroke-linecap="round"/>
<line x1="1953.0" y1="1168.4" x2="1954.5" y2="1165.0" stroke="#822bff" stroke-width="4.2" stroke-linecap="round"/>
<line x1="1954.5" y1="1165.0" x2="1956.0" y2="1161.6" stroke="#832cff" stroke-width="4.2" stroke-linecap="round"/>
<line x1="1956.0" y1="1161.6" x2="1957.4" y2="1158.1" stroke="#832cff" stroke-width="4.2" stroke-linecap="round"/>
<line x1="1957.4" y1="1158.1" x2="1958.8" y2="1154.7" stroke="#842cff" stroke-width="4.2" stroke-linecap="round"/>
<line x1="1958.8" y1="1154.7" x2="1960.0" y2="1151.4" stroke="#842cff" stroke-width="4.2" stroke-linecap="round"/>
<line x1="1960.0" y1="1151.4" x2="1961.2" y2="1148.0" stroke="#852cff" stroke-width="4.2" stroke-linecap="round"/>
<line x1="1961.2" y1="1148.0" x2="1962.3" y2="1144.6" stroke="#852cff" stroke-width="4.2" stroke-linecap="round"/>
<line x1="1962.3" y1="1144.6" x2="1963.4" y2="1141.3" stroke="#862dff" stroke-width="4.2" stroke-linecap="round"/>
<line x1="1963.4" y1="1141.3" x2="1964.3" y2="1137.9" stroke="#862dff" stroke-width="4.2" stroke-linecap="round"/>
<line x1="1964.3" y1="1137.9" x2="1965.2" y2="1134.5" stroke="#872dff" stroke-width="4.2" stroke-linecap="round"/>
<line x1="1965.2" y1="1134.5" x2="1966.1" y2="1131.0" stroke="#872dff" stroke-width="4.2" stroke-linecap="round"/>
<line x1="1966.1" y1="1131.0" x2="1966.9" y2="1127.6" stroke="#882dff" stroke-width="4.2" stroke-linecap="round"/>
<line x1="1966.9" y1="1127.6" x2="1967.7" y2="1124.0" stroke="#882dff" stroke-width="4.2" stroke-linecap="round"/>
<line x1="1967.7" y1="1124.0" x2="1968.5" y2="1120.5" stroke="#892eff" stroke-width="4.2" stroke-linecap="round"/>
<line x1="1968.5" y1="1120.5" x2="1969.3" y2="1117.0" stroke="#892eff" stroke-width="4.2" stroke-linecap="round"/>
<line x1="1969.3" y1="1117.0" x2="1970.0" y2="1113.5" stroke="#8a2eff" stroke-width="4.2" stroke-linecap="round"/>
<line x1="1970.0" y1="1113.5" x2="1970.7" y2="1110.0" stroke="#8b2eff" stroke-width="4.2" stroke-linecap="round"/>
<line x1="1970.7" y1="1110.0" x2="1971.4" y2="1106.6" stroke="#8b2eff" stroke-width="4.2" stroke-linecap="round"/>
<line x1="1971.4" y1="1106.6" x2="1972.1" y2="1103.2" stroke="#8c2fff" stroke-width="4.2" stroke-linecap="round"/>
<line x1="1972.1" y1="1103.2" x2="1972.8" y2="1099.8" stroke="#8c2fff" stroke-width="4.2" stroke-linecap="round"/>
<line x1="1972.8" y1="1099.8" x2="1973.4" y2="1096.5" stroke="#8d2fff" stroke-width="4.2" stroke-linecap="round"/>
<line x1="1973.4" y1="1096.5" x2="1974.0" y2="1093.1" stroke="#8d2fff" stroke-width="4.2" stroke-linecap="round"/>
<line x1="1974.0" y1="1093.1" x2="1974.6" y2="1089.7" stroke="#8e2fff" stroke-width="4.2" stroke-linecap="round"/>
<line x1="1974.6" y1="1089.7" x2="1975.2" y2="1086.3" stroke="#8e2fff" stroke-width="4.2" stroke-linecap="round"/>
<line x1="1975.2" y1="1086.3" x2="1975.7" y2="1082.8" stroke="#8f30ff" stroke-width="4.2" stroke-linecap="round"/>
<line x1="1975.7" y1="1082.8" x2="1976.3" y2="1079.3" stroke="#8f30ff" stroke-width="4.2" stroke-linecap="round"/>
<line x1="1976.3" y1="1079.3" x2="1976.8" y2="1075.7" stroke="#9030ff" stroke-width="4.2" stroke-linecap="round"/>
<line x1="1976.8" y1="1075.7" x2="1977.3" y2="1072.2" stroke="#8f30ff" stroke-width="4.2" stroke-linecap="round"/>
<line x1="1977.3" y1="1072.2" x2="1977.8" y2="1068.7" stroke="#8e2fff" stroke-width="4.2" stroke-linecap="round"/>
<line x1="1977.8" y1="1068.7" x2="1978.2" y2="1065.3" stroke="#8d2fff" stroke-width="4.2" stroke-linecap="round"/>
<line x1="1978.2" y1="1065.3" x2="1978.7" y2="1061.9" stroke="#8c2fff" stroke-width="4.2" stroke-linecap="round"/>
<line x1="1978.7" y1="1061.9" x2="1979.1" y2="1058.7" stroke="#8b2eff" stroke-width="4.2" stroke-linecap="round"/>
<line x1="1979.1" y1="1058.7" x2="1979.5" y2="1055.5" stroke="#8a2eff" stroke-width="4.2" stroke-linecap="round"/>
<line x1="1979.5" y1="1055.5" x2="1979.9" y2="1052.4" stroke="#8a2eff" stroke-width="4.2" stroke-linecap="round"/>
<line x1="1979.9" y1="1052.4" x2="1980.3" y2="1049.3" stroke="#892eff" stroke-width="4.2" stroke-linecap="round"/>
<line x1="1980.3" y1="1049.3" x2="1980.6" y2="1046.3" stroke="#882dff" stroke-width="4.2" stroke-linecap="round"/>
<line x1="1980.6" y1="1046.3" x2="1981.0" y2="1043.4" stroke="#872dff" stroke-width="4.2" stroke-linecap="round"/>
<line x1="1981.0" y1="1043.4" x2="1981.3" y2="1040.4" stroke="#862dff" stroke-width="4.2" stroke-linecap="round"/>
<line x1="1981.3" y1="1040.4" x2="1981.7" y2="1037.3" stroke="#852cff" stroke-width="4.2" stroke-linecap="round"/>
<line x1="1981.7" y1="1037.3" x2="1982.0" y2="1034.3" stroke="#842cff" stroke-width="4.2" stroke-linecap="round"/>
<line x1="1982.0" y1="1034.3" x2="1982.3" y2="1031.2" stroke="#832cff" stroke-width="4.2" stroke-linecap="round"/>
<line x1="1982.3" y1="1031.2" x2="1982.7" y2="1028.1" stroke="#832cff" stroke-width="4.2" stroke-linecap="round"/>
<line x1="1982.7" y1="1028.1" x2="1983.0" y2="1024.9" stroke="#822bff" stroke-width="4.2" stroke-linecap="round"/>
<line x1="1983.0" y1="1024.9" x2="1983.3" y2="1021.8" stroke="#812bff" stroke-width="4.2" stroke-linecap="round"/>
<line x1="1983.3" y1="1021.8" x2="1983.6" y2="1018.6" stroke="#802bff" stroke-width="4.2" stroke-linecap="round"/>
<line x1="1983.6" y1="1018.6" x2="1983.9" y2="1015.5" stroke="#7f2aff" stroke-width="4.2" stroke-linecap="round"/>
<line x1="1983.9" y1="1015.5" x2="1984.2" y2="1012.4" stroke="#7e2aff" stroke-width="4.2" stroke-linecap="round"/>
<line x1="1984.2" y1="1012.4" x2="1984.5" y2="1009.3" stroke="#7d2aff" stroke-width="4.2" stroke-linecap="round"/>
<line x1="1984.5" y1="1009.3" x2="1984.8" y2="1006.2" stroke="#7c29ff" stroke-width="4.2" stroke-linecap="round"/>
<line x1="1984.8" y1="1006.2" x2="1985.0" y2="1003.2" stroke="#7c29ff" stroke-width="4.2" stroke-linecap="round"/>
<line x1="1985.0" y1="1003.2" x2="1985.3" y2="1000.1" stroke="#7b29ff" stroke-width="4.2" stroke-linecap="round"/>
<line x1="1985.3" y1="1000.1" x2="1985.6" y2="997.1" stroke="#7a29ff" stroke-width="4.2" stroke-linecap="round"/>
<line x1="1985.6" y1="997.1" x2="1985.8" y2="994.0" stroke="#7928ff" stroke-width="4.2" stroke-linecap="round"/>
<line x1="1985.8" y1="994.0" x2="1986.0" y2="990.9" stroke="#7828ff" stroke-width="4.2" stroke-linecap="round"/>
<line x1="1986.0" y1="990.9" x2="1986.3" y2="987.8" stroke="#7728ff" stroke-width="4.2" stroke-linecap="round"/>
<line x1="1986.3" y1="987.8" x2="1986.5" y2="984.6" stroke="#7627ff" stroke-width="4.2" stroke-linecap="round"/>
<line x1="1986.5" y1="984.6" x2="1986.8" y2="981.4" stroke="#7527ff" stroke-width="4.2" stroke-linecap="round"/>
<line x1="1986.8" y1="981.4" x2="1987.0" y2="978.1" stroke="#7427ff" stroke-width="4.2" stroke-linecap="round"/>
<line x1="1987.0" y1="978.1" x2="1987.2" y2="974.8" stroke="#7126ff" stroke-width="4.2" stroke-linecap="round"/>
<line x1="1987.2" y1="974.8" x2="1987.5" y2="971.6" stroke="#6d24ff" stroke-width="4.2" stroke-linecap="round"/>
<line x1="1987.5" y1="971.6" x2="1987.7" y2="968.3" stroke="#6923ff" stroke-width="4.2" stroke-linecap="round"/>
<line x1="1987.7" y1="968.3" x2="1987.9" y2="965.1" stroke="#6522ff" stroke-width="4.2" stroke-linecap="round"/>
<line x1="1987.9" y1="965.1" x2="1988.2" y2="961.8" stroke="#6120ff" stroke-width="4.2" stroke-linecap="round"/>
<line x1="1988.2" y1="961.8" x2="1988.4" y2="958.6" stroke="#5d1fff" stroke-width="4.2" stroke-linecap="round"/>
<line x1="1988.4" y1="958.6" x2="1988.6" y2="955.4" stroke="#591eff" stroke-width="4.2" stroke-linecap="round"/>
<line x1="1988.6" y1="955.4" x2="1988.9" y2="952.2" stroke="#551cff" stroke-width="4.2" stroke-linecap="round"/>
<line x1="1988.9" y1="952.2" x2="1989.1" y2="949.0" stroke="#511bff" stroke-width="4.2" stroke-linecap="round"/>
<line x1="1989.1" y1="949.0" x2="1989.3" y2="945.9" stroke="#4d1aff" stroke-width="4.2" stroke-linecap="round"/>
<line x1="1989.3" y1="945.9" x2="1989.6" y2="942.7" stroke="#4918ff" stroke-width="4.2" stroke-linecap="round"/>
<line x1="1989.6" y1="942.7" x2="1989.8" y2="939.5" stroke="#4517ff" stroke-width="4.2" stroke-linecap="round"/>
<line x1="1989.8" y1="939.5" x2="1990.1" y2="936.4" stroke="#4116ff" stroke-width="4.2" stroke-linecap="round"/>
<line x1="1990.1" y1="936.4" x2="1990.3" y2="933.3" stroke="#3d14ff" stroke-width="4.2" stroke-linecap="round"/>
<line x1="1990.3" y1="933.3" x2="1990.6" y2="930.1" stroke="#3913ff" stroke-width="4.2" stroke-linecap="round"/>
<line x1="1990.6" y1="930.1" x2="1990.8" y2="927.0" stroke="#3512ff" stroke-width="4.2" stroke-linecap="round"/>
<line x1="1990.8" y1="927.0" x2="1991.1" y2="923.9" stroke="#3110ff" stroke-width="4.2" stroke-linecap="round"/>
<line x1="1991.1" y1="923.9" x2="1991.4" y2="920.8" stroke="#2d0fff" stroke-width="4.2" stroke-linecap="round"/>
<line x1="1991.4" y1="920.8" x2="1991.7" y2="917.7" stroke="#290eff" stroke-width="4.2" stroke-linecap="round"/>
<line x1="1991.7" y1="917.7" x2="1992.0" y2="914.7" stroke="#250cff" stroke-width="4.2" stroke-linecap="round"/>
<line x1="1992.0" y1="914.7" x2="1992.2" y2="911.7" stroke="#210bff" stroke-width="4.2" stroke-linecap="round"/>
<line x1="1992.2" y1="911.7" x2="1992.5" y2="908.7" stroke="#1e0aff" stroke-width="4.2" stroke-linecap="round"/>
<line x1="1992.5" y1="908.7" x2="1992.9" y2="905.8" stroke="#1c09ff" stroke-width="4.2" stroke-linecap="round"/>
<line x1="1992.9" y1="905.8" x2="1993.2" y2="903.0" stroke="#1a09ff" stroke-width="4.2" stroke-linecap="round"/>
<line x1="1993.2" y1="903.0" x2="1993.5" y2="900.3" stroke="#1808ff" stroke-width="4.2" stroke-linecap="round"/>
<line x1="1993.5" y1="900.3" x2="1993.9" y2="897.6" stroke="#1607ff" stroke-width="4.2" stroke-linecap="round"/>
<line x1="1993.9" y1="897.6" x2="1994.2" y2="895.0" stroke="#1407ff" stroke-width="4.2" stroke-linecap="round"/>
<line x1="1994.2" y1="895.0" x2="1994.6" y2="892.5" stroke="#1206ff" stroke-width="4.2" stroke-linecap="round"/>
<line x1="1994.6" y1="892.5" x2="1995.0" y2="890.1" stroke="#1005ff" stroke-width="4.2" stroke-linecap="round"/>
<line x1="1995.0" y1="890.1" x2="1995.4" y2="887.8" stroke="#0e05ff" stroke-width="4.2" stroke-linecap="round"/>
<line x1="1995.4" y1="887.8" x2="1995.8" y2="885.5" stroke="#0d04ff" stroke-width="4.2" stroke-linecap="round"/>
<line x1="1995.8" y1="885.5" x2="1996.3" y2="883.4" stroke="#0b04ff" stroke-width="4.2" stroke-linecap="round"/>
<line x1="1996.3" y1="883.4" x2="1996.8" y2="881.3" stroke="#0903ff" stroke-width="4.2" stroke-linecap="round"/>
<line x1="1996.8" y1="881.3" x2="1997.3" y2="879.3" stroke="#0803ff" stroke-width="4.2" stroke-linecap="round"/>
<line x1="1997.3" y1="879.3" x2="1997.8" y2="877.4" stroke="#0602ff" stroke-width="4.2" stroke-linecap="round"/>
<line x1="1997.8" y1="877.4" x2="1998.4" y2="875.6" stroke="#0502ff" stroke-width="4.2" stroke-linecap="round"/>
<line x1="1998.4" y1="875.6" x2="1999.0" y2="873.9" stroke="#0401ff" stroke-width="4.2" stroke-linecap="round"/>
<line x1="1999.0" y1="873.9" x2="1999.6" y2="872.3" stroke="#0201ff" stroke-width="4.2" stroke-linecap="round"/>
<line x1="1999.6" y1="872.3" x2="2000.2" y2="870.7" stroke="#0100ff" stroke-width="4.2" stroke-linecap="round"/>
<line x1="2000.2" y1="870.7" x2="2000.9" y2="869.1" stroke="#0000ff" stroke-width="4.2" stroke-linecap="round"/>
<line x1="2000.9" y1="869.1" x2="2001.5" y2="867.6" stroke="#0002fd" stroke-width="4.2" stroke-linecap="round"/>
<line x1="2001.5" y1="867.6" x2="2002.2" y2="866.1" stroke="#0004fb" stroke-width="4.2" stroke-linecap="round"/>
<line x1="2002.2" y1="866.1" x2="2002.9" y2="864.7" stroke="#0006f9" stroke-width="4.2" stroke-linecap="round"/>
<line x1="2002.9" y1="864.7" x2="2003.6" y2="863.2" stroke="#0008f7" stroke-width="4.2" stroke-linecap="round"/>
<line x1="2003.6" y1="863.2" x2="2004.4" y2="861.8" stroke="#000af5" stroke-width="4.2" stroke-linecap="round"/>
<line x1="2004.4" y1="861.8" x2="2005.2" y2="860.3" stroke="#000cf3" stroke-width="4.2" stroke-linecap="round"/>
<line x1="2005.2" y1="860.3" x2="2006.0" y2="858.9" stroke="#000ef1" stroke-width="4.2" stroke-linecap="round"/>
<line x1="2006.0" y1="858.9" x2="2006.9" y2="857.4" stroke="#0010ef" stroke-width="4.2" stroke-linecap="round"/>
<line x1="2006.9" y1="857.4" x2="2007.8" y2="856.0" stroke="#0012ed" stroke-width="4.2" stroke-linecap="round"/>
<line x1="2007.8" y1="856.0" x2="2008.8" y2="854.5" stroke="#0015ea" stroke-width="4.2" stroke-linecap="round"/>
<line x1="2008.8" y1="854.5" x2="2009.8" y2="853.0" stroke="#0017e8" stroke-width="4.2" stroke-linecap="round"/>
<line x1="2009.8" y1="853.0" x2="2010.8" y2="851.6" stroke="#001ae5" stroke-width="4.2" stroke-linecap="round"/>
<line x1="2010.8" y1="851.6" x2="2011.9" y2="850.1" stroke="#001de2" stroke-width="4.2" stroke-linecap="round"/>
<line x1="2011.9" y1="850.1" x2="2013.0" y2="848.6" stroke="#001fe0" stroke-width="4.2" stroke-linecap="round"/>
<line x1="2013.0" y1="848.6" x2="2014.2" y2="847.1" stroke="#0022dd" stroke-width="4.2" stroke-linecap="round"/>
<line x1="2014.2" y1="847.1" x2="2015.4" y2="845.6" stroke="#0025da" stroke-width="4.2" stroke-linecap="round"/>
<line x1="2015.4" y1="845.6" x2="2016.6" y2="844.1" stroke="#0028d7" stroke-width="4.2" stroke-linecap="round"/>
<line x1="2016.6" y1="844.1" x2="2017.9" y2="842.6" stroke="#002bd4" stroke-width="4.2" stroke-linecap="round"/>
<line x1="2017.9" y1="842.6" x2="2019.3" y2="841.2" stroke="#002ed1" stroke-width="4.2" stroke-linecap="round"/>
<line x1="2019.3" y1="841.2" x2="2020.7" y2="839.8" stroke="#0031ce" stroke-width="4.2" stroke-linecap="round"/>
<line x1="2020.7" y1="839.8" x2="2022.2" y2="838.5" stroke="#0034cb" stroke-width="4.2" stroke-linecap="round"/>
<line x1="2022.2" y1="838.5" x2="2023.7" y2="837.2" stroke="#0037c8" stroke-width="4.2" stroke-linecap="round"/>
<line x1="2023.7" y1="837.2" x2="2025.3" y2="836.0" stroke="#003ac5" stroke-width="4.2" stroke-linecap="round"/>
<line x1="2025.3" y1="836.0" x2="2026.9" y2="834.8" stroke="#003dc2" stroke-width="4.2" stroke-linecap="round"/>
<line x1="2026.9" y1="834.8" x2="2028.6" y2="833.6" stroke="#0040bf" stroke-width="4.2" stroke-linecap="round"/>
<line x1="2028.6" y1="833.6" x2="2030.4" y2="832.5" stroke="#0043bc" stroke-width="4.2" stroke-linecap="round"/>
<line x1="2030.4" y1="832.5" x2="2032.2" y2="831.5" stroke="#0046b9" stroke-width="4.2" stroke-linecap="round"/>
<line x1="2032.2" y1="831.5" x2="2034.0" y2="830.5" stroke="#0049b6" stroke-width="4.2" stroke-linecap="round"/>
<line x1="2034.0" y1="830.5" x2="2035.8" y2="829.6" stroke="#004cb3" stroke-width="4.2" stroke-linecap="round"/>
<line x1="2035.8" y1="829.6" x2="2037.6" y2="828.7" stroke="#004fb0" stroke-width="4.2" stroke-linecap="round"/>
<line x1="2037.6" y1="828.7" x2="2039.4" y2="827.9" stroke="#0052ad" stroke-width="4.2" stroke-linecap="round"/>
<line x1="2039.4" y1="827.9" x2="2041.2" y2="827.2" stroke="#0055aa" stroke-width="4.2" stroke-linecap="round"/>
<line x1="2041.2" y1="827.2" x2="2043.0" y2="826.5" stroke="#0058a7" stroke-width="4.2" stroke-linecap="round"/>
<line x1="2043.0" y1="826.5" x2="2044.8" y2="825.9" stroke="#005ba4" stroke-width="4.2" stroke-linecap="round"/>
<line x1="2044.8" y1="825.9" x2="2046.6" y2="825.4" stroke="#005da2" stroke-width="4.2" stroke-linecap="round"/>
<line x1="2046.6" y1="825.4" x2="2048.4" y2="824.9" stroke="#00609f" stroke-width="4.2" stroke-linecap="round"/>
<line x1="2048.4" y1="824.9" x2="2050.3" y2="824.4" stroke="#00639c" stroke-width="4.2" stroke-linecap="round"/>
<line x1="2050.3" y1="824.4" x2="2052.1" y2="824.0" stroke="#006699" stroke-width="4.2" stroke-linecap="round"/>
<line x1="2052.1" y1="824.0" x2="2053.9" y2="823.6" stroke="#006996" stroke-width="4.2" stroke-linecap="round"/>
<line x1="2053.9" y1="823.6" x2="2055.7" y2="823.2" stroke="#006b94" stroke-width="4.2" stroke-linecap="round"/>
<line x1="2055.7" y1="823.2" x2="2057.5" y2="822.9" stroke="#006e91" stroke-width="4.2" stroke-linecap="round"/>
<line x1="2057.5" y1="822.9" x2="2059.4" y2="822.6" stroke="#00718e" stroke-width="4.2" stroke-linecap="round"/>
<line x1="2059.4" y1="822.6" x2="2061.3" y2="822.3" stroke="#00748b" stroke-width="4.2" stroke-linecap="round"/>
<line x1="2061.3" y1="822.3" x2="2063.3" y2="822.1" stroke="#007788" stroke-width="4.2" stroke-linecap="round"/>
<line x1="2063.3" y1="822.1" x2="2065.3" y2="821.8" stroke="#007a85" stroke-width="4.2" stroke-linecap="round"/>
<line x1="2065.3" y1="821.8" x2="2067.5" y2="821.6" stroke="#007b84" stroke-width="4.2" stroke-linecap="round"/>
<line x1="2067.5" y1="821.6" x2="2069.8" y2="821.4" stroke="#007d82" stroke-width="4.2" stroke-linecap="round"/>
<line x1="2069.8" y1="821.4" x2="2072.2" y2="821.3" stroke="#007e81" stroke-width="4.2" stroke-linecap="round"/>
<line x1="2072.2" y1="821.3" x2="2074.9" y2="821.1" stroke="#007f80" stroke-width="4.2" stroke-linecap="round"/>
<line x1="2074.9" y1="821.1" x2="2077.7" y2="820.9" stroke="#00817e" stroke-width="4.2" stroke-linecap="round"/>
<line x1="2077.7" y1="820.9" x2="2080.6" y2="820.7" stroke="#00827d" stroke-width="4.2" stroke-linecap="round"/>
<line x1="2080.6" y1="820.7" x2="2083.7" y2="820.6" stroke="#00847b" stroke-width="4.2" stroke-linecap="round"/>
<line x1="2083.7" y1="820.6" x2="2087.0" y2="820.4" stroke="#008679" stroke-width="4.2" stroke-linecap="round"/>
<line x1="2087.0" y1="820.4" x2="2090.3" y2="820.3" stroke="#008877" stroke-width="4.2" stroke-linecap="round"/>
<line x1="2090.3" y1="820.3" x2="2093.8" y2="820.2" stroke="#008a75" stroke-width="4.2" stroke-linecap="round"/>
<line x1="2093.8" y1="820.2" x2="2097.4" y2="820.1" stroke="#008c73" stroke-width="4.2" stroke-linecap="round"/>
<line x1="2097.4" y1="820.1" x2="2101.1" y2="820.0" stroke="#008e71" stroke-width="4.2" stroke-linecap="round"/>
<line x1="2101.1" y1="820.0" x2="2104.9" y2="819.9" stroke="#00906f" stroke-width="4.2" stroke-linecap="round"/>
<line x1="2104.9" y1="819.9" x2="2108.8" y2="819.9" stroke="#00926d" stroke-width="4.2" stroke-linecap="round"/>
<line x1="2108.8" y1="819.9" x2="2112.8" y2="819.8" stroke="#00946b" stroke-width="4.2" stroke-linecap="round"/>
<line x1="2112.8" y1="819.8" x2="2116.9" y2="819.8" stroke="#009669" stroke-width="4.2" stroke-linecap="round"/>
<line x1="2116.9" y1="819.8" x2="2121.0" y2="819.8" stroke="#009966" stroke-width="4.2" stroke-linecap="round"/>
<line x1="2121.0" y1="819.8" x2="2125.3" y2="819.9" stroke="#009b64" stroke-width="4.2" stroke-linecap="round"/>
<line x1="2125.3" y1="819.9" x2="2129.6" y2="819.9" stroke="#009d62" stroke-width="4.2" stroke-linecap="round"/>
<line x1="2129.6" y1="819.9" x2="2133.9" y2="820.0" stroke="#00a05f" stroke-width="4.2" stroke-linecap="round"/>
<line x1="2133.9" y1="820.0" x2="2138.2" y2="820.2" stroke="#00a25d" stroke-width="4.2" stroke-linecap="round"/>
<line x1="2138.2" y1="820.2" x2="2142.5" y2="820.3" stroke="#00a55a" stroke-width="4.2" stroke-linecap="round"/>
<line x1="2142.5" y1="820.3" x2="2146.8" y2="820.5" stroke="#00a758" stroke-width="4.2" stroke-linecap="round"/>
<line x1="2146.8" y1="820.5" x2="2151.0" y2="820.8" stroke="#00a956" stroke-width="4.2" stroke-linecap="round"/>
<line x1="2151.0" y1="820.8" x2="2155.1" y2="821.0" stroke="#00ac53" stroke-width="4.2" stroke-linecap="round"/>
<line x1="2155.1" y1="821.0" x2="2159.2" y2="821.4" stroke="#00ae51" stroke-width="4.2" stroke-linecap="round"/>
<line x1="2159.2" y1="821.4" x2="2163.2" y2="821.7" stroke="#00b04f" stroke-width="4.2" stroke-linecap="round"/>
<line x1="2163.2" y1="821.7" x2="2167.2" y2="822.1" stroke="#00b24d" stroke-width="4.2" stroke-linecap="round"/>
<line x1="2167.2" y1="822.1" x2="2171.2" y2="822.6" stroke="#00b54a" stroke-width="4.2" stroke-linecap="round"/>
<line x1="2171.2" y1="822.6" x2="2175.1" y2="823.0" stroke="#00b748" stroke-width="4.2" stroke-linecap="round"/>
<line x1="2175.1" y1="823.0" x2="2179.1" y2="823.5" stroke="#00b946" stroke-width="4.2" stroke-linecap="round"/>
<line x1="2179.1" y1="823.5" x2="2183.1" y2="824.0" stroke="#00bb44" stroke-width="4.2" stroke-linecap="round"/>
<line x1="2183.1" y1="824.0" x2="2187.0" y2="824.5" stroke="#00be41" stroke-width="4.2" stroke-linecap="round"/>
<line x1="2187.0" y1="824.5" x2="2191.0" y2="825.1" stroke="#00c03f" stroke-width="4.2" stroke-linecap="round"/>
<line x1="2191.0" y1="825.1" x2="2194.9" y2="825.7" stroke="#00c23d" stroke-width="4.2" stroke-linecap="round"/>
<line x1="2194.9" y1="825.7" x2="2198.8" y2="826.2" stroke="#00c43b" stroke-width="4.2" stroke-linecap="round"/>
<line x1="2198.8" y1="826.2" x2="2202.7" y2="826.8" stroke="#00c639" stroke-width="4.2" stroke-linecap="round"/>
<line x1="2202.7" y1="826.8" x2="2206.6" y2="827.5" stroke="#00c936" stroke-width="4.2" stroke-linecap="round"/>
<line x1="2206.6" y1="827.5" x2="2210.5" y2="828.1" stroke="#00cb34" stroke-width="4.2" stroke-linecap="round"/>
<line x1="2210.5" y1="828.1" x2="2214.3" y2="828.8" stroke="#00cd32" stroke-width="4.2" stroke-linecap="round"/>
<line x1="2214.3" y1="828.8" x2="2218.1" y2="829.5" stroke="#00cf30" stroke-width="4.2" stroke-linecap="round"/>
<line x1="2218.1" y1="829.5" x2="2221.9" y2="830.2" stroke="#00d12e" stroke-width="4.2" stroke-linecap="round"/>
<line x1="2221.9" y1="830.2" x2="2225.7" y2="831.0" stroke="#00d32c" stroke-width="4.2" stroke-linecap="round"/>
<line x1="2225.7" y1="831.0" x2="2229.5" y2="831.8" stroke="#00d52a" stroke-width="4.2" stroke-linecap="round"/>
<line x1="2229.5" y1="831.8" x2="2233.2" y2="832.7" stroke="#00d728" stroke-width="4.2" stroke-linecap="round"/>
<line x1="2233.2" y1="832.7" x2="2236.9" y2="833.6" stroke="#00d926" stroke-width="4.2" stroke-linecap="round"/>
<line x1="2236.9" y1="833.6" x2="2240.6" y2="834.5" stroke="#00db24" stroke-width="4.2" stroke-linecap="round"/>
<line x1="2240.6" y1="834.5" x2="2244.3" y2="835.5" stroke="#00dd22" stroke-width="4.2" stroke-linecap="round"/>
<line x1="2244.3" y1="835.5" x2="2247.9" y2="836.5" stroke="#00df20" stroke-width="4.2" stroke-linecap="round"/>
<line x1="2247.9" y1="836.5" x2="2251.5" y2="837.6" stroke="#00e11e" stroke-width="4.2" stroke-linecap="round"/>
<line x1="2251.5" y1="837.6" x2="2255.2" y2="838.7" stroke="#00e31c" stroke-width="4.2" stroke-linecap="round"/>
<line x1="2255.2" y1="838.7" x2="2258.8" y2="839.9" stroke="#00e51a" stroke-width="4.2" stroke-linecap="round"/>
<line x1="2258.8" y1="839.9" x2="2262.4" y2="841.1" stroke="#00e718" stroke-width="4.2" stroke-linecap="round"/>
<line x1="2262.4" y1="841.1" x2="2265.9" y2="842.4" stroke="#00e916" stroke-width="4.2" stroke-linecap="round"/>
<line x1="2265.9" y1="842.4" x2="2269.4" y2="843.6" stroke="#00eb14" stroke-width="4.2" stroke-linecap="round"/>
<line x1="2269.4" y1="843.6" x2="2273.0" y2="844.8" stroke="#00ed12" stroke-width="4.2" stroke-linecap="round"/>
<line x1="2273.0" y1="844.8" x2="2276.5" y2="846.1" stroke="#00ef10" stroke-width="4.2" stroke-linecap="round"/>
<line x1="2276.5" y1="846.1" x2="2280.1" y2="847.5" stroke="#00f10e" stroke-width="4.2" stroke-linecap="round"/>
<line x1="2280.1" y1="847.5" x2="2283.6" y2="848.9" stroke="#00f30c" stroke-width="4.2" stroke-linecap="round"/>
<line x1="2283.6" y1="848.9" x2="2287.1" y2="850.5" stroke="#00f50a" stroke-width="4.2" stroke-linecap="round"/>
<line x1="2287.1" y1="850.5" x2="2290.7" y2="852.1" stroke="#00f708" stroke-width="4.2" stroke-linecap="round"/>
<line x1="2290.7" y1="852.1" x2="2294.3" y2="853.8" stroke="#00f906" stroke-width="4.2" stroke-linecap="round"/>
<line x1="2294.3" y1="853.8" x2="2297.7" y2="855.4" stroke="#00fb04" stroke-width="4.2" stroke-linecap="round"/>
<line x1="2297.7" y1="855.4" x2="2300.7" y2="856.9" stroke="#00fd02" stroke-width="4.2" stroke-linecap="round"/>
<line x1="2300.7" y1="856.9" x2="2303.0" y2="858.0" stroke="#00fe01" stroke-width="4.2" stroke-linecap="round"/>
<line x1="1512.5" y1="854.9" x2="1511.9" y2="856.7" stroke="#01ff00" stroke-width="4.2" stroke-linecap="round"/>
<line x1="1511.9" y1="856.7" x2="1511.2" y2="859.2" stroke="#02ff00" stroke-width="4.2" stroke-linecap="round"/>
<line x1="1511.2" y1="859.2" x2="1510.3" y2="861.9" stroke="#04ff00" stroke-width="4.2" stroke-linecap="round"/>
<line x1="1510.3" y1="861.9" x2="1509.3" y2="864.8" stroke="#05ff00" stroke-width="4.2" stroke-linecap="round"/>
<line x1="1509.3" y1="864.8" x2="1508.3" y2="867.6" stroke="#07ff00" stroke-width="4.2" stroke-linecap="round"/>
<line x1="1508.3" y1="867.6" x2="1507.3" y2="870.4" stroke="#09ff00" stroke-width="4.2" stroke-linecap="round"/>
<line x1="1507.3" y1="870.4" x2="1506.2" y2="873.2" stroke="#0bff00" stroke-width="4.2" stroke-linecap="round"/>
<line x1="1506.2" y1="873.2" x2="1505.1" y2="876.0" stroke="#0cff00" stroke-width="4.2" stroke-linecap="round"/>
<line x1="1505.1" y1="876.0" x2="1504.1" y2="878.7" stroke="#0eff00" stroke-width="4.2" stroke-linecap="round"/>
<line x1="1504.1" y1="878.7" x2="1503.0" y2="881.4" stroke="#10ff00" stroke-width="4.2" stroke-linecap="round"/>
<line x1="1503.0" y1="881.4" x2="1502.1" y2="884.1" stroke="#12ff00" stroke-width="4.2" stroke-linecap="round"/>
<line x1="1502.1" y1="884.1" x2="1501.1" y2="886.8" stroke="#13ff00" stroke-width="4.2" stroke-linecap="round"/>
<line x1="1501.1" y1="886.8" x2="1500.1" y2="889.6" stroke="#15ff00" stroke-width="4.2" stroke-linecap="round"/>
<line x1="1500.1" y1="889.6" x2="1499.1" y2="892.3" stroke="#17ff00" stroke-width="4.2" stroke-linecap="round"/>
<line x1="1499.1" y1="892.3" x2="1498.1" y2="895.0" stroke="#19ff00" stroke-width="4.2" stroke-linecap="round"/>
<line x1="1498.1" y1="895.0" x2="1497.1" y2="897.8" stroke="#1aff00" stroke-width="4.2" stroke-linecap="round"/>
<line x1="1497.1" y1="897.8" x2="1496.1" y2="900.5" stroke="#1cff00" stroke-width="4.2" stroke-linecap="round"/>
<line x1="1496.1" y1="900.5" x2="1495.2" y2="903.1" stroke="#1eff00" stroke-width="4.2" stroke-linecap="round"/>
<line x1="1495.2" y1="903.1" x2="1494.2" y2="905.8" stroke="#20ff00" stroke-width="4.2" stroke-linecap="round"/>
<line x1="1494.2" y1="905.8" x2="1493.3" y2="908.5" stroke="#21ff00" stroke-width="4.2" stroke-linecap="round"/>
<line x1="1493.3" y1="908.5" x2="1492.4" y2="911.2" stroke="#23ff00" stroke-width="4.2" stroke-linecap="round"/>
<line x1="1492.4" y1="911.2" x2="1491.5" y2="913.9" stroke="#25ff00" stroke-width="4.2" stroke-linecap="round"/>
<line x1="1491.5" y1="913.9" x2="1490.7" y2="916.6" stroke="#26ff00" stroke-width="4.2" stroke-linecap="round"/>
<line x1="1490.7" y1="916.6" x2="1489.9" y2="919.3" stroke="#28ff00" stroke-width="4.2" stroke-linecap="round"/>
<line x1="1489.9" y1="919.3" x2="1489.1" y2="922.0" stroke="#2aff00" stroke-width="4.2" stroke-linecap="round"/>
<line x1="1489.1" y1="922.0" x2="1488.3" y2="924.7" stroke="#2bff00" stroke-width="4.2" stroke-linecap="round"/>
<line x1="1488.3" y1="924.7" x2="1487.6" y2="927.5" stroke="#2dff00" stroke-width="4.2" stroke-linecap="round"/>
<line x1="1487.6" y1="927.5" x2="1486.9" y2="930.2" stroke="#2fff00" stroke-width="4.2" stroke-linecap="round"/>
<line x1="1486.9" y1="930.2" x2="1486.2" y2="932.9" stroke="#31ff00" stroke-width="4.2" stroke-linecap="round"/>
<line x1="1486.2" y1="932.9" x2="1485.6" y2="935.7" stroke="#32ff00" stroke-width="4.2" stroke-linecap="round"/>
<line x1="1485.6" y1="935.7" x2="1484.9" y2="938.5" stroke="#34ff00" stroke-width="4.2" stroke-linecap="round"/>
<line x1="1484.9" y1="938.5" x2="1484.3" y2="941.2" stroke="#36ff00" stroke-width="4.2" stroke-linecap="round"/>
<line x1="1484.3" y1="941.2" x2="1483.7" y2="944.0" stroke="#37ff00" stroke-width="4.2" stroke-linecap="round"/>
<line x1="1483.7" y1="944.0" x2="1483.2" y2="946.7" stroke="#39ff00" stroke-width="4.2" stroke-linecap="round"/>
<line x1="1483.2" y1="946.7" x2="1482.6" y2="949.5" stroke="#3bff00" stroke-width="4.2" stroke-linecap="round"/>
<line x1="1482.6" y1="949.5" x2="1482.1" y2="952.2" stroke="#3cff00" stroke-width="4.2" stroke-linecap="round"/>
<line x1="1482.1" y1="952.2" x2="1481.6" y2="954.9" stroke="#3eff00" stroke-width="4.2" stroke-linecap="round"/>
<line x1="1481.6" y1="954.9" x2="1481.2" y2="957.6" stroke="#40ff00" stroke-width="4.2" stroke-linecap="round"/>
<line x1="1481.2" y1="957.6" x2="1480.7" y2="960.3" stroke="#41ff00" stroke-width="4.2" stroke-linecap="round"/>
<line x1="1480.7" y1="960.3" x2="1480.3" y2="963.0" stroke="#43ff00" stroke-width="4.2" stroke-linecap="round"/>
<line x1="1480.3" y1="963.0" x2="1479.9" y2="965.7" stroke="#45ff00" stroke-width="4.2" stroke-linecap="round"/>
<line x1="1479.9" y1="965.7" x2="1479.5" y2="968.5" stroke="#46ff00" stroke-width="4.2" stroke-linecap="round"/>
<line x1="1479.5" y1="968.5" x2="1479.2" y2="971.2" stroke="#47ff00" stroke-width="4.2" stroke-linecap="round"/>
<line x1="1479.2" y1="971.2" x2="1478.9" y2="973.9" stroke="#48ff00" stroke-width="4.2" stroke-linecap="round"/>
<line x1="1478.9" y1="973.9" x2="1478.5" y2="976.5" stroke="#48ff00" stroke-width="4.2" stroke-linecap="round"/>
<line x1="1478.5" y1="976.5" x2="1478.3" y2="979.2" stroke="#48ff00" stroke-width="4.2" stroke-linecap="round"/>
<line x1="1478.3" y1="979.2" x2="1478.0" y2="981.7" stroke="#49ff00" stroke-width="4.2" stroke-linecap="round"/>
<line x1="1478.0" y1="981.7" x2="1477.7" y2="984.2" stroke="#49ff00" stroke-width="4.2" stroke-linecap="round"/>
<line x1="1477.7" y1="984.2" x2="1477.5" y2="986.6" stroke="#49ff00" stroke-width="4.2" stroke-linecap="round"/>
<line x1="1477.5" y1="986.6" x2="1477.3" y2="988.9" stroke="#49ff00" stroke-width="4.2" stroke-linecap="round"/>
<line x1="1477.3" y1="988.9" x2="1477.1" y2="991.1" stroke="#4aff00" stroke-width="4.2" stroke-linecap="round"/>
<line x1="1477.1" y1="991.1" x2="1477.0" y2="993.2" stroke="#4aff00" stroke-width="4.2" stroke-linecap="round"/>
<line x1="1477.0" y1="993.2" x2="1476.8" y2="995.3" stroke="#4aff00" stroke-width="4.2" stroke-linecap="round"/>
<line x1="1476.8" y1="995.3" x2="1476.7" y2="997.3" stroke="#4aff00" stroke-width="4.2" stroke-linecap="round"/>
<line x1="1476.7" y1="997.3" x2="1476.6" y2="999.2" stroke="#4bff00" stroke-width="4.2" stroke-linecap="round"/>
<line x1="1476.6" y1="999.2" x2="1476.5" y2="1001.2" stroke="#4bff00" stroke-width="4.2" stroke-linecap="round"/>
<line x1="1476.5" y1="1001.2" x2="1476.4" y2="1003.1" stroke="#4bff00" stroke-width="4.2" stroke-linecap="round"/>
<line x1="1476.4" y1="1003.1" x2="1476.3" y2="1005.1" stroke="#4bff00" stroke-width="4.2" stroke-linecap="round"/>
<line x1="1476.3" y1="1005.1" x2="1476.3" y2="1007.0" stroke="#4bff00" stroke-width="4.2" stroke-linecap="round"/>
<line x1="1476.3" y1="1007.0" x2="1476.3" y2="1008.9" stroke="#4cff00" stroke-width="4.2" stroke-linecap="round"/>
<line x1="1476.3" y1="1008.9" x2="1476.2" y2="1010.8" stroke="#4cff00" stroke-width="4.2" stroke-linecap="round"/>
<line x1="1476.2" y1="1010.8" x2="1476.2" y2="1012.7" stroke="#4cff00" stroke-width="4.2" stroke-linecap="round"/>
<line x1="1476.2" y1="1012.7" x2="1476.3" y2="1014.6" stroke="#4cff00" stroke-width="4.2" stroke-linecap="round"/>
<line x1="1476.3" y1="1014.6" x2="1476.3" y2="1016.4" stroke="#4cff00" stroke-width="4.2" stroke-linecap="round"/>
<line x1="1476.3" y1="1016.4" x2="1476.3" y2="1018.2" stroke="#4dff00" stroke-width="4.2" stroke-linecap="round"/>
<line x1="1476.3" y1="1018.2" x2="1476.4" y2="1019.9" stroke="#4dff00" stroke-width="4.2" stroke-linecap="round"/>
<line x1="1476.4" y1="1019.9" x2="1476.5" y2="1021.7" stroke="#4dff00" stroke-width="4.2" stroke-linecap="round"/>
<line x1="1476.5" y1="1021.7" x2="1476.6" y2="1023.5" stroke="#4dff00" stroke-width="4.2" stroke-linecap="round"/>
<line x1="1476.6" y1="1023.5" x2="1476.7" y2="1025.3" stroke="#4dff00" stroke-width="4.2" stroke-linecap="round"/>
<line x1="1476.7" y1="1025.3" x2="1476.9" y2="1027.2" stroke="#4eff00" stroke-width="4.2" stroke-linecap="round"/>
<line x1="1476.9" y1="1027.2" x2="1477.0" y2="1029.2" stroke="#4eff00" stroke-width="4.2" stroke-linecap="round"/>
<line x1="1477.0" y1="1029.2" x2="1477.2" y2="1031.3" stroke="#4eff00" stroke-width="4.2" stroke-linecap="round"/>
<line x1="1477.2" y1="1031.3" x2="1477.4" y2="1033.5" stroke="#4eff00" stroke-width="4.2" stroke-linecap="round"/>
<line x1="1477.4" y1="1033.5" x2="1477.7" y2="1035.8" stroke="#4eff00" stroke-width="4.2" stroke-linecap="round"/>
<line x1="1477.7" y1="1035.8" x2="1477.9" y2="1038.1" stroke="#4fff00" stroke-width="4.2" stroke-linecap="round"/>
<line x1="1477.9" y1="1038.1" x2="1478.2" y2="1040.5" stroke="#4fff00" stroke-width="4.2" stroke-linecap="round"/>
<line x1="1478.2" y1="1040.5" x2="1478.6" y2="1043.0" stroke="#4fff00" stroke-width="4.2" stroke-linecap="round"/>
<line x1="1478.6" y1="1043.0" x2="1478.9" y2="1045.5" stroke="#4fff00" stroke-width="4.2" stroke-linecap="round"/>
<line x1="1478.9" y1="1045.5" x2="1479.3" y2="1048.0" stroke="#50ff00" stroke-width="4.2" stroke-linecap="round"/>
<line x1="1479.3" y1="1048.0" x2="1479.8" y2="1050.5" stroke="#50ff00" stroke-width="4.2" stroke-linecap="round"/>
<line x1="1479.8" y1="1050.5" x2="1480.2" y2="1053.0" stroke="#50ff00" stroke-width="4.2" stroke-linecap="round"/>
<line x1="1480.2" y1="1053.0" x2="1480.7" y2="1055.5" stroke="#51ff00" stroke-width="4.2" stroke-linecap="round"/>
<line x1="1480.7" y1="1055.5" x2="1481.2" y2="1058.0" stroke="#51ff00" stroke-width="4.2" stroke-linecap="round"/>
<line x1="1481.2" y1="1058.0" x2="1481.8" y2="1060.6" stroke="#51ff00" stroke-width="4.2" stroke-linecap="round"/>
<line x1="1481.8" y1="1060.6" x2="1482.4" y2="1063.2" stroke="#51ff00" stroke-width="4.2" stroke-linecap="round"/>
<line x1="1482.4" y1="1063.2" x2="1483.0" y2="1065.8" stroke="#51ff00" stroke-width="4.2" stroke-linecap="round"/>
<line x1="1483.0" y1="1065.8" x2="1483.7" y2="1068.5" stroke="#4eff00" stroke-width="4.2" stroke-linecap="round"/>
<line x1="1483.7" y1="1068.5" x2="1484.4" y2="1071.2" stroke="#4aff00" stroke-width="4.2" stroke-linecap="round"/>
<line x1="1484.4" y1="1071.2" x2="1485.2" y2="1073.9" stroke="#47ff00" stroke-width="4.2" stroke-linecap="round"/>
<line x1="1485.2" y1="1073.9" x2="1486.0" y2="1076.7" stroke="#44ff00" stroke-width="4.2" stroke-linecap="round"/>
<line x1="1486.0" y1="1076.7" x2="1486.8" y2="1079.5" stroke="#41ff00" stroke-width="4.2" stroke-linecap="round"/>
<line x1="1486.8" y1="1079.5" x2="1487.7" y2="1082.4" stroke="#3dff00" stroke-width="4.2" stroke-linecap="round"/>
<line x1="1487.7" y1="1082.4" x2="1488.6" y2="1085.2" stroke="#3aff00" stroke-width="4.2" stroke-linecap="round"/>
<line x1="1488.6" y1="1085.2" x2="1489.5" y2="1088.1" stroke="#36ff00" stroke-width="4.2" stroke-linecap="round"/>
<line x1="1489.5" y1="1088.1" x2="1490.5" y2="1090.9" stroke="#33ff00" stroke-width="4.2" stroke-linecap="round"/>
<line x1="1490.5" y1="1090.9" x2="1491.5" y2="1093.7" stroke="#30ff00" stroke-width="4.2" stroke-linecap="round"/>
<line x1="1491.5" y1="1093.7" x2="1492.6" y2="1096.5" stroke="#2cff00" stroke-width="4.2" stroke-linecap="round"/>
<line x1="1492.6" y1="1096.5" x2="1493.7" y2="1099.2" stroke="#29ff00" stroke-width="4.2" stroke-linecap="round"/>
<line x1="1493.7" y1="1099.2" x2="1494.8" y2="1102.0" stroke="#25ff00" stroke-width="4.2" stroke-linecap="round"/>
<line x1="1494.8" y1="1102.0" x2="1496.0" y2="1104.7" stroke="#22ff00" stroke-width="4.2" stroke-linecap="round"/>
<line x1="1496.0" y1="1104.7" x2="1497.2" y2="1107.5" stroke="#1fff00" stroke-width="4.2" stroke-linecap="round"/>
<line x1="1497.2" y1="1107.5" x2="1498.4" y2="1110.2" stroke="#1bff00" stroke-width="4.2" stroke-linecap="round"/>
<line x1="1498.4" y1="1110.2" x2="1499.7" y2="1113.0" stroke="#18ff00" stroke-width="4.2" stroke-linecap="round"/>
<line x1="1499.7" y1="1113.0" x2="1501.1" y2="1115.8" stroke="#14ff00" stroke-width="4.2" stroke-linecap="round"/>
<line x1="1501.1" y1="1115.8" x2="1502.5" y2="1118.7" stroke="#11ff00" stroke-width="4.2" stroke-linecap="round"/>
<line x1="1502.5" y1="1118.7" x2="1504.0" y2="1121.5" stroke="#0dff00" stroke-width="4.2" stroke-linecap="round"/>
<line x1="1504.0" y1="1121.5" x2="1505.5" y2="1124.4" stroke="#09ff00" stroke-width="4.2" stroke-linecap="round"/>
<line x1="1505.5" y1="1124.4" x2="1507.1" y2="1127.3" stroke="#06ff00" stroke-width="4.2" stroke-linecap="round"/>
<line x1="1507.1" y1="1127.3" x2="1508.8" y2="1130.2" stroke="#02ff00" stroke-width="4.2" stroke-linecap="round"/>
<line x1="1508.8" y1="1130.2" x2="1510.5" y2="1133.1" stroke="#00fc03" stroke-width="4.2" stroke-linecap="round"/>
<line x1="1510.5" y1="1133.1" x2="1512.2" y2="1136.0" stroke="#00f609" stroke-width="4.2" stroke-linecap="round"/>
<line x1="1512.2" y1="1136.0" x2="1514.1" y2="1138.9" stroke="#00f00f" stroke-width="4.2" stroke-linecap="round"/>
<line x1="1514.1" y1="1138.9" x2="1515.9" y2="1141.7" stroke="#00ea15" stroke-width="4.2" stroke-linecap="round"/>
<line x1="1515.9" y1="1141.7" x2="1517.9" y2="1144.6" stroke="#00e31c" stroke-width="4.2" stroke-linecap="round"/>
<line x1="1517.9" y1="1144.6" x2="1519.9" y2="1147.4" stroke="#00dd22" stroke-width="4.2" stroke-linecap="round"/>
<line x1="1519.9" y1="1147.4" x2="1521.9" y2="1150.2" stroke="#00d728" stroke-width="4.2" stroke-linecap="round"/>
<line x1="1521.9" y1="1150.2" x2="1524.0" y2="1153.0" stroke="#00d12e" stroke-width="4.2" stroke-linecap="round"/>
<line x1="1524.0" y1="1153.0" x2="1526.2" y2="1155.8" stroke="#00cb34" stroke-width="4.2" stroke-linecap="round"/>
<line x1="1526.2" y1="1155.8" x2="1528.5" y2="1158.6" stroke="#00c43b" stroke-width="4.2" stroke-linecap="round"/>
<line x1="1528.5" y1="1158.6" x2="1530.9" y2="1161.5" stroke="#00be41" stroke-width="4.2" stroke-linecap="round"/>
<line x1="1530.9" y1="1161.5" x2="1533.4" y2="1164.3" stroke="#00b748" stroke-width="4.2" stroke-linecap="round"/>
<line x1="1533.4" y1="1164.3" x2="1536.0" y2="1167.1" stroke="#00b04f" stroke-width="4.2" stroke-linecap="round"/>
<line x1="1536.0" y1="1167.1" x2="1538.6" y2="1169.9" stroke="#00a956" stroke-width="4.2" stroke-linecap="round"/>
<line x1="1538.6" y1="1169.9" x2="1541.4" y2="1172.7" stroke="#00a25d" stroke-width="4.2" stroke-linecap="round"/>
<line x1="1541.4" y1="1172.7" x2="1544.2" y2="1175.5" stroke="#009b64" stroke-width="4.2" stroke-linecap="round"/>
<line x1="1544.2" y1="1175.5" x2="1547.1" y2="1178.2" stroke="#00956a" stroke-width="4.2" stroke-linecap="round"/>
<line x1="1547.1" y1="1178.2" x2="1550.1" y2="1180.8" stroke="#008e71" stroke-width="4.2" stroke-linecap="round"/>
<line x1="1550.1" y1="1180.8" x2="1553.1" y2="1183.4" stroke="#008877" stroke-width="4.2" stroke-linecap="round"/>
<line x1="1553.1" y1="1183.4" x2="1556.1" y2="1186.0" stroke="#00817e" stroke-width="4.2" stroke-linecap="round"/>
<line x1="1556.1" y1="1186.0" x2="1559.2" y2="1188.4" stroke="#007b84" stroke-width="4.2" stroke-linecap="round"/>
<line x1="1559.2" y1="1188.4" x2="1562.3" y2="1190.8" stroke="#00748b" stroke-width="4.2" stroke-linecap="round"/>
<line x1="1562.3" y1="1190.8" x2="1565.5" y2="1193.1" stroke="#006e91" stroke-width="4.2" stroke-linecap="round"/>
<line x1="1565.5" y1="1193.1" x2="1568.7" y2="1195.4" stroke="#006798" stroke-width="4.2" stroke-linecap="round"/>
<line x1="1568.7" y1="1195.4" x2="1571.9" y2="1197.6" stroke="#00619e" stroke-width="4.2" stroke-linecap="round"/>
<line x1="1571.9" y1="1197.6" x2="1575.2" y2="1199.7" stroke="#005aa5" stroke-width="4.2" stroke-linecap="round"/>
<line x1="1575.2" y1="1199.7" x2="1578.5" y2="1201.8" stroke="#0054ab" stroke-width="4.2" stroke-linecap="round"/>
<line x1="1578.5" y1="1201.8" x2="1581.8" y2="1203.8" stroke="#004eb1" stroke-width="4.2" stroke-linecap="round"/>
<line x1="1581.8" y1="1203.8" x2="1585.1" y2="1205.8" stroke="#0047b8" stroke-width="4.2" stroke-linecap="round"/>
<line x1="1585.1" y1="1205.8" x2="1588.5" y2="1207.7" stroke="#0041be" stroke-width="4.2" stroke-linecap="round"/>
<line x1="1588.5" y1="1207.7" x2="1591.8" y2="1209.5" stroke="#003ac5" stroke-width="4.2" stroke-linecap="round"/>
<line x1="1591.8" y1="1209.5" x2="1595.2" y2="1211.3" stroke="#0034cb" stroke-width="4.2" stroke-linecap="round"/>
<line x1="1595.2" y1="1211.3" x2="1598.4" y2="1212.9" stroke="#0032cd" stroke-width="4.2" stroke-linecap="round"/>
<line x1="1598.4" y1="1212.9" x2="1601.6" y2="1214.5" stroke="#0030cf" stroke-width="4.2" stroke-linecap="round"/>
<line x1="1601.6" y1="1214.5" x2="1604.8" y2="1216.0" stroke="#002fd0" stroke-width="4.2" stroke-linecap="round"/>
<line x1="1604.8" y1="1216.0" x2="1607.9" y2="1217.4" stroke="#002dd2" stroke-width="4.2" stroke-linecap="round"/>
<line x1="1607.9" y1="1217.4" x2="1610.9" y2="1218.7" stroke="#002cd3" stroke-width="4.2" stroke-linecap="round"/>
<line x1="1610.9" y1="1218.7" x2="1613.8" y2="1219.9" stroke="#002ad5" stroke-width="4.2" stroke-linecap="round"/>
<line x1="1613.8" y1="1219.9" x2="1616.6" y2="1221.0" stroke="#0029d6" stroke-width="4.2" stroke-linecap="round"/>
<line x1="1616.6" y1="1221.0" x2="1619.4" y2="1222.1" stroke="#0028d7" stroke-width="4.2" stroke-linecap="round"/>
<line x1="1619.4" y1="1222.1" x2="1622.1" y2="1223.1" stroke="#0027d8" stroke-width="4.2" stroke-linecap="round"/>
<line x1="1622.1" y1="1223.1" x2="1624.8" y2="1224.1" stroke="#0025da" stroke-width="4.2" stroke-linecap="round"/>
<line x1="1624.8" y1="1224.1" x2="1627.4" y2="1225.0" stroke="#0024db" stroke-width="4.2" stroke-linecap="round"/>
<line x1="1627.4" y1="1225.0" x2="1630.0" y2="1225.9" stroke="#0023dc" stroke-width="4.2" stroke-linecap="round"/>
<line x1="1630.0" y1="1225.9" x2="1632.5" y2="1226.8" stroke="#0022dd" stroke-width="4.2" stroke-linecap="round"/>
<line x1="1632.5" y1="1226.8" x2="1635.0" y2="1227.6" stroke="#0021de" stroke-width="4.2" stroke-linecap="round"/>
<line x1="1635.0" y1="1227.6" x2="1637.4" y2="1228.3" stroke="#0020df" stroke-width="4.2" stroke-linecap="round"/>
<line x1="1637.4" y1="1228.3" x2="1639.7" y2="1229.0" stroke="#001ee1" stroke-width="4.2" stroke-linecap="round"/>
<line x1="1639.7" y1="1229.0" x2="1641.9" y2="1229.6" stroke="#001de2" stroke-width="4.2" stroke-linecap="round"/>
<line x1="1641.9" y1="1229.6" x2="1644.3" y2="1230.4" stroke="#001ce3" stroke-width="4.2" stroke-linecap="round"/>
<line x1="1644.3" y1="1230.4" x2="1646.5" y2="1231.0" stroke="#001be4" stroke-width="4.2" stroke-linecap="round"/>
<line x1="1646.5" y1="1231.0" x2="1648.5" y2="1231.5" stroke="#001ae5" stroke-width="4.2" stroke-linecap="round"/>
<line x1="1648.5" y1="1231.5" x2="1650.5" y2="1232.0" stroke="#001ae5" stroke-width="4.2" stroke-linecap="round"/>
<line x1="1650.5" y1="1232.0" x2="1652.5" y2="1232.5" stroke="#0019e6" stroke-width="4.2" stroke-linecap="round"/>
<line x1="1652.5" y1="1232.5" x2="1654.5" y2="1233.0" stroke="#0018e7" stroke-width="4.2" stroke-linecap="round"/>
<line x1="1654.5" y1="1233.0" x2="1656.5" y2="1233.4" stroke="#0017e8" stroke-width="4.2" stroke-linecap="round"/>
<line x1="1656.5" y1="1233.4" x2="1658.5" y2="1233.8" stroke="#0016e9" stroke-width="4.2" stroke-linecap="round"/>
<line x1="1658.5" y1="1233.8" x2="1660.1" y2="1234.1" stroke="#0015ea" stroke-width="4.2" stroke-linecap="round"/>
<line x1="1660.1" y1="1234.1" x2="1661.4" y2="1234.4" stroke="#0015ea" stroke-width="4.2" stroke-linecap="round"/>
</g>
<path d="M1635.9,1201.7 L1652.5,1218.3 M1635.9,1218.3 L1652.5,1201.7" stroke="#000" stroke-width="2" fill="none"/>
<path d="M1776.3,1234.2 L1792.9,1250.8 M1776.3,1250.8 L1792.9,1234.2" stroke="#000" stroke-width="2" fill="none"/>
<path d="M1912.4,1207.9 L1929.0,1224.5 M1912.4,1224.5 L1929.0,1207.9" stroke="#000" stroke-width="2" fill="none"/>
<path d="M1947.5,1159.1 L1964.1,1175.7 M1947.5,1175.7 L1964.1,1159.1" stroke="#000" stroke-width="2" fill="none"/>
<path d="M1961.9,1108.1 L1978.5,1124.7 M1961.9,1124.7 L1978.5,1108.1" stroke="#000" stroke-width="2" fill="none"/>
<path d="M1970.8,1052.3 L1987.4,1068.9 M1970.8,1068.9 L1987.4,1052.3" stroke="#000" stroke-width="2" fill="none"/>
<path d="M1976.2,1002.9 L1992.8,1019.5 M1976.2,1019.5 L1992.8,1002.9" stroke="#000" stroke-width="2" fill="none"/>
<path d="M1980.0,950.3 L1996.6,966.9 M1980.0,966.9 L1996.6,950.3" stroke="#000" stroke-width="2" fill="none"/>
<path d="M1984.2,899.9 L2000.8,916.5 M1984.2,916.5 L2000.8,899.9" stroke="#000" stroke-width="2" fill="none"/>
<path d="M1996.9,853.0 L2013.5,869.6 M1996.9,869.6 L2013.5,853.0" stroke="#000" stroke-width="2" fill="none"/>
<path d="M2057.5,813.2 L2074.1,829.8 M2057.5,829.8 L2074.1,813.2" stroke="#000" stroke-width="2" fill="none"/>
<path d="M2239.9,826.9 L2256.5,843.5 M2239.9,843.5 L2256.5,826.9" stroke="#000" stroke-width="2" fill="none"/>
<path d="M1497.1,868.4 L1513.7,885.0 M1497.1,885.0 L1513.7,868.4" stroke="#000" stroke-width="2" fill="none"/>
<path d="M1481.7,910.0 L1498.3,926.6 M1481.7,926.6 L1498.3,910.0" stroke="#000" stroke-width="2" fill="none"/>
<path d="M1472.1,955.0 L1488.7,971.6 M1472.1,971.6 L1488.7,955.0" stroke="#000" stroke-width="2" fill="none"/>
<path d="M1468.0,996.7 L1484.6,1013.3 M1468.0,1013.3 L1484.6,996.7" stroke="#000" stroke-width="2" fill="none"/>
<path d="M1470.9,1040.5 L1487.5,1057.1 M1470.9,1057.1 L1487.5,1040.5" stroke="#000" stroke-width="2" fill="none"/>
<path d="M1483.4,1084.2 L1500.0,1100.8 M1483.4,1100.8 L1500.0,1084.2" stroke="#000" stroke-width="2" fill="none"/>
<path d="M1504.2,1130.0 L1520.8,1146.6 M1504.2,1146.6 L1520.8,1130.0" stroke="#000" stroke-width="2" fill="none"/>
<path d="M1543.0,1174.6 L1559.6,1191.2 M1543.0,1191.2 L1559.6,1174.6" stroke="#000" stroke-width="2" fill="none"/>
<path d="M1621.3,1218.4 L1637.9,1235.0 M1621.3,1235.0 L1637.9,1218.4" stroke="#000" stroke-width="2" fill="none"/>
<circle cx="1644.2" cy="1210.0" r="5.4" fill="#000"/>
<circle cx="1979.1" cy="1060.0" r="5.4" fill="#000"/>
<circle cx="2084.3" cy="820.5" r="5.4" fill="#000"/>
<circle cx="1475.8" cy="1013.3" r="5.4" fill="#000"/>
<circle cx="1661.4" cy="1234.4" r="5.4" fill="#000"/>
<text transform="translate(1655.50,1203.50)" x="0.00" y="0" font-size="29.44" textLength="170.88" lengthAdjust="spacingAndGlyphs" fill="#000" >20:19:02 UT</text>
<text transform="translate(1672.50,1256.00)" x="0.00" y="0" font-size="29.44" textLength="170.88" lengthAdjust="spacingAndGlyphs" fill="#000" >22:00:09 UT</text>
<path d="M1669.2,794.2 L2142.0,794.2 A236.4,236.4 0 0 1 2142.0,1267.2 L1669.2,1267.2 A236.4,236.4 0 0 1 1669.2,794.2 Z" fill="none" stroke="#000" stroke-width="2.8"/>
<line x1="1454.00" y1="1314.50" x2="1462.60" y2="1323.10" stroke="#000" stroke-width="2.6" stroke-linecap="butt" />
<line x1="1454.00" y1="1323.10" x2="1462.60" y2="1314.50" stroke="#000" stroke-width="2.6" stroke-linecap="butt" />
<text transform="translate(1498.00,1325.80)" x="0.00" y="0" font-size="23.56" textLength="166.47" lengthAdjust="spacingAndGlyphs" fill="#000" >5 min intervals</text>
<circle cx="1458.3" cy="1353.8" r="6.9" fill="#000"/>
<text transform="translate(1498.00,1360.00)" x="0.00" y="0" font-size="23.56" textLength="149.47" lengthAdjust="spacingAndGlyphs" fill="#000" >Axis intervals</text>
<text transform="translate(1452.00,1403.80)" x="0.00" y="0" font-size="23.56" textLength="230.11" lengthAdjust="spacingAndGlyphs" fill="#000" >Operating mode: AM</text>
<rect x="1744.60" y="1307.50" width="550.00" height="27.50" fill="url(#cbh)" stroke="none" stroke-width="0" />
<rect x="1744.60" y="1307.50" width="550.00" height="27.50" fill="none" stroke="#000" stroke-width="2.2222222222222223" />
<line x1="1790.43" y1="1335.00" x2="1790.43" y2="1344.72" stroke="#000" stroke-width="2.2222222222222223" stroke-linecap="butt" />
<text transform="translate(1790.43,1371.70)" x="-21.21" y="0" font-size="23.56" textLength="42.42" lengthAdjust="spacingAndGlyphs" fill="#000" >400</text>
<line x1="1882.10" y1="1335.00" x2="1882.10" y2="1344.72" stroke="#000" stroke-width="2.2222222222222223" stroke-linecap="butt" />
<text transform="translate(1882.10,1371.70)" x="-21.21" y="0" font-size="23.56" textLength="42.42" lengthAdjust="spacingAndGlyphs" fill="#000" >600</text>
<line x1="1973.77" y1="1335.00" x2="1973.77" y2="1344.72" stroke="#000" stroke-width="2.2222222222222223" stroke-linecap="butt" />
<text transform="translate(1973.77,1371.70)" x="-21.21" y="0" font-size="23.56" textLength="42.42" lengthAdjust="spacingAndGlyphs" fill="#000" >800</text>
<line x1="2065.43" y1="1335.00" x2="2065.43" y2="1344.72" stroke="#000" stroke-width="2.2222222222222223" stroke-linecap="butt" />
<text transform="translate(2065.43,1371.70)" x="-28.28" y="0" font-size="23.56" textLength="56.56" lengthAdjust="spacingAndGlyphs" fill="#000" >1000</text>
<line x1="2157.10" y1="1335.00" x2="2157.10" y2="1344.72" stroke="#000" stroke-width="2.2222222222222223" stroke-linecap="butt" />
<text transform="translate(2157.10,1371.70)" x="-28.28" y="0" font-size="23.56" textLength="56.56" lengthAdjust="spacingAndGlyphs" fill="#000" >1200</text>
<line x1="2248.77" y1="1335.00" x2="2248.77" y2="1344.72" stroke="#000" stroke-width="2.2222222222222223" stroke-linecap="butt" />
<text transform="translate(2248.77,1371.70)" x="-28.28" y="0" font-size="23.56" textLength="56.56" lengthAdjust="spacingAndGlyphs" fill="#000" >1400</text>
<text transform="translate(2019.60,1407.00)" x="-72.88" y="0" font-size="23.56" textLength="145.75" lengthAdjust="spacingAndGlyphs" fill="#000" >Altitude (km)</text>
<text transform="translate(1609.20,1450.80)" x="-22.46" y="0" font-size="23.56" textLength="44.92" lengthAdjust="spacingAndGlyphs" fill="#000" >VSA</text>
<text transform="translate(1738.80,1450.80)" x="-21.68" y="0" font-size="23.56" textLength="43.35" lengthAdjust="spacingAndGlyphs" fill="#000" >VES</text>
<text transform="translate(1869.20,1450.80)" x="-25.47" y="0" font-size="23.56" textLength="50.93" lengthAdjust="spacingAndGlyphs" fill="#000" >VD+</text>
<text transform="translate(2000.40,1450.80)" x="-20.16" y="0" font-size="23.56" textLength="40.33" lengthAdjust="spacingAndGlyphs" fill="#000" >VD-</text>
<text transform="translate(2131.30,1450.80)" x="-38.04" y="0" font-size="23.56" textLength="76.07" lengthAdjust="spacingAndGlyphs" fill="#000" >VMCPF</text>
<text transform="translate(2262.00,1450.80)" x="-39.27" y="0" font-size="23.56" textLength="78.54" lengthAdjust="spacingAndGlyphs" fill="#000" >VCMPB</text>
<text transform="translate(1451.20,1480.80)" x="0.00" y="0" font-size="23.56" textLength="79.03" lengthAdjust="spacingAndGlyphs" fill="#000" >Min (V)</text>
<text transform="translate(1609.20,1480.80)" x="-7.07" y="0" font-size="23.56" textLength="14.14" lengthAdjust="spacingAndGlyphs" fill="#000" >0</text>
<text transform="translate(1738.80,1480.80)" x="-28.75" y="0" font-size="23.56" textLength="57.50" lengthAdjust="spacingAndGlyphs" fill="#000" >-1.42</text>
<text transform="translate(1869.20,1480.80)" x="-28.75" y="0" font-size="23.56" textLength="57.50" lengthAdjust="spacingAndGlyphs" fill="#000" >-0.15</text>
<text transform="translate(2000.40,1480.80)" x="-28.75" y="0" font-size="23.56" textLength="57.50" lengthAdjust="spacingAndGlyphs" fill="#000" >-0.11</text>
<text transform="translate(2131.30,1480.80)" x="-11.08" y="0" font-size="23.56" textLength="22.16" lengthAdjust="spacingAndGlyphs" fill="#000" >-3</text>
<text transform="translate(2262.00,1480.80)" x="-7.07" y="0" font-size="23.56" textLength="14.14" lengthAdjust="spacingAndGlyphs" fill="#000" >0</text>
<text transform="translate(1451.20,1510.00)" x="0.00" y="0" font-size="23.56" textLength="85.55" lengthAdjust="spacingAndGlyphs" fill="#000" >Max (V)</text>
<text transform="translate(1609.20,1510.00)" x="-7.07" y="0" font-size="23.56" textLength="14.14" lengthAdjust="spacingAndGlyphs" fill="#000" >0</text>
<text transform="translate(1738.80,1510.00)" x="-28.75" y="0" font-size="23.56" textLength="57.50" lengthAdjust="spacingAndGlyphs" fill="#000" >-1.17</text>
<text transform="translate(1869.20,1510.00)" x="-24.74" y="0" font-size="23.56" textLength="49.48" lengthAdjust="spacingAndGlyphs" fill="#000" >0.49</text>
<text transform="translate(2000.40,1510.00)" x="-24.74" y="0" font-size="23.56" textLength="49.48" lengthAdjust="spacingAndGlyphs" fill="#000" >0.49</text>
<text transform="translate(2131.30,1510.00)" x="-11.08" y="0" font-size="23.56" textLength="22.16" lengthAdjust="spacingAndGlyphs" fill="#000" >-1</text>
<text transform="translate(2262.00,1510.00)" x="-7.07" y="0" font-size="23.56" textLength="14.14" lengthAdjust="spacingAndGlyphs" fill="#000" >0</text>
<text transform="translate(1451.20,1539.20)" x="0.00" y="0" font-size="23.56" textLength="80.33" lengthAdjust="spacingAndGlyphs" fill="#000" >Ave (V)</text>
<text transform="translate(1609.20,1539.20)" x="-7.07" y="0" font-size="23.56" textLength="14.14" lengthAdjust="spacingAndGlyphs" fill="#000" >0</text>
<text transform="translate(1738.80,1539.20)" x="-28.75" y="0" font-size="23.56" textLength="57.50" lengthAdjust="spacingAndGlyphs" fill="#000" >-1.37</text>
<text transform="translate(1869.20,1539.20)" x="-28.75" y="0" font-size="23.56" textLength="57.50" lengthAdjust="spacingAndGlyphs" fill="#000" >-0.03</text>
<text transform="translate(2000.40,1539.20)" x="-24.74" y="0" font-size="23.56" textLength="49.48" lengthAdjust="spacingAndGlyphs" fill="#000" >0.01</text>
<text transform="translate(2131.30,1539.20)" x="-11.08" y="0" font-size="23.56" textLength="22.16" lengthAdjust="spacingAndGlyphs" fill="#000" >-2</text>
<text transform="translate(2262.00,1539.20)" x="-7.07" y="0" font-size="23.56" textLength="14.14" lengthAdjust="spacingAndGlyphs" fill="#000" >0</text>
<text transform="translate(1448.50,1579.00)" x="0.00" y="0" font-size="29.44" textLength="508.78" lengthAdjust="spacingAndGlyphs" fill="#000" >Produced by irm_summary version 5</text>
<g>
<polygon points="224.3,0.5 307,0.5 348.6,72.4 307,144.4 224.3,144.4 182.7,72.4" fill="#fdfefe" stroke="#cfe6ec" stroke-width="1.2"/>
<clipPath id="hexclip"><polygon points="228.4,9 302.9,9 339,72.4 306,131 226.3,130.6 192,72.4"/></clipPath>
<defs><linearGradient id="earthg" x1="0" y1="0" x2="0.25" y2="1"><stop offset="0" stop-color="#dff0fb"/><stop offset="0.25" stop-color="#8fc3ee"/><stop offset="0.6" stop-color="#4f93dd"/><stop offset="1" stop-color="#2e6fc7"/></linearGradient>
<filter id="lb1" x="-20%" y="-20%" width="140%" height="140%"><feGaussianBlur stdDeviation="1.6"/></filter><filter id="lb3" x="-20%" y="-20%" width="140%" height="140%"><feGaussianBlur stdDeviation="3"/></filter></defs>
<g clip-path="url(#hexclip)">
<rect x="185" y="5" width="160" height="130" fill="#050608"/>
<circle cx="232.2" cy="27.5" r="1.6" fill="#b9b4f0"/>
<circle cx="202" cy="66.5" r="1.3" fill="#b9b4f0"/>
<circle cx="276" cy="18" r="0.7" fill="#b9b4f0"/>
<circle cx="290" cy="25" r="0.6" fill="#b9b4f0"/>
<circle cx="305" cy="46" r="0.6" fill="#b9b4f0"/>
<circle cx="250" cy="20" r="0.5" fill="#b9b4f0"/>
<circle cx="215" cy="45" r="0.5" fill="#b9b4f0"/>
<circle cx="320" cy="60" r="0.6" fill="#b9b4f0"/>
<circle cx="262" cy="12" r="0.5" fill="#b9b4f0"/>
<circle cx="296" cy="14" r="0.6" fill="#b9b4f0"/>
<path d="M190,100 Q250,74 345,62 L345,72 Q250,86 190,112 Z" fill="#1f9a5a" filter="url(#lb3)"/>
<path d="M190,96 Q250,72 345,61" fill="none" stroke="#3fcf86" stroke-width="3" opacity="0.8" filter="url(#lb1)"/>
<path d="M195,103 Q250,80 345,67" fill="none" stroke="#0a1a30" stroke-width="3.5" opacity="0.9" filter="url(#lb1)"/>
<path d="M185,112 Q250,82 345,70 L345,140 L185,140 Z" fill="url(#earthg)"/>
<path d="M192,108 Q250,84 345,73" fill="none" stroke="#f4faff" stroke-width="4" opacity="0.95" filter="url(#lb1)"/>
<ellipse cx="245" cy="105" rx="28" ry="5" fill="#fff" opacity="0.75" transform="rotate(-16 245 105)" filter="url(#lb1)"/>
<ellipse cx="275" cy="96" rx="30" ry="4" fill="#fff" opacity="0.7" transform="rotate(-16 275 96)" filter="url(#lb1)"/>
<ellipse cx="300" cy="110" rx="22" ry="6" fill="#fff" opacity="0.65" transform="rotate(-16 300 110)" filter="url(#lb1)"/>
<ellipse cx="235" cy="120" rx="20" ry="4" fill="#fff" opacity="0.55" transform="rotate(-16 235 120)" filter="url(#lb1)"/>
<ellipse cx="315" cy="88" rx="18" ry="4" fill="#fff" opacity="0.6" transform="rotate(-16 315 88)" filter="url(#lb1)"/>
<ellipse cx="262" cy="114" rx="14" ry="3" fill="#fff" opacity="0.6" transform="rotate(-16 262 114)" filter="url(#lb1)"/>
<ellipse cx="290" cy="122" rx="12" ry="4" fill="#fff" opacity="0.5" transform="rotate(-16 290 122)" filter="url(#lb1)"/>
<path d="M296,124 Q315,112 320,106 L312,131 L296,131 Z" fill="#2a62bd" opacity="0.9"/>
<path d="M262,135 Q272,112 290,118 Q300,122 308,133 L308,140 L262,140 Z" fill="#fdfefe"/>
<line x1="277" y1="63" x2="307" y2="106" stroke="#fff" stroke-width="1.5" opacity="0.9"/>
<g stroke="#7a6a58" stroke-width="0.7"><line x1="252" y1="38" x2="242" y2="14"/><line x1="262" y1="38" x2="279" y2="28.5"/><line x1="241" y1="50" x2="220" y2="60"/></g>
<g stroke="#d99a3a" stroke-width="1.3"><line x1="238" y1="62" x2="221" y2="61"/><line x1="255" y1="72" x2="244" y2="89"/></g>
<ellipse cx="222.5" cy="61.2" rx="2.6" ry="1.2" fill="#f0b048"/><circle cx="244" cy="89" r="1.2" fill="#e0a040"/>
<polygon points="267,53 282.5,55 272,71 256,71.5" fill="#c9a85e"/>
<polygon points="269,57 279,57.5 272,67 263,66" fill="#e8e2c8"/>
<polygon points="247.5,34.5 280.5,48 282.5,55 267,53 243.5,40.5" fill="#2a6cc6"/>
<polygon points="243.5,40.5 267,53 256,71.5 238.5,61.5" fill="#3f8ada"/>
<polygon points="247.5,34.5 243.5,40.5 238.5,61.5 241,50" fill="#d89a3c"/>
<circle cx="266.1" cy="116.3" r="7" fill="#1f62b8"/><path d="M261.5,117 L266,111.5 L270.7,117 Z" fill="none" stroke="#e8f0fa" stroke-width="0.8"/><rect x="262.5" y="118.8" width="7.4" height="2" fill="#e8f0fa"/><circle cx="266.3" cy="116.6" r="0.9" fill="#e0304a"/>
</g>
<text x="236.2" y="133.8" font-size="6.6" font-weight="bold" fill="#2ba3dc" textLength="58.6" lengthAdjust="spacingAndGlyphs">CASSIOPE</text>
</g>
<g>
<rect x="2034" y="5" width="300" height="122" fill="#fefefe"/>
<clipPath id="esaglobe"><circle cx="2084.6" cy="65" r="49.9"/></clipPath>
<clipPath id="esae"><circle cx="2112.7" cy="67.9" r="18.8"/></clipPath>
<g clip-path="url(#esaglobe)" fill="none" stroke="#4782cc" stroke-width="1.15">
<circle cx="2112.7" cy="67.9" r="12.00"/>
<circle cx="2112.7" cy="67.9" r="14.10"/>
<circle cx="2112.7" cy="67.9" r="16.20"/>
<circle cx="2112.7" cy="67.9" r="18.30"/>
<circle cx="2112.7" cy="67.9" r="20.40"/>
<circle cx="2112.7" cy="67.9" r="22.50"/>
<circle cx="2112.7" cy="67.9" r="24.60"/>
<circle cx="2112.7" cy="67.9" r="26.70"/>
<circle cx="2112.7" cy="67.9" r="28.80"/>
<circle cx="2112.7" cy="67.9" r="30.90"/>
<circle cx="2112.7" cy="67.9" r="33.00"/>
<circle cx="2112.7" cy="67.9" r="35.10"/>
<circle cx="2112.7" cy="67.9" r="37.20"/>
<circle cx="2112.7" cy="67.9" r="39.30"/>
<circle cx="2112.7" cy="67.9" r="41.40"/>
<circle cx="2112.7" cy="67.9" r="43.50"/>
<circle cx="2112.7" cy="67.9" r="45.60"/>
<circle cx="2112.7" cy="67.9" r="47.70"/>
<circle cx="2112.7" cy="67.9" r="49.80"/>
<circle cx="2112.7" cy="67.9" r="51.90"/>
<circle cx="2112.7" cy="67.9" r="54.00"/>
<circle cx="2112.7" cy="67.9" r="56.10"/>
<circle cx="2112.7" cy="67.9" r="58.20"/>
<circle cx="2112.7" cy="67.9" r="60.30"/>
<circle cx="2112.7" cy="67.9" r="62.40"/>
<circle cx="2112.7" cy="67.9" r="64.50"/>
<circle cx="2112.7" cy="67.9" r="66.60"/>
<circle cx="2112.7" cy="67.9" r="68.70"/>
<circle cx="2112.7" cy="67.9" r="70.80"/>
<circle cx="2112.7" cy="67.9" r="72.90"/>
<circle cx="2112.7" cy="67.9" r="75.00"/>
<circle cx="2112.7" cy="67.9" r="77.10"/>
<circle cx="2112.7" cy="67.9" r="79.20"/>
<circle cx="2112.7" cy="67.9" r="81.30"/>
<circle cx="2112.7" cy="67.9" r="83.40"/>
<circle cx="2112.7" cy="67.9" r="85.50"/>
<circle cx="2112.7" cy="67.9" r="87.60"/>
<circle cx="2112.7" cy="67.9" r="89.70"/>
<circle cx="2112.7" cy="67.9" r="91.80"/>
<circle cx="2112.7" cy="67.9" r="93.90"/>
<circle cx="2112.7" cy="67.9" r="96.00"/>
<circle cx="2112.7" cy="67.9" r="98.10"/>
<circle cx="2112.7" cy="67.9" r="100.20"/>
<circle cx="2112.7" cy="67.9" r="102.30"/>
<circle cx="2112.7" cy="67.9" r="104.40"/>
<circle cx="2112.7" cy="67.9" r="106.50"/>
<circle cx="2112.7" cy="67.9" r="108.60"/>
<circle cx="2112.7" cy="67.9" r="110.70"/>
</g>
<g clip-path="url(#esaglobe)"><circle cx="2108.3" cy="67.3" r="27.3" fill="#fefefe"/></g>
<circle cx="2057.1" cy="65" r="6.6" fill="#fefefe"/>
<g clip-path="url(#esaglobe)"><g clip-path="url(#esae)" stroke="#4782cc" stroke-width="1.15" fill="none">
<path d="M2092,56.0 Q2112.7,45.0 2134,56.0"/>
<path d="M2092,58.1 Q2112.7,47.1 2134,58.1"/>
<path d="M2092,60.2 Q2112.7,49.2 2134,60.2"/>
<path d="M2092,62.3 Q2112.7,51.3 2134,62.3"/>
<path d="M2092,64.4 Q2112.7,53.4 2134,64.4"/>
<path d="M2092,66.5 Q2112.7,55.5 2134,66.5"/>
<line x1="2092" y1="62.6" x2="2134" y2="62.6"/>
<line x1="2092" y1="64.7" x2="2134" y2="64.7"/>
<line x1="2092" y1="66.8" x2="2134" y2="66.8"/>
<line x1="2092" y1="68.9" x2="2134" y2="68.9"/>
<line x1="2092" y1="71.0" x2="2134" y2="71.0"/>
<line x1="2092" y1="73.1" x2="2134" y2="73.1"/>
<line x1="2092" y1="75.2" x2="2134" y2="75.2"/>
<line x1="2092" y1="77.3" x2="2134" y2="77.3"/>
<line x1="2092" y1="79.4" x2="2134" y2="79.4"/>
<line x1="2092" y1="81.5" x2="2134" y2="81.5"/>
<line x1="2092" y1="83.6" x2="2134" y2="83.6"/>
<line x1="2092" y1="85.7" x2="2134" y2="85.7"/>
<line x1="2092" y1="87.8" x2="2134" y2="87.8"/>
</g>
<rect x="2101" y="63.2" width="34" height="6.6" fill="#fefefe"/>
<path d="M2094,67.9 a18.8,18.8 0 0 1 6,-13.5 l3.5,4 a13,13 0 0 0 -0.5,21 l-3,4 a18.8,18.8 0 0 1 -6,-15.5 z" fill="#fefefe"/>
</g>
<text x="2140.5" y="95.4" font-size="110.8" font-weight="bold" fill="#1a2a8a" textLength="175" lengthAdjust="spacingAndGlyphs">esa</text>
</g>
</svg>
</body></html>
